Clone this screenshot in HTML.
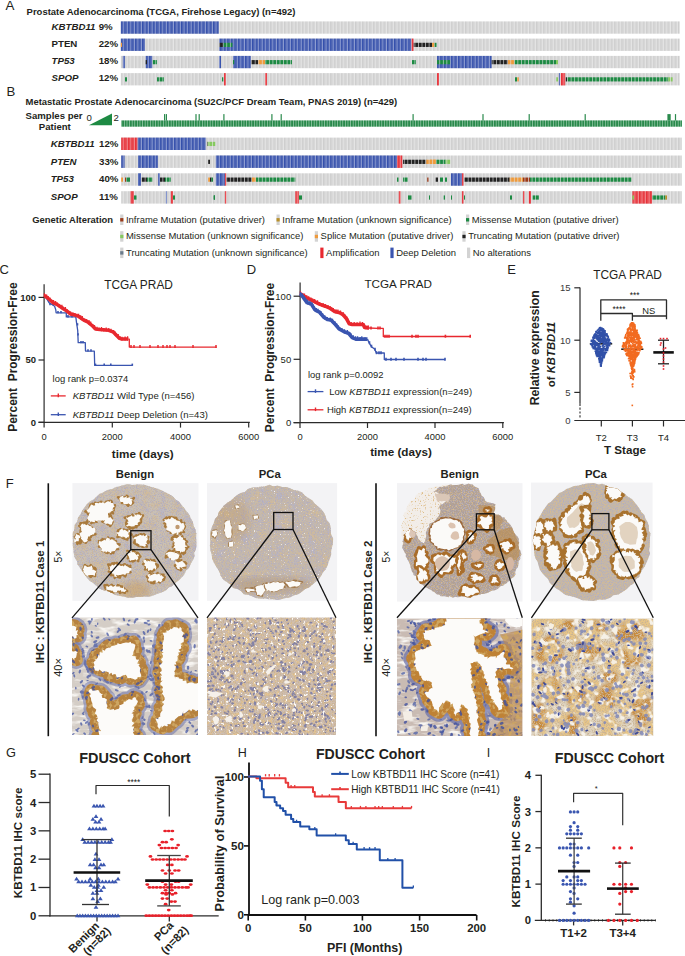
<!DOCTYPE html>
<html><head><meta charset="utf-8"><style>
html,body{margin:0;padding:0;background:#fff;width:685px;height:956px;overflow:hidden}
svg text{font-family:"Liberation Sans", sans-serif}
</style></head><body>
<svg width="685" height="956" viewBox="0 0 685 956" style="display:block" font-family='"Liberation Sans", sans-serif'>
<defs>
<pattern id="gstripe" width="3.55" height="20" patternUnits="userSpaceOnUse"><rect width="3.55" height="20" fill="#cecece"/><rect x="1.1" width="1.6" height="20" fill="#d8d8d8"/><rect x="2.95" width="0.6" height="20" fill="#f0f0f0"/></pattern>
<pattern id="bstripe" width="3.55" height="20" patternUnits="userSpaceOnUse"><rect width="3.55" height="20" fill="#3450ac"/><rect x="1.1" width="1.6" height="20" fill="#5369b6"/><rect x="2.95" width="0.6" height="20" fill="#b8c2e4"/></pattern>
<pattern id="rstripe" width="3.55" height="20" patternUnits="userSpaceOnUse"><rect width="3.55" height="20" fill="#e62e36"/><rect x="1.1" width="1.6" height="20" fill="#ea5056"/><rect x="2.95" width="0.6" height="20" fill="#f6b4b6"/></pattern>
<pattern id="mgreen" width="3.55" height="20" patternUnits="userSpaceOnUse"><rect width="3.55" height="20" fill="#1d8a43"/><rect x="2.95" width="0.6" height="20" fill="#e6e6e6"/></pattern>
<pattern id="mlgreen" width="3.55" height="20" patternUnits="userSpaceOnUse"><rect width="3.55" height="20" fill="#86c95f"/><rect x="2.95" width="0.6" height="20" fill="#e6e6e6"/></pattern>
<pattern id="mblack" width="3.55" height="20" patternUnits="userSpaceOnUse"><rect width="3.55" height="20" fill="#222222"/><rect x="2.95" width="0.6" height="20" fill="#e6e6e6"/></pattern>
<pattern id="morange" width="3.55" height="20" patternUnits="userSpaceOnUse"><rect width="3.55" height="20" fill="#ee9a3c"/><rect x="2.95" width="0.6" height="20" fill="#e6e6e6"/></pattern>
<pattern id="mdred" width="3.55" height="20" patternUnits="userSpaceOnUse"><rect width="3.55" height="20" fill="#9a3a1a"/><rect x="2.95" width="0.6" height="20" fill="#e6e6e6"/></pattern>
<pattern id="molive" width="3.55" height="20" patternUnits="userSpaceOnUse"><rect width="3.55" height="20" fill="#b8902a"/><rect x="2.95" width="0.6" height="20" fill="#e6e6e6"/></pattern>
<pattern id="sstripe" width="2.6" height="20" patternUnits="userSpaceOnUse"><rect width="2.6" height="20" fill="#2a8a4c"/><rect x="1.9" width="0.7" height="20" fill="#9fcfb0"/></pattern>

<filter id="fGrain" x="0" y="0" width="100%" height="100%"><feTurbulence type="fractalNoise" baseFrequency="0.9" numOctaves="2" seed="4"/><feColorMatrix type="matrix" values="0 0 0 0 0.6  0 0 0 0 0.46  0 0 0 0 0.3  4.5 0 0 0 -2.05"/><feComposite in2="SourceGraphic" operator="in"/></filter>
<filter id="fBlue" x="0" y="0" width="100%" height="100%"><feTurbulence type="fractalNoise" baseFrequency="0.85" numOctaves="2" seed="11"/><feColorMatrix type="matrix" values="0 0 0 0 0.42  0 0 0 0 0.4  0 0 0 0 0.56  0 4.5 0 0 -2.1"/><feComposite in2="SourceGraphic" operator="in"/></filter>
<filter id="fWhiteS" x="0" y="0" width="100%" height="100%"><feTurbulence type="fractalNoise" baseFrequency="0.7" numOctaves="2" seed="22"/><feColorMatrix type="matrix" values="0 0 0 0 0.96  0 0 0 0 0.95  0 0 0 0 0.94  0 0 6 0 -4.15"/><feComposite in2="SourceGraphic" operator="in"/></filter>
<filter id="fBrown2" x="0" y="0" width="100%" height="100%"><feTurbulence type="fractalNoise" baseFrequency="0.75" numOctaves="2" seed="5"/><feColorMatrix type="matrix" values="0 0 0 0 0.7  0 0 0 0 0.5  0 0 0 0 0.26  3.5 0 0 0 -1.65"/><feComposite in2="SourceGraphic" operator="in"/></filter>
<filter id="fBrownL" x="0" y="0" width="100%" height="100%"><feTurbulence type="fractalNoise" baseFrequency="0.3" numOctaves="2" seed="8"/><feColorMatrix type="matrix" values="0 0 0 0 0.78  0 0 0 0 0.55  0 0 0 0 0.28  5 0 0 0 -2.45"/><feComposite in2="SourceGraphic" operator="in"/></filter>
<filter id="fWhite" x="0" y="0" width="100%" height="100%"><feTurbulence type="fractalNoise" baseFrequency="0.35" numOctaves="2" seed="21"/><feColorMatrix type="matrix" values="0 0 0 0 0.97  0 0 0 0 0.95  0 0 0 0 0.93  0 0 9 0 -5.6"/><feComposite in2="SourceGraphic" operator="in"/></filter>
<filter id="fStroma" x="0" y="0" width="100%" height="100%"><feTurbulence type="fractalNoise" baseFrequency="0.06 0.2" numOctaves="3" seed="9"/><feColorMatrix type="matrix" values="0 0 0 0 0.93  0 0 0 0 0.91  0 0 0 0 0.88  4 0 0 0 -1.9"/><feComposite in2="SourceGraphic" operator="in"/></filter>
<filter id="fEpi" x="0" y="0" width="100%" height="100%"><feTurbulence type="fractalNoise" baseFrequency="0.25" numOctaves="2" seed="19"/><feColorMatrix type="matrix" values="0 0 0 0 0.62  0 0 0 0 0.38  0 0 0 0 0.12  6 0 0 0 -3.0"/><feComposite in2="SourceGraphic" operator="in"/></filter>
<filter id="fOrange" x="0" y="0" width="100%" height="100%"><feTurbulence type="fractalNoise" baseFrequency="0.07" numOctaves="3" seed="25"/><feColorMatrix type="matrix" values="0 0 0 0 0.8  0 0 0 0 0.56  0 0 0 0 0.24  6 0 0 0 -2.7"/><feComposite in2="SourceGraphic" operator="in"/></filter>
<filter id="fCream" x="0" y="0" width="100%" height="100%"><feTurbulence type="fractalNoise" baseFrequency="0.15" numOctaves="2" seed="29"/><feColorMatrix type="matrix" values="0 0 0 0 0.92  0 0 0 0 0.88  0 0 0 0 0.8  0 0 6 0 -3.2"/><feComposite in2="SourceGraphic" operator="in"/></filter>
<filter id="fFrag" x="0" y="0" width="100%" height="100%"><feTurbulence type="fractalNoise" baseFrequency="0.6" numOctaves="2" seed="41"/><feColorMatrix type="matrix" values="0 0 0 0 0.72  0 0 0 0 0.5  0 0 0 0 0.24  5 0 0 0 -3.0"/><feComposite in2="SourceGraphic" operator="in"/></filter>
<filter id="fGrain2" x="0" y="0" width="100%" height="100%"><feTurbulence type="fractalNoise" baseFrequency="0.9" numOctaves="2" seed="4"/><feColorMatrix type="matrix" values="0 0 0 0 0.6  0 0 0 0 0.47  0 0 0 0 0.33  4.5 0 0 0 -2.2"/><feComposite in2="SourceGraphic" operator="in"/></filter>
<filter id="fPatchB" x="0" y="0" width="100%" height="100%"><feTurbulence type="fractalNoise" baseFrequency="0.1" numOctaves="3" seed="51"/><feColorMatrix type="matrix" values="0 0 0 0 0.64  0 0 0 0 0.5  0 0 0 0 0.32  3.2 0 0 0 -1.55"/><feComposite in2="SourceGraphic" operator="in"/></filter>
<filter id="fPatchU" x="0" y="0" width="100%" height="100%"><feTurbulence type="fractalNoise" baseFrequency="0.12" numOctaves="3" seed="53"/><feColorMatrix type="matrix" values="0 0 0 0 0.46  0 0 0 0 0.45  0 0 0 0 0.58  0 3.0 0 0 -1.6"/><feComposite in2="SourceGraphic" operator="in"/></filter>
<filter id="fBlue2" x="0" y="0" width="100%" height="100%"><feTurbulence type="fractalNoise" baseFrequency="0.85" numOctaves="2" seed="12"/><feColorMatrix type="matrix" values="0 0 0 0 0.45  0 0 0 0 0.42  0 0 0 0 0.52  0 4 0 0 -1.95"/><feComposite in2="SourceGraphic" operator="in"/></filter>
<filter id="fBlueD" x="0" y="0" width="100%" height="100%"><feTurbulence type="fractalNoise" baseFrequency="0.3" numOctaves="2" seed="17"/><feColorMatrix type="matrix" values="0 0 0 0 0.3  0 0 0 0 0.34  0 0 0 0 0.62  0 8 0 0 -4.5"/><feComposite in2="SourceGraphic" operator="in"/></filter>
<filter id="fBlueL" x="0" y="0" width="100%" height="100%"><feTurbulence type="fractalNoise" baseFrequency="0.28" numOctaves="2" seed="13"/><feColorMatrix type="matrix" values="0 0 0 0 0.38  0 0 0 0 0.42  0 0 0 0 0.7  0 8 0 0 -4.4"/><feComposite in2="SourceGraphic" operator="in"/></filter>
<filter id="fBlur1" x="-10%" y="-10%" width="120%" height="120%"><feGaussianBlur stdDeviation="1.6"/></filter>
<filter id="fSoft" x="-2%" y="-2%" width="104%" height="104%"><feGaussianBlur stdDeviation="0.45"/></filter>
<filter id="fBlur"><feGaussianBlur stdDeviation="3"/></filter>
</defs>
<rect width="685" height="956" fill="#ffffff"/>
<text x="5.60" y="10.30" font-size="13.4" font-weight="normal" font-style="normal" text-anchor="start" fill="#231f20" >A</text>
<text x="26.60" y="15.00" font-size="9.47" font-weight="bold" font-style="normal" text-anchor="start" fill="#231f20" >Prostate Adenocarcinoma (TCGA, Firehose Legacy) (n=492)</text>
<text x="51.50" y="29.70" font-size="9.7" font-weight="bold" font-style="italic" text-anchor="start" fill="#231f20" >KBTBD11</text>
<text x="98.70" y="29.70" font-size="9.7" font-weight="bold" font-style="normal" text-anchor="start" fill="#231f20" >9%</text>
<text x="51.50" y="46.90" font-size="9.7" font-weight="bold" font-style="normal" text-anchor="start" fill="#231f20" >PTEN</text>
<text x="98.70" y="46.90" font-size="9.7" font-weight="bold" font-style="normal" text-anchor="start" fill="#231f20" >22%</text>
<text x="51.50" y="64.20" font-size="9.7" font-weight="bold" font-style="italic" text-anchor="start" fill="#231f20" >TP53</text>
<text x="98.70" y="64.20" font-size="9.7" font-weight="bold" font-style="normal" text-anchor="start" fill="#231f20" >18%</text>
<text x="51.50" y="81.40" font-size="9.7" font-weight="bold" font-style="italic" text-anchor="start" fill="#231f20" >SPOP</text>
<text x="98.70" y="81.40" font-size="9.7" font-weight="bold" font-style="normal" text-anchor="start" fill="#231f20" >12%</text>
<rect x="120.80" y="21.40" width="558.90" height="12.30" fill="url(#gstripe)" />
<rect x="120.80" y="21.40" width="98.00" height="12.30" fill="url(#bstripe)" />
<rect x="120.80" y="38.60" width="558.90" height="12.30" fill="url(#gstripe)" />
<rect x="120.80" y="38.60" width="24.20" height="12.30" fill="url(#bstripe)" />
<rect x="120.80" y="42.78" width="1.20" height="4.18" fill="#ee9a3c" />
<rect x="219.00" y="38.60" width="192.50" height="12.30" fill="url(#bstripe)" />
<rect x="219.00" y="42.78" width="4.30" height="4.18" fill="url(#mblack)" />
<rect x="223.30" y="42.78" width="9.10" height="4.18" fill="url(#mgreen)" />
<rect x="411.50" y="38.60" width="2.00" height="12.30" fill="url(#rstripe)" />
<rect x="413.70" y="42.78" width="18.40" height="4.18" fill="url(#mblack)" />
<rect x="432.10" y="42.78" width="2.10" height="4.18" fill="#ee9a3c" />
<rect x="434.70" y="42.78" width="1.80" height="4.18" fill="#1d8a43" />
<rect x="120.80" y="55.90" width="558.90" height="12.30" fill="url(#gstripe)" />
<rect x="122.80" y="55.90" width="2.10" height="12.30" fill="url(#bstripe)" />
<rect x="145.70" y="55.90" width="6.60" height="12.30" fill="url(#bstripe)" />
<rect x="145.70" y="60.08" width="1.30" height="4.18" fill="#222222" />
<rect x="152.70" y="60.08" width="4.30" height="4.18" fill="url(#mgreen)" />
<rect x="219.00" y="55.90" width="2.00" height="12.30" fill="url(#bstripe)" />
<rect x="233.00" y="55.90" width="17.80" height="12.30" fill="url(#bstripe)" />
<rect x="233.00" y="60.08" width="1.20" height="4.18" fill="#1d8a43" />
<rect x="251.00" y="60.08" width="7.00" height="4.18" fill="url(#mblack)" />
<rect x="258.00" y="60.08" width="7.00" height="4.18" fill="url(#morange)" />
<rect x="265.00" y="60.08" width="27.00" height="4.18" fill="url(#mgreen)" />
<rect x="412.00" y="60.08" width="4.00" height="4.18" fill="url(#mgreen)" />
<rect x="437.00" y="55.90" width="54.70" height="12.30" fill="url(#bstripe)" />
<rect x="437.00" y="60.08" width="13.30" height="4.18" fill="url(#mgreen)" />
<rect x="491.70" y="60.08" width="16.10" height="4.18" fill="url(#mblack)" />
<rect x="507.80" y="60.08" width="6.70" height="4.18" fill="url(#morange)" />
<rect x="514.50" y="60.08" width="41.50" height="4.18" fill="url(#mgreen)" />
<rect x="556.00" y="60.08" width="2.00" height="4.18" fill="#86c95f" />
<rect x="120.80" y="73.10" width="558.90" height="12.30" fill="url(#gstripe)" />
<rect x="125.00" y="77.28" width="2.00" height="4.18" fill="#1d8a43" />
<rect x="157.00" y="77.28" width="7.00" height="4.18" fill="url(#mgreen)" />
<rect x="222.00" y="77.28" width="1.30" height="4.18" fill="#1d8a43" />
<rect x="224.00" y="73.10" width="1.80" height="12.30" fill="url(#rstripe)" />
<rect x="265.00" y="73.10" width="2.00" height="12.30" fill="url(#rstripe)" />
<rect x="437.00" y="73.10" width="2.00" height="12.30" fill="url(#rstripe)" />
<rect x="515.00" y="77.28" width="2.00" height="4.18" fill="#1d8a43" />
<rect x="517.30" y="77.28" width="1.50" height="4.18" fill="#ee9a3c" />
<rect x="556.30" y="77.28" width="1.70" height="4.18" fill="#86c95f" />
<rect x="558.90" y="73.10" width="1.00" height="12.30" fill="url(#bstripe)" />
<rect x="560.80" y="73.10" width="4.40" height="12.30" fill="url(#rstripe)" />
<rect x="565.80" y="77.28" width="1.20" height="4.18" fill="#222222" />
<rect x="567.00" y="77.28" width="101.30" height="4.18" fill="url(#mgreen)" />
<rect x="668.30" y="77.28" width="4.30" height="4.18" fill="url(#mlgreen)" />
<text x="6.60" y="95.60" font-size="13.2" font-weight="normal" font-style="normal" text-anchor="start" fill="#231f20" >B</text>
<text x="25.50" y="104.80" font-size="9.47" font-weight="bold" font-style="normal" text-anchor="start" fill="#231f20" >Metastatic Prostate Adenocarcinoma (SU2C/PCF Dream Team, PNAS 2019) (n=429)</text>
<text x="25.50" y="118.70" font-size="9.6" font-weight="bold" font-style="normal" text-anchor="start" fill="#231f20" >Samples per</text>
<text x="38.80" y="129.60" font-size="9.6" font-weight="bold" font-style="normal" text-anchor="start" fill="#231f20" >Patient</text>
<text x="86.50" y="120.80" font-size="9.6" font-weight="normal" font-style="normal" text-anchor="start" fill="#231f20" >0</text>
<polygon points="88.9,125.3 112,125.3 112,113.6" fill="#1d8a43"/>
<text x="113.40" y="120.80" font-size="9.6" font-weight="normal" font-style="normal" text-anchor="start" fill="#231f20" >2</text>
<rect x="121.20" y="120.40" width="560.80" height="6.30" fill="url(#sstripe)" />
<rect x="164.00" y="114.10" width="1.20" height="6.50" fill="#2a8a4c" />
<rect x="165.80" y="114.10" width="1.20" height="6.50" fill="#2a8a4c" />
<rect x="195.40" y="114.10" width="1.20" height="6.50" fill="#2a8a4c" />
<rect x="198.60" y="114.10" width="1.20" height="6.50" fill="#2a8a4c" />
<rect x="223.30" y="114.10" width="1.20" height="6.50" fill="#2a8a4c" />
<rect x="271.30" y="114.10" width="1.20" height="6.50" fill="#2a8a4c" />
<rect x="280.60" y="114.10" width="1.20" height="6.50" fill="#2a8a4c" />
<rect x="412.50" y="114.10" width="1.20" height="6.50" fill="#2a8a4c" />
<rect x="482.40" y="114.10" width="1.20" height="6.50" fill="#2a8a4c" />
<rect x="528.60" y="114.10" width="1.20" height="6.50" fill="#2a8a4c" />
<rect x="584.60" y="114.10" width="1.20" height="6.50" fill="#2a8a4c" />
<rect x="667.40" y="114.10" width="3.30" height="6.50" fill="#2a8a4c" />
<rect x="674.90" y="114.10" width="1.20" height="6.50" fill="#2a8a4c" />
<text x="50.70" y="146.70" font-size="9.7" font-weight="bold" font-style="italic" text-anchor="start" fill="#231f20" >KBTBD11</text>
<text x="99.10" y="146.70" font-size="9.7" font-weight="bold" font-style="normal" text-anchor="start" fill="#231f20" >12%</text>
<text x="50.70" y="164.60" font-size="9.7" font-weight="bold" font-style="italic" text-anchor="start" fill="#231f20" >PTEN</text>
<text x="99.10" y="164.60" font-size="9.7" font-weight="bold" font-style="normal" text-anchor="start" fill="#231f20" >33%</text>
<text x="50.70" y="182.40" font-size="9.7" font-weight="bold" font-style="italic" text-anchor="start" fill="#231f20" >TP53</text>
<text x="99.10" y="182.40" font-size="9.7" font-weight="bold" font-style="normal" text-anchor="start" fill="#231f20" >40%</text>
<text x="50.70" y="200.30" font-size="9.7" font-weight="bold" font-style="italic" text-anchor="start" fill="#231f20" >SPOP</text>
<text x="99.10" y="200.30" font-size="9.7" font-weight="bold" font-style="normal" text-anchor="start" fill="#231f20" >11%</text>
<rect x="121.20" y="137.60" width="560.80" height="12.40" fill="url(#gstripe)" />
<rect x="121.20" y="137.60" width="16.50" height="12.40" fill="url(#rstripe)" />
<rect x="137.70" y="137.60" width="68.30" height="12.40" fill="url(#bstripe)" />
<rect x="207.30" y="141.82" width="0.50" height="4.22" fill="#222222" />
<rect x="207.80" y="141.82" width="7.50" height="4.22" fill="url(#mlgreen)" />
<rect x="121.20" y="155.50" width="560.80" height="12.40" fill="url(#gstripe)" />
<rect x="121.20" y="155.50" width="3.40" height="12.40" fill="url(#bstripe)" />
<rect x="138.00" y="155.50" width="19.90" height="12.40" fill="url(#bstripe)" />
<rect x="208.20" y="159.72" width="1.80" height="4.22" fill="#222222" />
<rect x="215.80" y="155.50" width="181.20" height="12.40" fill="url(#bstripe)" />
<rect x="397.00" y="155.50" width="5.30" height="12.40" fill="url(#rstripe)" />
<rect x="403.00" y="159.72" width="23.30" height="4.22" fill="url(#mblack)" />
<rect x="426.30" y="159.72" width="9.70" height="4.22" fill="url(#morange)" />
<rect x="430.00" y="159.72" width="6.00" height="4.22" fill="url(#morange)" />
<rect x="436.00" y="159.72" width="9.60" height="4.22" fill="url(#mgreen)" />
<rect x="445.60" y="159.72" width="4.70" height="4.22" fill="url(#mlgreen)" />
<rect x="121.20" y="173.30" width="560.80" height="12.40" fill="url(#gstripe)" />
<rect x="121.20" y="177.52" width="1.80" height="4.22" fill="#ee9a3c" />
<rect x="125.00" y="177.52" width="1.00" height="4.22" fill="#9a3a1a" />
<rect x="126.50" y="177.52" width="3.50" height="4.22" fill="#1d8a43" />
<rect x="138.00" y="173.30" width="3.00" height="12.40" fill="url(#bstripe)" />
<rect x="141.50" y="177.52" width="5.50" height="4.22" fill="url(#mblack)" />
<rect x="147.00" y="177.52" width="5.50" height="4.22" fill="url(#mgreen)" />
<rect x="158.00" y="173.30" width="2.00" height="12.40" fill="url(#bstripe)" />
<rect x="160.00" y="177.52" width="5.00" height="4.22" fill="url(#mblack)" />
<rect x="165.00" y="177.52" width="6.00" height="4.22" fill="url(#mgreen)" />
<rect x="208.20" y="177.52" width="1.80" height="4.22" fill="#ee9a3c" />
<rect x="210.00" y="177.52" width="1.50" height="4.22" fill="#222222" />
<rect x="211.50" y="177.52" width="1.50" height="4.22" fill="#1d8a43" />
<rect x="215.80" y="173.30" width="9.10" height="12.40" fill="url(#bstripe)" />
<rect x="224.90" y="173.30" width="1.40" height="12.40" fill="url(#rstripe)" />
<rect x="226.30" y="177.52" width="25.70" height="4.22" fill="url(#mblack)" />
<rect x="252.00" y="177.52" width="4.00" height="4.22" fill="url(#morange)" />
<rect x="256.00" y="177.52" width="39.30" height="4.22" fill="url(#mgreen)" />
<rect x="397.00" y="177.52" width="1.50" height="4.22" fill="#1d8a43" />
<rect x="403.00" y="177.52" width="5.00" height="4.22" fill="url(#mgreen)" />
<rect x="427.20" y="177.52" width="1.30" height="4.22" fill="#9a3a1a" />
<rect x="435.70" y="177.52" width="2.30" height="4.22" fill="#222222" />
<rect x="440.00" y="177.52" width="3.00" height="4.22" fill="#1d8a43" />
<rect x="445.00" y="177.52" width="2.00" height="4.22" fill="#1d8a43" />
<rect x="450.90" y="173.30" width="11.00" height="12.40" fill="url(#bstripe)" />
<rect x="461.90" y="173.30" width="1.60" height="12.40" fill="url(#rstripe)" />
<rect x="464.00" y="177.52" width="45.70" height="4.22" fill="url(#mblack)" />
<rect x="509.70" y="177.52" width="13.30" height="4.22" fill="url(#morange)" />
<rect x="523.00" y="177.52" width="7.00" height="4.22" fill="url(#mdred)" />
<rect x="530.00" y="177.52" width="101.80" height="4.22" fill="url(#mgreen)" />
<rect x="121.20" y="191.20" width="560.80" height="12.40" fill="url(#gstripe)" />
<rect x="130.40" y="191.20" width="3.40" height="12.40" fill="url(#rstripe)" />
<rect x="134.00" y="195.42" width="2.50" height="4.22" fill="#1d8a43" />
<rect x="165.90" y="191.20" width="1.10" height="12.40" fill="url(#bstripe)" />
<rect x="170.80" y="191.20" width="2.20" height="12.40" fill="url(#rstripe)" />
<rect x="173.00" y="195.42" width="2.00" height="4.22" fill="#1d8a43" />
<rect x="213.60" y="195.42" width="1.40" height="4.22" fill="#1d8a43" />
<rect x="213.90" y="195.42" width="1.10" height="4.22" fill="#1d8a43" />
<rect x="224.90" y="191.20" width="1.40" height="12.40" fill="url(#rstripe)" />
<rect x="295.30" y="191.20" width="3.50" height="12.40" fill="url(#rstripe)" />
<rect x="299.00" y="195.42" width="3.00" height="4.22" fill="#1d8a43" />
<rect x="398.80" y="191.20" width="1.90" height="12.40" fill="url(#rstripe)" />
<rect x="408.00" y="195.42" width="3.50" height="4.22" fill="#1d8a43" />
<rect x="429.00" y="195.42" width="1.00" height="4.22" fill="#1d8a43" />
<rect x="443.70" y="195.42" width="1.30" height="4.22" fill="#1d8a43" />
<rect x="451.00" y="195.42" width="1.00" height="4.22" fill="#1d8a43" />
<rect x="461.90" y="191.20" width="1.60" height="12.40" fill="url(#rstripe)" />
<rect x="464.00" y="195.42" width="1.00" height="4.22" fill="#1d8a43" />
<rect x="510.00" y="195.42" width="2.00" height="4.22" fill="#1d8a43" />
<rect x="523.00" y="191.20" width="1.50" height="12.40" fill="url(#rstripe)" />
<rect x="528.70" y="191.20" width="2.30" height="12.40" fill="url(#rstripe)" />
<rect x="532.50" y="195.42" width="6.50" height="4.22" fill="url(#mgreen)" />
<rect x="632.40" y="191.20" width="19.70" height="12.40" fill="url(#rstripe)" />
<rect x="632.40" y="195.42" width="1.60" height="4.22" fill="#86c95f" />
<rect x="652.10" y="195.42" width="13.20" height="4.22" fill="url(#mgreen)" />
<rect x="665.30" y="195.42" width="1.70" height="4.22" fill="#b8902a" />
<text x="32.20" y="222.50" font-size="9.45" font-weight="bold" font-style="normal" text-anchor="start" fill="#231f20" >Genetic Alteration</text>
<rect x="120.20" y="214.50" width="3.20" height="10.50" fill="#d3d3d3" />
<rect x="120.20" y="218.10" width="3.20" height="3.40" fill="#9a3a1a" />
<text x="126.00" y="222.50" font-size="9.45" font-weight="normal" font-style="normal" text-anchor="start" fill="#231f20" >Inframe Mutation (putative driver)</text>
<rect x="276.50" y="214.50" width="3.20" height="10.50" fill="#d3d3d3" />
<rect x="276.50" y="218.10" width="3.20" height="3.40" fill="#b8902a" />
<text x="282.30" y="222.50" font-size="9.45" font-weight="normal" font-style="normal" text-anchor="start" fill="#231f20" >Inframe Mutation (unknown significance)</text>
<rect x="466.00" y="214.50" width="3.20" height="10.50" fill="#d3d3d3" />
<rect x="466.00" y="218.10" width="3.20" height="3.40" fill="#1d8a43" />
<text x="471.80" y="222.50" font-size="9.45" font-weight="normal" font-style="normal" text-anchor="start" fill="#231f20" >Missense Mutation (putative driver)</text>
<rect x="120.20" y="231.20" width="3.20" height="10.50" fill="#d3d3d3" />
<rect x="120.20" y="234.80" width="3.20" height="3.40" fill="#86c95f" />
<text x="126.00" y="239.20" font-size="9.45" font-weight="normal" font-style="normal" text-anchor="start" fill="#231f20" >Missense Mutation (unknown significance)</text>
<rect x="314.80" y="231.20" width="3.20" height="10.50" fill="#d3d3d3" />
<rect x="314.80" y="234.80" width="3.20" height="3.40" fill="#ee9a3c" />
<text x="320.60" y="239.20" font-size="9.45" font-weight="normal" font-style="normal" text-anchor="start" fill="#231f20" >Splice Mutation (putative driver)</text>
<rect x="462.40" y="231.20" width="3.20" height="10.50" fill="#d3d3d3" />
<rect x="462.40" y="234.80" width="3.20" height="3.40" fill="#222222" />
<text x="468.20" y="239.20" font-size="9.45" font-weight="normal" font-style="normal" text-anchor="start" fill="#231f20" >Truncating Mutation (putative driver)</text>
<rect x="120.20" y="247.60" width="3.20" height="10.50" fill="#d3d3d3" />
<rect x="120.20" y="251.20" width="3.20" height="3.40" fill="#6a7a8a" />
<text x="126.00" y="255.60" font-size="9.45" font-weight="normal" font-style="normal" text-anchor="start" fill="#231f20" >Truncating Mutation (unknown significance)</text>
<rect x="320.30" y="247.60" width="3.20" height="10.50" fill="#e8282f" />
<text x="326.10" y="255.60" font-size="9.45" font-weight="normal" font-style="normal" text-anchor="start" fill="#231f20" >Amplification</text>
<rect x="390.40" y="247.60" width="3.20" height="10.50" fill="#3a55b0" />
<text x="396.20" y="255.60" font-size="9.45" font-weight="normal" font-style="normal" text-anchor="start" fill="#231f20" >Deep Deletion</text>
<rect x="467.00" y="247.60" width="3.20" height="10.50" fill="#d3d3d3" />
<text x="472.80" y="255.60" font-size="9.45" font-weight="normal" font-style="normal" text-anchor="start" fill="#231f20" >No alterations</text>
<text x="-0.40" y="274.30" font-size="13" font-weight="normal" font-style="normal" text-anchor="start" fill="#231f20" >C</text>
<line x1="44.10" y1="284.30" x2="44.10" y2="422.90" stroke="#2b2b2b" stroke-width="1.2" />
<line x1="38.50" y1="422.30" x2="249.80" y2="422.30" stroke="#2b2b2b" stroke-width="1.2" />
<line x1="38.50" y1="297.40" x2="44.10" y2="297.40" stroke="#2b2b2b" stroke-width="1.2" />
<text x="36.00" y="300.80" font-size="9.5" font-weight="bold" font-style="normal" text-anchor="end" fill="#231f20" >100</text>
<line x1="38.50" y1="360.00" x2="44.10" y2="360.00" stroke="#2b2b2b" stroke-width="1.2" />
<text x="36.00" y="363.40" font-size="9.5" font-weight="bold" font-style="normal" text-anchor="end" fill="#231f20" >50</text>
<line x1="38.50" y1="422.30" x2="44.10" y2="422.30" stroke="#2b2b2b" stroke-width="1.2" />
<text x="36.00" y="425.70" font-size="9.5" font-weight="bold" font-style="normal" text-anchor="end" fill="#231f20" >0</text>
<line x1="44.10" y1="422.30" x2="44.10" y2="427.60" stroke="#2b2b2b" stroke-width="1.2" />
<text x="44.10" y="439.70" font-size="9.4" font-weight="normal" font-style="normal" text-anchor="middle" fill="#231f20" >0</text>
<line x1="112.30" y1="422.30" x2="112.30" y2="427.60" stroke="#2b2b2b" stroke-width="1.2" />
<text x="112.30" y="439.70" font-size="9.4" font-weight="normal" font-style="normal" text-anchor="middle" fill="#231f20" >2000</text>
<line x1="180.50" y1="422.30" x2="180.50" y2="427.60" stroke="#2b2b2b" stroke-width="1.2" />
<text x="180.50" y="439.70" font-size="9.4" font-weight="normal" font-style="normal" text-anchor="middle" fill="#231f20" >4000</text>
<line x1="248.70" y1="422.30" x2="248.70" y2="427.60" stroke="#2b2b2b" stroke-width="1.2" />
<text x="248.70" y="439.70" font-size="9.4" font-weight="normal" font-style="normal" text-anchor="middle" fill="#231f20" >6000</text>
<text x="142.70" y="457.80" font-size="11.7" font-weight="bold" font-style="normal" text-anchor="middle" fill="#231f20" >time (days)</text>
<text transform="translate(17.40,357.10) rotate(-90)" font-size="11.94" font-weight="bold" text-anchor="middle" fill="#231f20" >Percent&#160;&#160;Progression-Free</text>
<text x="104.20" y="288.70" font-size="11.9" font-weight="normal" font-style="normal" text-anchor="start" fill="#231f20" >TCGA PRAD</text>
<text x="52.60" y="381.90" font-size="9.41" font-weight="normal" font-style="normal" text-anchor="start" fill="#231f20" >log rank p=0.0374</text>
<line x1="50.80" y1="395.90" x2="65.70" y2="395.90" stroke="#e8282f" stroke-width="1.3" />
<line x1="58.30" y1="393.60" x2="58.30" y2="397.20" stroke="#e8282f" stroke-width="1.4" />
<line x1="50.80" y1="414.70" x2="65.70" y2="414.70" stroke="#3a55b0" stroke-width="1.3" />
<line x1="58.30" y1="412.40" x2="58.30" y2="416.00" stroke="#3a55b0" stroke-width="1.4" />
<text x="72.7" y="399.4" font-size="9.54" fill="#231f20"><tspan font-style="italic">KBTBD11</tspan> Wild Type (n=456)</text>
<text x="72.7" y="418.2" font-size="9.54" fill="#231f20"><tspan font-style="italic">KBTBD11</tspan> Deep Deletion (n=43)</text>
<polyline points="44.40,296.00 47.30,299.70 49.00,302.60 52.40,304.80 54.60,306.20 55.80,309.90 56.10,312.80 66.30,312.80 66.30,316.90 75.80,316.90 76.50,322.30 77.70,330.30 78.20,342.70 85.30,342.70 85.50,351.10 94.30,351.10 94.70,365.40 132.30,365.40" fill="none" stroke="#3a55b0" stroke-width="1.3" stroke-linejoin="round" />
<line x1="50.00" y1="303.00" x2="50.00" y2="305.30" stroke="#3a55b0" stroke-width="1.6" />
<line x1="53.00" y1="303.00" x2="53.00" y2="305.30" stroke="#3a55b0" stroke-width="1.6" />
<line x1="58.00" y1="311.00" x2="58.00" y2="313.30" stroke="#3a55b0" stroke-width="1.6" />
<line x1="61.00" y1="311.00" x2="61.00" y2="313.30" stroke="#3a55b0" stroke-width="1.6" />
<line x1="68.00" y1="315.10" x2="68.00" y2="317.40" stroke="#3a55b0" stroke-width="1.6" />
<line x1="72.00" y1="315.10" x2="72.00" y2="317.40" stroke="#3a55b0" stroke-width="1.6" />
<line x1="77.50" y1="323.20" x2="77.50" y2="325.50" stroke="#3a55b0" stroke-width="1.6" />
<line x1="78.00" y1="333.20" x2="78.00" y2="335.50" stroke="#3a55b0" stroke-width="1.6" />
<line x1="81.00" y1="340.90" x2="81.00" y2="343.20" stroke="#3a55b0" stroke-width="1.6" />
<line x1="83.00" y1="340.90" x2="83.00" y2="343.20" stroke="#3a55b0" stroke-width="1.6" />
<line x1="88.00" y1="349.30" x2="88.00" y2="351.60" stroke="#3a55b0" stroke-width="1.6" />
<line x1="91.00" y1="349.30" x2="91.00" y2="351.60" stroke="#3a55b0" stroke-width="1.6" />
<line x1="95.50" y1="363.60" x2="95.50" y2="365.90" stroke="#3a55b0" stroke-width="1.6" />
<line x1="104.20" y1="363.60" x2="104.20" y2="365.90" stroke="#3a55b0" stroke-width="1.6" />
<line x1="110.80" y1="363.60" x2="110.80" y2="365.90" stroke="#3a55b0" stroke-width="1.6" />
<line x1="132.30" y1="363.60" x2="132.30" y2="365.90" stroke="#3a55b0" stroke-width="1.6" />
<polyline points="44.40,295.30 48.80,299.00 53.10,302.60 57.50,304.80 61.90,307.70 66.30,310.60 70.70,314.00 75.00,315.00 78.70,316.50 83.80,320.10 88.20,322.30 92.60,326.00 95.50,328.90 99.90,329.60 108.60,330.30 113.00,331.80 115.90,334.70 119.60,338.40 121.80,339.10 128.30,339.10" fill="none" stroke="#e8282f" stroke-width="3.5" stroke-linejoin="round" />
<path d="M44.4 293.3V296.8M46.6 294.5V298.7M48.2 296.1V300.0M50.0 297.4V301.5M52.1 299.9V303.3M53.5 300.0V304.3M55.6 301.1V305.3M57.1 302.3V306.1M59.4 304.0V307.5M61.9 304.8V309.2M63.3 306.8V310.2M65.4 307.1V311.5M67.2 309.2V312.8M69.0 310.9V314.2M70.6 311.6V315.4M72.9 312.4V316.0M74.9 312.9V316.5M77.1 313.7V317.3M78.6 313.7V318.0M80.7 315.3V319.4M82.3 316.0V320.5M84.7 318.6V322.1M86.7 318.9V323.0M89.0 320.0V324.4M90.7 321.6V325.9M92.7 324.0V327.6M94.5 325.0V329.4M97.0 326.7V330.6M99.5 327.7V331.0M101.5 327.0V331.2M103.8 327.9V331.4M106.2 327.5V331.6M108.8 328.1V331.9M111.0 328.7V332.6M113.5 329.9V333.8M115.1 331.5V335.4M116.3 333.3V336.6M118.2 334.0V338.5M120.2 336.3V340.1M122.0 336.7V340.6M125.1 336.4V340.6M127.6 336.3V340.6" stroke="#e8282f" stroke-width="1.3" fill="none"/>
<polyline points="128.30,339.10 129.30,339.10 129.30,347.10 216.60,347.10" fill="none" stroke="#e8282f" stroke-width="1.3" stroke-linejoin="round" />
<line x1="131.00" y1="345.00" x2="131.00" y2="348.00" stroke="#e8282f" stroke-width="1.5" />
<line x1="134.00" y1="345.00" x2="134.00" y2="348.00" stroke="#e8282f" stroke-width="1.5" />
<line x1="140.00" y1="345.00" x2="140.00" y2="348.00" stroke="#e8282f" stroke-width="1.5" />
<line x1="150.00" y1="345.00" x2="150.00" y2="348.00" stroke="#e8282f" stroke-width="1.5" />
<line x1="158.00" y1="345.00" x2="158.00" y2="348.00" stroke="#e8282f" stroke-width="1.5" />
<line x1="163.00" y1="345.00" x2="163.00" y2="348.00" stroke="#e8282f" stroke-width="1.5" />
<line x1="167.00" y1="345.00" x2="167.00" y2="348.00" stroke="#e8282f" stroke-width="1.5" />
<line x1="170.00" y1="345.00" x2="170.00" y2="348.00" stroke="#e8282f" stroke-width="1.5" />
<line x1="175.00" y1="345.00" x2="175.00" y2="348.00" stroke="#e8282f" stroke-width="1.5" />
<line x1="193.00" y1="345.00" x2="193.00" y2="348.00" stroke="#e8282f" stroke-width="1.5" />
<line x1="216.00" y1="345.00" x2="216.00" y2="348.00" stroke="#e8282f" stroke-width="1.5" />
<text x="246.70" y="274.30" font-size="13" font-weight="normal" font-style="normal" text-anchor="start" fill="#231f20" >D</text>
<line x1="300.10" y1="282.50" x2="300.10" y2="423.00" stroke="#2b2b2b" stroke-width="1.2" />
<line x1="293.60" y1="422.60" x2="503.90" y2="422.60" stroke="#2b2b2b" stroke-width="1.2" />
<line x1="293.60" y1="296.20" x2="300.10" y2="296.20" stroke="#2b2b2b" stroke-width="1.2" />
<text x="291.20" y="299.60" font-size="9.5" font-weight="normal" font-style="normal" text-anchor="end" fill="#231f20" >100</text>
<line x1="293.60" y1="359.30" x2="300.10" y2="359.30" stroke="#2b2b2b" stroke-width="1.2" />
<text x="291.20" y="362.70" font-size="9.5" font-weight="normal" font-style="normal" text-anchor="end" fill="#231f20" >50</text>
<line x1="293.60" y1="422.60" x2="300.10" y2="422.60" stroke="#2b2b2b" stroke-width="1.2" />
<text x="291.20" y="426.00" font-size="9.5" font-weight="normal" font-style="normal" text-anchor="end" fill="#231f20" >0</text>
<line x1="300.00" y1="422.60" x2="300.00" y2="428.00" stroke="#2b2b2b" stroke-width="1.2" />
<text x="300.00" y="439.70" font-size="9.4" font-weight="normal" font-style="normal" text-anchor="middle" fill="#231f20" >0</text>
<line x1="367.50" y1="422.60" x2="367.50" y2="428.00" stroke="#2b2b2b" stroke-width="1.2" />
<text x="367.50" y="439.70" font-size="9.4" font-weight="normal" font-style="normal" text-anchor="middle" fill="#231f20" >2000</text>
<line x1="435.00" y1="422.60" x2="435.00" y2="428.00" stroke="#2b2b2b" stroke-width="1.2" />
<text x="435.00" y="439.70" font-size="9.4" font-weight="normal" font-style="normal" text-anchor="middle" fill="#231f20" >4000</text>
<line x1="502.80" y1="422.60" x2="502.80" y2="428.00" stroke="#2b2b2b" stroke-width="1.2" />
<text x="502.80" y="439.70" font-size="9.4" font-weight="normal" font-style="normal" text-anchor="middle" fill="#231f20" >6000</text>
<text x="401.00" y="456.40" font-size="11.7" font-weight="bold" font-style="normal" text-anchor="middle" fill="#231f20" >time (days)</text>
<text transform="translate(274.20,357.50) rotate(-90)" font-size="11.94" font-weight="bold" text-anchor="middle" fill="#231f20" >Percent&#160;&#160;Progression-Free</text>
<text x="364.40" y="288.30" font-size="11.7" font-weight="normal" font-style="normal" text-anchor="start" fill="#231f20" >TCGA PRAD</text>
<text x="307.90" y="378.00" font-size="9.41" font-weight="normal" font-style="normal" text-anchor="start" fill="#231f20" >log rank p=0.0092</text>
<line x1="307.60" y1="391.60" x2="323.40" y2="391.60" stroke="#3a55b0" stroke-width="1.3" />
<line x1="315.50" y1="389.30" x2="315.50" y2="392.90" stroke="#3a55b0" stroke-width="1.4" />
<line x1="307.60" y1="409.80" x2="323.40" y2="409.80" stroke="#e8282f" stroke-width="1.3" />
<line x1="315.50" y1="407.50" x2="315.50" y2="411.10" stroke="#e8282f" stroke-width="1.4" />
<text x="329.3" y="394.8" font-size="9.48" fill="#231f20">Low <tspan font-style="italic">KBTBD11</tspan> expression(n=249)</text>
<text x="326.9" y="413" font-size="9.48" fill="#231f20">High <tspan font-style="italic">KBTBD11</tspan> expression(n=249)</text>
<polyline points="300.40,293.80 306.20,297.50 313.50,301.10 319.40,304.10 325.20,306.20 330.30,308.40 334.70,311.40 339.80,312.80 343.40,315.00 346.40,318.70 349.30,323.80 352.20,324.50 363.20,324.50 364.60,327.40 369.00,328.00" fill="none" stroke="#e8282f" stroke-width="3.6" stroke-linejoin="round" />
<path d="M300.4 290.9V295.4M303.0 293.6V297.0M304.5 293.6V298.0M306.8 295.2V299.4M308.7 296.2V300.4M311.0 297.4V301.5M312.7 298.4V302.3M314.7 299.1V303.3M317.5 300.2V304.7M319.7 301.9V305.8M321.7 303.1V306.5M323.3 303.2V307.1M325.3 304.0V307.8M328.0 305.0V309.0M330.3 306.3V310.0M331.7 307.2V311.0M333.3 308.0V312.0M336.0 309.2V313.4M337.9 309.4V313.9M340.5 310.6V314.9M343.1 312.1V316.4M344.9 314.7V318.5M346.8 316.4V321.0M347.7 318.3V322.6M349.1 321.0V325.0M351.2 321.9V325.9M354.2 322.1V326.1M357.1 322.3V326.1M360.0 321.6V326.1M362.4 322.0V326.1M364.2 323.8V328.1M365.9 325.5V329.2M368.1 325.2V329.5" stroke="#e8282f" stroke-width="1.3" fill="none"/>
<polyline points="369.00,328.00 377.80,328.40 383.30,328.40 383.30,336.50 470.40,336.50" fill="none" stroke="#e8282f" stroke-width="1.3" stroke-linejoin="round" />
<line x1="371.00" y1="326.40" x2="371.00" y2="329.40" stroke="#e8282f" stroke-width="1.6" />
<line x1="378.00" y1="326.40" x2="378.00" y2="329.40" stroke="#e8282f" stroke-width="1.6" />
<line x1="380.00" y1="326.40" x2="380.00" y2="329.40" stroke="#e8282f" stroke-width="1.6" />
<line x1="385.00" y1="334.70" x2="385.00" y2="337.70" stroke="#e8282f" stroke-width="1.6" />
<line x1="387.00" y1="334.70" x2="387.00" y2="337.70" stroke="#e8282f" stroke-width="1.6" />
<line x1="389.00" y1="334.70" x2="389.00" y2="337.70" stroke="#e8282f" stroke-width="1.6" />
<line x1="412.00" y1="334.70" x2="412.00" y2="337.70" stroke="#e8282f" stroke-width="1.6" />
<line x1="416.00" y1="334.70" x2="416.00" y2="337.70" stroke="#e8282f" stroke-width="1.6" />
<line x1="418.00" y1="334.70" x2="418.00" y2="337.70" stroke="#e8282f" stroke-width="1.6" />
<line x1="445.40" y1="334.70" x2="445.40" y2="337.70" stroke="#e8282f" stroke-width="1.6" />
<line x1="470.20" y1="334.70" x2="470.20" y2="337.70" stroke="#e8282f" stroke-width="1.6" />
<polyline points="300.40,293.80 303.30,297.50 307.00,302.60 311.30,304.10 315.00,309.90 319.40,312.10 323.70,317.20 327.40,319.40 331.00,320.10 335.40,324.50 339.10,328.90 344.20,331.80 348.60,333.30 352.20,337.60 355.90,339.10 367.50,339.10" fill="none" stroke="#3a55b0" stroke-width="3.6" stroke-linejoin="round" />
<path d="M300.4 291.7V295.4M301.9 293.5V297.3M303.5 295.2V299.4M304.5 297.4V300.8M306.2 299.4V303.1M307.7 299.8V304.4M309.9 300.8V305.2M311.8 302.3V306.4M312.8 303.9V308.0M314.4 306.5V310.5M316.4 308.0V312.2M318.0 308.7V313.0M320.0 310.7V314.4M321.1 311.3V315.7M322.6 313.3V317.5M324.8 315.2V319.5M327.4 317.1V321.0M330.2 317.6V321.5M332.5 318.8V323.2M333.8 321.0V324.5M335.2 321.4V325.9M336.7 323.5V327.7M338.1 325.3V329.3M339.7 327.0V330.8M341.9 328.0V332.1M344.5 329.3V333.5M347.4 330.1V334.5M349.8 332.1V336.3M351.0 333.3V337.8M353.3 335.2V339.6M355.6 336.3V340.6M357.6 336.3V340.7M360.1 337.0V340.7M361.8 336.3V340.7M365.0 337.2V340.7" stroke="#3a55b0" stroke-width="1.3" fill="none"/>
<polyline points="367.50,339.10 369.00,342.70 371.20,346.40 374.80,349.30 376.30,353.00 380.70,353.00 384.30,353.00 384.30,359.50 445.10,359.50" fill="none" stroke="#3a55b0" stroke-width="1.3" stroke-linejoin="round" />
<line x1="369.50" y1="341.20" x2="369.50" y2="344.20" stroke="#3a55b0" stroke-width="1.6" />
<line x1="371.50" y1="344.70" x2="371.50" y2="347.70" stroke="#3a55b0" stroke-width="1.6" />
<line x1="375.00" y1="347.70" x2="375.00" y2="350.70" stroke="#3a55b0" stroke-width="1.6" />
<line x1="376.50" y1="351.20" x2="376.50" y2="354.20" stroke="#3a55b0" stroke-width="1.6" />
<line x1="379.00" y1="351.20" x2="379.00" y2="354.20" stroke="#3a55b0" stroke-width="1.6" />
<line x1="381.00" y1="351.20" x2="381.00" y2="354.20" stroke="#3a55b0" stroke-width="1.6" />
<line x1="386.00" y1="357.70" x2="386.00" y2="360.70" stroke="#3a55b0" stroke-width="1.6" />
<line x1="391.00" y1="357.70" x2="391.00" y2="360.70" stroke="#3a55b0" stroke-width="1.6" />
<line x1="396.00" y1="357.70" x2="396.00" y2="360.70" stroke="#3a55b0" stroke-width="1.6" />
<line x1="404.00" y1="357.70" x2="404.00" y2="360.70" stroke="#3a55b0" stroke-width="1.6" />
<line x1="418.00" y1="357.70" x2="418.00" y2="360.70" stroke="#3a55b0" stroke-width="1.6" />
<line x1="423.00" y1="357.70" x2="423.00" y2="360.70" stroke="#3a55b0" stroke-width="1.6" />
<line x1="426.00" y1="357.70" x2="426.00" y2="360.70" stroke="#3a55b0" stroke-width="1.6" />
<line x1="445.00" y1="357.70" x2="445.00" y2="360.70" stroke="#3a55b0" stroke-width="1.6" />
<text x="507.30" y="274.20" font-size="13" font-weight="normal" font-style="normal" text-anchor="start" fill="#231f20" >E</text>
<text x="627.60" y="279.10" font-size="11.9" font-weight="normal" font-style="normal" text-anchor="middle" fill="#231f20" >TCGA PRAD</text>
<line x1="580.00" y1="287.50" x2="580.00" y2="403.80" stroke="#2b2b2b" stroke-width="1.2" />
<line x1="580.00" y1="403.80" x2="580.00" y2="418.50" stroke="#2b2b2b" stroke-width="1.1" stroke-dasharray="2.2,1.6"/>
<line x1="574.30" y1="420.50" x2="685.00" y2="420.50" stroke="#2b2b2b" stroke-width="1.2" />
<line x1="574.30" y1="287.80" x2="580.00" y2="287.80" stroke="#2b2b2b" stroke-width="1.2" />
<text x="570.60" y="291.20" font-size="9.5" font-weight="normal" font-style="normal" text-anchor="end" fill="#3a3a3a" >15</text>
<line x1="574.30" y1="340.20" x2="580.00" y2="340.20" stroke="#2b2b2b" stroke-width="1.2" />
<text x="570.60" y="343.60" font-size="9.5" font-weight="normal" font-style="normal" text-anchor="end" fill="#3a3a3a" >10</text>
<line x1="574.30" y1="392.40" x2="580.00" y2="392.40" stroke="#2b2b2b" stroke-width="1.2" />
<text x="570.60" y="395.80" font-size="9.5" font-weight="normal" font-style="normal" text-anchor="end" fill="#3a3a3a" >5</text>
<text x="570.60" y="423.90" font-size="9.5" font-weight="normal" font-style="normal" text-anchor="end" fill="#3a3a3a" >0</text>
<line x1="601.30" y1="420.50" x2="601.30" y2="426.50" stroke="#2b2b2b" stroke-width="1.2" />
<text x="601.30" y="440.80" font-size="9.5" font-weight="normal" font-style="normal" text-anchor="middle" fill="#231f20" >T2</text>
<line x1="632.40" y1="420.50" x2="632.40" y2="426.50" stroke="#2b2b2b" stroke-width="1.2" />
<text x="632.40" y="440.80" font-size="9.5" font-weight="normal" font-style="normal" text-anchor="middle" fill="#231f20" >T3</text>
<line x1="663.50" y1="420.50" x2="663.50" y2="426.50" stroke="#2b2b2b" stroke-width="1.2" />
<text x="663.50" y="440.80" font-size="9.5" font-weight="normal" font-style="normal" text-anchor="middle" fill="#231f20" >T4</text>
<text x="625.00" y="454.30" font-size="11.6" font-weight="bold" font-style="normal" text-anchor="middle" fill="#231f20" >T Stage</text>
<text transform="translate(539.10,347.80) rotate(-90)" font-size="12.25" font-weight="bold" text-anchor="middle" fill="#231f20" >Relative expression</text>
<text transform="translate(555.1,354.6) rotate(-90)" font-size="11.3" font-weight="bold" text-anchor="middle" fill="#231f20">of <tspan font-style="italic">KBTBD11</tspan></text>
<polyline points="600.80,320.80 600.80,299.90 666.50,299.90 666.50,319.30" fill="none" stroke="#2b2b2b" stroke-width="1.3" stroke-linejoin="round" />
<polyline points="600.80,313.50 632.40,313.50 632.40,320.80" fill="none" stroke="#2b2b2b" stroke-width="1.3" stroke-linejoin="round" />
<polyline points="632.40,316.00 666.50,316.00" fill="none" stroke="#2b2b2b" stroke-width="1.3" stroke-linejoin="round" />
<text x="634.60" y="298.00" font-size="8.4" font-weight="normal" font-style="normal" text-anchor="middle" fill="#111" >***</text>
<text x="618.90" y="311.70" font-size="8.4" font-weight="normal" font-style="normal" text-anchor="middle" fill="#111" >****</text>
<text x="648.80" y="313.50" font-size="9.4" font-weight="normal" font-style="normal" text-anchor="middle" fill="#231f20" >NS</text>
<line x1="589.80" y1="343.80" x2="612.20" y2="343.80" stroke="#222" stroke-width="1.6" />
<line x1="621.20" y1="349.20" x2="643.40" y2="349.20" stroke="#222" stroke-width="1.6" />
<path fill="#3050a8" d="M600.0 356.5h1.6v1.6h-1.6zM605.5 344.2h1.6v1.6h-1.6zM603.0 330.4h1.6v1.6h-1.6zM590.2 343.6h1.6v1.6h-1.6zM594.8 344.1h1.6v1.6h-1.6zM600.2 327.9h1.6v1.6h-1.6zM593.1 335.1h1.6v1.6h-1.6zM599.9 335.3h1.6v1.6h-1.6zM595.7 335.8h1.6v1.6h-1.6zM591.1 344.6h1.6v1.6h-1.6zM605.6 351.7h1.6v1.6h-1.6zM599.4 360.2h1.6v1.6h-1.6zM606.9 338.5h1.6v1.6h-1.6zM596.6 349.7h1.6v1.6h-1.6zM598.1 357.8h1.6v1.6h-1.6zM602.6 348.1h1.6v1.6h-1.6zM600.2 341.3h1.6v1.6h-1.6zM599.3 357.1h1.6v1.6h-1.6zM592.1 345.8h1.6v1.6h-1.6zM595.6 349.8h1.6v1.6h-1.6zM602.4 356.8h1.6v1.6h-1.6zM606.9 335.8h1.6v1.6h-1.6zM596.8 349.2h1.6v1.6h-1.6zM598.8 346.9h1.6v1.6h-1.6zM600.1 348.9h1.6v1.6h-1.6zM597.3 345.6h1.6v1.6h-1.6zM601.7 347.7h1.6v1.6h-1.6zM595.0 344.6h1.6v1.6h-1.6zM604.7 333.6h1.6v1.6h-1.6zM601.7 358.5h1.6v1.6h-1.6zM595.1 353.0h1.6v1.6h-1.6zM602.0 336.4h1.6v1.6h-1.6zM593.4 340.1h1.6v1.6h-1.6zM596.4 347.3h1.6v1.6h-1.6zM598.4 354.5h1.6v1.6h-1.6zM598.0 345.2h1.6v1.6h-1.6zM592.1 343.1h1.6v1.6h-1.6zM604.6 334.9h1.6v1.6h-1.6zM598.7 327.5h1.6v1.6h-1.6zM601.7 354.7h1.6v1.6h-1.6zM597.2 353.1h1.6v1.6h-1.6zM602.4 346.8h1.6v1.6h-1.6zM596.2 342.1h1.6v1.6h-1.6zM597.6 351.3h1.6v1.6h-1.6zM596.6 338.6h1.6v1.6h-1.6zM590.0 342.9h1.6v1.6h-1.6zM601.0 361.0h1.6v1.6h-1.6zM597.5 346.5h1.6v1.6h-1.6zM599.0 334.7h1.6v1.6h-1.6zM602.3 334.3h1.6v1.6h-1.6zM596.9 338.2h1.6v1.6h-1.6zM599.4 327.4h1.6v1.6h-1.6zM603.4 339.9h1.6v1.6h-1.6zM603.6 340.1h1.6v1.6h-1.6zM593.6 335.9h1.6v1.6h-1.6zM601.5 335.0h1.6v1.6h-1.6zM599.3 359.5h1.6v1.6h-1.6zM601.8 338.1h1.6v1.6h-1.6zM595.6 332.0h1.6v1.6h-1.6zM601.9 328.2h1.6v1.6h-1.6zM605.5 340.0h1.6v1.6h-1.6zM594.3 341.4h1.6v1.6h-1.6zM603.2 329.9h1.6v1.6h-1.6zM605.4 344.6h1.6v1.6h-1.6zM600.8 359.0h1.6v1.6h-1.6zM603.4 330.3h1.6v1.6h-1.6zM602.6 328.3h1.6v1.6h-1.6zM593.3 343.1h1.6v1.6h-1.6zM593.8 336.1h1.6v1.6h-1.6zM599.6 338.2h1.6v1.6h-1.6zM595.7 330.6h1.6v1.6h-1.6zM599.1 338.2h1.6v1.6h-1.6zM607.6 338.9h1.6v1.6h-1.6zM601.2 331.0h1.6v1.6h-1.6zM597.7 353.5h1.6v1.6h-1.6zM596.1 347.8h1.6v1.6h-1.6zM604.0 329.9h1.6v1.6h-1.6zM602.7 344.2h1.6v1.6h-1.6zM596.7 338.7h1.6v1.6h-1.6zM600.8 338.5h1.6v1.6h-1.6zM596.5 349.3h1.6v1.6h-1.6zM598.5 327.5h1.6v1.6h-1.6zM593.7 348.2h1.6v1.6h-1.6zM603.4 351.5h1.6v1.6h-1.6zM594.0 345.9h1.6v1.6h-1.6zM592.9 346.3h1.6v1.6h-1.6zM600.3 363.7h1.6v1.6h-1.6zM600.3 339.2h1.6v1.6h-1.6zM600.7 362.6h1.6v1.6h-1.6zM601.9 327.9h1.6v1.6h-1.6zM599.4 353.6h1.6v1.6h-1.6zM602.0 332.9h1.6v1.6h-1.6zM607.5 336.6h1.6v1.6h-1.6zM597.0 344.4h1.6v1.6h-1.6zM602.4 336.8h1.6v1.6h-1.6zM591.1 343.0h1.6v1.6h-1.6zM592.6 340.5h1.6v1.6h-1.6zM598.3 336.8h1.6v1.6h-1.6zM594.4 342.3h1.6v1.6h-1.6zM599.0 346.2h1.6v1.6h-1.6zM599.7 336.0h1.6v1.6h-1.6zM600.9 335.5h1.6v1.6h-1.6zM592.3 337.4h1.6v1.6h-1.6zM602.9 329.5h1.6v1.6h-1.6zM600.6 361.1h1.6v1.6h-1.6zM600.8 359.8h1.6v1.6h-1.6zM602.8 355.4h1.6v1.6h-1.6zM596.5 349.0h1.6v1.6h-1.6zM603.8 335.2h1.6v1.6h-1.6zM600.1 354.7h1.6v1.6h-1.6zM594.3 333.1h1.6v1.6h-1.6zM604.9 351.2h1.6v1.6h-1.6zM600.3 364.1h1.6v1.6h-1.6zM603.9 354.0h1.6v1.6h-1.6zM598.1 358.0h1.6v1.6h-1.6zM607.7 339.4h1.6v1.6h-1.6zM600.1 364.1h1.6v1.6h-1.6zM595.8 342.6h1.6v1.6h-1.6zM592.1 336.4h1.6v1.6h-1.6zM593.5 334.1h1.6v1.6h-1.6zM604.0 351.2h1.6v1.6h-1.6zM600.6 334.8h1.6v1.6h-1.6zM595.8 337.4h1.6v1.6h-1.6zM605.4 348.0h1.6v1.6h-1.6zM591.9 341.6h1.6v1.6h-1.6zM601.3 358.2h1.6v1.6h-1.6zM600.8 332.0h1.6v1.6h-1.6zM597.4 338.8h1.6v1.6h-1.6zM599.1 347.3h1.6v1.6h-1.6zM598.1 344.2h1.6v1.6h-1.6zM597.9 345.9h1.6v1.6h-1.6zM596.8 334.7h1.6v1.6h-1.6zM601.1 359.2h1.6v1.6h-1.6zM600.4 333.3h1.6v1.6h-1.6zM597.8 340.7h1.6v1.6h-1.6zM607.2 343.3h1.6v1.6h-1.6zM605.4 349.5h1.6v1.6h-1.6zM601.8 355.9h1.6v1.6h-1.6zM601.5 351.7h1.6v1.6h-1.6zM602.8 342.6h1.6v1.6h-1.6zM604.1 340.3h1.6v1.6h-1.6zM592.0 345.6h1.6v1.6h-1.6zM598.7 346.6h1.6v1.6h-1.6zM590.5 340.6h1.6v1.6h-1.6zM601.8 353.6h1.6v1.6h-1.6zM596.3 350.3h1.6v1.6h-1.6zM598.8 361.3h1.6v1.6h-1.6zM604.8 341.1h1.6v1.6h-1.6zM602.7 333.3h1.6v1.6h-1.6zM600.6 358.5h1.6v1.6h-1.6zM595.0 335.8h1.6v1.6h-1.6zM608.8 339.6h1.6v1.6h-1.6zM599.2 351.0h1.6v1.6h-1.6zM595.4 334.1h1.6v1.6h-1.6zM600.3 350.3h1.6v1.6h-1.6zM602.4 332.1h1.6v1.6h-1.6zM594.8 340.8h1.6v1.6h-1.6zM598.1 338.6h1.6v1.6h-1.6zM594.6 345.9h1.6v1.6h-1.6zM598.7 361.4h1.6v1.6h-1.6zM592.6 340.1h1.6v1.6h-1.6zM599.1 353.7h1.6v1.6h-1.6zM594.3 346.0h1.6v1.6h-1.6zM599.4 335.7h1.6v1.6h-1.6zM603.0 349.3h1.6v1.6h-1.6zM607.8 339.6h1.6v1.6h-1.6zM600.3 365.5h1.6v1.6h-1.6zM599.6 360.1h1.6v1.6h-1.6zM605.5 342.3h1.6v1.6h-1.6zM600.5 327.3h1.6v1.6h-1.6zM597.6 328.9h1.6v1.6h-1.6zM607.5 344.8h1.6v1.6h-1.6zM601.7 328.1h1.6v1.6h-1.6zM597.9 328.4h1.6v1.6h-1.6zM601.2 330.3h1.6v1.6h-1.6zM609.8 341.9h1.6v1.6h-1.6zM595.0 351.7h1.6v1.6h-1.6zM601.2 340.3h1.6v1.6h-1.6zM597.6 347.1h1.6v1.6h-1.6zM607.8 342.8h1.6v1.6h-1.6zM604.3 343.2h1.6v1.6h-1.6zM603.5 356.0h1.6v1.6h-1.6zM602.0 328.8h1.6v1.6h-1.6zM608.8 345.0h1.6v1.6h-1.6zM598.0 344.0h1.6v1.6h-1.6zM599.0 330.0h1.6v1.6h-1.6zM597.0 355.3h1.6v1.6h-1.6zM599.7 360.1h1.6v1.6h-1.6zM597.3 336.3h1.6v1.6h-1.6zM608.8 339.9h1.6v1.6h-1.6zM602.1 349.5h1.6v1.6h-1.6zM603.6 354.1h1.6v1.6h-1.6zM598.4 359.1h1.6v1.6h-1.6zM591.8 341.1h1.6v1.6h-1.6zM591.1 340.2h1.6v1.6h-1.6zM597.3 338.9h1.6v1.6h-1.6zM600.0 339.4h1.6v1.6h-1.6zM606.6 347.2h1.6v1.6h-1.6zM591.9 339.4h1.6v1.6h-1.6zM600.1 358.0h1.6v1.6h-1.6zM603.3 355.8h1.6v1.6h-1.6zM599.6 351.8h1.6v1.6h-1.6zM602.4 333.2h1.6v1.6h-1.6zM603.1 333.9h1.6v1.6h-1.6zM600.3 328.7h1.6v1.6h-1.6zM596.0 337.1h1.6v1.6h-1.6zM595.1 351.4h1.6v1.6h-1.6zM604.1 351.8h1.6v1.6h-1.6zM601.3 327.6h1.6v1.6h-1.6zM603.4 354.4h1.6v1.6h-1.6zM604.5 353.0h1.6v1.6h-1.6zM604.0 336.7h1.6v1.6h-1.6zM599.9 356.7h1.6v1.6h-1.6zM606.2 342.4h1.6v1.6h-1.6zM604.8 349.5h1.6v1.6h-1.6zM596.3 344.6h1.6v1.6h-1.6zM596.4 353.7h1.6v1.6h-1.6zM604.4 338.5h1.6v1.6h-1.6zM600.4 349.0h1.6v1.6h-1.6zM606.9 347.8h1.6v1.6h-1.6zM596.0 342.6h1.6v1.6h-1.6zM601.6 338.5h1.6v1.6h-1.6zM606.1 333.1h1.6v1.6h-1.6zM599.0 355.4h1.6v1.6h-1.6zM608.3 342.4h1.6v1.6h-1.6zM606.1 341.7h1.6v1.6h-1.6zM599.6 341.2h1.6v1.6h-1.6zM592.6 339.8h1.6v1.6h-1.6zM590.5 340.5h1.6v1.6h-1.6zM604.6 333.4h1.6v1.6h-1.6zM606.7 349.7h1.6v1.6h-1.6zM603.9 336.8h1.6v1.6h-1.6zM602.6 353.7h1.6v1.6h-1.6zM599.8 345.6h1.6v1.6h-1.6zM604.1 330.3h1.6v1.6h-1.6zM596.2 335.6h1.6v1.6h-1.6zM607.1 342.3h1.6v1.6h-1.6zM604.3 330.2h1.6v1.6h-1.6zM597.7 348.1h1.6v1.6h-1.6zM599.2 330.7h1.6v1.6h-1.6zM597.6 352.9h1.6v1.6h-1.6zM605.0 337.6h1.6v1.6h-1.6zM598.9 353.1h1.6v1.6h-1.6zM600.1 352.8h1.6v1.6h-1.6zM600.8 362.0h1.6v1.6h-1.6zM603.9 330.8h1.6v1.6h-1.6zM598.8 334.5h1.6v1.6h-1.6zM606.9 338.0h1.6v1.6h-1.6zM603.9 347.9h1.6v1.6h-1.6zM590.6 339.8h1.6v1.6h-1.6zM599.0 337.1h1.6v1.6h-1.6zM603.1 335.6h1.6v1.6h-1.6zM593.7 342.8h1.6v1.6h-1.6zM606.7 348.6h1.6v1.6h-1.6zM594.5 347.5h1.6v1.6h-1.6zM604.0 342.8h1.6v1.6h-1.6zM597.8 337.1h1.6v1.6h-1.6zM601.9 345.1h1.6v1.6h-1.6zM595.8 353.8h1.6v1.6h-1.6zM602.7 339.4h1.6v1.6h-1.6zM596.9 339.0h1.6v1.6h-1.6zM597.4 331.7h1.6v1.6h-1.6zM601.7 330.1h1.6v1.6h-1.6zM596.1 348.7h1.6v1.6h-1.6zM605.4 334.5h1.6v1.6h-1.6zM590.3 343.2h1.6v1.6h-1.6zM592.5 338.6h1.6v1.6h-1.6zM607.3 335.5h1.6v1.6h-1.6zM600.4 340.0h1.6v1.6h-1.6zM598.6 327.6h1.6v1.6h-1.6zM602.9 336.5h1.6v1.6h-1.6zM601.2 328.3h1.6v1.6h-1.6zM597.8 330.7h1.6v1.6h-1.6zM597.8 328.6h1.6v1.6h-1.6zM602.9 342.3h1.6v1.6h-1.6zM596.4 336.1h1.6v1.6h-1.6zM607.3 346.8h1.6v1.6h-1.6zM602.8 340.4h1.6v1.6h-1.6zM600.3 353.2h1.6v1.6h-1.6zM598.5 348.7h1.6v1.6h-1.6zM600.1 348.1h1.6v1.6h-1.6zM599.2 333.5h1.6v1.6h-1.6zM596.5 348.0h1.6v1.6h-1.6zM598.5 347.4h1.6v1.6h-1.6zM601.5 330.7h1.6v1.6h-1.6zM605.2 347.9h1.6v1.6h-1.6zM600.8 327.9h1.6v1.6h-1.6zM601.6 359.8h1.6v1.6h-1.6zM592.1 341.6h1.6v1.6h-1.6zM602.2 350.1h1.6v1.6h-1.6zM607.9 341.5h1.6v1.6h-1.6zM601.8 344.6h1.6v1.6h-1.6zM598.2 343.2h1.6v1.6h-1.6zM599.6 350.3h1.6v1.6h-1.6zM599.6 326.7h1.6v1.6h-1.6zM598.4 332.1h1.6v1.6h-1.6zM595.9 336.3h1.6v1.6h-1.6zM595.1 348.6h1.6v1.6h-1.6zM597.2 338.9h1.6v1.6h-1.6zM599.6 356.8h1.6v1.6h-1.6zM606.5 341.4h1.6v1.6h-1.6zM602.6 343.9h1.6v1.6h-1.6zM602.8 346.9h1.6v1.6h-1.6zM600.4 361.5h1.6v1.6h-1.6zM603.7 345.7h1.6v1.6h-1.6zM600.4 364.7h1.6v1.6h-1.6zM593.3 341.6h1.6v1.6h-1.6zM598.6 354.6h1.6v1.6h-1.6zM599.8 357.3h1.6v1.6h-1.6zM603.9 345.9h1.6v1.6h-1.6zM600.6 334.3h1.6v1.6h-1.6zM599.5 359.5h1.6v1.6h-1.6zM595.9 330.9h1.6v1.6h-1.6zM602.2 333.8h1.6v1.6h-1.6zM598.0 357.8h1.6v1.6h-1.6zM599.9 363.6h1.6v1.6h-1.6zM604.8 351.4h1.6v1.6h-1.6zM592.4 347.7h1.6v1.6h-1.6zM605.3 340.1h1.6v1.6h-1.6zM600.2 333.5h1.6v1.6h-1.6zM608.7 343.4h1.6v1.6h-1.6zM600.4 353.6h1.6v1.6h-1.6zM593.9 336.4h1.6v1.6h-1.6zM600.7 351.8h1.6v1.6h-1.6zM605.4 351.7h1.6v1.6h-1.6zM607.1 336.0h1.6v1.6h-1.6zM598.5 338.9h1.6v1.6h-1.6zM600.3 354.3h1.6v1.6h-1.6zM598.4 344.2h1.6v1.6h-1.6zM598.6 333.2h1.6v1.6h-1.6zM601.3 340.7h1.6v1.6h-1.6zM598.0 351.0h1.6v1.6h-1.6zM598.3 332.3h1.6v1.6h-1.6zM594.0 337.6h1.6v1.6h-1.6zM596.7 331.8h1.6v1.6h-1.6zM605.2 334.4h1.6v1.6h-1.6zM598.5 349.2h1.6v1.6h-1.6zM594.1 334.3h1.6v1.6h-1.6zM601.5 357.4h1.6v1.6h-1.6zM601.9 341.6h1.6v1.6h-1.6zM595.4 331.7h1.6v1.6h-1.6zM596.6 336.1h1.6v1.6h-1.6zM594.5 340.6h1.6v1.6h-1.6zM600.3 354.4h1.6v1.6h-1.6zM597.0 334.8h1.6v1.6h-1.6zM597.0 350.7h1.6v1.6h-1.6zM608.4 339.0h1.6v1.6h-1.6zM604.2 351.2h1.6v1.6h-1.6zM596.6 351.4h1.6v1.6h-1.6zM606.8 346.5h1.6v1.6h-1.6zM592.4 341.7h1.6v1.6h-1.6zM595.7 354.6h1.6v1.6h-1.6zM602.7 331.4h1.6v1.6h-1.6zM602.3 341.4h1.6v1.6h-1.6zM602.9 337.1h1.6v1.6h-1.6zM598.5 356.7h1.6v1.6h-1.6zM599.5 331.8h1.6v1.6h-1.6zM601.8 328.4h1.6v1.6h-1.6zM600.4 362.1h1.6v1.6h-1.6zM599.7 328.4h1.6v1.6h-1.6zM600.3 334.1h1.6v1.6h-1.6zM605.3 334.4h1.6v1.6h-1.6zM594.0 344.6h1.6v1.6h-1.6zM600.0 337.8h1.6v1.6h-1.6zM606.3 342.2h1.6v1.6h-1.6zM599.4 342.1h1.6v1.6h-1.6zM596.4 343.3h1.6v1.6h-1.6zM604.1 332.5h1.6v1.6h-1.6zM604.9 337.5h1.6v1.6h-1.6zM603.2 357.0h1.6v1.6h-1.6zM595.1 331.1h1.6v1.6h-1.6zM602.8 341.1h1.6v1.6h-1.6zM601.8 349.4h1.6v1.6h-1.6zM591.6 346.2h1.6v1.6h-1.6zM596.5 333.0h1.6v1.6h-1.6zM599.0 361.6h1.6v1.6h-1.6zM606.0 339.1h1.6v1.6h-1.6zM594.5 350.4h1.6v1.6h-1.6zM601.8 348.2h1.6v1.6h-1.6zM603.4 329.6h1.6v1.6h-1.6zM596.4 337.1h1.6v1.6h-1.6zM597.6 355.0h1.6v1.6h-1.6zM604.1 337.5h1.6v1.6h-1.6zM608.5 338.5h1.6v1.6h-1.6zM599.1 358.8h1.6v1.6h-1.6zM598.5 331.9h1.6v1.6h-1.6zM598.6 355.9h1.6v1.6h-1.6zM594.8 334.4h1.6v1.6h-1.6zM596.9 349.6h1.6v1.6h-1.6zM606.4 334.4h1.6v1.6h-1.6zM603.6 354.9h1.6v1.6h-1.6zM600.2 328.0h1.6v1.6h-1.6zM599.9 334.9h1.6v1.6h-1.6zM603.1 341.2h1.6v1.6h-1.6zM602.6 334.3h1.6v1.6h-1.6zM590.5 343.3h1.6v1.6h-1.6zM600.5 327.5h1.6v1.6h-1.6zM596.9 343.6h1.6v1.6h-1.6zM601.6 329.6h1.6v1.6h-1.6zM599.7 348.2h1.6v1.6h-1.6zM603.5 353.2h1.6v1.6h-1.6zM606.3 344.3h1.6v1.6h-1.6zM600.6 353.0h1.6v1.6h-1.6zM601.7 336.8h1.6v1.6h-1.6zM602.3 328.5h1.6v1.6h-1.6zM603.1 335.8h1.6v1.6h-1.6zM599.3 351.1h1.6v1.6h-1.6zM603.2 351.7h1.6v1.6h-1.6zM596.3 355.6h1.6v1.6h-1.6zM605.5 339.9h1.6v1.6h-1.6zM598.6 360.6h1.6v1.6h-1.6zM602.1 351.9h1.6v1.6h-1.6zM602.4 354.0h1.6v1.6h-1.6zM597.7 346.4h1.6v1.6h-1.6zM600.5 338.2h1.6v1.6h-1.6zM592.1 344.7h1.6v1.6h-1.6zM601.6 350.4h1.6v1.6h-1.6zM595.4 336.2h1.6v1.6h-1.6zM603.2 338.7h1.6v1.6h-1.6zM600.2 327.9h1.6v1.6h-1.6zM601.5 339.1h1.6v1.6h-1.6zM596.1 338.1h1.6v1.6h-1.6zM599.0 327.1h1.6v1.6h-1.6zM606.4 345.9h1.6v1.6h-1.6zM591.9 341.2h1.6v1.6h-1.6zM594.0 346.8h1.6v1.6h-1.6zM596.8 329.4h1.6v1.6h-1.6zM600.3 329.3h1.6v1.6h-1.6zM590.6 339.7h1.6v1.6h-1.6zM597.0 334.9h1.6v1.6h-1.6zM596.0 348.2h1.6v1.6h-1.6zM599.3 336.0h1.6v1.6h-1.6zM590.8 339.6h1.6v1.6h-1.6zM603.5 333.9h1.6v1.6h-1.6zM606.0 335.2h1.6v1.6h-1.6zM601.0 360.9h1.6v1.6h-1.6zM597.5 332.6h1.6v1.6h-1.6zM598.9 340.1h1.6v1.6h-1.6zM602.5 331.3h1.6v1.6h-1.6zM598.9 358.4h1.6v1.6h-1.6zM595.9 336.5h1.6v1.6h-1.6zM598.6 328.0h1.6v1.6h-1.6zM607.4 340.3h1.6v1.6h-1.6zM603.9 352.4h1.6v1.6h-1.6zM594.7 341.8h1.6v1.6h-1.6zM603.0 331.1h1.6v1.6h-1.6zM599.7 356.1h1.6v1.6h-1.6zM599.4 340.4h1.6v1.6h-1.6zM598.9 327.4h1.6v1.6h-1.6zM599.6 354.4h1.6v1.6h-1.6zM595.0 351.2h1.6v1.6h-1.6zM601.8 350.6h1.6v1.6h-1.6zM600.9 338.8h1.6v1.6h-1.6zM600.3 329.4h1.6v1.6h-1.6zM606.3 334.2h1.6v1.6h-1.6zM606.0 346.5h1.6v1.6h-1.6zM596.0 352.7h1.6v1.6h-1.6zM599.7 363.7h1.6v1.6h-1.6zM605.0 334.9h1.6v1.6h-1.6zM597.4 339.5h1.6v1.6h-1.6zM596.3 353.9h1.6v1.6h-1.6zM604.3 332.0h1.6v1.6h-1.6zM597.9 332.2h1.6v1.6h-1.6zM605.7 347.8h1.6v1.6h-1.6zM600.2 349.4h1.6v1.6h-1.6zM591.6 340.6h1.6v1.6h-1.6zM594.8 334.7h1.6v1.6h-1.6zM598.0 334.8h1.6v1.6h-1.6zM600.7 328.6h1.6v1.6h-1.6zM601.0 334.4h1.6v1.6h-1.6zM599.8 365.1h1.6v1.6h-1.6zM592.1 345.4h1.6v1.6h-1.6zM592.6 341.0h1.6v1.6h-1.6zM601.8 329.4h1.6v1.6h-1.6zM598.8 349.0h1.6v1.6h-1.6zM601.2 329.5h1.6v1.6h-1.6zM598.8 360.2h1.6v1.6h-1.6zM606.3 339.5h1.6v1.6h-1.6zM599.8 336.5h1.6v1.6h-1.6zM599.2 351.4h1.6v1.6h-1.6z"/>
<path fill="#f26a1f" d="M633.4 324.6h1.6v1.6h-1.6zM633.2 337.6h1.6v1.6h-1.6zM630.5 351.6h1.6v1.6h-1.6zM640.5 342.0h1.6v1.6h-1.6zM622.4 344.6h1.6v1.6h-1.6zM637.8 338.1h1.6v1.6h-1.6zM626.9 348.8h1.6v1.6h-1.6zM630.3 322.9h1.6v1.6h-1.6zM635.2 356.4h1.6v1.6h-1.6zM633.8 362.4h1.6v1.6h-1.6zM631.3 345.5h1.6v1.6h-1.6zM632.8 364.5h1.6v1.6h-1.6zM629.5 359.0h1.6v1.6h-1.6zM626.1 338.4h1.6v1.6h-1.6zM634.3 347.7h1.6v1.6h-1.6zM627.4 352.0h1.6v1.6h-1.6zM633.7 348.1h1.6v1.6h-1.6zM626.3 331.6h1.6v1.6h-1.6zM628.6 355.3h1.6v1.6h-1.6zM631.5 366.8h1.6v1.6h-1.6zM630.7 365.7h1.6v1.6h-1.6zM630.5 358.6h1.6v1.6h-1.6zM626.9 330.6h1.6v1.6h-1.6zM631.7 370.9h1.6v1.6h-1.6zM632.5 322.8h1.6v1.6h-1.6zM633.5 329.8h1.6v1.6h-1.6zM640.3 341.6h1.6v1.6h-1.6zM629.9 329.5h1.6v1.6h-1.6zM626.7 353.4h1.6v1.6h-1.6zM630.6 339.1h1.6v1.6h-1.6zM634.8 346.0h1.6v1.6h-1.6zM630.7 338.0h1.6v1.6h-1.6zM631.7 366.8h1.6v1.6h-1.6zM625.0 341.9h1.6v1.6h-1.6zM625.3 352.9h1.6v1.6h-1.6zM624.6 350.4h1.6v1.6h-1.6zM629.8 323.4h1.6v1.6h-1.6zM637.0 354.4h1.6v1.6h-1.6zM628.2 333.7h1.6v1.6h-1.6zM635.6 352.1h1.6v1.6h-1.6zM630.9 358.2h1.6v1.6h-1.6zM623.4 348.8h1.6v1.6h-1.6zM635.7 342.7h1.6v1.6h-1.6zM627.2 334.1h1.6v1.6h-1.6zM631.8 333.6h1.6v1.6h-1.6zM634.4 345.6h1.6v1.6h-1.6zM633.1 344.0h1.6v1.6h-1.6zM631.6 324.3h1.6v1.6h-1.6zM635.0 331.0h1.6v1.6h-1.6zM638.8 340.6h1.6v1.6h-1.6zM637.6 353.1h1.6v1.6h-1.6zM634.8 340.9h1.6v1.6h-1.6zM634.2 326.9h1.6v1.6h-1.6zM631.0 356.3h1.6v1.6h-1.6zM626.1 342.8h1.6v1.6h-1.6zM628.5 352.0h1.6v1.6h-1.6zM630.2 331.6h1.6v1.6h-1.6zM629.4 345.6h1.6v1.6h-1.6zM627.7 328.0h1.6v1.6h-1.6zM630.7 347.3h1.6v1.6h-1.6zM631.6 362.8h1.6v1.6h-1.6zM637.7 346.3h1.6v1.6h-1.6zM631.3 337.0h1.6v1.6h-1.6zM634.0 335.1h1.6v1.6h-1.6zM631.0 363.8h1.6v1.6h-1.6zM623.7 343.2h1.6v1.6h-1.6zM629.3 355.1h1.6v1.6h-1.6zM633.9 333.6h1.6v1.6h-1.6zM624.0 344.3h1.6v1.6h-1.6zM631.6 360.6h1.6v1.6h-1.6zM634.5 358.5h1.6v1.6h-1.6zM629.6 345.4h1.6v1.6h-1.6zM630.6 351.2h1.6v1.6h-1.6zM631.5 367.1h1.6v1.6h-1.6zM635.7 346.5h1.6v1.6h-1.6zM628.1 346.0h1.6v1.6h-1.6zM630.2 333.3h1.6v1.6h-1.6zM631.1 354.4h1.6v1.6h-1.6zM632.9 361.2h1.6v1.6h-1.6zM635.7 351.9h1.6v1.6h-1.6zM630.9 328.8h1.6v1.6h-1.6zM631.0 334.8h1.6v1.6h-1.6zM631.4 325.5h1.6v1.6h-1.6zM632.6 360.6h1.6v1.6h-1.6zM631.5 338.9h1.6v1.6h-1.6zM632.4 323.1h1.6v1.6h-1.6zM632.4 362.1h1.6v1.6h-1.6zM630.4 328.6h1.6v1.6h-1.6zM621.7 345.6h1.6v1.6h-1.6zM629.4 340.6h1.6v1.6h-1.6zM627.8 344.5h1.6v1.6h-1.6zM631.9 355.1h1.6v1.6h-1.6zM631.9 368.8h1.6v1.6h-1.6zM636.1 337.4h1.6v1.6h-1.6zM635.1 355.4h1.6v1.6h-1.6zM637.9 341.8h1.6v1.6h-1.6zM630.8 337.6h1.6v1.6h-1.6zM637.6 333.7h1.6v1.6h-1.6zM628.3 341.2h1.6v1.6h-1.6zM629.2 325.7h1.6v1.6h-1.6zM639.2 344.5h1.6v1.6h-1.6zM627.2 338.5h1.6v1.6h-1.6zM630.0 331.5h1.6v1.6h-1.6zM626.9 340.0h1.6v1.6h-1.6zM628.6 342.3h1.6v1.6h-1.6zM639.9 347.6h1.6v1.6h-1.6zM634.1 336.7h1.6v1.6h-1.6zM625.8 340.6h1.6v1.6h-1.6zM625.1 346.2h1.6v1.6h-1.6zM631.0 323.1h1.6v1.6h-1.6zM631.7 360.9h1.6v1.6h-1.6zM634.0 341.8h1.6v1.6h-1.6zM635.9 329.5h1.6v1.6h-1.6zM629.2 326.6h1.6v1.6h-1.6zM628.0 334.6h1.6v1.6h-1.6zM627.1 339.3h1.6v1.6h-1.6zM629.9 353.1h1.6v1.6h-1.6zM629.5 361.2h1.6v1.6h-1.6zM631.6 361.8h1.6v1.6h-1.6zM632.3 365.2h1.6v1.6h-1.6zM637.8 353.1h1.6v1.6h-1.6zM633.7 341.9h1.6v1.6h-1.6zM633.1 338.0h1.6v1.6h-1.6zM638.2 352.0h1.6v1.6h-1.6zM632.0 345.1h1.6v1.6h-1.6zM634.0 324.1h1.6v1.6h-1.6zM633.5 325.7h1.6v1.6h-1.6zM631.2 322.2h1.6v1.6h-1.6zM633.4 330.6h1.6v1.6h-1.6zM635.8 355.1h1.6v1.6h-1.6zM632.3 334.1h1.6v1.6h-1.6zM627.2 328.8h1.6v1.6h-1.6zM627.9 328.9h1.6v1.6h-1.6zM629.0 327.7h1.6v1.6h-1.6zM630.8 324.4h1.6v1.6h-1.6zM625.3 347.8h1.6v1.6h-1.6zM630.0 354.0h1.6v1.6h-1.6zM630.4 337.0h1.6v1.6h-1.6zM637.2 342.2h1.6v1.6h-1.6zM628.2 350.7h1.6v1.6h-1.6zM634.1 333.5h1.6v1.6h-1.6zM632.0 355.6h1.6v1.6h-1.6zM632.5 332.1h1.6v1.6h-1.6zM634.1 354.9h1.6v1.6h-1.6zM627.8 357.9h1.6v1.6h-1.6zM629.7 323.7h1.6v1.6h-1.6zM627.9 354.4h1.6v1.6h-1.6zM636.4 336.7h1.6v1.6h-1.6zM634.8 357.8h1.6v1.6h-1.6zM630.2 351.0h1.6v1.6h-1.6zM632.7 358.8h1.6v1.6h-1.6zM632.0 332.7h1.6v1.6h-1.6zM639.2 341.9h1.6v1.6h-1.6zM633.9 332.1h1.6v1.6h-1.6zM631.3 362.2h1.6v1.6h-1.6zM627.4 339.5h1.6v1.6h-1.6zM627.9 331.5h1.6v1.6h-1.6zM627.6 345.9h1.6v1.6h-1.6zM635.5 330.5h1.6v1.6h-1.6zM633.6 333.1h1.6v1.6h-1.6zM636.8 337.6h1.6v1.6h-1.6zM637.2 337.1h1.6v1.6h-1.6zM629.3 331.9h1.6v1.6h-1.6zM629.3 334.9h1.6v1.6h-1.6zM638.0 344.4h1.6v1.6h-1.6zM632.5 328.5h1.6v1.6h-1.6zM633.1 341.0h1.6v1.6h-1.6zM639.5 347.2h1.6v1.6h-1.6zM636.3 329.5h1.6v1.6h-1.6zM631.7 369.4h1.6v1.6h-1.6zM629.3 357.9h1.6v1.6h-1.6zM633.6 332.7h1.6v1.6h-1.6zM630.4 328.8h1.6v1.6h-1.6zM629.4 344.2h1.6v1.6h-1.6zM625.7 346.2h1.6v1.6h-1.6zM635.6 333.2h1.6v1.6h-1.6zM633.5 356.4h1.6v1.6h-1.6zM624.1 342.4h1.6v1.6h-1.6zM636.7 348.0h1.6v1.6h-1.6zM634.8 351.6h1.6v1.6h-1.6zM631.2 333.1h1.6v1.6h-1.6zM629.8 328.4h1.6v1.6h-1.6zM633.9 349.4h1.6v1.6h-1.6zM631.6 370.2h1.6v1.6h-1.6zM627.8 344.2h1.6v1.6h-1.6zM636.0 355.7h1.6v1.6h-1.6zM638.7 340.0h1.6v1.6h-1.6zM635.2 352.9h1.6v1.6h-1.6zM631.3 371.5h1.6v1.6h-1.6zM632.0 364.8h1.6v1.6h-1.6zM631.6 366.1h1.6v1.6h-1.6zM630.5 353.1h1.6v1.6h-1.6zM629.4 362.4h1.6v1.6h-1.6zM632.8 323.8h1.6v1.6h-1.6zM631.6 368.5h1.6v1.6h-1.6zM629.5 325.2h1.6v1.6h-1.6zM634.4 347.5h1.6v1.6h-1.6zM638.7 348.9h1.6v1.6h-1.6zM631.1 328.2h1.6v1.6h-1.6zM630.6 351.2h1.6v1.6h-1.6zM637.3 344.2h1.6v1.6h-1.6zM632.5 355.0h1.6v1.6h-1.6zM627.1 328.3h1.6v1.6h-1.6zM628.7 354.5h1.6v1.6h-1.6zM630.0 344.5h1.6v1.6h-1.6zM635.1 335.6h1.6v1.6h-1.6zM629.1 353.7h1.6v1.6h-1.6zM634.5 349.9h1.6v1.6h-1.6zM629.6 334.4h1.6v1.6h-1.6zM631.8 355.9h1.6v1.6h-1.6zM636.6 345.4h1.6v1.6h-1.6zM639.0 343.3h1.6v1.6h-1.6zM631.6 371.1h1.6v1.6h-1.6zM637.0 353.8h1.6v1.6h-1.6zM633.9 353.4h1.6v1.6h-1.6zM628.9 340.4h1.6v1.6h-1.6zM633.0 329.3h1.6v1.6h-1.6zM640.6 342.7h1.6v1.6h-1.6zM633.2 363.3h1.6v1.6h-1.6zM633.7 351.1h1.6v1.6h-1.6zM630.5 356.2h1.6v1.6h-1.6zM629.7 323.8h1.6v1.6h-1.6zM627.3 352.9h1.6v1.6h-1.6zM630.1 364.6h1.6v1.6h-1.6zM637.1 352.6h1.6v1.6h-1.6zM622.1 344.6h1.6v1.6h-1.6zM630.2 358.5h1.6v1.6h-1.6zM641.0 346.3h1.6v1.6h-1.6zM633.1 351.3h1.6v1.6h-1.6zM635.1 330.2h1.6v1.6h-1.6zM631.0 351.0h1.6v1.6h-1.6zM632.6 336.1h1.6v1.6h-1.6zM634.5 334.2h1.6v1.6h-1.6zM628.1 333.3h1.6v1.6h-1.6zM629.8 348.0h1.6v1.6h-1.6zM625.0 346.1h1.6v1.6h-1.6zM636.6 331.9h1.6v1.6h-1.6zM630.1 362.4h1.6v1.6h-1.6zM628.1 357.9h1.6v1.6h-1.6zM629.9 361.8h1.6v1.6h-1.6zM622.6 342.1h1.6v1.6h-1.6zM631.6 366.9h1.6v1.6h-1.6zM640.8 346.0h1.6v1.6h-1.6zM631.1 371.1h1.6v1.6h-1.6zM637.6 346.6h1.6v1.6h-1.6zM627.8 348.8h1.6v1.6h-1.6zM626.8 332.4h1.6v1.6h-1.6zM627.3 351.9h1.6v1.6h-1.6zM632.8 323.7h1.6v1.6h-1.6zM632.7 329.6h1.6v1.6h-1.6zM630.0 323.2h1.6v1.6h-1.6zM633.7 361.6h1.6v1.6h-1.6zM637.2 353.3h1.6v1.6h-1.6zM631.9 359.4h1.6v1.6h-1.6zM631.9 322.7h1.6v1.6h-1.6zM633.0 360.5h1.6v1.6h-1.6zM622.7 346.5h1.6v1.6h-1.6zM630.9 365.3h1.6v1.6h-1.6zM638.7 349.3h1.6v1.6h-1.6zM627.5 351.1h1.6v1.6h-1.6zM626.3 338.9h1.6v1.6h-1.6zM634.5 344.2h1.6v1.6h-1.6zM632.9 364.6h1.6v1.6h-1.6zM628.2 355.3h1.6v1.6h-1.6zM636.2 341.2h1.6v1.6h-1.6zM632.0 333.2h1.6v1.6h-1.6zM631.9 368.3h1.6v1.6h-1.6zM632.7 358.8h1.6v1.6h-1.6zM632.0 353.7h1.6v1.6h-1.6zM627.3 337.9h1.6v1.6h-1.6zM623.7 345.1h1.6v1.6h-1.6zM630.1 333.7h1.6v1.6h-1.6zM627.8 350.7h1.6v1.6h-1.6zM627.2 350.3h1.6v1.6h-1.6zM627.1 330.5h1.6v1.6h-1.6zM623.9 337.2h1.6v1.6h-1.6zM637.8 343.4h1.6v1.6h-1.6zM635.0 331.5h1.6v1.6h-1.6zM625.3 341.3h1.6v1.6h-1.6zM628.0 335.5h1.6v1.6h-1.6zM635.7 333.7h1.6v1.6h-1.6zM631.2 337.6h1.6v1.6h-1.6zM631.8 363.2h1.6v1.6h-1.6zM628.4 348.8h1.6v1.6h-1.6zM634.3 325.4h1.6v1.6h-1.6zM634.1 347.5h1.6v1.6h-1.6zM634.8 329.8h1.6v1.6h-1.6zM639.0 344.0h1.6v1.6h-1.6zM625.3 347.8h1.6v1.6h-1.6zM633.8 329.0h1.6v1.6h-1.6zM634.2 356.7h1.6v1.6h-1.6zM631.5 351.3h1.6v1.6h-1.6zM628.2 334.8h1.6v1.6h-1.6zM623.2 342.3h1.6v1.6h-1.6zM630.6 362.0h1.6v1.6h-1.6zM628.1 355.0h1.6v1.6h-1.6zM633.9 324.2h1.6v1.6h-1.6zM638.9 344.6h1.6v1.6h-1.6zM631.1 324.1h1.6v1.6h-1.6zM633.9 333.3h1.6v1.6h-1.6zM626.5 337.0h1.6v1.6h-1.6zM633.1 362.4h1.6v1.6h-1.6zM633.0 322.8h1.6v1.6h-1.6zM639.8 346.2h1.6v1.6h-1.6zM626.5 353.3h1.6v1.6h-1.6zM631.9 322.1h1.6v1.6h-1.6zM630.7 367.4h1.6v1.6h-1.6zM632.7 334.8h1.6v1.6h-1.6zM630.6 356.3h1.6v1.6h-1.6zM627.9 349.7h1.6v1.6h-1.6zM627.7 334.0h1.6v1.6h-1.6zM628.3 356.1h1.6v1.6h-1.6zM632.1 368.1h1.6v1.6h-1.6zM628.4 351.7h1.6v1.6h-1.6zM635.0 332.3h1.6v1.6h-1.6zM631.4 334.5h1.6v1.6h-1.6zM629.0 331.3h1.6v1.6h-1.6zM628.4 350.8h1.6v1.6h-1.6zM631.1 337.7h1.6v1.6h-1.6zM630.0 355.6h1.6v1.6h-1.6zM631.9 354.9h1.6v1.6h-1.6zM632.8 355.0h1.6v1.6h-1.6zM632.5 328.5h1.6v1.6h-1.6zM625.3 346.4h1.6v1.6h-1.6zM630.3 341.0h1.6v1.6h-1.6zM629.2 332.0h1.6v1.6h-1.6zM631.2 328.8h1.6v1.6h-1.6zM638.2 338.5h1.6v1.6h-1.6zM630.5 324.0h1.6v1.6h-1.6zM633.5 360.8h1.6v1.6h-1.6zM629.9 323.4h1.6v1.6h-1.6zM633.4 350.7h1.6v1.6h-1.6zM634.2 360.0h1.6v1.6h-1.6zM627.4 348.5h1.6v1.6h-1.6zM632.8 361.3h1.6v1.6h-1.6zM629.9 323.3h1.6v1.6h-1.6zM633.2 345.8h1.6v1.6h-1.6zM629.9 363.8h1.6v1.6h-1.6zM631.9 367.7h1.6v1.6h-1.6zM630.8 366.2h1.6v1.6h-1.6zM638.2 343.5h1.6v1.6h-1.6zM626.6 341.1h1.6v1.6h-1.6zM627.9 346.7h1.6v1.6h-1.6zM634.7 343.8h1.6v1.6h-1.6zM632.1 363.4h1.6v1.6h-1.6zM631.9 366.2h1.6v1.6h-1.6zM624.9 348.9h1.6v1.6h-1.6zM637.3 336.5h1.6v1.6h-1.6zM635.5 330.2h1.6v1.6h-1.6zM632.7 360.4h1.6v1.6h-1.6zM635.7 341.8h1.6v1.6h-1.6zM632.8 356.5h1.6v1.6h-1.6zM633.4 324.8h1.6v1.6h-1.6zM631.5 361.1h1.6v1.6h-1.6zM630.4 339.6h1.6v1.6h-1.6zM625.2 350.1h1.6v1.6h-1.6zM627.1 336.5h1.6v1.6h-1.6zM637.8 335.4h1.6v1.6h-1.6zM631.8 332.8h1.6v1.6h-1.6zM640.3 347.0h1.6v1.6h-1.6zM631.6 323.7h1.6v1.6h-1.6zM634.9 355.2h1.6v1.6h-1.6zM634.1 326.8h1.6v1.6h-1.6zM632.8 330.5h1.6v1.6h-1.6zM627.7 329.2h1.6v1.6h-1.6zM634.8 331.3h1.6v1.6h-1.6zM633.1 353.2h1.6v1.6h-1.6zM625.7 352.4h1.6v1.6h-1.6zM637.8 334.6h1.6v1.6h-1.6zM634.0 357.9h1.6v1.6h-1.6zM627.6 332.6h1.6v1.6h-1.6zM635.5 346.7h1.6v1.6h-1.6zM629.1 352.3h1.6v1.6h-1.6zM627.4 349.0h1.6v1.6h-1.6zM632.4 363.5h1.6v1.6h-1.6zM634.1 356.7h1.6v1.6h-1.6zM637.2 338.7h1.6v1.6h-1.6zM638.6 343.7h1.6v1.6h-1.6zM638.3 336.2h1.6v1.6h-1.6zM626.8 334.8h1.6v1.6h-1.6zM636.4 354.9h1.6v1.6h-1.6zM634.4 339.2h1.6v1.6h-1.6zM631.5 364.1h1.6v1.6h-1.6zM627.7 350.0h1.6v1.6h-1.6zM632.8 350.9h1.6v1.6h-1.6zM629.7 350.3h1.6v1.6h-1.6zM629.6 348.6h1.6v1.6h-1.6zM631.2 325.9h1.6v1.6h-1.6zM632.7 365.2h1.6v1.6h-1.6zM631.5 363.6h1.6v1.6h-1.6zM638.1 349.1h1.6v1.6h-1.6zM636.0 335.2h1.6v1.6h-1.6zM630.2 361.8h1.6v1.6h-1.6zM628.2 335.5h1.6v1.6h-1.6zM631.0 322.1h1.6v1.6h-1.6zM631.2 322.8h1.6v1.6h-1.6zM629.5 327.8h1.6v1.6h-1.6zM630.7 356.4h1.6v1.6h-1.6zM629.2 325.3h1.6v1.6h-1.6zM629.8 349.1h1.6v1.6h-1.6zM635.0 347.4h1.6v1.6h-1.6zM627.1 341.1h1.6v1.6h-1.6zM638.0 337.1h1.6v1.6h-1.6zM626.8 354.4h1.6v1.6h-1.6zM626.9 339.3h1.6v1.6h-1.6zM631.7 325.6h1.6v1.6h-1.6zM637.4 339.1h1.6v1.6h-1.6zM631.3 333.5h1.6v1.6h-1.6zM637.0 346.4h1.6v1.6h-1.6zM629.9 345.2h1.6v1.6h-1.6zM638.0 349.0h1.6v1.6h-1.6zM628.6 352.4h1.6v1.6h-1.6zM632.8 328.5h1.6v1.6h-1.6zM639.6 348.6h1.6v1.6h-1.6zM632.1 351.7h1.6v1.6h-1.6zM632.0 361.7h1.6v1.6h-1.6zM625.0 333.9h1.6v1.6h-1.6zM638.4 349.2h1.6v1.6h-1.6zM625.6 346.7h1.6v1.6h-1.6zM633.2 339.4h1.6v1.6h-1.6zM633.6 338.4h1.6v1.6h-1.6zM631.2 357.0h1.6v1.6h-1.6zM632.7 363.4h1.6v1.6h-1.6zM633.4 330.3h1.6v1.6h-1.6zM623.1 345.1h1.6v1.6h-1.6zM629.3 324.3h1.6v1.6h-1.6zM630.5 357.6h1.6v1.6h-1.6zM637.5 343.4h1.6v1.6h-1.6zM627.3 354.2h1.6v1.6h-1.6zM635.0 350.5h1.6v1.6h-1.6zM629.7 332.8h1.6v1.6h-1.6zM635.3 336.1h1.6v1.6h-1.6zM637.7 347.7h1.6v1.6h-1.6zM636.9 338.6h1.6v1.6h-1.6zM630.6 334.2h1.6v1.6h-1.6zM626.7 328.8h1.6v1.6h-1.6zM640.9 347.5h1.6v1.6h-1.6zM631.1 371.3h1.6v1.6h-1.6zM633.1 349.0h1.6v1.6h-1.6zM631.5 323.6h1.6v1.6h-1.6zM635.9 341.6h1.6v1.6h-1.6zM632.9 326.2h1.6v1.6h-1.6zM633.5 342.0h1.6v1.6h-1.6zM634.9 352.5h1.6v1.6h-1.6zM633.8 358.2h1.6v1.6h-1.6zM639.4 343.4h1.6v1.6h-1.6zM638.5 349.0h1.6v1.6h-1.6zM625.8 332.7h1.6v1.6h-1.6zM637.5 343.3h1.6v1.6h-1.6zM634.5 330.6h1.6v1.6h-1.6zM625.5 337.1h1.6v1.6h-1.6zM626.7 332.5h1.6v1.6h-1.6zM629.4 323.7h1.6v1.6h-1.6zM623.7 349.1h1.6v1.6h-1.6zM631.9 358.5h1.6v1.6h-1.6zM631.8 357.1h1.6v1.6h-1.6zM631.9 342.5h1.6v1.6h-1.6zM631.2 334.0h1.6v1.6h-1.6zM626.3 352.3h1.6v1.6h-1.6zM631.0 341.4h1.6v1.6h-1.6zM637.8 334.2h1.6v1.6h-1.6zM627.7 354.9h1.6v1.6h-1.6zM627.8 346.4h1.6v1.6h-1.6zM627.8 344.2h1.6v1.6h-1.6zM636.7 353.4h1.6v1.6h-1.6zM630.2 364.9h1.6v1.6h-1.6zM622.9 343.5h1.6v1.6h-1.6zM633.6 361.9h1.6v1.6h-1.6zM628.9 340.1h1.6v1.6h-1.6zM629.1 355.4h1.6v1.6h-1.6zM632.1 328.0h1.6v1.6h-1.6zM631.9 372.8h1.6v1.6h-1.6zM624.4 336.5h1.6v1.6h-1.6zM631.4 339.7h1.6v1.6h-1.6zM639.2 345.3h1.6v1.6h-1.6zM627.8 351.8h1.6v1.6h-1.6zM633.9 361.6h1.6v1.6h-1.6zM639.9 345.2h1.6v1.6h-1.6zM631.7 332.4h1.6v1.6h-1.6zM633.8 350.0h1.6v1.6h-1.6zM631.8 340.3h1.6v1.6h-1.6zM630.0 329.2h1.6v1.6h-1.6zM627.5 349.8h1.6v1.6h-1.6zM624.7 335.3h1.6v1.6h-1.6zM638.5 343.1h1.6v1.6h-1.6zM634.3 328.0h1.6v1.6h-1.6zM628.8 334.8h1.6v1.6h-1.6zM635.6 336.2h1.6v1.6h-1.6zM634.8 346.3h1.6v1.6h-1.6zM636.6 335.2h1.6v1.6h-1.6zM629.1 359.9h1.6v1.6h-1.6zM637.7 346.9h1.6v1.6h-1.6zM639.0 349.9h1.6v1.6h-1.6zM634.5 354.6h1.6v1.6h-1.6zM633.0 362.0h1.6v1.6h-1.6zM635.8 329.4h1.6v1.6h-1.6zM624.6 346.6h1.6v1.6h-1.6zM632.0 324.3h1.6v1.6h-1.6zM631.5 348.6h1.6v1.6h-1.6zM628.9 339.5h1.6v1.6h-1.6zM630.2 334.7h1.6v1.6h-1.6zM630.8 353.1h1.6v1.6h-1.6zM632.5 361.3h1.6v1.6h-1.6zM635.9 338.8h1.6v1.6h-1.6zM628.8 336.9h1.6v1.6h-1.6zM632.1 329.6h1.6v1.6h-1.6zM639.3 337.4h1.6v1.6h-1.6zM630.0 347.7h1.6v1.6h-1.6zM626.2 350.0h1.6v1.6h-1.6zM632.4 337.4h1.6v1.6h-1.6zM632.3 345.7h1.6v1.6h-1.6zM636.9 351.6h1.6v1.6h-1.6zM638.3 335.6h1.6v1.6h-1.6zM633.3 349.2h1.6v1.6h-1.6zM631.0 332.3h1.6v1.6h-1.6zM631.0 350.4h1.6v1.6h-1.6zM634.0 355.6h1.6v1.6h-1.6zM633.7 344.7h1.6v1.6h-1.6zM634.3 359.0h1.6v1.6h-1.6zM637.0 351.5h1.6v1.6h-1.6zM632.2 361.3h1.6v1.6h-1.6zM631.8 324.7h1.6v1.6h-1.6zM628.3 359.9h1.6v1.6h-1.6zM630.9 324.0h1.6v1.6h-1.6zM632.5 333.1h1.6v1.6h-1.6zM630.9 354.9h1.6v1.6h-1.6zM636.3 349.5h1.6v1.6h-1.6zM625.6 343.8h1.6v1.6h-1.6zM634.1 349.2h1.6v1.6h-1.6zM634.3 355.6h1.6v1.6h-1.6zM625.3 344.9h1.6v1.6h-1.6zM635.1 353.1h1.6v1.6h-1.6zM631.7 364.0h1.6v1.6h-1.6zM625.4 353.3h1.6v1.6h-1.6zM622.4 346.1h1.6v1.6h-1.6zM633.5 351.8h1.6v1.6h-1.6zM626.4 340.3h1.6v1.6h-1.6zM630.3 336.5h1.6v1.6h-1.6zM631.8 343.1h1.6v1.6h-1.6zM632.0 350.6h1.6v1.6h-1.6zM639.9 340.8h1.6v1.6h-1.6zM629.3 356.5h1.6v1.6h-1.6zM631.3 352.2h1.6v1.6h-1.6zM626.9 337.6h1.6v1.6h-1.6zM635.9 334.8h1.6v1.6h-1.6zM630.8 324.6h1.6v1.6h-1.6zM631.9 365.4h1.6v1.6h-1.6zM638.4 344.6h1.6v1.6h-1.6zM629.0 345.6h1.6v1.6h-1.6zM626.4 355.0h1.6v1.6h-1.6zM629.7 363.7h1.6v1.6h-1.6zM632.8 353.9h1.6v1.6h-1.6zM633.2 326.4h1.6v1.6h-1.6zM632.6 347.9h1.6v1.6h-1.6zM633.0 326.0h1.6v1.6h-1.6zM634.4 333.3h1.6v1.6h-1.6zM625.0 335.9h1.6v1.6h-1.6zM630.9 358.0h1.6v1.6h-1.6zM627.5 342.2h1.6v1.6h-1.6zM637.0 341.8h1.6v1.6h-1.6zM628.3 327.1h1.6v1.6h-1.6zM624.6 346.9h1.6v1.6h-1.6zM637.5 340.5h1.6v1.6h-1.6zM624.3 336.5h1.6v1.6h-1.6zM639.3 346.2h1.6v1.6h-1.6zM630.1 346.5h1.6v1.6h-1.6zM630.3 329.9h1.6v1.6h-1.6zM633.1 364.6h1.6v1.6h-1.6zM635.1 352.3h1.6v1.6h-1.6zM634.9 329.4h1.6v1.6h-1.6zM626.1 349.3h1.6v1.6h-1.6zM631.1 366.1h1.6v1.6h-1.6zM633.9 327.9h1.6v1.6h-1.6zM627.1 334.4h1.6v1.6h-1.6zM625.9 354.5h1.6v1.6h-1.6zM633.3 356.8h1.6v1.6h-1.6zM633.8 346.0h1.6v1.6h-1.6zM629.4 337.9h1.6v1.6h-1.6zM634.5 334.4h1.6v1.6h-1.6zM632.2 346.1h1.6v1.6h-1.6zM635.8 353.3h1.6v1.6h-1.6zM637.1 334.0h1.6v1.6h-1.6zM636.3 349.0h1.6v1.6h-1.6zM632.4 322.4h1.6v1.6h-1.6zM624.6 337.0h1.6v1.6h-1.6zM633.8 336.4h1.6v1.6h-1.6zM635.9 329.6h1.6v1.6h-1.6zM627.8 333.8h1.6v1.6h-1.6zM636.7 337.3h1.6v1.6h-1.6zM632.7 349.4h1.6v1.6h-1.6zM633.5 350.4h1.6v1.6h-1.6zM633.0 340.1h1.6v1.6h-1.6zM633.5 362.9h1.6v1.6h-1.6zM632.6 365.4h1.6v1.6h-1.6zM634.6 354.4h1.6v1.6h-1.6zM627.9 344.8h1.6v1.6h-1.6zM636.2 332.3h1.6v1.6h-1.6zM637.0 348.3h1.6v1.6h-1.6zM636.1 331.1h1.6v1.6h-1.6zM630.4 322.6h1.6v1.6h-1.6z"/>
<path fill="#f26a1f" d="M631.0 368.7h1.6v1.6h-1.6zM630.1 377.1h1.6v1.6h-1.6zM633.7 369.2h1.6v1.6h-1.6zM631.4 374.0h1.6v1.6h-1.6zM631.9 377.9h1.6v1.6h-1.6zM630.0 376.8h1.6v1.6h-1.6zM631.2 372.3h1.6v1.6h-1.6zM630.8 365.4h1.6v1.6h-1.6zM631.5 377.6h1.6v1.6h-1.6zM631.9 372.1h1.6v1.6h-1.6zM632.4 378.6h1.6v1.6h-1.6zM630.5 376.3h1.6v1.6h-1.6zM633.1 369.8h1.6v1.6h-1.6zM631.8 386.0h1.6v1.6h-1.6zM630.5 372.6h1.6v1.6h-1.6zM633.9 370.8h1.6v1.6h-1.6zM632.0 370.3h1.6v1.6h-1.6zM631.4 363.9h1.6v1.6h-1.6zM630.1 377.2h1.6v1.6h-1.6zM632.0 383.2h1.6v1.6h-1.6zM631.5 383.8h1.6v1.6h-1.6zM631.9 375.2h1.6v1.6h-1.6zM633.0 376.1h1.6v1.6h-1.6zM632.4 374.9h1.6v1.6h-1.6zM633.5 368.7h1.6v1.6h-1.6zM629.6 375.2h1.6v1.6h-1.6zM629.3 372.7h1.6v1.6h-1.6zM630.2 377.4h1.6v1.6h-1.6zM632.0 377.6h1.6v1.6h-1.6zM632.7 371.3h1.6v1.6h-1.6z"/>
<rect x="631.5" y="404.6" width="1.6" height="1.6" fill="#f26a1f"/>
<rect x="631.5" y="323.8" width="1.5" height="1.5" fill="#f26a1f"/>
<rect x="631.5" y="326.5" width="1.5" height="1.5" fill="#f26a1f"/>
<line x1="663.50" y1="340.20" x2="663.50" y2="363.80" stroke="#222" stroke-width="1.3" />
<line x1="658.00" y1="340.20" x2="669.00" y2="340.20" stroke="#222" stroke-width="1.3" />
<line x1="658.00" y1="363.80" x2="669.00" y2="363.80" stroke="#222" stroke-width="1.3" />
<line x1="653.30" y1="352.40" x2="673.80" y2="352.40" stroke="#111" stroke-width="2.6" />
<rect x="659.70" y="337.80" width="1.6" height="1.6" fill="#e8202a"/>
<rect x="662.70" y="337.80" width="1.6" height="1.6" fill="#e8202a"/>
<rect x="666.20" y="337.80" width="1.6" height="1.6" fill="#e8202a"/>
<rect x="660.20" y="342.20" width="1.6" height="1.6" fill="#e8202a"/>
<rect x="659.70" y="344.20" width="1.6" height="1.6" fill="#e8202a"/>
<rect x="662.70" y="348.20" width="1.6" height="1.6" fill="#e8202a"/>
<rect x="662.70" y="352.20" width="1.6" height="1.6" fill="#e8202a"/>
<rect x="662.70" y="355.20" width="1.6" height="1.6" fill="#e8202a"/>
<rect x="662.70" y="358.20" width="1.6" height="1.6" fill="#e8202a"/>
<rect x="662.70" y="361.20" width="1.6" height="1.6" fill="#e8202a"/>
<rect x="662.70" y="365.20" width="1.6" height="1.6" fill="#e8202a"/>
<rect x="662.70" y="368.20" width="1.6" height="1.6" fill="#e8202a"/>
<rect x="664.70" y="347.20" width="1.6" height="1.6" fill="#e8202a"/>
<text x="5.80" y="487.80" font-size="13" font-weight="normal" font-style="normal" text-anchor="start" fill="#231f20" >F</text>
<text x="134.90" y="478.10" font-size="11.3" font-weight="bold" font-style="normal" text-anchor="middle" fill="#231f20" >Benign</text>
<text x="269.70" y="478.40" font-size="11.3" font-weight="bold" font-style="normal" text-anchor="middle" fill="#231f20" >PCa</text>
<text x="459.70" y="478.10" font-size="11.3" font-weight="bold" font-style="normal" text-anchor="middle" fill="#231f20" >Benign</text>
<text x="595.90" y="478.40" font-size="11.3" font-weight="bold" font-style="normal" text-anchor="middle" fill="#231f20" >PCa</text>
<line x1="48.30" y1="483.30" x2="48.30" y2="736.20" stroke="#111" stroke-width="1.6" />
<line x1="376.00" y1="483.30" x2="376.00" y2="736.20" stroke="#111" stroke-width="1.6" />
<text transform="translate(44.00,602.00) rotate(-90)" font-size="11.5" font-weight="bold" text-anchor="middle" fill="#231f20" >IHC : KBTBD11 Case 1</text>
<text transform="translate(372.00,602.00) rotate(-90)" font-size="11.5" font-weight="bold" text-anchor="middle" fill="#231f20" >IHC : KBTBD11 Case 2</text>
<text transform="translate(62.20,556.50) rotate(-90)" font-size="10.4" font-weight="normal" text-anchor="middle" fill="#231f20" >5×</text>
<text transform="translate(62.20,667.50) rotate(-90)" font-size="11" font-weight="normal" text-anchor="middle" fill="#231f20" >40×</text>
<text transform="translate(390.00,556.50) rotate(-90)" font-size="10.4" font-weight="normal" text-anchor="middle" fill="#231f20" >5×</text>
<text transform="translate(390.00,667.50) rotate(-90)" font-size="11" font-weight="normal" text-anchor="middle" fill="#231f20" >40×</text>
<g filter="url(#fSoft)">
<clipPath id="c1b5"><polygon points="196.4,541.3 196.5,545.6 195.9,549.5 194.2,552.7 194.4,556.8 193.0,559.9 190.8,563.7 189.0,567.7 186.1,570.6 184.1,574.9 182.1,577.0 179.3,579.9 175.9,582.6 171.8,586.2 168.6,587.6 166.0,590.6 161.3,592.6 157.7,593.8 153.2,595.5 149.7,596.7 145.8,596.6 140.8,596.9 136.2,597.1 132.1,597.8 127.4,597.6 123.6,596.6 120.0,596.0 115.2,594.9 111.7,593.0 108.1,591.3 104.0,590.6 99.3,588.4 96.3,585.8 92.5,582.5 89.7,581.0 86.8,577.8 85.2,574.9 82.0,570.8 80.1,568.0 77.6,564.4 76.9,560.9 74.5,557.3 73.6,552.6 73.6,549.5 72.7,545.5 72.9,540.7 72.7,536.6 72.8,532.6 74.4,529.9 74.7,524.7 77.2,521.7 78.0,517.6 80.2,514.8 82.1,510.8 84.0,508.3 86.6,504.5 90.6,501.1 93.5,499.5 96.7,496.7 99.4,493.9 103.2,492.4 107.2,490.0 112.1,488.9 116.1,487.0 119.6,486.3 123.8,484.9 127.9,484.1 132.2,485.0 137.3,484.5 140.9,484.4 144.6,484.8 149.8,486.5 153.4,487.5 158.0,488.7 161.8,490.4 165.2,492.2 168.7,494.0 172.9,496.6 175.5,499.5 179.1,501.7 181.1,504.6 184.1,507.9 186.8,511.4 189.2,514.8 190.7,518.1 192.8,522.1 193.6,525.9 195.4,529.5 196.3,533.7 196.1,537.1"/></clipPath>
<rect x="72.40" y="483.10" width="126.10" height="117.70" fill="#f3f3f5" />
<polygon points="196.4,541.3 196.5,545.6 195.9,549.5 194.2,552.7 194.4,556.8 193.0,559.9 190.8,563.7 189.0,567.7 186.1,570.6 184.1,574.9 182.1,577.0 179.3,579.9 175.9,582.6 171.8,586.2 168.6,587.6 166.0,590.6 161.3,592.6 157.7,593.8 153.2,595.5 149.7,596.7 145.8,596.6 140.8,596.9 136.2,597.1 132.1,597.8 127.4,597.6 123.6,596.6 120.0,596.0 115.2,594.9 111.7,593.0 108.1,591.3 104.0,590.6 99.3,588.4 96.3,585.8 92.5,582.5 89.7,581.0 86.8,577.8 85.2,574.9 82.0,570.8 80.1,568.0 77.6,564.4 76.9,560.9 74.5,557.3 73.6,552.6 73.6,549.5 72.7,545.5 72.9,540.7 72.7,536.6 72.8,532.6 74.4,529.9 74.7,524.7 77.2,521.7 78.0,517.6 80.2,514.8 82.1,510.8 84.0,508.3 86.6,504.5 90.6,501.1 93.5,499.5 96.7,496.7 99.4,493.9 103.2,492.4 107.2,490.0 112.1,488.9 116.1,487.0 119.6,486.3 123.8,484.9 127.9,484.1 132.2,485.0 137.3,484.5 140.9,484.4 144.6,484.8 149.8,486.5 153.4,487.5 158.0,488.7 161.8,490.4 165.2,492.2 168.7,494.0 172.9,496.6 175.5,499.5 179.1,501.7 181.1,504.6 184.1,507.9 186.8,511.4 189.2,514.8 190.7,518.1 192.8,522.1 193.6,525.9 195.4,529.5 196.3,533.7 196.1,537.1" fill="#c9c0b5" stroke="none" stroke-width="0" stroke-linejoin="round" />
<rect x="72.4" y="483.1" width="126.1" height="117.69999999999993" fill="#000" filter="url(#fPatchB)" clip-path="url(#c1b5)"/>
<rect x="72.4" y="483.1" width="126.1" height="117.69999999999993" fill="#000" filter="url(#fPatchU)" clip-path="url(#c1b5)"/>
<rect x="72.4" y="483.1" width="126.1" height="117.69999999999993" fill="#000" filter="url(#fGrain2)" clip-path="url(#c1b5)"/>
<rect x="72.4" y="483.1" width="126.1" height="117.69999999999993" fill="#000" filter="url(#fBlue2)" clip-path="url(#c1b5)"/>
<g clip-path="url(#c1b5)">
<ellipse cx="136" cy="590" rx="14" ry="9" fill="#c99a55" opacity="0.45" filter="url(#fBlur)"/>
<polygon points="117.9,497.2 121.3,498.0 122.2,496.9 123.6,497.2 122.1,496.8 123.0,498.4 127.4,496.1 126.2,497.5 126.8,495.8 127.7,496.9 130.3,499.5 129.8,499.9 132.1,500.2 134.0,497.9 133.2,498.8 130.6,500.9 133.2,502.6 130.9,504.6 132.5,502.6 129.8,504.2 130.4,502.5 128.1,505.8 127.3,505.0 126.9,503.8 124.1,503.7 124.0,502.4 124.2,502.0 121.8,503.1 122.1,503.1 121.0,499.7 121.3,501.0 120.4,499.5" fill="#a97a3c" stroke="#a97a3c" stroke-width="2.4" stroke-linejoin="round" opacity="1.0"/>
<polygon points="120.5,498.0 119.5,497.3 122.2,496.1 123.7,496.0 122.7,497.2 124.9,497.6 126.3,496.4 126.9,495.8 126.6,498.2 128.3,497.4 130.8,497.1 129.8,498.2 133.0,499.8 132.3,500.3 132.9,501.1 131.6,499.9 132.2,502.8 131.4,504.7 130.1,504.9 129.9,504.4 128.3,503.2 126.8,505.4 127.9,503.8 127.2,504.0 123.7,504.4 123.0,501.9 123.0,501.8 122.9,501.9 120.5,502.0 119.4,499.5 119.8,499.7 118.9,498.5" fill="#fbfaf8"/>
<polygon points="90.6,504.5 93.1,506.8 92.3,505.5 92.5,503.6 93.8,505.0 94.6,505.7 95.1,502.6 96.3,504.3 98.4,502.9 99.3,503.4 100.8,501.7 102.0,501.9 102.0,503.6 105.2,502.9 107.1,501.8 106.2,501.7 107.3,502.5 106.9,501.6 109.8,501.0 108.9,502.2 109.9,501.6 111.0,500.7 111.8,501.9 112.3,505.2 115.0,505.1 114.5,506.5 113.6,508.9 112.7,509.9 113.8,510.2 111.0,509.1 110.8,511.0 113.1,513.3 111.7,510.9 110.2,513.6 109.5,514.0 106.1,512.1 109.1,515.2 110.1,515.2 110.7,515.2 111.6,518.9 110.2,516.8 111.8,519.9 112.0,518.5 112.6,522.1 111.3,523.7 111.3,522.2 110.2,526.1 112.1,523.4 108.2,524.4 110.1,521.7 108.1,524.5 106.5,523.2 106.8,521.7 104.0,522.4 104.2,521.1 102.5,521.7 101.5,519.9 102.7,519.2 98.6,518.9 97.6,519.0 96.8,520.0 96.7,520.8 96.7,521.9 95.8,521.2 94.6,522.2 91.7,522.5 91.3,523.3 92.0,521.0 90.1,521.1 88.7,518.9 86.9,521.7 88.6,519.0 88.7,517.4 89.2,518.8 89.8,516.1 90.9,516.7 87.8,513.8 88.6,512.5 88.6,511.1 88.4,512.9 85.3,511.4 86.6,510.4 88.7,510.7 89.7,507.6 90.0,506.0 90.5,506.1" fill="#a97a3c" stroke="#a97a3c" stroke-width="2.4" stroke-linejoin="round" opacity="1.0"/>
<polygon points="89.9,507.0 91.0,504.4 93.7,505.3 92.5,505.9 95.2,505.3 94.8,502.9 97.7,503.0 98.1,503.4 99.7,502.2 99.4,502.4 102.5,503.1 101.9,501.3 104.6,503.3 103.7,501.5 104.3,503.5 107.1,501.4 108.7,500.9 108.8,502.0 109.5,501.8 110.2,501.3 110.7,500.3 110.9,503.1 112.6,502.9 113.7,503.9 113.7,505.3 114.8,506.5 113.6,507.1 112.3,509.5 114.3,509.6 113.0,510.6 111.7,511.2 110.9,511.5 110.7,512.1 109.0,513.9 109.7,512.3 108.2,513.3 107.9,514.6 109.0,516.2 108.2,515.2 108.7,518.0 110.4,517.1 112.6,519.8 112.7,519.6 114.0,519.6 112.4,522.1 111.9,524.2 110.5,525.0 110.7,525.1 110.8,524.6 109.7,524.6 107.9,523.5 105.4,524.0 105.1,522.8 103.5,523.1 105.1,519.8 103.4,520.9 103.1,520.3 101.0,520.8 100.0,520.4 98.4,520.6 97.4,519.8 98.5,521.8 95.9,520.7 94.7,520.4 95.2,522.3 92.9,522.0 91.6,521.6 90.2,522.1 89.5,520.2 89.9,520.5 88.8,520.9 87.4,518.6 87.0,518.4 87.5,517.2 88.9,515.3 88.5,516.0 89.1,514.1 90.0,512.4 86.8,512.7 88.0,512.5 86.1,509.4 88.4,509.6 87.9,508.9 89.3,508.1 89.6,506.5 90.6,507.6" fill="#fbfaf8"/>
<polygon points="124.6,517.7 125.7,517.9 128.2,516.4 129.2,516.8 128.1,516.5 131.2,516.2 133.1,516.7 132.3,514.6 132.4,516.4 135.5,515.3 135.6,514.6 135.8,514.4 136.5,514.3 139.4,514.7 139.1,512.9 140.4,515.2 142.1,515.7 141.6,515.4 143.0,515.5 140.2,518.1 141.4,518.5 140.9,519.5 141.0,522.2 140.9,522.1 138.9,524.1 138.1,523.8 138.9,524.8 136.4,525.9 136.5,527.4 135.6,526.3 135.8,526.6 132.7,528.5 133.6,526.0 129.5,528.9 131.3,526.5 128.0,527.0 129.4,524.6 126.5,525.6 126.1,523.6 126.3,522.8 127.0,520.3 128.0,519.5 126.4,518.6 126.9,518.4 127.4,517.9" fill="#a97a3c" stroke="#a97a3c" stroke-width="2.4" stroke-linejoin="round" opacity="1.0"/>
<polygon points="126.5,516.3 127.4,518.2 128.6,516.6 127.9,517.4 129.2,516.8 130.1,516.4 131.6,515.3 132.7,516.7 134.6,516.2 134.1,513.9 137.0,515.4 136.0,513.2 136.5,514.2 138.3,514.5 139.2,514.4 140.8,515.6 142.3,514.4 141.8,515.9 140.2,515.6 142.1,516.8 141.0,517.4 139.6,519.2 140.0,521.9 140.5,520.6 137.7,523.1 137.7,524.4 138.4,523.7 137.7,525.0 135.5,525.1 134.6,525.5 134.6,526.2 134.5,526.3 131.8,526.6 130.7,526.4 130.8,526.3 128.8,525.8 127.7,526.4 125.9,525.5 128.4,524.0 127.6,522.8 126.9,522.1 128.6,521.4 127.0,518.7 127.4,518.6 126.4,519.4" fill="#fbfaf8"/>
<polygon points="81.0,525.2 81.1,525.9 80.3,523.3 82.7,523.1 82.9,525.6 85.6,522.6 83.8,522.7 87.5,522.4 86.3,523.3 87.0,525.3 88.2,525.4 91.3,527.0 90.9,527.9 92.4,528.8 92.1,527.8 94.1,530.6 95.1,529.5 93.6,529.9 93.3,533.5 95.6,534.2 94.1,534.5 93.1,534.7 91.5,534.9 90.8,534.2 92.1,534.6 90.7,537.2 87.5,537.3 90.2,540.0 88.1,540.0 88.0,539.1 86.9,541.1 85.7,542.8 84.9,542.2 82.5,540.7 81.4,541.1 83.4,540.4 81.2,540.3 79.7,538.4 80.6,538.4 79.5,536.7 79.0,536.0 79.9,534.1 80.6,535.0 80.7,534.4 80.5,533.1 80.7,530.0 82.5,527.8 81.3,529.8 81.9,528.1 79.2,525.8" fill="#a97a3c" stroke="#a97a3c" stroke-width="2.4" stroke-linejoin="round" opacity="1.0"/>
<polygon points="79.0,525.3 80.2,526.4 81.7,523.9 83.1,523.5 83.0,525.1 84.0,523.5 84.3,523.9 86.8,525.3 87.2,524.2 89.5,526.1 90.6,526.3 90.8,525.8 91.1,525.8 92.3,528.7 92.1,527.9 94.0,527.6 95.6,528.8 95.5,531.1 95.7,530.8 94.8,532.5 93.4,535.1 93.1,534.1 91.9,534.9 90.8,535.0 89.5,536.8 89.5,536.4 88.1,536.5 87.8,538.4 87.1,539.7 88.6,540.6 87.8,540.3 87.2,541.5 84.5,542.6 83.0,541.3 82.5,541.5 82.9,540.6 80.1,539.0 80.9,538.9 81.3,537.0 79.3,536.6 79.5,536.4 79.2,536.0 79.5,533.2 81.8,531.9 81.8,531.6 81.3,530.6 80.7,530.1 81.3,529.5 80.9,526.8 80.4,527.1" fill="#fbfaf8"/>
<polygon points="118.0,532.9 118.2,530.3 117.7,531.8 120.4,529.0 119.1,532.0 119.9,530.9 121.6,530.6 124.5,530.1 123.8,529.4 125.6,530.8 125.9,530.5 127.3,530.1 127.0,531.5 127.7,531.9 130.5,533.8 128.7,533.3 131.4,534.2 131.8,534.7 130.3,534.6 128.6,537.9 127.1,537.8 127.4,539.6 123.7,538.4 122.2,537.6 121.6,536.5 122.4,536.0 119.7,535.4 121.1,536.0 117.4,537.1 119.2,536.1 118.1,534.7 118.2,532.9 118.1,533.2" fill="#a97a3c" stroke="#a97a3c" stroke-width="2.4" stroke-linejoin="round" opacity="1.0"/>
<polygon points="115.7,532.8 116.2,532.2 117.8,532.3 119.0,532.2 119.8,529.7 120.4,529.8 121.1,528.9 122.8,529.2 124.0,530.7 124.1,529.7 125.2,529.9 128.1,532.0 128.9,529.9 130.4,530.5 130.0,531.8 128.4,532.7 128.5,535.1 129.1,534.8 129.1,535.6 128.3,537.7 127.1,537.1 126.8,538.0 125.7,538.5 124.8,536.7 124.2,537.4 122.9,536.3 122.1,537.7 121.1,536.8 117.9,535.8 118.3,535.2 117.8,533.4 116.5,534.7 117.0,532.4" fill="#fbfaf8"/>
<polygon points="77.2,534.0 78.0,536.6 77.3,536.4 78.4,534.6 79.6,537.2 78.7,537.8 79.3,537.0 79.4,538.8 79.4,541.6 80.9,540.2 81.0,542.6 79.8,543.4 77.1,541.3 77.4,544.0 76.1,539.8 76.6,541.1 76.6,540.8 76.7,538.8 74.9,536.9 75.6,536.6" fill="#a97a3c" stroke="#a97a3c" stroke-width="2.4" stroke-linejoin="round" opacity="1.0"/>
<polygon points="76.6,533.4 77.0,533.9 77.0,534.6 79.6,535.5 80.5,537.0 79.7,538.2 78.8,537.7 78.9,539.6 78.7,541.0 78.1,541.2 78.7,541.7 77.0,540.9 75.8,541.7 76.2,541.8 74.3,542.3 74.3,539.0 75.7,539.4 75.9,538.8 74.5,536.9 75.2,536.7" fill="#fbfaf8"/>
<polygon points="100.3,542.7 98.8,542.6 102.8,539.0 103.8,541.4 102.6,541.7 104.4,539.5 106.5,540.0 107.9,538.2 108.0,537.4 108.2,539.0 108.4,538.8 112.1,538.5 111.7,538.3 113.7,538.9 112.7,541.5 114.6,541.2 116.1,541.3 116.1,541.1 115.7,542.3 116.7,543.8 119.7,544.5 116.4,545.6 115.8,548.5 118.2,549.1 117.7,549.1 115.3,549.4 115.4,549.7 113.9,550.8 113.4,553.0 112.4,550.9 111.1,553.6 109.9,551.7 107.3,553.0 108.5,552.5 107.5,552.4 106.8,550.8 105.8,552.4 102.5,549.8 102.5,551.1 103.0,547.8 102.6,548.0 102.4,547.2 98.9,546.6 100.1,546.0 100.2,543.8 99.1,542.6 101.6,543.2 98.9,541.1" fill="#a97a3c" stroke="#a97a3c" stroke-width="2.4" stroke-linejoin="round" opacity="1.0"/>
<polygon points="99.4,540.8 102.0,542.3 100.9,541.8 101.9,541.3 104.9,539.4 103.8,539.8 105.9,540.5 105.6,540.0 107.0,537.5 109.9,538.7 110.1,538.0 109.7,540.6 111.0,539.2 113.3,539.5 114.3,541.9 113.7,539.9 116.5,542.2 116.8,543.5 116.1,542.8 117.0,544.5 118.3,545.2 119.1,546.9 116.8,548.6 116.3,548.3 115.5,549.9 116.0,549.3 115.7,549.9 114.8,551.1 111.5,551.4 111.1,552.9 111.0,553.1 110.2,553.0 109.1,551.8 109.0,552.3 107.7,551.2 105.9,552.7 105.1,551.1 104.1,551.9 102.6,551.4 101.1,550.8 102.0,548.4 102.1,548.6 101.2,548.2 99.2,545.4 99.9,546.6 98.9,544.4 98.7,543.2 98.7,543.2" fill="#fbfaf8"/>
<polygon points="133.4,536.7 137.1,536.8 136.3,535.3 136.0,537.6 139.2,534.7 139.7,536.2 141.8,534.4 140.6,534.2 142.6,537.0 144.2,534.3 143.8,534.1 144.1,535.8 145.0,535.1 145.7,536.6 148.3,536.9 147.7,538.4 146.9,539.0 149.0,541.9 148.3,543.1 147.8,541.9 145.5,543.8 146.4,545.5 146.9,546.6 146.1,546.2 143.9,546.7 142.2,546.7 142.5,545.7 139.5,545.3 139.4,546.1 138.1,544.7 138.2,545.1 138.1,545.4 133.9,542.7 135.7,542.5 135.2,540.5 134.3,541.7 135.2,540.8 136.0,539.9 135.8,538.9" fill="#a97a3c" stroke="#a97a3c" stroke-width="2.4" stroke-linejoin="round" opacity="1.0"/>
<polygon points="134.8,537.2 135.1,536.8 136.8,537.1 136.1,536.8 139.6,535.2 139.5,535.2 139.3,534.6 142.5,535.8 142.3,535.2 144.4,535.1 143.2,534.4 144.4,536.2 146.8,534.7 147.8,538.1 146.1,537.1 147.0,538.3 148.2,538.8 147.4,540.0 147.0,540.5 146.3,541.9 147.1,543.7 145.0,544.8 146.2,545.7 144.7,546.7 141.9,545.7 142.8,545.6 140.8,546.0 139.8,545.2 139.4,547.1 139.4,544.6 137.5,543.4 136.7,542.5 136.7,543.6 135.9,543.2 135.8,540.3 135.6,540.0 136.0,539.3 133.4,538.7 134.4,537.2" fill="#fbfaf8"/>
<polygon points="163.6,519.9 167.5,518.2 166.4,517.4 166.7,517.4 168.3,519.6 169.3,517.0 173.1,519.6 171.2,517.3 175.4,518.0 175.1,519.6 176.1,517.8 177.4,521.0 177.4,519.8 179.3,522.6 181.1,520.2 181.3,522.0 183.0,524.5 182.0,524.9 184.3,522.8 183.4,526.5 183.7,525.4 184.8,526.1 185.0,526.5 184.0,528.9 181.5,530.8 184.0,532.0 180.9,531.4 179.9,532.7 180.8,533.9 178.2,532.1 177.1,535.1 178.3,532.8 177.6,533.8 175.4,534.8 175.6,533.6 172.9,533.1 172.3,532.1 170.6,532.8 172.7,532.2 169.8,529.4 170.8,529.8 167.6,530.5 168.9,527.6 165.6,527.0 168.7,527.0 165.1,526.5 166.2,523.5 164.3,523.4 167.4,522.6 167.3,521.4 164.7,519.4 165.5,518.6" fill="#a97a3c" stroke="#a97a3c" stroke-width="2.4" stroke-linejoin="round" opacity="1.0"/>
<polygon points="164.3,519.1 166.2,519.6 167.0,519.4 169.2,518.0 168.8,518.6 169.3,519.3 170.5,518.8 171.6,517.1 174.6,519.0 174.4,519.4 175.1,518.7 176.2,520.0 176.8,520.6 179.9,521.1 180.1,521.6 179.3,520.9 181.4,523.5 183.3,522.8 184.3,523.7 182.6,523.7 184.2,524.3 184.8,527.1 183.8,528.3 184.2,529.6 182.6,529.6 182.7,531.6 182.6,531.5 180.6,531.5 179.1,532.7 178.7,532.0 178.4,534.6 176.5,535.0 176.8,532.6 174.4,534.1 175.6,532.4 174.9,533.2 172.7,534.4 170.9,532.1 172.3,531.9 170.8,532.0 169.3,531.0 167.4,530.6 166.2,529.4 166.5,527.6 167.8,527.1 167.4,527.1 166.4,525.9 166.3,523.7 166.2,523.3 164.9,522.2 164.3,522.1 164.8,520.6" fill="#fbfaf8"/>
<polygon points="172.4,537.5 174.6,536.1 175.5,539.1 176.9,537.3 178.9,536.9 178.1,538.2 178.9,538.2 182.5,537.5 182.2,536.3 182.0,539.4 185.0,539.3 183.9,540.2 187.2,541.7 186.3,541.1 185.7,541.1 184.5,545.0 186.0,543.9 186.6,547.0 188.4,546.9 187.5,547.3 186.5,549.3 186.0,547.5 184.8,550.4 185.1,552.7 185.0,551.8 183.4,554.1 183.4,552.3 181.1,552.9 180.5,552.8 180.8,551.6 178.8,550.5 178.7,552.1 177.3,549.9 174.9,548.7 174.9,549.8 175.5,549.2 176.2,546.2 172.8,547.0 173.7,546.4 173.7,543.1 175.4,543.9 174.8,542.7 175.2,542.3 171.9,538.3 171.7,539.6" fill="#a97a3c" stroke="#a97a3c" stroke-width="2.4" stroke-linejoin="round" opacity="1.0"/>
<polygon points="172.9,539.0 174.7,537.8 176.7,538.3 176.8,537.7 176.6,538.5 179.8,535.8 181.2,536.6 180.9,537.1 182.7,537.4 183.1,538.6 182.8,539.4 184.3,540.0 185.8,541.7 185.9,542.3 185.1,541.8 185.2,543.9 185.5,545.5 185.9,545.6 187.4,545.9 186.9,546.7 184.7,547.1 185.6,548.7 184.6,551.4 184.7,551.5 182.8,551.8 182.5,552.3 181.6,551.4 180.9,552.2 180.7,553.5 179.8,550.9 177.6,551.1 176.3,550.7 176.0,551.1 175.5,550.7 175.1,547.5 176.3,548.0 173.3,548.1 173.8,546.9 174.9,545.6 174.1,544.8 174.8,541.9 173.7,542.4 173.7,540.7 172.9,541.0 174.1,539.1" fill="#fbfaf8"/>
<polygon points="168.1,552.1 168.7,551.4 168.5,551.4 169.7,550.5 170.2,551.2 169.8,552.9 174.0,550.4 174.0,552.2 174.2,552.9 176.0,552.3 175.9,553.6 179.2,555.6 179.4,554.4 180.8,556.8 180.5,555.0 178.6,556.2 178.5,559.5 178.5,558.7 176.1,558.0 177.3,561.0 176.3,557.5 172.9,558.0 172.4,558.2 171.4,558.6 170.9,558.3 169.5,556.1 170.0,557.0 168.7,556.1 165.7,557.5 166.9,553.4 168.4,555.1" fill="#a97a3c" stroke="#a97a3c" stroke-width="2.4" stroke-linejoin="round" opacity="1.0"/>
<polygon points="166.5,552.8 166.4,553.0 167.9,552.5 168.4,551.9 170.3,551.8 172.6,552.0 173.6,552.7 173.2,552.6 174.3,551.5 175.0,553.8 175.0,553.1 176.3,552.9 178.8,554.4 179.6,554.6 179.0,556.5 178.3,558.5 177.4,558.7 178.1,558.3 177.3,559.4 175.3,559.6 175.3,559.5 173.5,560.4 171.1,560.0 170.9,558.5 171.3,558.3 169.1,558.4 168.5,556.3 168.5,557.1 167.3,555.8 167.9,554.4 165.5,554.8" fill="#fbfaf8"/>
<polygon points="177.0,560.9 178.5,561.8 177.5,562.1 177.6,560.4 179.5,560.4 181.4,560.9 181.4,560.3 181.7,562.7 185.0,562.2 185.5,563.0 186.2,563.5 184.8,565.2 185.3,567.6 181.9,566.2 182.5,567.7 180.7,570.3 182.3,566.7 177.9,568.8 180.3,569.6 178.4,568.9 176.6,567.9 177.9,565.5 177.1,566.7 175.0,565.9 174.9,565.6 176.9,562.8" fill="#a97a3c" stroke="#a97a3c" stroke-width="2.4" stroke-linejoin="round" opacity="1.0"/>
<polygon points="175.1,561.5 177.2,561.4 176.7,561.7 178.0,562.6 179.4,561.9 180.7,561.6 183.1,560.2 182.0,560.6 183.5,562.4 183.9,562.6 185.6,564.7 185.9,566.6 182.9,566.9 182.0,567.1 183.5,570.1 181.0,567.3 179.4,567.5 180.0,568.9 180.1,569.4 176.8,568.4 177.2,568.1 175.8,566.0 176.9,565.4 176.2,564.8 175.9,563.8 175.3,564.2" fill="#fbfaf8"/>
<polygon points="143.7,561.7 145.4,561.7 147.5,561.8 146.0,559.7 148.2,560.2 151.2,561.3 150.5,559.7 150.6,561.2 154.2,560.2 153.4,561.4 155.0,561.7 154.0,563.8 155.9,564.2 157.9,565.0 157.8,566.8 154.5,565.8 156.5,567.7 154.0,570.0 155.3,568.9 153.8,568.2 152.9,568.4 152.4,571.6 149.7,569.4 150.1,571.9 147.5,569.5 148.0,568.0 145.0,569.5 145.9,568.3 145.4,565.5 144.9,566.0 144.8,563.8 143.0,564.1 145.0,563.7 145.6,561.6" fill="#a97a3c" stroke="#a97a3c" stroke-width="2.4" stroke-linejoin="round" opacity="1.0"/>
<polygon points="143.2,560.4 145.6,559.7 147.0,561.5 147.4,561.8 147.4,560.6 150.4,561.6 149.4,559.0 152.2,562.2 151.3,561.1 154.2,561.8 156.0,562.4 154.6,563.7 155.2,563.8 155.1,564.8 156.2,566.2 156.2,567.5 156.5,567.5 156.0,568.6 155.9,570.0 154.7,568.6 153.9,568.3 152.0,570.8 150.7,569.8 150.5,569.9 148.0,571.1 147.8,568.1 146.0,569.3 146.1,568.3 145.9,566.2 144.1,565.7 144.4,565.6 144.7,563.8 145.0,563.2 143.7,562.4" fill="#fbfaf8"/>
<polygon points="146.8,576.6 150.4,573.4 150.8,574.1 153.0,576.3 151.9,575.2 153.7,574.0 154.5,574.3 155.6,576.3 157.6,572.9 157.2,576.2 159.8,574.8 160.4,575.6 159.6,575.1 161.1,574.8 163.6,574.7 162.8,577.7 164.7,577.1 163.8,579.9 160.6,581.0 160.0,580.2 159.0,579.7 160.0,582.5 157.0,580.8 157.7,581.9 154.9,582.3 153.7,583.3 154.7,582.4 154.6,581.0 150.9,582.5 152.3,583.0 150.9,581.2 148.3,581.2 148.2,580.9 148.8,578.4 148.7,576.3 147.6,577.3" fill="#a97a3c" stroke="#a97a3c" stroke-width="2.4" stroke-linejoin="round" opacity="1.0"/>
<polygon points="147.2,574.4 150.5,574.1 149.3,576.3 150.6,575.2 151.4,575.1 154.8,573.6 155.5,575.2 154.5,573.5 157.8,574.7 157.1,575.1 157.8,573.7 160.7,574.4 160.3,576.2 161.5,574.9 163.3,577.3 163.8,576.2 163.9,577.5 161.8,579.4 162.6,580.1 161.7,580.9 161.0,582.3 158.4,581.2 157.9,581.5 158.1,582.3 155.6,583.0 155.8,580.5 154.0,580.6 152.5,581.5 151.0,581.5 151.8,581.1 148.8,581.7 149.7,580.7 147.6,580.6 149.1,577.5 148.6,577.2 148.0,576.5" fill="#fbfaf8"/>
<polygon points="108.2,564.4 110.8,564.7 111.6,564.1 113.9,565.8 112.3,563.3 115.3,566.1 114.4,563.0 117.8,565.6 116.9,562.8 119.1,566.1 118.5,564.0 121.6,565.5 122.9,565.1 121.4,566.4 124.6,566.2 124.0,564.3 127.3,566.9 125.0,564.2 126.1,566.7 127.5,565.3 129.5,568.5 130.3,565.7 130.1,566.8 130.4,567.5 129.2,569.0 129.3,569.6 128.5,571.9 130.6,572.2 127.3,572.8 126.1,572.2 125.8,575.4 124.1,574.4 122.9,574.3 125.4,576.5 122.5,574.5 120.6,575.7 120.2,574.8 117.6,576.8 120.0,577.6 117.1,575.6 114.6,577.9 114.8,574.0 115.7,575.6 113.8,574.7 110.9,575.2 111.8,573.6 112.2,571.3 112.1,571.7 108.7,571.5 111.2,570.3 109.4,568.4 109.8,567.8" fill="#a97a3c" stroke="#a97a3c" stroke-width="2.4" stroke-linejoin="round" opacity="1.0"/>
<polygon points="109.3,565.7 110.7,566.5 111.5,565.6 111.9,564.4 113.8,565.5 115.4,564.2 116.4,563.7 116.3,564.9 118.2,565.2 119.4,565.5 119.1,564.1 120.3,565.8 121.1,566.1 121.5,566.0 122.4,565.4 123.9,566.4 124.9,564.6 126.4,566.3 126.7,566.0 129.0,567.5 129.2,567.8 131.5,568.2 132.0,566.2 131.8,567.2 131.3,569.0 131.3,569.9 129.6,571.3 129.2,573.1 128.0,573.6 127.9,574.8 127.8,573.2 126.0,573.4 125.3,575.0 123.2,574.2 122.9,574.3 120.3,574.9 119.1,575.0 118.0,575.4 118.2,575.5 115.9,574.8 117.1,577.2 113.8,576.2 114.4,576.1 113.9,573.2 113.1,575.0 111.8,572.4 111.8,571.3 111.8,571.2 109.2,570.4 110.1,569.0 109.7,568.1 110.0,568.1" fill="#fbfaf8"/>
<polygon points="129.0,551.4 127.3,551.0 130.7,553.5 132.7,552.8 132.6,552.6 133.2,552.0 133.1,550.0 136.6,553.5 137.8,554.0 137.3,552.6 139.1,554.6 140.0,556.3 140.5,556.4 139.9,556.8 139.0,558.2 138.0,560.9 138.3,561.0 136.1,559.2 135.8,559.9 132.9,561.5 132.1,560.9 129.8,561.1 132.0,559.8 130.9,558.8 129.8,557.5 127.7,558.4 128.7,557.3 127.4,553.8 127.9,553.9" fill="#a97a3c" stroke="#a97a3c" stroke-width="2.4" stroke-linejoin="round" opacity="1.0"/>
<polygon points="126.9,551.2 127.9,552.8 130.4,552.7 130.3,550.8 132.6,552.2 133.4,551.9 134.6,552.7 136.6,551.8 134.9,553.1 136.7,555.2 137.8,554.0 138.3,554.2 139.3,556.5 137.5,555.7 138.4,558.3 137.1,560.0 136.2,561.4 137.0,561.1 135.6,559.2 133.8,560.1 131.0,560.2 130.5,561.0 129.6,560.3 129.7,559.7 128.8,556.3 128.2,556.0 128.0,555.7 128.4,555.2 127.1,554.4" fill="#fbfaf8"/>
<polygon points="84.2,567.2 84.9,564.9 85.8,567.5 86.3,566.4 86.5,566.0 88.8,567.6 89.9,565.9 90.0,566.9 90.9,565.1 92.6,567.5 94.5,567.9 94.8,568.3 95.0,568.0 95.7,569.2 95.2,570.4 95.9,571.9 94.5,573.1 95.0,574.0 95.1,576.1 92.6,575.8 92.6,573.9 90.8,575.0 89.6,575.6 90.8,577.0 87.4,574.6 88.2,575.1 84.8,574.1 84.4,576.0 83.8,573.5 82.2,574.2 83.8,570.1 84.0,572.1 83.4,570.0 84.9,568.5 83.4,569.2" fill="#a97a3c" stroke="#a97a3c" stroke-width="2.4" stroke-linejoin="round" opacity="1.0"/>
<polygon points="83.9,566.7 84.7,565.3 84.2,565.6 85.3,565.5 88.0,567.6 87.2,567.1 90.3,566.4 91.8,565.4 92.4,568.0 93.1,567.5 92.2,569.4 94.0,569.8 95.1,570.8 96.5,571.3 95.5,570.2 96.5,572.2 95.3,572.7 94.8,575.5 93.7,576.6 93.6,575.0 90.8,575.0 91.1,574.6 91.1,574.8 87.9,575.4 88.6,577.2 87.2,575.8 86.0,575.4 84.2,572.9 83.9,573.8 82.8,573.2 84.0,571.6 82.3,571.8 84.1,570.1 82.7,570.2 83.8,567.6" fill="#fbfaf8"/>
<polygon points="104.4,585.3 106.0,585.2 107.1,584.9 108.6,586.5 109.0,587.2 108.9,587.7 111.5,584.7 112.4,585.5 112.0,586.4 115.4,586.2 116.4,587.5 116.9,586.4 119.5,587.8 117.8,585.1 121.5,587.2 119.3,585.8 121.4,586.7 122.2,586.5 124.3,588.9 125.4,590.1 123.4,588.9 127.2,591.1 124.1,590.0 124.9,592.8 123.1,592.1 122.4,592.1 120.3,592.5 119.9,593.0 119.8,590.8 117.3,591.3 114.8,590.8 116.9,591.0 112.8,591.2 113.6,592.5 111.5,591.7 110.2,592.9 109.9,592.2 110.5,591.7 107.9,591.6 107.2,591.5 108.3,589.3 105.5,587.9 105.6,588.8" fill="#a97a3c" stroke="#a97a3c" stroke-width="2.4" stroke-linejoin="round" opacity="1.0"/>
<polygon points="105.2,585.3 105.8,587.0 107.0,586.0 108.7,587.1 109.0,586.4 111.0,585.2 112.4,586.6 113.4,586.8 114.2,586.3 116.1,584.7 115.8,586.3 116.7,586.4 118.5,586.6 120.0,586.1 119.5,587.1 120.3,587.6 123.3,588.3 122.9,585.9 123.7,586.8 124.3,589.5 125.9,589.4 126.4,591.2 125.9,590.8 124.6,592.0 121.9,591.4 121.5,592.5 120.9,590.0 118.5,591.5 119.5,590.4 117.2,590.7 117.0,592.0 115.8,592.5 115.2,592.2 113.9,592.4 111.9,590.1 112.2,591.0 110.0,590.3 109.3,590.2 107.0,589.8 105.6,590.6 107.3,590.8 105.6,588.0 106.8,588.8" fill="#fbfaf8"/>
<circle cx="177.5" cy="527" r="2.2" fill="#c09a70"/>
</g>
</g>
<g filter="url(#fSoft)">
<clipPath id="c1p5"><polygon points="333.0,543.0 332.3,546.1 331.1,550.7 331.1,554.8 329.9,558.6 328.4,562.5 327.6,565.5 325.4,569.6 322.7,572.8 321.3,575.6 318.6,579.4 315.8,581.8 311.6,585.3 309.4,587.3 304.8,589.3 302.1,591.5 298.8,593.9 293.7,595.6 289.9,597.4 286.7,597.8 282.1,599.0 278.1,599.9 272.6,599.2 269.2,599.2 264.9,598.5 261.2,598.7 255.8,598.1 252.0,596.2 248.2,594.8 243.9,594.3 240.9,591.1 237.4,589.0 233.2,588.1 230.4,584.5 226.9,581.9 223.6,579.9 220.9,575.9 219.6,572.5 217.8,568.9 216.0,566.3 213.9,562.6 212.2,558.7 211.7,554.4 210.5,550.8 209.9,545.8 210.3,542.1 210.0,539.0 210.0,533.8 210.6,530.8 212.1,526.4 213.5,523.7 214.8,519.2 217.7,515.9 218.8,512.3 221.6,508.4 224.0,505.6 227.6,502.6 230.4,500.9 234.1,497.4 237.1,495.0 240.4,493.1 244.8,492.0 247.9,488.9 252.2,487.6 255.6,487.6 259.9,486.7 264.6,486.5 269.6,484.8 272.8,486.3 277.8,485.7 282.3,486.9 286.0,487.1 289.5,488.1 293.6,489.9 298.2,490.7 302.1,492.5 304.8,495.5 308.9,498.2 312.4,500.5 314.7,503.4 317.5,506.1 321.5,509.6 323.8,512.2 325.6,516.2 326.6,520.0 329.5,522.9 330.6,526.7 330.8,531.0 331.2,535.0 333.1,538.2"/></clipPath>
<rect x="207.00" y="483.10" width="130.10" height="117.70" fill="#f3f3f5" />
<polygon points="333.0,543.0 332.3,546.1 331.1,550.7 331.1,554.8 329.9,558.6 328.4,562.5 327.6,565.5 325.4,569.6 322.7,572.8 321.3,575.6 318.6,579.4 315.8,581.8 311.6,585.3 309.4,587.3 304.8,589.3 302.1,591.5 298.8,593.9 293.7,595.6 289.9,597.4 286.7,597.8 282.1,599.0 278.1,599.9 272.6,599.2 269.2,599.2 264.9,598.5 261.2,598.7 255.8,598.1 252.0,596.2 248.2,594.8 243.9,594.3 240.9,591.1 237.4,589.0 233.2,588.1 230.4,584.5 226.9,581.9 223.6,579.9 220.9,575.9 219.6,572.5 217.8,568.9 216.0,566.3 213.9,562.6 212.2,558.7 211.7,554.4 210.5,550.8 209.9,545.8 210.3,542.1 210.0,539.0 210.0,533.8 210.6,530.8 212.1,526.4 213.5,523.7 214.8,519.2 217.7,515.9 218.8,512.3 221.6,508.4 224.0,505.6 227.6,502.6 230.4,500.9 234.1,497.4 237.1,495.0 240.4,493.1 244.8,492.0 247.9,488.9 252.2,487.6 255.6,487.6 259.9,486.7 264.6,486.5 269.6,484.8 272.8,486.3 277.8,485.7 282.3,486.9 286.0,487.1 289.5,488.1 293.6,489.9 298.2,490.7 302.1,492.5 304.8,495.5 308.9,498.2 312.4,500.5 314.7,503.4 317.5,506.1 321.5,509.6 323.8,512.2 325.6,516.2 326.6,520.0 329.5,522.9 330.6,526.7 330.8,531.0 331.2,535.0 333.1,538.2" fill="#c4b9ad" stroke="none" stroke-width="0" stroke-linejoin="round" />
<rect x="207" y="483.1" width="130.10000000000002" height="117.69999999999993" fill="#000" filter="url(#fPatchB)" clip-path="url(#c1p5)"/>
<rect x="207" y="483.1" width="130.10000000000002" height="117.69999999999993" fill="#000" filter="url(#fPatchU)" clip-path="url(#c1p5)"/>
<rect x="207" y="483.1" width="130.10000000000002" height="117.69999999999993" fill="#000" filter="url(#fGrain2)" clip-path="url(#c1p5)"/>
<rect x="207" y="483.1" width="130.10000000000002" height="117.69999999999993" fill="#000" filter="url(#fBlue2)" clip-path="url(#c1p5)"/>
<rect x="207" y="483.1" width="130.10000000000002" height="117.69999999999993" fill="#000" filter="url(#fWhiteS)" clip-path="url(#c1p5)"/>
<g clip-path="url(#c1p5)">
<ellipse cx="232" cy="520" rx="18" ry="22" fill="#b98c55" opacity="0.25" filter="url(#fBlur)"/>
<ellipse cx="272" cy="585" rx="40" ry="8" fill="#a88050" opacity="0.3" filter="url(#fBlur)"/>
<polygon points="254.8,586.9 256.3,586.3 259.3,586.5 260.3,586.0 261.9,585.7 263.7,583.8 264.2,586.5 264.7,588.0 265.5,590.0 263.7,591.9 262.6,593.5 262.4,596.1 259.4,595.5 257.9,595.2 256.8,594.5 257.1,593.1 256.6,590.4 255.2,589.2" fill="#a27a4e" stroke="#a27a4e" stroke-width="1.4" stroke-linejoin="round" opacity="1.0"/>
<polygon points="255.2,587.0 257.1,586.0 259.4,585.6 261.0,585.1 262.5,585.3 263.7,584.0 263.8,587.0 264.5,588.7 265.8,590.3 264.2,591.7 262.6,594.2 261.6,595.5 260.1,595.7 259.2,594.7 256.9,595.0 257.1,593.1 255.7,590.8 256.2,589.6" fill="#fbfaf8"/>
<polygon points="265.2,584.1 266.3,582.9 268.6,584.0 270.0,583.5 271.1,582.6 273.2,582.2 275.5,583.0 277.0,583.2 278.3,581.9 280.1,583.1 282.2,582.0 283.0,582.5 285.0,583.8 284.3,584.0 285.0,587.3 284.4,587.5 281.9,588.3 281.5,588.8 278.5,589.6 278.1,590.1 276.9,590.9 274.5,590.6 272.0,591.7 271.5,590.4 268.5,589.9 266.4,590.4 266.4,589.0 265.5,586.6 265.3,585.2" fill="#a27a4e" stroke="#a27a4e" stroke-width="1.4" stroke-linejoin="round" opacity="1.0"/>
<polygon points="264.4,583.8 267.0,584.0 268.9,582.6 269.8,583.5 271.7,582.8 273.3,582.1 275.7,582.4 277.4,582.0 278.3,582.0 279.7,583.0 282.3,582.5 283.6,582.4 285.0,583.6 285.1,584.7 283.8,586.4 283.4,588.7 282.9,588.7 281.0,589.2 279.6,589.6 277.0,590.9 275.7,591.1 273.7,591.8 272.2,591.1 270.1,591.2 268.9,590.2 266.3,591.2 266.6,589.5 265.2,587.4 265.0,585.8" fill="#fbfaf8"/>
<polygon points="284.3,582.8 287.0,581.4 289.2,581.9 291.1,581.6 292.7,581.6 293.8,580.1 296.4,580.4 297.4,582.3 298.6,581.2 300.2,581.4 302.5,581.9 300.1,583.7 299.3,584.2 297.7,586.7 296.6,586.5 295.0,587.2 292.4,587.0 292.0,586.6 289.4,586.9 288.1,586.8 286.8,585.1 285.3,584.0" fill="#a27a4e" stroke="#a27a4e" stroke-width="1.4" stroke-linejoin="round" opacity="1.0"/>
<polygon points="285.5,581.8 286.4,581.6 288.6,582.0 290.8,581.5 292.0,581.1 293.8,580.9 295.5,581.7 297.2,581.4 299.4,582.0 301.0,582.6 302.3,581.9 300.2,583.6 300.3,584.6 298.6,585.9 296.8,586.8 294.7,586.3 293.5,586.5 291.8,586.7 290.0,587.4 288.8,586.5 287.6,584.6 285.5,582.8" fill="#fbfaf8"/>
<polygon points="245.3,588.3 247.3,588.2 248.8,588.4 250.9,587.9 253.1,587.6 252.6,590.1 255.4,591.9 253.4,590.9 250.6,591.4 248.9,591.4 247.3,592.0 246.3,591.2" fill="#a27a4e" stroke="#a27a4e" stroke-width="1.4" stroke-linejoin="round" opacity="1.0"/>
<polygon points="245.3,588.9 246.9,588.5 248.3,588.5 250.2,588.8 252.0,588.9 254.0,589.2 254.9,591.3 252.5,591.1 250.6,591.1 249.2,591.9 247.2,592.2 247.0,591.3" fill="#fbfaf8"/>
<polygon points="225.1,521.2 227.0,520.7 229.7,520.9 230.1,522.4 230.3,523.5 231.3,525.6 231.0,526.5 231.4,528.0 231.9,529.7 231.9,532.4 232.1,534.0 231.4,535.4 231.4,537.2 229.0,537.9 226.8,538.0 226.2,537.3 226.7,535.3 225.9,534.1 224.9,532.6 224.1,530.7 224.5,528.8 224.6,527.2 224.9,525.0 225.5,523.7" fill="#a88458" stroke="#a88458" stroke-width="1.2" stroke-linejoin="round" opacity="1.0"/>
<polygon points="225.5,521.7 227.4,520.5 230.0,520.2 230.1,522.2 230.6,523.6 230.6,524.9 231.9,527.1 231.7,528.5 231.3,530.1 231.3,532.3 231.8,534.2 231.5,535.2 230.9,537.7 229.3,537.7 227.5,538.3 226.5,537.2 225.7,535.7 225.1,533.9 225.1,532.6 223.9,530.5 224.7,528.4 224.8,527.3 225.1,525.7 224.7,523.4" fill="#fbfaf8"/>
<polygon points="239.1,524.7 240.0,524.7 243.0,524.1 244.4,524.3 244.9,526.1 245.9,528.7 244.9,529.6 243.7,529.9 242.5,531.2 240.4,530.0 238.2,530.0 238.9,527.8" fill="#a88458" stroke="#a88458" stroke-width="1.2" stroke-linejoin="round" opacity="1.0"/>
<polygon points="238.3,524.8 240.8,525.2 242.0,524.0 244.6,524.5 245.4,526.3 246.1,527.9 244.8,529.3 243.9,530.5 242.2,531.4 240.5,530.1 238.5,529.8 238.5,527.7" fill="#fbfaf8"/>
<polygon points="212.4,531.3 213.5,530.2 216.6,529.8 216.6,531.8 217.4,533.7 216.9,534.7 215.6,537.0 215.1,538.2 212.8,536.8 211.6,535.5 211.8,532.7" fill="#a88458" stroke="#a88458" stroke-width="1.2" stroke-linejoin="round" opacity="1.0"/>
<polygon points="212.2,531.1 214.4,530.7 216.5,529.9 216.8,532.1 217.2,533.8 217.3,534.8 215.3,536.7 214.6,537.7 213.6,536.1 211.5,535.6 212.5,533.0" fill="#fbfaf8"/>
<polygon points="228.6,542.6 230.4,542.2 232.1,541.0 232.6,543.1 232.9,545.9 231.1,546.8 228.4,546.1 228.7,544.4" fill="#a88458" stroke="#a88458" stroke-width="1.2" stroke-linejoin="round" opacity="1.0"/>
<polygon points="228.8,542.3 230.4,541.9 233.0,541.4 233.1,544.2 233.1,546.4 230.6,546.7 228.9,546.8 229.1,544.0" fill="#fbfaf8"/>
<polygon points="253.0,515.4 255.0,515.7 257.5,514.9 258.2,517.0 258.5,518.4 255.7,518.8 253.4,519.0 253.4,517.2" fill="#a88458" stroke="#a88458" stroke-width="1.2" stroke-linejoin="round" opacity="1.0"/>
<polygon points="253.3,515.8 256.0,515.5 258.2,515.5 257.8,517.4 258.5,518.8 256.3,518.6 253.9,519.6 253.8,518.0" fill="#fbfaf8"/>
<polygon points="235.1,505.6 236.3,505.6 238.1,504.8 238.8,508.2 236.9,507.6 235.2,508.1" fill="#a88458" stroke="#a88458" stroke-width="1.2" stroke-linejoin="round" opacity="1.0"/>
<polygon points="235.1,505.6 237.1,505.3 238.6,505.7 239.5,508.0 237.9,507.8 236.2,508.8" fill="#fbfaf8"/>
</g>
</g>
<g filter="url(#fSoft)">
<rect x="397.00" y="483.10" width="125.50" height="118.50" fill="#f3f3f5" />
<clipPath id="c2b5p"><polygon points="402.2,545.3 402.6,542.3 402.1,541.7 402.6,537.8 401.8,536.7 401.3,535.4 401.2,532.0 402.1,530.3 401.0,527.4 401.8,524.6 402.5,524.1 402.5,522.3 404.2,519.4 404.0,516.2 402.9,516.2 404.5,512.3 407.0,511.6 406.1,508.6 407.4,506.5 407.8,505.1 409.5,502.7 410.8,500.5 412.1,500.7 415.4,498.3 415.5,495.8 417.1,494.6 418.9,493.3 421.3,491.9 424.4,491.3 425.9,489.9 428.1,489.7 429.5,487.5 432.0,487.7 434.7,486.6 436.9,485.8 438.1,486.4 439.6,486.9 442.5,484.9 444.0,485.8 444.9,484.3 448.2,485.6 449.9,484.6 452.0,483.9 452.6,487.7 451.3,487.5 450.8,491.5 450.2,491.9 449.6,495.4 450.3,496.5 448.3,499.6 447.1,501.8 444.0,503.2 443.4,504.7 441.1,505.5 438.7,507.5 440.0,509.6 439.9,510.5 439.1,513.9 438.9,515.2 437.1,519.2 435.1,520.3 435.2,520.6 434.0,522.1 430.0,523.9 429.7,525.7 429.4,525.7 426.3,527.3 427.4,531.7 425.5,532.6 425.2,536.8 425.4,539.3 425.4,541.3 424.4,541.8 420.1,544.5 419.2,543.8 415.7,544.4 413.9,545.4 411.9,545.3 409.0,545.1 407.1,544.6 405.8,544.5 404.7,545.3"/></clipPath>
<polygon points="402.2,545.3 402.6,542.3 402.1,541.7 402.6,537.8 401.8,536.7 401.3,535.4 401.2,532.0 402.1,530.3 401.0,527.4 401.8,524.6 402.5,524.1 402.5,522.3 404.2,519.4 404.0,516.2 402.9,516.2 404.5,512.3 407.0,511.6 406.1,508.6 407.4,506.5 407.8,505.1 409.5,502.7 410.8,500.5 412.1,500.7 415.4,498.3 415.5,495.8 417.1,494.6 418.9,493.3 421.3,491.9 424.4,491.3 425.9,489.9 428.1,489.7 429.5,487.5 432.0,487.7 434.7,486.6 436.9,485.8 438.1,486.4 439.6,486.9 442.5,484.9 444.0,485.8 444.9,484.3 448.2,485.6 449.9,484.6 452.0,483.9 452.6,487.7 451.3,487.5 450.8,491.5 450.2,491.9 449.6,495.4 450.3,496.5 448.3,499.6 447.1,501.8 444.0,503.2 443.4,504.7 441.1,505.5 438.7,507.5 440.0,509.6 439.9,510.5 439.1,513.9 438.9,515.2 437.1,519.2 435.1,520.3 435.2,520.6 434.0,522.1 430.0,523.9 429.7,525.7 429.4,525.7 426.3,527.3 427.4,531.7 425.5,532.6 425.2,536.8 425.4,539.3 425.4,541.3 424.4,541.8 420.1,544.5 419.2,543.8 415.7,544.4 413.9,545.4 411.9,545.3 409.0,545.1 407.1,544.6 405.8,544.5 404.7,545.3" fill="#f2ede8" stroke="none" stroke-width="0" stroke-linejoin="round" />
<rect x="397" y="483.1" width="125.5" height="118.5" fill="#000" filter="url(#fFrag)" clip-path="url(#c2b5p)"/>
<clipPath id="c2b5"><polygon points="423.7,543.2 424.9,541.4 425.6,538.2 426.3,536.0 425.8,532.8 426.8,530.4 427.0,528.7 429.2,527.1 429.2,523.9 430.8,522.9 433.5,522.2 435.3,520.6 436.4,518.9 437.5,517.6 438.8,516.1 439.8,513.5 440.5,511.0 440.2,509.2 439.1,507.3 440.2,504.6 442.1,504.6 444.9,502.3 446.8,500.7 448.8,498.3 450.4,497.9 447.9,496.3 445.3,495.4 443.5,494.8 441.2,494.2 439.3,494.0 437.5,492.5 436.1,491.7 433.1,491.7 435.2,490.8 436.7,489.7 437.5,488.4 439.7,486.7 442.6,487.1 444.0,486.0 446.0,486.7 448.8,485.1 450.8,484.4 452.4,484.9 455.9,485.1 457.2,484.9 458.8,484.7 462.3,483.7 464.4,485.1 465.5,484.7 468.7,483.4 469.9,484.2 472.5,484.6 474.5,486.4 476.6,487.4 478.6,488.2 479.1,489.9 479.8,491.9 481.0,493.8 481.4,495.6 483.8,497.2 484.9,499.8 484.9,500.5 487.7,502.4 488.7,502.5 491.5,503.0 492.3,502.9 495.4,504.2 495.1,505.9 495.2,509.0 494.2,511.4 493.6,513.1 496.0,514.8 498.8,514.7 500.5,515.6 502.7,517.7 504.3,517.2 505.0,518.9 506.7,520.2 507.2,521.8 510.0,524.2 511.3,526.3 512.1,527.6 512.9,529.2 513.4,530.9 514.3,532.9 516.8,535.9 517.4,536.2 518.9,539.1 518.7,540.8 519.2,542.7 518.3,544.9 518.8,546.5 519.1,549.4 520.4,550.5 520.7,552.2 521.5,554.5 520.2,556.8 520.2,558.9 518.4,561.6 518.6,562.6 518.2,565.7 517.7,567.5 516.4,568.5 515.3,571.7 515.1,572.8 515.5,574.3 514.3,576.5 511.5,578.4 511.0,578.5 509.3,581.1 507.4,581.8 507.1,582.9 504.6,584.3 503.1,585.8 500.8,586.0 498.7,588.1 497.6,589.0 494.9,590.2 494.1,590.4 492.5,590.4 490.2,591.6 487.2,593.0 485.2,593.4 483.6,594.1 481.2,594.0 480.9,594.6 478.2,595.0 476.2,595.3 473.6,595.6 472.6,596.2 470.4,597.8 468.8,597.6 466.7,597.3 464.1,596.3 461.2,596.6 460.0,597.0 457.1,597.2 455.7,596.8 453.3,597.5 452.5,597.4 449.3,596.1 448.8,597.2 446.8,596.8 444.5,596.3 440.8,596.3 439.5,594.7 436.9,594.2 434.2,591.9 432.5,591.2 431.3,589.9 428.4,588.8 426.5,587.4 424.4,587.1 423.6,585.6 422.4,584.8 419.8,583.4 418.8,581.3 416.6,579.7 416.1,576.3 413.5,574.9 413.3,572.9 412.0,571.8 411.1,568.6 410.6,567.2 410.3,564.9 409.9,564.6 408.9,561.7 407.1,558.9 407.1,558.5 405.7,556.2 406.0,554.2 404.4,552.0 403.2,549.6 402.2,548.1 402.5,546.1 403.5,542.9 402.6,541.6 403.3,539.4 404.5,536.7 403.4,535.1 405.9,533.3 406.1,531.4 408.7,530.5 409.6,527.7 411.8,529.7 413.6,531.2 416.1,532.2 416.1,534.7 417.5,535.9 418.2,538.8 420.0,540.5 420.9,541.8"/></clipPath>
<polygon points="423.7,543.2 424.9,541.4 425.6,538.2 426.3,536.0 425.8,532.8 426.8,530.4 427.0,528.7 429.2,527.1 429.2,523.9 430.8,522.9 433.5,522.2 435.3,520.6 436.4,518.9 437.5,517.6 438.8,516.1 439.8,513.5 440.5,511.0 440.2,509.2 439.1,507.3 440.2,504.6 442.1,504.6 444.9,502.3 446.8,500.7 448.8,498.3 450.4,497.9 447.9,496.3 445.3,495.4 443.5,494.8 441.2,494.2 439.3,494.0 437.5,492.5 436.1,491.7 433.1,491.7 435.2,490.8 436.7,489.7 437.5,488.4 439.7,486.7 442.6,487.1 444.0,486.0 446.0,486.7 448.8,485.1 450.8,484.4 452.4,484.9 455.9,485.1 457.2,484.9 458.8,484.7 462.3,483.7 464.4,485.1 465.5,484.7 468.7,483.4 469.9,484.2 472.5,484.6 474.5,486.4 476.6,487.4 478.6,488.2 479.1,489.9 479.8,491.9 481.0,493.8 481.4,495.6 483.8,497.2 484.9,499.8 484.9,500.5 487.7,502.4 488.7,502.5 491.5,503.0 492.3,502.9 495.4,504.2 495.1,505.9 495.2,509.0 494.2,511.4 493.6,513.1 496.0,514.8 498.8,514.7 500.5,515.6 502.7,517.7 504.3,517.2 505.0,518.9 506.7,520.2 507.2,521.8 510.0,524.2 511.3,526.3 512.1,527.6 512.9,529.2 513.4,530.9 514.3,532.9 516.8,535.9 517.4,536.2 518.9,539.1 518.7,540.8 519.2,542.7 518.3,544.9 518.8,546.5 519.1,549.4 520.4,550.5 520.7,552.2 521.5,554.5 520.2,556.8 520.2,558.9 518.4,561.6 518.6,562.6 518.2,565.7 517.7,567.5 516.4,568.5 515.3,571.7 515.1,572.8 515.5,574.3 514.3,576.5 511.5,578.4 511.0,578.5 509.3,581.1 507.4,581.8 507.1,582.9 504.6,584.3 503.1,585.8 500.8,586.0 498.7,588.1 497.6,589.0 494.9,590.2 494.1,590.4 492.5,590.4 490.2,591.6 487.2,593.0 485.2,593.4 483.6,594.1 481.2,594.0 480.9,594.6 478.2,595.0 476.2,595.3 473.6,595.6 472.6,596.2 470.4,597.8 468.8,597.6 466.7,597.3 464.1,596.3 461.2,596.6 460.0,597.0 457.1,597.2 455.7,596.8 453.3,597.5 452.5,597.4 449.3,596.1 448.8,597.2 446.8,596.8 444.5,596.3 440.8,596.3 439.5,594.7 436.9,594.2 434.2,591.9 432.5,591.2 431.3,589.9 428.4,588.8 426.5,587.4 424.4,587.1 423.6,585.6 422.4,584.8 419.8,583.4 418.8,581.3 416.6,579.7 416.1,576.3 413.5,574.9 413.3,572.9 412.0,571.8 411.1,568.6 410.6,567.2 410.3,564.9 409.9,564.6 408.9,561.7 407.1,558.9 407.1,558.5 405.7,556.2 406.0,554.2 404.4,552.0 403.2,549.6 402.2,548.1 402.5,546.1 403.5,542.9 402.6,541.6 403.3,539.4 404.5,536.7 403.4,535.1 405.9,533.3 406.1,531.4 408.7,530.5 409.6,527.7 411.8,529.7 413.6,531.2 416.1,532.2 416.1,534.7 417.5,535.9 418.2,538.8 420.0,540.5 420.9,541.8" fill="#b0a096" stroke="none" stroke-width="0" stroke-linejoin="round" />
<rect x="397" y="483.1" width="125.5" height="118.5" fill="#000" filter="url(#fBrown2)" clip-path="url(#c2b5)"/>
<rect x="397" y="483.1" width="125.5" height="118.5" fill="#000" filter="url(#fBlue2)" clip-path="url(#c2b5)"/>
<g clip-path="url(#c2b5)">
<polygon points="487.1,540.5 489.1,539.5 489.8,538.4 492.0,536.7 494.0,535.9 494.7,533.5 497.2,532.7 498.9,531.0 500.9,529.0 502.4,529.4 503.1,529.7 505.1,528.5 507.6,528.0 509.3,527.5 512.7,527.2 512.2,529.0 514.6,531.9 515.3,534.6 515.5,535.3 516.2,537.0 517.5,540.3 518.2,541.7 519.9,543.8 520.3,545.1 518.9,546.9 520.1,549.2 519.5,550.9 519.0,553.0 519.1,556.3 517.3,558.2 517.2,560.9 515.2,559.3 514.5,560.2 510.5,559.9 510.0,559.3 507.7,559.6 504.9,559.8 502.0,559.2 500.8,559.1 498.7,557.6 496.6,557.3 495.1,556.3 492.7,555.7 490.1,555.7 489.5,554.4 489.8,551.0 489.6,550.3 487.7,548.4 488.7,545.7 488.5,543.3 487.3,541.5" fill="#b98a4c" stroke="none" stroke-width="0" stroke-linejoin="round" opacity="0.6"/>
<polygon points="478.7,505.0 482.1,505.1 483.9,505.3 484.4,505.1 487.1,505.6 489.6,505.5 491.9,505.9 494.7,507.0 494.9,508.4 497.3,509.3 497.0,511.2 499.5,513.0 499.6,515.2 501.1,517.3 502.1,518.4 503.8,521.0 502.1,522.5 501.5,523.2 500.0,525.1 500.3,527.9 499.2,528.8 496.6,530.3 496.3,531.6 495.0,530.9 491.5,530.9 489.3,530.4 487.5,530.7 486.9,530.8 484.2,530.2 481.3,530.4 480.5,529.2 480.2,527.4 480.2,525.7 479.1,523.3 480.3,522.1 478.8,520.8 479.1,517.6 478.5,515.6 479.5,514.8 478.9,512.0 478.4,510.4 478.8,507.8 478.6,506.6" fill="#b98a4c" stroke="none" stroke-width="0" stroke-linejoin="round" opacity="0.5"/>
<polygon points="430.6,529.3 431.1,528.4 431.7,527.0 432.2,526.1 433.8,523.8 434.5,523.2 435.6,522.6 437.7,521.7 438.8,521.2 440.9,519.8 441.4,518.6 443.2,518.8 446.1,518.3 447.5,519.1 448.3,519.3 450.1,518.5 452.3,519.3 454.1,519.5 455.3,520.8 457.4,520.3 458.3,520.9 459.2,521.3 461.2,523.4 461.3,525.8 463.0,527.6 462.6,527.7 463.2,529.8 464.4,532.3 463.9,533.9 463.7,534.3 462.5,536.0 462.5,538.6 463.1,540.2 461.9,541.8 461.2,543.2 459.8,544.3 458.1,546.4 457.8,546.4 456.8,546.9 454.2,547.4 452.1,548.3 451.1,548.9 450.0,550.1 447.7,549.4 447.1,549.7 445.3,549.4 443.7,548.2 440.7,549.3 438.8,548.4 437.9,548.5 437.1,547.0 435.9,544.8 434.5,544.2 433.5,542.8 431.7,541.8 431.9,541.1 430.3,539.7 431.5,537.2 430.0,534.9 429.9,534.0 430.0,532.7" fill="#9c6a3c" stroke="#9c6a3c" stroke-width="3.0" stroke-linejoin="round" opacity="1.0"/>
<polygon points="430.2,529.3 430.2,528.4 432.0,527.7 432.1,525.5 433.3,524.6 433.5,522.5 435.2,522.7 437.7,521.3 439.5,520.8 440.3,519.3 441.6,519.2 443.8,518.8 445.8,518.3 446.8,518.6 448.7,518.4 450.5,518.4 451.5,518.9 454.1,520.2 455.0,520.0 457.1,520.3 458.7,522.1 459.3,521.3 460.9,523.9 461.8,525.6 462.4,527.4 463.5,528.3 464.3,529.9 463.7,531.5 464.2,533.2 464.0,534.7 463.0,536.5 462.8,537.8 463.1,539.4 461.4,542.1 461.7,543.1 460.3,544.9 458.4,545.8 458.5,546.9 455.6,547.7 455.3,547.8 452.7,549.0 451.4,549.1 450.0,549.7 448.6,550.5 446.6,549.0 444.8,549.3 443.5,548.9 440.8,548.4 439.5,548.1 437.4,548.7 437.4,546.6 435.2,545.8 434.2,545.2 433.9,543.3 431.6,541.9 430.8,540.5 431.4,539.8 430.5,537.5 430.9,535.6 429.8,533.9 430.3,531.7" fill="#fbfaf8"/>
<polygon points="455.5,526.7 455.2,528.0 453.5,528.2 452.0,528.4 450.3,528.1 449.1,527.0 448.6,525.7 448.2,524.4 449.4,523.6 450.3,522.6 452.0,522.8 453.6,523.3 454.9,524.2 455.5,525.5" fill="#dcc3b0" stroke="none" stroke-width="0" stroke-linejoin="round" />
<polygon points="459.0,535.7 459.3,537.8 457.8,539.2 455.9,539.8 454.1,539.7 452.4,539.0 450.8,537.7 450.6,535.7 451.5,534.0 452.4,532.4 454.0,531.4 456.0,531.3 457.9,532.0 458.8,533.9" fill="#dcc3b0" stroke="none" stroke-width="0" stroke-linejoin="round" />
<polygon points="464.8,557.3 465.2,556.8 465.6,558.9 463.5,558.7 465.0,557.8 464.2,558.7 462.8,561.1 461.5,562.7 461.3,559.9 460.1,560.1 460.2,559.5 459.4,557.7 461.2,558.3 462.3,556.6 461.4,556.4 461.5,555.9 460.7,553.9 460.4,552.3 462.4,552.5 462.3,551.3 463.5,552.5 464.3,552.6 464.6,553.8 464.4,554.6 464.2,553.7 465.4,555.5" fill="#a96d2a" stroke="#a96d2a" stroke-width="4.4" stroke-linejoin="round" opacity="1.0"/>
<polygon points="466.7,556.5 466.2,558.3 466.0,558.6 464.0,558.7 464.7,558.3 463.0,560.0 463.2,561.2 462.2,562.0 462.2,560.8 460.8,560.5 461.0,559.1 460.4,558.3 459.4,558.1 461.2,557.2 460.3,556.4 461.0,554.5 460.5,554.5 460.2,551.5 461.5,551.3 462.6,552.8 463.1,552.7 463.7,552.9 464.3,552.5 464.9,555.4 464.6,554.0 465.0,555.0" fill="#fbfaf8"/>
<polygon points="462.4,568.7 462.8,569.2 462.2,570.1 462.7,570.8 461.9,571.3 460.4,572.1 459.9,572.0 461.1,571.9 460.5,572.2 459.8,571.7 458.8,570.8 460.6,569.6 459.4,570.5 459.4,567.7 459.5,567.5 460.2,566.8 460.0,566.9 460.5,565.5 459.4,564.5 460.0,563.9 460.3,565.3 460.9,565.7 461.9,565.5 461.9,566.1 462.0,566.5 460.8,567.7" fill="#a96d2a" stroke="#a96d2a" stroke-width="4.4" stroke-linejoin="round" opacity="1.0"/>
<polygon points="461.2,567.9 461.6,568.7 462.3,570.1 461.3,571.1 460.8,571.1 460.5,570.4 461.1,571.6 460.8,571.0 461.3,572.6 460.6,571.6 460.1,570.6 459.2,569.8 459.1,568.7 459.1,568.2 460.4,568.0 460.1,568.1 461.0,565.8 460.4,565.6 460.1,565.8 461.6,564.8 460.9,564.9 460.6,564.2 462.0,565.8 462.0,566.6 462.4,566.4 461.4,567.7" fill="#fbfaf8"/>
<polygon points="481.2,564.5 481.7,566.2 481.1,565.9 479.1,567.6 481.2,566.6 479.4,567.5 478.7,567.9 478.1,568.2 475.5,567.5 476.0,566.2 475.2,566.8 476.2,566.0 474.8,565.8 473.3,566.1 473.6,565.3 472.9,564.6 475.6,565.2 476.5,563.9 477.3,565.4 478.3,564.3 479.3,563.9 478.5,564.9 480.1,563.4 480.8,564.3 481.7,565.4 482.0,564.3" fill="#a96d2a" stroke="#a96d2a" stroke-width="4.4" stroke-linejoin="round" opacity="1.0"/>
<polygon points="480.9,565.5 481.1,565.1 480.6,567.2 479.3,566.3 480.1,566.9 479.2,567.4 478.2,568.0 477.9,566.8 475.5,567.4 476.9,566.9 476.5,566.7 475.0,565.8 473.5,565.3 475.1,565.2 473.2,564.6 474.5,564.8 475.5,564.6 477.1,565.5 477.3,564.4 477.9,563.2 478.9,564.4 479.0,564.1 479.1,563.8 482.0,564.2 482.7,565.1 480.2,565.4" fill="#fbfaf8"/>
<polygon points="482.4,578.0 483.5,580.0 482.1,580.9 480.2,580.0 478.0,580.6 478.0,581.0 477.4,580.9 476.3,580.4 474.0,582.0 473.7,580.2 471.7,580.4 473.2,578.3 469.4,578.8 472.7,577.0 472.6,577.6 471.6,575.5 470.8,575.6 472.1,574.0 473.9,575.3 475.2,574.3 477.2,574.8 478.8,575.5 477.8,575.6 480.5,576.8 479.8,575.6 481.3,576.8" fill="#a96d2a" stroke="#a96d2a" stroke-width="4.4" stroke-linejoin="round" opacity="1.0"/>
<polygon points="483.4,577.9 482.9,578.5 481.9,579.8 480.0,581.0 477.9,579.5 478.0,580.3 477.0,580.1 476.3,580.5 474.7,582.4 473.3,580.3 471.5,580.9 472.7,578.9 470.0,578.3 473.2,577.6 472.3,576.5 471.3,576.8 470.6,575.3 473.7,574.5 475.1,574.3 474.6,572.8 476.4,574.8 478.5,575.9 477.0,577.0 480.2,575.9 481.2,576.4 482.8,576.7" fill="#fbfaf8"/>
<polygon points="504.5,566.4 502.5,565.2 502.7,566.8 501.6,567.1 502.2,568.6 501.3,567.9 499.5,569.3 499.6,568.5 499.4,568.9 498.4,568.9 498.2,568.3 496.5,567.3 497.4,566.0 497.0,565.5 496.1,564.9 496.8,565.0 497.2,562.6 498.2,562.6 498.1,561.5 499.8,561.0 500.9,562.3 501.6,564.0 501.5,563.5 502.4,563.2 503.6,564.4 504.0,564.4" fill="#a96d2a" stroke="#a96d2a" stroke-width="4.4" stroke-linejoin="round" opacity="1.0"/>
<polygon points="503.5,565.7 502.4,566.5 502.0,567.8 502.8,567.2 501.4,568.0 500.8,568.6 500.2,569.1 498.9,568.9 498.6,569.2 497.7,569.1 498.1,568.6 496.9,567.2 497.5,566.2 495.9,565.4 494.5,564.8 497.0,564.5 497.0,562.7 497.7,562.9 497.7,563.3 499.8,561.6 500.6,562.9 501.0,563.1 500.8,563.5 502.5,563.1 503.6,563.3 504.4,564.6" fill="#fbfaf8"/>
<polygon points="497.6,579.5 496.1,581.5 498.7,582.4 498.0,583.8 495.5,583.1 495.2,582.7 493.8,582.4 494.3,583.3 492.6,583.7 492.1,581.4 492.5,582.5 491.8,581.7 490.5,580.8 490.9,580.3 492.5,578.9 492.3,579.7 491.4,577.7 493.4,577.8 492.8,576.6 494.9,577.8 494.7,577.1 494.5,578.4 495.8,576.6 497.4,578.7 497.0,580.0 496.5,578.5" fill="#a96d2a" stroke="#a96d2a" stroke-width="4.4" stroke-linejoin="round" opacity="1.0"/>
<polygon points="497.4,580.1 496.6,580.1 499.0,582.4 497.6,582.5 496.6,582.4 496.1,581.8 494.3,583.8 494.3,582.0 493.0,583.0 493.7,581.7 492.9,583.3 490.3,582.3 491.7,581.6 491.6,580.9 492.4,580.0 492.0,579.6 492.4,579.0 492.9,577.7 492.4,576.9 493.8,576.9 495.8,576.9 495.7,576.9 496.3,577.8 496.8,577.9 496.3,579.8 497.7,579.9" fill="#fbfaf8"/>
<polygon points="477.7,592.0 476.7,591.3 476.7,591.9 476.1,593.6 474.8,594.9 473.3,595.4 472.2,596.0 469.5,595.8 467.5,595.9 466.5,596.9 463.9,594.8 464.3,594.3 464.3,593.7 462.1,593.1 459.8,593.8 461.0,591.0 462.3,589.5 462.0,590.7 462.8,587.6 462.5,587.7 465.9,585.5 467.5,586.7 469.1,588.2 470.0,589.3 470.5,586.9 473.7,586.7 473.6,587.4 473.8,589.3 477.2,588.9 477.8,590.9" fill="#a96d2a" stroke="#a96d2a" stroke-width="4.4" stroke-linejoin="round" opacity="1.0"/>
<polygon points="479.4,592.4 477.3,592.8 474.9,592.9 475.8,592.9 473.7,594.2 473.2,595.2 470.9,594.8 469.5,595.9 467.7,596.8 465.1,596.0 465.0,594.3 464.9,593.3 463.4,593.0 461.4,592.8 461.0,592.1 462.6,591.3 461.4,591.1 462.3,590.4 462.2,587.8 463.3,586.1 465.8,586.1 466.3,586.8 467.4,586.4 469.1,588.0 471.5,588.3 473.6,587.1 473.8,586.6 475.6,588.4 475.6,588.5 477.7,589.6" fill="#fbfaf8"/>
<polygon points="490.2,522.6 492.8,521.7 492.8,524.1 492.6,524.0 490.6,525.3 489.5,524.9 489.0,526.4 488.8,528.2 487.0,530.7 484.9,528.9 483.3,528.0 481.2,526.6 481.4,524.5 481.3,523.8 478.3,524.5 478.4,524.8 479.4,521.7 480.9,519.9 479.0,519.9 480.0,516.8 482.7,515.7 484.5,516.8 484.3,517.8 487.1,515.4 487.6,516.2 488.8,515.1 492.0,517.5 493.1,517.7 492.2,520.0" fill="#a96d2a" stroke="#a96d2a" stroke-width="4.4" stroke-linejoin="round" opacity="1.0"/>
<polygon points="491.4,521.4 492.4,522.6 492.7,524.3 492.3,523.3 490.3,524.3 488.7,525.5 489.1,526.0 488.8,528.9 486.5,529.3 485.0,528.8 482.9,528.1 482.0,526.3 481.0,524.6 480.6,524.0 479.7,524.4 477.2,523.8 477.9,522.7 481.2,520.0 480.0,518.1 479.7,517.1 481.8,516.1 484.0,517.3 486.0,517.4 486.7,517.3 489.0,514.3 489.8,516.7 492.0,516.4 491.6,518.3 492.3,520.1" fill="#fbfaf8"/>
<polygon points="473.8,536.0 473.7,539.0 473.3,538.8 471.7,539.2 471.0,540.6 472.0,541.6 470.3,540.2 470.9,539.6 470.1,542.4 470.5,542.3 469.0,542.0 467.6,539.3 469.0,539.9 468.8,538.1 468.3,538.1 469.5,535.2 468.4,535.9 468.2,533.9 468.2,532.4 470.0,531.9 470.2,532.3 471.3,533.5 472.1,533.1 472.1,534.4 472.8,534.9 474.2,535.3 475.0,534.8" fill="#a96d2a" stroke="#a96d2a" stroke-width="4.4" stroke-linejoin="round" opacity="1.0"/>
<polygon points="474.4,537.0 473.2,537.7 474.6,538.5 472.9,539.8 471.9,539.5 472.1,541.3 471.7,540.9 470.4,540.3 469.5,541.8 468.8,542.4 468.5,542.3 468.9,539.5 468.5,539.6 468.2,537.2 468.4,536.1 468.1,536.8 469.7,534.8 468.2,533.8 469.1,532.6 470.1,533.6 470.4,532.3 471.7,531.9 471.9,534.2 471.4,533.4 472.1,534.5 474.7,534.7 473.3,535.1" fill="#fbfaf8"/>
<polygon points="490.0,509.6 488.0,509.7 488.5,510.2 489.2,510.9 489.4,511.6 487.7,512.0 487.2,511.1 487.9,512.5 485.9,511.6 486.2,511.9 485.3,510.6 485.9,511.1 486.2,511.0 487.0,510.4 486.4,510.3 485.7,508.9 484.9,510.4 487.1,509.6 488.0,509.3 486.6,510.1 488.7,508.3 487.5,510.3 487.7,510.3 489.1,510.6 487.6,510.3 490.1,510.2" fill="#a96d2a" stroke="#a96d2a" stroke-width="4.4" stroke-linejoin="round" opacity="1.0"/>
<polygon points="489.1,511.3 488.7,510.1 488.6,510.7 488.6,511.0 488.0,512.2 488.6,511.3 486.8,512.1 487.4,512.3 486.8,511.4 486.5,512.1 486.7,512.1 485.8,511.1 486.9,511.5 486.9,510.8 484.9,510.1 485.8,509.3 486.8,509.2 487.4,509.1 487.0,509.7 486.6,510.4 487.7,509.5 488.8,509.7 488.3,510.2 489.3,509.1 489.3,510.2 489.3,510.9" fill="#fbfaf8"/>
<polygon points="427.4,559.1 427.0,560.6 427.2,563.4 427.0,563.5 425.2,566.4 426.7,566.5 425.4,566.8 423.8,568.8 421.7,569.6 420.4,568.5 420.8,569.9 419.8,567.7 419.3,566.8 416.2,567.5 415.9,564.7 417.4,563.9 416.4,563.2 416.1,561.3 418.1,559.8 417.4,557.2 416.9,556.7 415.9,555.2 417.0,553.0 417.6,551.1 419.1,550.2 418.9,548.2 421.5,549.6 423.0,548.3 423.8,547.5 423.3,548.9 424.0,551.2 424.3,553.1 426.5,552.9 426.1,554.3 425.0,557.6 426.5,556.9 428.0,558.0" fill="#a96d2a" stroke="#a96d2a" stroke-width="4.4" stroke-linejoin="round" opacity="1.0"/>
<polygon points="428.6,560.2 428.4,561.7 427.5,562.9 425.5,564.3 426.2,565.9 425.2,566.3 424.4,567.9 422.7,568.2 422.1,569.7 420.9,569.5 420.3,569.2 419.4,567.9 418.8,566.3 417.5,566.6 415.8,566.0 415.9,563.2 416.3,562.1 417.3,561.9 417.4,560.5 417.1,557.7 416.4,555.9 417.1,555.6 417.5,553.7 417.9,553.1 418.5,550.2 418.8,549.2 421.7,550.4 422.7,548.5 423.8,548.0 425.1,549.2 424.7,550.4 424.9,553.2 426.1,553.0 424.7,555.8 425.7,556.3 426.0,557.1 428.1,559.1" fill="#fbfaf8"/>
<polygon points="428.1,576.0 428.3,577.7 426.5,578.0 427.2,579.4 425.0,579.6 424.2,580.8 422.9,579.7 423.2,580.9 423.7,581.4 420.6,581.8 421.1,580.8 418.1,581.4 418.3,581.3 419.0,578.9 418.3,578.7 418.5,576.5 418.9,575.4 419.4,573.2 418.9,573.4 419.6,571.2 419.6,571.4 418.9,569.6 419.5,568.7 418.5,567.3 420.8,567.5 423.0,569.9 423.5,570.0 422.9,570.8 424.6,570.1 424.8,570.7 427.3,571.5 425.2,573.3" fill="#a96d2a" stroke="#a96d2a" stroke-width="4.4" stroke-linejoin="round" opacity="1.0"/>
<polygon points="427.0,575.1 427.9,577.3 427.8,577.3 427.8,579.5 425.2,579.5 424.0,580.9 423.9,578.3 422.7,581.0 422.5,581.3 420.8,581.6 420.2,581.0 418.0,581.9 418.4,580.9 418.1,578.4 418.0,578.2 417.6,577.1 417.2,575.1 418.3,574.8 419.3,572.4 419.9,572.2 419.5,571.4 418.7,569.2 418.8,569.2 418.9,567.1 421.0,568.4 422.6,569.3 423.2,571.4 423.9,569.7 423.8,570.0 425.3,570.4 427.1,572.8 426.4,574.8" fill="#fbfaf8"/>
<polygon points="456.3,563.6 454.1,564.6 453.8,565.1 452.3,566.0 452.1,566.1 450.5,567.2 450.4,567.1 451.2,569.2 451.7,570.2 451.0,572.1 447.6,572.0 446.5,572.1 444.7,571.7 443.4,573.5 440.7,573.6 441.4,575.9 439.5,574.1 439.3,571.3 437.9,571.0 436.4,572.0 436.5,569.8 436.0,568.8 435.9,565.9 438.0,565.8 435.9,563.0 436.5,561.8 435.3,561.0 433.6,562.0 432.0,560.3 433.7,558.8 433.0,556.4 434.5,556.7 435.3,555.7 435.9,556.5 439.0,554.4 438.3,554.7 441.1,555.0 441.8,555.5 444.9,555.0 444.0,554.0 446.0,553.4 446.1,555.8 448.3,555.1 447.8,558.0 450.8,557.9 451.7,556.7 453.6,556.3 456.1,557.4 457.5,558.6 457.2,559.9 457.9,559.0 456.7,560.6 457.1,562.4" fill="#a96d2a" stroke="#a96d2a" stroke-width="4.4" stroke-linejoin="round" opacity="1.0"/>
<polygon points="456.1,564.1 454.4,563.6 453.4,564.8 452.2,566.0 451.1,565.0 451.3,566.6 450.4,568.1 451.1,569.0 451.7,570.3 450.7,570.4 448.8,572.6 445.1,571.9 442.9,572.0 443.4,572.3 442.3,574.8 440.9,574.5 439.4,573.2 438.8,571.1 437.4,571.3 435.6,571.6 436.6,569.3 435.9,568.3 436.4,567.2 437.9,565.2 437.5,564.1 435.5,562.2 435.1,562.6 433.2,560.4 433.3,560.2 433.4,559.5 433.4,557.7 435.1,556.3 435.8,555.9 435.6,556.6 437.1,554.5 438.7,554.6 440.3,555.6 441.4,554.2 444.1,556.1 445.3,555.0 446.2,554.3 446.2,554.4 447.6,555.6 449.5,557.6 449.9,556.4 451.5,556.4 454.1,557.9 455.3,557.5 456.9,557.5 457.3,559.0 459.5,559.9 457.0,561.0 457.0,561.5" fill="#fbfaf8"/>
<polygon points="459.6,562.5 459.5,564.5 461.6,567.5 460.9,566.3 459.6,568.1 460.7,570.0 458.7,572.1 458.8,573.9 458.7,573.0 459.6,573.5 459.2,569.8 459.1,568.5 458.9,567.2 458.6,566.3 458.7,568.4 457.9,566.4 458.7,566.1 458.1,564.6 458.2,563.2 457.2,560.8 457.4,559.4 458.7,559.8 457.7,558.0 458.5,556.6 458.0,556.1 459.1,554.5 459.0,555.2 460.5,552.4 459.6,553.4 459.2,556.6 459.9,557.2 461.1,559.6 459.7,559.5" fill="#a96d2a" stroke="#a96d2a" stroke-width="4.4" stroke-linejoin="round" opacity="1.0"/>
<polygon points="460.7,563.3 460.3,563.7 460.4,565.6 459.5,567.0 459.5,568.8 461.0,570.7 459.8,570.8 459.8,573.5 460.4,574.6 458.8,571.7 459.7,570.3 458.4,569.3 458.2,567.7 458.3,567.1 458.8,567.2 457.9,567.6 457.2,566.6 457.1,564.5 458.1,563.1 458.1,560.5 458.3,560.0 458.8,559.6 458.9,557.7 458.1,556.9 458.0,556.6 459.7,554.5 460.0,554.9 460.8,552.2 460.7,554.8 459.6,555.4 460.6,558.0 459.8,558.4 460.9,560.0" fill="#fbfaf8"/>
<polygon points="412.6,534.0 412.1,536.4 410.6,536.8 410.4,536.4 409.8,537.6 408.1,536.4 409.5,538.1 409.0,540.7 408.5,541.2 406.2,540.0 405.9,538.1 405.9,537.7 405.2,536.9 406.9,536.9 405.8,534.8 405.0,535.1 406.2,533.5 406.0,531.0 405.3,529.8 406.1,527.6 406.8,528.4 408.6,529.9 409.3,531.5 409.5,529.3 410.2,528.1 410.5,528.8 411.4,530.4 412.2,530.8 412.3,532.5" fill="#a96d2a" stroke="#a96d2a" stroke-width="4.4" stroke-linejoin="round" opacity="1.0"/>
<polygon points="412.0,533.3 412.5,536.0 411.1,537.5 411.0,538.1 408.8,537.8 409.2,538.3 409.4,538.5 408.3,540.8 407.5,540.3 407.5,539.2 406.6,539.3 406.2,538.1 405.6,537.5 406.4,537.2 405.5,535.3 404.9,533.5 405.5,533.4 404.7,530.8 405.6,529.4 405.8,527.3 407.2,528.9 407.7,530.1 407.9,531.0 409.7,528.8 410.4,529.0 411.0,530.2 410.3,530.9 410.7,531.3 412.2,533.4" fill="#fbfaf8"/>
<polygon points="513.3,546.9 510.7,548.0 507.8,547.8 510.4,549.0 508.7,549.9 507.2,552.0 506.2,552.4 505.6,552.0 505.0,551.2 505.5,550.9 504.5,548.8 501.7,550.0 500.9,548.8 501.4,546.7 502.7,546.0 500.1,546.3 499.5,544.3 501.3,543.5 503.2,543.2 503.2,542.8 505.1,542.3 505.2,541.7 505.4,541.0 508.7,541.8 509.6,540.4 510.0,541.9 509.5,543.4 511.5,544.3 512.7,543.7" fill="#a96d2a" stroke="#a96d2a" stroke-width="4.4" stroke-linejoin="round" opacity="1.0"/>
<polygon points="513.1,546.3 509.9,547.4 509.1,547.2 509.5,549.0 508.0,549.1 509.0,552.0 506.2,552.2 506.0,551.6 505.4,550.9 503.9,550.2 503.2,548.0 502.9,548.1 501.8,549.0 501.0,547.8 502.4,546.8 501.8,544.7 499.2,545.3 500.3,543.3 502.1,542.8 503.5,542.0 504.2,541.7 505.8,542.0 507.4,540.9 507.9,541.3 508.6,541.5 510.1,543.5 509.9,544.5 511.3,544.0 511.6,543.9" fill="#fbfaf8"/>
<polygon points="491.7,549.7 491.4,550.3 491.9,550.7 492.2,551.4 492.2,551.5 490.9,550.5 490.4,550.8 490.5,552.5 489.0,551.7 487.5,551.9 489.6,551.1 487.6,549.9 487.8,550.7 484.9,548.5 487.2,549.0 487.2,548.1 488.3,546.4 488.2,546.1 490.2,546.4 490.6,546.0 490.1,546.7 491.5,546.8 492.2,546.8 492.3,546.1 492.9,548.1 492.7,547.4" fill="#a96d2a" stroke="#a96d2a" stroke-width="4.4" stroke-linejoin="round" opacity="1.0"/>
<polygon points="492.5,549.1 492.2,549.3 492.9,550.4 492.6,551.1 492.3,552.1 490.3,551.1 490.7,552.6 489.1,551.2 489.7,551.6 488.2,550.6 489.0,550.7 487.6,550.8 487.5,549.4 485.0,549.2 486.6,547.7 488.8,547.2 488.9,546.7 489.0,546.1 489.2,546.3 489.5,546.2 490.0,546.4 490.7,545.9 490.9,546.3 492.1,546.7 491.5,547.1 491.9,547.8" fill="#fbfaf8"/>
<polygon points="481.1,555.2 480.4,557.4 479.3,559.1 477.7,560.0 476.0,561.0 474.1,560.6 472.6,559.3 471.5,557.4 471.4,555.2 471.4,552.9 472.7,551.2 474.0,549.6 476.0,549.6 477.8,550.1 479.4,551.2 480.6,552.9" fill="#d6b8a4" stroke="none" stroke-width="0" stroke-linejoin="round" />
<polygon points="514.1,563.7 513.6,566.2 512.8,568.2 511.6,569.8 510.2,570.8 508.7,570.1 507.5,568.5 506.6,566.3 506.7,563.7 506.9,561.3 507.5,559.0 508.7,557.4 510.2,556.9 511.7,557.4 512.9,559.0 513.8,561.1" fill="#d6b8a4" stroke="none" stroke-width="0" stroke-linejoin="round" />
<polygon points="449.6,564.9 448.8,567.7 446.9,570.1 443.9,570.7 441.0,571.0 438.1,570.1 436.5,567.5 435.1,564.9 434.9,562.0 436.2,559.3 438.5,557.5 441.1,556.3 444.0,556.3 446.4,557.7 448.9,559.2 450.0,562.0" fill="#d9c0ad" stroke="none" stroke-width="0" stroke-linejoin="round" />
<polygon points="415.5,533.7 415.3,535.8 414.2,537.5 412.5,538.1 410.9,537.3 409.7,535.8 408.9,533.7 409.9,531.7 410.8,529.9 412.5,529.4 414.2,529.8 415.3,531.6" fill="#dcc6b6" stroke="none" stroke-width="0" stroke-linejoin="round" />
</g>
<polygon points="435.2,492.9 436.7,493.9 438.4,493.6 439.7,493.6 441.1,493.4 442.8,494.1 443.8,493.9 445.9,494.1 447.6,494.8 449.0,493.9 449.6,494.2 449.7,496.2 450.1,497.6 449.6,499.1 448.7,500.5 448.7,501.9 446.9,502.1 446.5,501.2 444.6,501.1 442.8,501.1 441.9,501.6 440.5,500.9 438.8,501.4 437.0,501.5 436.7,499.2 436.5,497.9 435.5,496.6 434.9,494.9" fill="#dac7b7" stroke="none" stroke-width="0" stroke-linejoin="round" />
</g>
<g filter="url(#fSoft)">
<clipPath id="c2p5"><polygon points="649.9,542.8 649.6,546.4 649.1,549.7 650.0,553.6 648.4,558.0 646.8,561.9 644.8,566.3 642.8,568.9 640.7,572.5 639.1,577.0 636.5,578.8 633.6,583.4 630.3,585.5 627.7,588.2 624.4,590.7 621.2,592.8 618.3,594.5 613.2,595.3 610.8,597.4 605.6,599.4 602.3,599.8 598.8,599.6 593.8,600.9 589.3,600.7 585.2,600.3 582.2,600.2 578.5,598.6 573.4,596.8 570.2,596.1 565.6,595.1 562.8,592.9 558.8,589.9 555.2,587.7 552.5,585.2 549.8,583.1 548.0,578.9 544.6,575.7 542.8,573.7 539.9,569.8 538.3,564.8 537.6,561.7 535.3,558.0 534.4,554.0 534.1,550.0 533.9,545.7 532.9,541.3 533.0,538.0 533.9,534.4 534.9,530.3 536.7,525.1 536.3,521.4 538.4,518.4 540.9,514.4 543.3,510.2 545.4,507.2 547.9,503.7 550.8,502.0 553.8,498.8 555.5,496.9 559.2,492.9 563.0,491.5 566.4,489.0 569.4,488.1 573.9,485.9 577.8,485.8 582.2,484.5 585.7,483.8 589.5,483.2 593.9,483.0 598.5,484.4 602.3,483.7 605.9,485.3 609.3,487.4 614.3,487.9 618.0,489.1 620.7,491.6 625.1,493.9 627.1,496.3 631.8,499.1 634.8,502.4 636.2,504.2 639.3,508.6 641.3,511.9 644.2,514.7 645.6,519.1 647.4,521.7 648.8,525.4 648.9,530.7 650.5,533.5 649.9,538.1"/></clipPath>
<rect x="531.00" y="482.60" width="121.60" height="118.80" fill="#f3f3f5" />
<polygon points="649.9,542.8 649.6,546.4 649.1,549.7 650.0,553.6 648.4,558.0 646.8,561.9 644.8,566.3 642.8,568.9 640.7,572.5 639.1,577.0 636.5,578.8 633.6,583.4 630.3,585.5 627.7,588.2 624.4,590.7 621.2,592.8 618.3,594.5 613.2,595.3 610.8,597.4 605.6,599.4 602.3,599.8 598.8,599.6 593.8,600.9 589.3,600.7 585.2,600.3 582.2,600.2 578.5,598.6 573.4,596.8 570.2,596.1 565.6,595.1 562.8,592.9 558.8,589.9 555.2,587.7 552.5,585.2 549.8,583.1 548.0,578.9 544.6,575.7 542.8,573.7 539.9,569.8 538.3,564.8 537.6,561.7 535.3,558.0 534.4,554.0 534.1,550.0 533.9,545.7 532.9,541.3 533.0,538.0 533.9,534.4 534.9,530.3 536.7,525.1 536.3,521.4 538.4,518.4 540.9,514.4 543.3,510.2 545.4,507.2 547.9,503.7 550.8,502.0 553.8,498.8 555.5,496.9 559.2,492.9 563.0,491.5 566.4,489.0 569.4,488.1 573.9,485.9 577.8,485.8 582.2,484.5 585.7,483.8 589.5,483.2 593.9,483.0 598.5,484.4 602.3,483.7 605.9,485.3 609.3,487.4 614.3,487.9 618.0,489.1 620.7,491.6 625.1,493.9 627.1,496.3 631.8,499.1 634.8,502.4 636.2,504.2 639.3,508.6 641.3,511.9 644.2,514.7 645.6,519.1 647.4,521.7 648.8,525.4 648.9,530.7 650.5,533.5 649.9,538.1" fill="#c2b7ab" stroke="none" stroke-width="0" stroke-linejoin="round" />
<rect x="531" y="482.6" width="121.60000000000002" height="118.79999999999995" fill="#000" filter="url(#fBrown2)" clip-path="url(#c2p5)"/>
<rect x="531" y="482.6" width="121.60000000000002" height="118.79999999999995" fill="#000" filter="url(#fBlue2)" clip-path="url(#c2p5)"/>
<g clip-path="url(#c2p5)">
<polygon points="562.4,519.7 562.3,516.3 563.8,516.1 564.7,515.3 564.6,516.3 563.2,513.8 565.5,513.0 568.3,511.4 567.2,511.7 566.8,510.3 570.5,510.5 571.4,509.9 569.9,508.4 569.6,506.9 573.1,509.6 574.5,508.2 575.0,507.0 574.2,507.6 575.3,503.8 576.1,505.8 577.6,503.6 578.3,501.9 578.8,502.4 577.2,503.0 581.0,501.6 579.5,500.8 580.6,497.2 583.5,499.0 581.7,497.3 582.2,498.2 583.5,497.3 584.6,495.5 585.0,493.9 585.0,495.1 587.4,495.2 588.6,496.5 588.8,497.6 588.7,498.9 589.6,500.3 587.2,499.8 587.3,502.2 588.6,502.6 588.2,502.9 587.8,505.6 589.5,506.3 588.7,505.7 588.7,508.5 587.5,510.5 587.7,509.8 585.9,513.1 586.7,514.0 585.4,514.2 585.4,514.4 584.9,515.8 583.4,515.2 584.8,517.9 582.5,517.9 584.6,520.0 584.5,521.6 581.4,521.1 583.8,523.8 584.1,522.3 581.4,524.8 580.9,523.7 581.7,527.2 581.5,527.4 581.1,526.6 581.9,530.9 581.8,529.8 579.0,532.0 577.5,529.5 579.2,531.4 576.3,532.0 574.8,534.9 575.4,535.6 574.0,534.8 573.9,533.1 573.3,533.6 572.9,535.4 571.3,536.2 567.9,533.4 568.4,536.2 565.2,535.7 564.9,535.0 565.0,533.1 566.4,533.4 563.3,530.4 564.8,532.7 561.4,528.8 562.9,528.3 562.9,529.4 561.6,525.6 562.2,525.7 561.2,524.4 560.5,522.5 561.3,522.5 563.1,522.2 562.2,522.0 560.6,518.2 560.6,519.5" fill="#a8722e" stroke="#a8722e" stroke-width="4.4" stroke-linejoin="round" opacity="1.0"/>
<polygon points="560.6,518.9 561.5,516.7 563.6,517.9 564.5,516.7 565.1,516.4 564.7,513.4 565.2,512.5 566.6,512.4 567.3,513.7 568.7,510.8 569.8,510.7 570.0,509.8 571.5,508.3 570.9,507.4 571.2,506.7 572.9,507.0 573.0,505.9 574.8,505.2 575.3,503.7 575.0,504.8 577.8,504.2 576.9,502.1 576.8,503.5 578.5,500.0 581.1,501.4 579.0,501.2 581.5,500.3 582.7,499.6 583.4,496.3 583.3,496.0 584.6,496.0 585.3,495.3 586.7,497.1 586.7,496.8 587.1,495.9 588.4,496.6 590.0,499.5 590.3,498.5 589.1,500.1 590.6,500.4 590.0,502.0 588.4,504.3 588.7,504.5 587.6,506.1 588.1,506.6 586.5,507.6 586.5,507.1 587.2,510.5 586.5,510.2 585.2,510.5 586.2,513.7 585.1,511.8 586.1,514.3 583.7,516.4 584.0,517.1 583.8,517.9 584.1,517.4 583.6,517.9 581.9,520.1 582.0,521.5 582.0,521.4 581.7,524.1 583.1,523.9 580.8,524.3 582.3,527.5 581.5,527.7 580.0,527.2 581.8,529.4 580.3,529.9 580.1,529.8 577.5,531.2 577.8,532.0 576.7,532.0 577.0,532.7 574.0,534.3 574.3,535.4 574.2,535.0 573.7,536.0 571.1,533.9 571.1,535.0 568.7,535.2 568.0,535.0 567.6,534.7 565.1,533.8 564.8,532.8 564.8,532.4 562.7,532.1 563.1,531.1 562.4,529.4 561.3,528.8 561.2,528.1 560.3,528.3 559.9,527.2 562.3,524.1 560.9,524.2 559.9,522.7 561.5,522.7 560.7,522.5 562.6,518.7 562.2,517.8" fill="#fbfaf8"/>
<polygon points="567.3,517.1 568.5,516.2 570.8,514.0 572.1,513.0 573.9,511.0 574.8,509.7 576.9,507.7 578.1,505.8 579.6,504.4 581.4,503.3 584.8,504.5 584.5,507.0 583.9,509.3 583.6,511.2 582.4,513.0 581.5,515.2 580.5,517.4 580.0,520.0 580.0,521.7 578.8,524.8 576.8,526.4 574.3,528.0 572.5,527.4 569.5,528.0 568.3,525.9 566.9,522.9 566.7,520.4" fill="#e2d3c0" stroke="none" stroke-width="0" stroke-linejoin="round" />
<polygon points="583.6,509.0 583.3,509.3 584.9,507.3 587.7,506.9 589.0,508.3 587.2,507.5 589.1,509.2 588.4,512.0 588.8,514.0 589.0,512.7 588.2,512.3 588.7,515.4 589.1,516.1 589.1,518.3 588.4,519.2 591.7,521.0 589.7,521.5 588.3,523.1 591.2,523.2 591.0,523.9 590.8,524.0 587.1,524.4 588.9,526.6 585.7,525.8 586.5,524.0 583.8,525.4 584.0,524.1 583.3,523.2 582.2,519.8 583.5,517.5 584.7,519.9 582.9,517.9 582.1,515.3 583.7,515.0 581.5,515.8 584.9,513.2 584.7,511.1 582.8,511.2 581.4,507.8" fill="#a8722e" stroke="#a8722e" stroke-width="4.4" stroke-linejoin="round" opacity="1.0"/>
<polygon points="583.5,508.2 583.0,508.5 586.8,508.6 587.8,507.0 587.8,507.8 586.2,508.6 587.7,509.6 588.7,510.4 590.2,512.2 590.7,514.7 589.6,514.4 589.1,516.2 590.1,515.8 591.0,516.2 589.7,517.1 588.5,519.0 591.1,520.2 590.9,520.1 588.5,523.7 588.9,523.6 589.4,523.4 589.6,524.4 586.3,525.7 585.3,524.6 584.7,525.5 584.9,523.6 584.0,523.1 584.5,521.9 582.9,521.7 583.6,518.4 584.0,516.9 584.4,517.4 584.1,514.8 584.5,515.6 582.3,513.2 582.5,512.4 583.2,512.7 584.0,510.9 584.5,510.5" fill="#fbfaf8"/>
<polygon points="566.0,545.1 566.3,547.1 568.6,544.2 570.3,546.4 568.0,545.1 570.2,542.4 570.9,544.1 571.1,542.4 574.3,541.6 576.1,543.2 576.2,541.4 575.1,543.9 576.6,543.8 580.5,544.3 579.8,542.7 579.7,543.5 583.4,546.4 580.9,544.5 584.5,548.9 583.3,547.1 583.9,550.4 583.3,550.8 584.7,550.8 587.0,549.5 585.0,550.7 585.0,554.6 585.0,555.8 586.3,555.5 586.9,554.5 586.1,555.9 586.5,556.2 587.5,558.1 588.0,560.3 588.7,563.0 586.7,562.7 588.6,562.4 587.9,565.2 589.0,566.3 587.7,566.3 587.3,567.9 589.3,566.5 587.9,570.3 586.5,568.6 585.6,573.1 587.2,573.3 587.6,575.2 583.7,574.5 586.0,576.9 584.8,575.1 584.3,577.7 582.5,575.4 580.5,576.1 580.6,578.9 578.3,577.3 577.5,576.6 576.3,578.5 577.6,580.2 577.1,580.5 574.7,579.1 572.9,577.8 574.3,575.7 571.0,574.8 571.7,575.8 570.2,573.3 569.6,572.3 570.0,574.3 567.1,571.5 570.0,570.0 569.6,571.4 568.9,569.6 567.6,566.9 567.5,565.1 566.1,566.3 566.5,563.7 569.0,564.4 567.1,562.8 565.1,563.3 566.5,559.7 565.5,560.6 566.9,558.7 566.5,559.4 568.5,556.3 564.9,557.4 565.5,555.8 564.5,554.6 566.2,554.0 565.2,551.9 568.1,549.9 564.5,550.9 567.0,546.5 565.4,546.1" fill="#a8722e" stroke="#a8722e" stroke-width="4.4" stroke-linejoin="round" opacity="1.0"/>
<polygon points="565.0,546.7 566.2,545.7 568.9,545.6 569.1,546.3 569.2,545.1 570.6,543.2 571.5,543.6 571.7,542.7 574.9,541.6 574.3,544.3 575.5,542.0 575.6,544.0 577.5,543.5 579.3,543.2 580.5,544.3 581.0,544.0 581.9,544.5 583.2,546.1 583.6,548.6 582.4,549.2 584.5,548.1 583.5,548.7 585.7,550.8 585.9,551.8 586.7,552.4 587.7,553.4 586.6,553.3 585.6,556.4 585.6,557.4 587.5,555.8 588.0,557.0 586.9,558.1 587.2,561.1 586.0,561.5 588.5,562.4 587.6,564.3 589.0,565.5 588.5,565.5 588.8,567.4 588.2,565.9 586.3,568.4 588.5,569.5 587.3,569.3 586.6,570.3 586.0,572.0 585.5,574.6 584.7,574.6 586.4,575.1 584.5,577.1 584.7,575.6 582.3,578.2 582.9,578.5 581.4,578.3 581.0,578.2 577.3,579.0 577.1,579.1 577.4,578.9 576.7,580.1 574.7,577.1 575.0,577.4 571.5,575.4 572.4,574.6 571.1,576.5 570.1,573.5 570.3,572.3 568.8,573.2 570.0,571.7 568.5,571.7 569.6,569.2 569.1,567.8 567.0,568.7 567.0,565.9 566.9,565.6 567.2,565.4 566.9,562.7 566.2,562.0 566.4,561.3 567.6,560.4 565.9,559.5 565.4,557.2 567.3,558.2 567.8,557.1 566.0,556.4 565.4,554.5 565.9,554.0 567.0,551.6 567.2,551.6 566.3,549.8 567.0,548.8 567.0,548.3 567.4,547.5" fill="#fbfaf8"/>
<polygon points="570.0,551.6 572.7,550.6 574.9,549.3 577.4,550.1 580.0,550.5 580.6,552.5 582.1,554.4 582.8,556.1 582.8,558.1 583.1,560.3 583.7,562.3 583.9,564.4 582.9,566.3 582.8,568.2 582.1,570.8 578.5,570.9 576.4,572.0 573.8,570.3 572.3,568.2 571.1,566.2 571.4,563.9 570.2,561.2 570.7,559.1 570.0,556.7 570.2,554.6" fill="#e2d3c0" stroke="none" stroke-width="0" stroke-linejoin="round" />
<polygon points="583.7,538.3 584.7,537.8 588.4,536.3 588.9,538.7 586.9,535.8 589.9,538.8 590.3,537.8 592.6,539.6 592.6,537.9 593.8,539.5 593.4,541.1 593.9,541.1 595.7,542.7 594.2,543.2 597.9,541.0 595.4,543.8 596.5,546.3 595.3,543.9 598.5,547.6 597.3,547.1 597.7,550.5 598.7,549.9 596.6,550.4 598.1,553.0 599.2,554.0 598.3,555.4 597.0,553.7 598.0,555.8 597.3,557.3 595.6,557.8 593.8,559.8 592.9,560.0 592.2,558.1 593.1,561.0 592.2,558.4 589.8,559.6 590.5,559.0 590.4,556.9 590.2,556.5 588.3,554.1 588.1,556.4 586.6,552.3 587.1,554.1 585.8,551.2 584.8,551.4 586.5,549.9 587.3,549.3 587.4,548.8 584.3,548.3 584.0,547.5 585.7,543.6 584.6,543.4 584.9,542.0 583.6,541.1 586.4,540.8 584.4,538.7" fill="#a8722e" stroke="#a8722e" stroke-width="4.4" stroke-linejoin="round" opacity="1.0"/>
<polygon points="584.8,537.7 584.9,537.3 587.5,538.4 588.4,537.0 590.2,536.4 589.5,536.3 591.0,536.2 590.7,536.9 591.4,539.4 593.2,538.7 592.2,538.8 595.5,541.3 594.7,542.6 596.4,541.5 597.5,543.1 595.3,542.7 595.8,544.4 595.5,545.7 597.0,547.2 598.5,548.3 598.4,549.7 598.8,549.6 599.1,551.9 598.5,553.2 597.8,552.2 597.5,553.8 596.6,554.2 596.3,554.5 596.4,557.4 595.9,558.5 594.1,557.5 594.6,559.7 592.3,560.0 593.5,558.5 590.2,558.3 590.3,559.5 589.0,559.0 588.0,559.2 588.2,557.2 587.9,556.2 588.8,556.3 586.2,552.9 587.1,554.0 586.0,552.2 585.5,551.7 586.2,550.2 586.3,549.0 584.8,548.3 586.9,547.5 586.1,547.0 586.7,545.7 586.0,543.9 584.2,542.8 586.3,540.9 585.5,542.0 585.7,539.3" fill="#fbfaf8"/>
<polygon points="587.0,542.5 590.8,541.3 592.7,542.6 594.0,544.4 595.2,547.7 596.0,550.6 594.7,553.4 593.0,555.7 589.7,554.4 589.2,551.4 587.5,549.9 587.4,547.6 587.8,544.6" fill="#e2d3c0" stroke="none" stroke-width="0" stroke-linejoin="round" />
<polygon points="613.3,522.0 615.4,522.1 613.8,519.1 616.7,520.6 617.0,521.1 617.5,517.8 617.5,516.1 620.1,517.0 619.8,515.3 622.2,515.7 619.6,516.3 623.1,513.2 623.6,512.9 622.8,516.0 626.7,512.8 624.4,514.3 625.8,515.8 626.5,514.1 629.8,515.0 630.7,514.5 632.7,516.4 632.0,516.3 633.7,515.8 636.1,517.2 635.8,518.4 635.6,519.4 636.2,518.4 637.9,518.9 637.2,520.0 637.2,520.7 640.9,521.4 640.2,523.7 642.9,522.7 643.2,522.5 641.1,526.5 642.7,525.2 641.0,528.4 642.7,528.7 642.1,529.6 643.4,528.6 644.3,532.1 641.3,530.6 642.2,533.4 642.2,533.0 645.1,534.0 642.0,536.6 644.7,535.8 642.4,537.9 641.4,539.3 644.0,539.2 642.5,540.0 640.4,542.7 641.3,542.1 639.9,545.9 642.7,545.6 641.6,547.2 642.0,547.3 640.8,549.2 640.2,549.9 638.2,548.4 640.1,549.5 639.6,551.1 636.7,550.5 634.2,551.9 634.4,552.9 633.2,550.5 631.4,552.5 630.4,551.8 629.0,553.1 631.2,551.0 629.2,551.3 629.5,552.6 625.2,550.8 625.7,550.3 625.1,548.8 622.7,549.8 623.2,548.8 620.7,548.9 622.0,548.1 619.8,545.9 621.3,545.7 621.2,544.5 617.4,546.1 618.3,545.6 616.6,544.5 618.3,542.4 616.3,540.5 616.2,539.5 617.7,541.2 616.8,538.2 614.9,536.2 615.5,535.4 613.8,537.5 615.3,534.6 612.9,533.9 615.2,531.9 615.6,531.6 614.1,530.8 613.6,529.7 613.8,529.8 614.9,527.6 615.3,528.2 614.4,525.3 613.4,523.4 612.8,522.3 614.3,523.7" fill="#a8722e" stroke="#a8722e" stroke-width="4.4" stroke-linejoin="round" opacity="1.0"/>
<polygon points="614.7,521.5 615.0,520.0 615.4,520.3 616.5,519.3 618.0,519.0 615.9,518.4 619.4,518.9 619.6,517.0 620.2,515.9 619.0,516.2 619.9,516.9 623.6,515.7 623.6,513.5 622.7,514.4 625.5,513.7 624.6,515.5 625.6,513.5 627.4,515.6 628.2,514.4 630.9,516.2 632.5,514.2 633.6,516.4 634.2,517.1 635.4,517.5 635.6,515.5 634.4,518.2 637.1,518.3 638.4,518.4 637.6,518.6 638.6,520.9 638.3,522.2 641.5,521.2 642.0,521.6 643.3,523.2 642.6,526.1 642.8,526.1 643.4,525.4 641.6,528.7 641.6,529.0 641.3,529.8 644.3,530.5 644.3,530.5 641.7,532.8 643.4,534.6 642.4,534.9 644.1,536.6 642.3,538.3 643.7,537.4 644.0,538.3 641.6,538.7 643.4,540.8 643.4,540.8 643.3,542.7 641.5,545.1 641.5,546.5 642.0,547.3 641.5,547.0 639.7,548.4 640.1,548.9 640.7,550.8 637.9,551.8 637.7,551.8 637.8,550.4 636.8,552.2 633.4,551.8 634.1,552.6 632.4,552.7 631.3,552.1 631.7,551.1 628.5,550.6 629.7,551.9 628.9,552.4 625.2,550.0 624.8,551.7 625.4,549.5 623.8,549.9 623.8,548.1 622.4,548.7 619.9,549.1 619.9,546.9 619.4,545.3 618.8,546.0 617.7,546.2 617.2,545.1 618.3,544.5 616.4,541.0 616.8,542.7 615.4,541.3 616.8,539.3 615.0,537.9 614.8,537.3 615.2,535.7 615.4,537.0 614.9,535.6 614.1,534.4 613.9,531.7 615.2,530.9 615.2,529.8 612.9,530.7 613.1,527.9 613.5,526.9 614.6,526.8 614.9,526.8 614.7,525.3 612.8,524.7 615.0,521.9" fill="#fbfaf8"/>
<polygon points="619.0,526.7 621.6,524.5 623.5,523.2 625.5,522.0 627.4,521.9 629.7,521.9 632.2,523.1 633.7,524.1 636.0,526.2 637.0,527.0 637.3,529.2 637.9,531.9 637.9,533.6 637.8,535.2 637.5,538.1 636.7,539.3 636.4,541.6 635.9,544.2 633.1,544.4 629.7,544.8 628.5,544.1 626.5,543.4 624.2,542.7 623.1,540.8 621.6,538.5 620.9,537.3 620.2,534.7 619.6,532.9 620.2,530.9 619.6,528.1" fill="#e2d3c0" stroke="none" stroke-width="0" stroke-linejoin="round" />
<polygon points="612.0,557.3 613.5,556.2 614.5,556.1 616.8,552.8 619.0,555.4 617.8,553.7 620.0,554.0 621.4,554.4 622.7,551.1 620.1,550.8 621.8,552.2 625.0,553.1 626.4,552.4 627.9,552.4 626.6,552.7 629.3,550.9 628.1,550.5 628.5,552.7 633.1,553.0 632.5,553.5 632.9,551.5 632.4,550.8 635.6,552.6 637.4,551.9 637.6,555.9 637.3,556.0 638.0,554.7 637.7,559.0 638.7,556.5 639.1,557.2 640.7,559.1 641.8,562.4 640.0,560.4 639.7,563.9 638.1,562.9 639.1,566.1 638.2,565.1 640.7,566.1 640.2,566.3 639.1,567.6 639.3,568.8 637.5,572.7 639.0,571.7 635.6,572.2 634.5,574.1 635.6,571.9 634.5,575.3 635.6,574.5 633.6,574.6 633.1,575.4 632.9,576.7 629.0,576.4 630.9,575.3 628.8,577.2 626.1,576.1 625.1,574.7 625.2,574.5 623.0,576.3 623.3,575.5 621.4,575.7 622.8,577.9 618.6,576.7 620.7,577.2 619.5,576.0 617.3,573.4 615.8,572.9 618.7,573.9 614.4,570.6 614.1,570.9 613.9,568.8 616.4,568.0 613.3,569.7 614.2,565.8 613.7,567.9 613.5,564.3 613.8,565.6 611.7,561.3 614.4,562.3 613.4,559.7 614.7,560.1 614.3,558.3 612.4,558.7 611.7,558.3" fill="#a8722e" stroke="#a8722e" stroke-width="4.4" stroke-linejoin="round" opacity="1.0"/>
<polygon points="612.3,554.7 614.6,555.4 614.9,555.6 615.2,554.1 618.0,552.6 619.6,553.2 618.6,551.8 619.9,551.5 620.7,553.4 623.0,550.2 621.8,551.5 624.1,550.3 623.5,551.3 626.1,550.6 625.7,552.5 627.9,551.8 628.4,553.1 629.4,550.7 629.8,550.6 631.2,552.5 633.1,550.7 633.9,552.8 636.3,554.4 634.9,552.7 635.3,554.8 637.0,555.9 638.1,555.8 639.1,556.2 637.7,557.9 640.1,557.5 640.2,558.5 640.3,559.5 639.7,562.0 638.4,562.5 640.3,564.8 640.9,563.8 640.4,564.7 638.5,568.4 638.9,567.7 639.1,567.7 639.6,569.7 638.6,572.5 638.4,570.7 637.1,573.2 635.2,573.4 637.0,572.4 634.3,574.5 633.2,573.8 633.8,574.8 632.6,574.9 630.9,575.3 629.4,576.4 629.3,577.2 629.1,576.2 626.7,577.2 625.6,575.7 624.4,576.9 623.0,576.4 622.3,576.6 621.4,575.3 621.5,576.8 621.0,577.1 619.6,576.1 619.2,576.3 617.8,574.2 617.6,572.2 616.8,573.9 615.0,571.3 616.7,571.2 615.8,570.4 615.0,570.2 612.9,569.2 613.8,568.4 614.0,565.4 613.2,564.1 614.8,564.4 612.1,563.7 613.8,562.2 614.4,560.7 614.3,561.5 614.8,560.1 614.7,556.5 612.3,557.4" fill="#fbfaf8"/>
<polygon points="618.1,559.0 620.3,557.9 621.9,556.7 624.4,556.1 626.2,555.7 629.4,555.9 631.3,556.2 633.2,558.9 634.7,560.9 634.7,564.1 634.9,566.1 634.7,568.2 632.2,569.2 630.5,570.3 629.0,572.1 626.9,571.8 624.7,571.9 622.3,570.9 621.1,569.2 619.3,567.7 618.6,565.7 618.9,563.7 618.7,561.3" fill="#e2d3c0" stroke="none" stroke-width="0" stroke-linejoin="round" />
<polygon points="607.8,487.6 607.4,487.0 608.0,486.1 610.1,487.7 612.2,486.4 613.9,485.0 615.1,487.3 615.6,484.5 615.8,486.6 617.6,487.3 615.4,487.2 616.6,489.0 620.3,487.9 621.7,487.1 621.0,487.8 623.0,491.3 623.0,491.4 620.8,490.3 620.8,492.4 622.6,495.2 621.2,494.8 622.4,494.9 621.3,496.1 620.5,498.4 619.8,498.5 619.0,499.6 618.5,498.9 616.5,499.1 616.6,497.1 612.8,496.8 613.8,498.1 610.7,500.5 610.1,499.5 612.3,497.7 610.7,496.1 610.4,497.0 609.2,496.0 607.3,496.7 607.3,494.4 608.5,494.0 606.5,492.8 607.1,489.1 608.5,490.3 607.0,490.4" fill="#a8722e" stroke="#a8722e" stroke-width="4.4" stroke-linejoin="round" opacity="1.0"/>
<polygon points="605.8,487.8 609.1,486.2 610.0,488.0 610.3,486.6 611.1,485.3 613.2,487.2 614.0,485.9 614.8,485.5 613.9,485.8 617.0,485.1 617.4,487.1 618.0,488.6 618.8,487.3 620.7,488.5 622.5,490.6 622.3,489.3 623.2,491.1 623.5,490.2 621.9,491.5 621.0,493.9 620.4,495.5 622.0,496.4 621.1,495.8 621.7,496.6 620.6,497.5 620.4,497.2 619.1,497.1 616.6,498.7 617.1,499.2 614.4,498.5 613.3,499.5 612.4,499.7 611.0,498.6 612.3,497.0 609.9,497.7 609.0,496.5 609.6,496.3 608.9,494.9 607.5,493.1 606.3,494.6 605.9,492.0 607.1,490.5 605.9,489.0 608.1,488.4" fill="#fbfaf8"/>
<polygon points="579.2,579.1 582.1,578.4 580.4,577.6 584.2,578.5 585.1,577.1 585.4,579.0 584.3,578.3 588.4,578.6 586.4,576.1 590.4,577.4 588.8,578.8 590.0,578.2 591.2,578.0 593.8,580.4 592.0,578.9 592.6,580.4 595.0,581.6 593.0,583.2 594.9,582.0 592.5,584.5 593.4,586.2 594.0,586.6 593.8,588.2 590.7,587.1 590.5,588.5 589.2,590.4 588.0,587.3 589.6,588.1 586.3,589.5 585.7,589.9 585.5,589.1 582.2,589.5 583.3,587.6 580.9,587.0 580.1,585.6 580.4,586.9 580.1,584.6 580.6,585.1 581.7,583.3 578.3,583.5 581.0,579.7 578.8,580.8" fill="#a8722e" stroke="#a8722e" stroke-width="4.4" stroke-linejoin="round" opacity="1.0"/>
<polygon points="577.9,578.3 580.5,578.1 582.9,576.8 582.5,579.0 584.4,579.0 584.0,576.3 586.5,575.7 586.7,577.2 587.8,578.3 589.1,576.6 589.7,576.8 590.0,580.1 590.5,578.3 592.3,579.0 592.6,581.1 595.4,579.4 592.9,582.8 592.8,582.9 593.9,583.7 592.5,583.8 594.7,587.2 592.5,587.7 594.1,588.1 593.6,587.0 590.5,587.2 590.4,588.4 588.7,588.4 587.3,589.0 586.9,588.8 584.6,590.8 585.0,589.8 585.2,590.2 584.1,587.2 582.7,587.7 580.9,586.2 581.2,586.7 580.6,584.4 580.0,584.4 579.4,582.5 578.4,581.0 579.1,581.9 578.3,579.9" fill="#fbfaf8"/>
<polygon points="547.1,547.1 548.0,544.7 548.6,544.4 550.7,545.3 552.8,545.8 553.2,544.8 553.6,546.6 553.9,546.4 557.2,544.1 557.3,543.2 558.6,546.5 555.3,547.0 556.5,548.5 558.2,548.5 557.6,548.4 559.4,548.5 558.4,551.2 560.9,550.5 558.3,552.5 561.8,552.5 561.2,556.6 560.2,555.3 561.5,556.9 558.1,559.7 558.3,557.6 558.9,561.0 560.6,560.0 558.4,564.2 558.0,561.5 560.1,564.6 559.2,566.3 555.9,566.0 554.8,567.2 557.3,566.8 554.8,568.1 555.1,568.0 551.6,568.4 552.5,568.0 550.2,568.9 551.7,567.0 548.8,566.8 550.2,563.3 547.6,562.8 546.4,563.1 546.0,564.2 546.7,560.8 546.1,561.0 547.9,558.8 546.9,556.7 546.7,555.9 545.5,557.0 545.6,553.8 548.9,552.9 546.8,551.6 545.4,551.4 548.0,552.9 546.3,549.5 545.8,549.9 546.7,548.3 546.3,548.3" fill="#a8722e" stroke="#a8722e" stroke-width="4.4" stroke-linejoin="round" opacity="1.0"/>
<polygon points="546.4,546.5 547.1,545.8 550.5,545.3 551.5,546.7 549.8,545.7 550.8,544.3 552.9,544.0 554.9,546.1 556.6,545.5 556.9,544.3 558.0,546.9 556.7,547.3 558.5,547.3 557.3,549.5 558.7,550.3 559.7,551.0 559.4,551.9 558.7,553.2 560.3,552.0 559.6,553.7 559.6,553.7 558.7,556.8 560.8,555.7 560.6,557.4 558.2,558.8 559.9,560.5 560.2,560.8 560.3,561.5 560.0,563.8 558.7,563.7 558.5,564.0 557.4,565.9 557.2,565.8 556.5,567.5 556.0,569.1 553.9,568.4 553.5,569.8 553.2,568.7 552.1,566.7 550.2,567.5 551.4,565.8 550.6,563.6 549.5,563.9 549.7,563.4 548.8,562.6 546.0,561.5 545.7,561.2 547.5,559.2 548.3,559.5 548.1,557.2 546.8,556.9 545.6,554.8 546.7,554.8 547.3,553.4 547.7,552.9 548.3,550.5 546.5,551.0 547.8,548.9 546.0,547.9 547.5,547.4" fill="#fbfaf8"/>
<polygon points="534.5,525.3 533.6,522.1 534.4,523.4 537.2,523.6 538.7,521.8 538.4,523.8 540.6,520.2 540.6,520.7 541.6,521.8 540.7,522.3 543.2,524.6 543.6,525.5 544.9,527.5 547.0,526.3 544.9,527.1 542.5,528.1 543.1,531.1 545.1,530.8 543.9,531.7 541.6,532.0 543.7,533.0 541.4,535.9 539.7,535.1 540.4,534.2 537.6,536.1 537.4,534.6 536.8,535.7 536.7,534.2 536.7,531.7 535.0,530.4 534.1,530.4 536.3,530.6 535.3,528.5 536.1,527.9 534.0,525.4 533.9,527.1 533.3,526.3" fill="#a8722e" stroke="#a8722e" stroke-width="4.4" stroke-linejoin="round" opacity="1.0"/>
<polygon points="534.8,524.4 533.7,522.1 536.2,521.7 536.3,523.1 539.1,521.2 537.9,522.5 541.7,521.2 539.9,521.0 542.1,521.4 542.3,523.2 542.9,524.8 545.2,524.8 545.1,525.4 546.4,527.9 545.2,527.4 543.8,529.1 542.5,529.0 542.3,530.9 542.8,532.1 542.3,534.5 542.8,534.0 541.4,533.3 540.4,535.7 540.0,535.1 538.3,535.0 536.1,534.1 535.3,535.6 536.0,535.4 535.8,533.2 534.9,531.2 536.3,530.9 535.5,529.3 535.4,528.1 533.3,527.5 534.1,527.6 535.2,525.0 532.4,524.5" fill="#fbfaf8"/>
<polygon points="543.0,535.2 544.3,534.5 545.5,533.4 546.9,536.2 547.1,534.7 546.3,535.2 550.2,536.1 549.5,533.1 551.4,535.1 550.4,536.3 549.5,538.1 552.8,537.5 552.0,539.5 553.4,541.3 553.2,540.9 552.1,541.7 550.9,543.1 549.5,541.3 548.3,542.8 547.4,543.5 546.5,543.8 548.0,544.6 544.1,543.4 545.1,542.2 545.8,544.3 541.9,540.8 544.3,542.4 541.6,539.9 543.0,537.8 542.7,538.0 542.5,538.6 542.8,537.9" fill="#a8722e" stroke="#a8722e" stroke-width="4.4" stroke-linejoin="round" opacity="1.0"/>
<polygon points="541.9,534.7 543.9,533.8 544.2,536.1 544.3,535.9 546.2,533.7 548.4,534.1 548.5,532.8 548.5,535.2 549.4,535.3 550.9,536.4 551.8,535.6 551.5,536.4 551.5,538.8 552.1,539.6 553.6,541.9 552.5,540.2 549.6,542.4 550.0,542.3 550.8,544.2 549.1,545.5 548.5,546.3 546.6,545.6 547.0,544.5 546.5,542.8 544.8,542.7 543.6,541.9 544.0,541.5 541.7,539.7 541.3,540.2 542.9,538.2 543.7,538.6 543.4,535.2" fill="#fbfaf8"/>
<polygon points="532.2,535.5 533.8,537.9 534.8,536.1 538.5,535.5 538.5,538.1 538.6,535.3 538.0,539.2 539.6,537.5 538.4,541.7 541.5,543.2 541.2,543.5 541.4,543.0 539.7,542.9 538.7,544.3 538.9,544.8 538.6,546.5 538.3,548.9 535.1,547.1 537.0,546.8 533.1,548.5 533.9,544.8 532.2,547.3 534.0,543.2 534.5,543.7 533.9,542.6 531.2,541.3 532.2,541.9 533.0,537.9 535.1,536.3" fill="#a8722e" stroke="#a8722e" stroke-width="4.4" stroke-linejoin="round" opacity="1.0"/>
<polygon points="532.7,536.6 536.2,535.5 534.7,535.5 537.0,536.9 536.9,536.4 539.4,536.2 540.0,537.4 541.2,538.2 539.4,539.3 540.8,539.9 541.1,541.3 540.2,542.4 541.1,545.8 539.7,546.1 539.5,547.2 537.6,547.0 537.7,547.8 536.4,548.9 535.5,547.9 536.0,546.5 535.6,545.8 535.2,544.6 534.6,545.0 532.5,543.5 533.2,542.2 532.0,541.4 532.4,540.3 533.7,538.3 533.3,537.2" fill="#fbfaf8"/>
<polygon points="543.2,521.5 545.5,521.3 548.9,521.1 547.0,520.3 547.5,522.2 550.5,520.7 551.7,521.8 554.2,519.9 554.3,520.3 554.7,523.7 551.8,522.4 552.8,526.1 554.1,526.3 555.0,525.6 554.9,529.4 553.7,528.5 552.7,529.4 550.5,531.8 548.7,529.3 548.8,529.6 546.3,530.0 548.5,530.4 544.7,530.5 546.8,529.8 545.2,526.2 545.7,524.6 546.7,526.0 546.9,525.1 546.5,523.3" fill="#a8722e" stroke="#a8722e" stroke-width="4.4" stroke-linejoin="round" opacity="1.0"/>
<polygon points="545.0,520.7 546.5,520.6 546.8,522.2 548.7,520.2 549.4,521.8 551.9,520.8 550.7,520.5 552.8,522.2 552.7,521.3 553.3,522.9 553.1,523.5 554.3,525.5 555.1,526.7 553.2,526.7 552.7,529.6 552.4,528.6 553.2,529.9 551.8,530.9 550.1,529.6 547.6,532.3 548.1,530.4 546.3,529.9 546.3,528.5 545.5,527.2 544.1,526.7 544.6,525.1 544.6,526.2 544.6,523.1 546.2,522.0" fill="#fbfaf8"/>
</g>
</g>
<g filter="url(#fSoft)">
<clipPath id="c1b40"><rect x="72" y="617.6" width="126" height="117.39999999999998"/></clipPath>
<rect x="72.00" y="617.60" width="126.00" height="117.40" fill="#d4cdc6" />
<g clip-path="url(#c1b40)">
<rect x="72" y="617.6" width="126" height="117.39999999999998" fill="#000" filter="url(#fStroma)" clip-path="url(#c1b40)"/>
<path fill="#4f5fa6" opacity="0.8" d="M130.6 682.9a1.7 0.9 166 1 0 -3.2 0.8a1.7 0.9 166 1 0 3.2 -0.8M134.6 685.6a1.7 0.9 33 1 0 2.9 1.9a1.7 0.9 33 1 0 -2.9 -1.9M149.9 710.3a1.5 0.8 17 1 0 2.9 0.9a1.5 0.8 17 1 0 -2.9 -0.9M84.1 711.6a1.2 0.7 125 1 0 -1.4 2.0a1.2 0.7 125 1 0 1.4 -2.0M196.6 729.3a1.8 1.0 118 1 0 -1.7 3.2a1.8 1.0 118 1 0 1.7 -3.2M92.0 618.1a1.3 0.7 95 1 0 -0.2 2.5a1.3 0.7 95 1 0 0.2 -2.5M94.3 645.8a1.7 0.9 5 1 0 3.3 0.3a1.7 0.9 5 1 0 -3.3 -0.3M127.6 714.7a1.8 1.0 93 1 0 -0.2 3.7a1.8 1.0 93 1 0 0.2 -3.7M134.8 693.9a1.5 0.8 82 1 0 0.4 2.9a1.5 0.8 82 1 0 -0.4 -2.9M199.4 733.6a1.9 1.0 151 1 0 -3.4 1.8a1.9 1.0 151 1 0 3.4 -1.8M110.9 643.6a1.3 0.7 52 1 0 1.6 2.0a1.3 0.7 52 1 0 -1.6 -2.0M170.0 663.9a1.6 0.8 152 1 0 -2.8 1.5a1.6 0.8 152 1 0 2.8 -1.5M191.3 717.1a1.4 0.7 0 1 0 2.8 0.0a1.4 0.7 0 1 0 -2.8 -0.0M188.3 672.7a1.6 0.8 176 1 0 -3.2 0.2a1.6 0.8 176 1 0 3.2 -0.2M82.3 690.6a1.5 0.8 140 1 0 -2.2 1.9a1.5 0.8 140 1 0 2.2 -1.9M84.9 656.4a2.0 1.0 174 1 0 -3.9 0.4a2.0 1.0 174 1 0 3.9 -0.4M85.7 646.1a1.3 0.7 18 1 0 2.4 0.8a1.3 0.7 18 1 0 -2.4 -0.8M172.7 636.8a1.6 0.9 101 1 0 -0.6 3.2a1.6 0.9 101 1 0 0.6 -3.2M94.3 702.8a1.8 1.0 24 1 0 3.4 1.5a1.8 1.0 24 1 0 -3.4 -1.5M85.5 666.1a1.5 0.8 38 1 0 2.3 1.8a1.5 0.8 38 1 0 -2.3 -1.8M193.1 710.2a2.1 1.1 55 1 0 2.4 3.4a2.1 1.1 55 1 0 -2.4 -3.4M100.2 663.1a1.8 1.0 154 1 0 -3.3 1.6a1.8 1.0 154 1 0 3.3 -1.6M83.5 732.8a1.5 0.8 38 1 0 2.3 1.8a1.5 0.8 38 1 0 -2.3 -1.8M168.6 655.2a1.3 0.7 53 1 0 1.5 2.0a1.3 0.7 53 1 0 -1.5 -2.0M82.1 684.8a1.8 1.0 44 1 0 2.6 2.5a1.8 1.0 44 1 0 -2.6 -2.5M120.5 670.6a1.7 0.9 173 1 0 -3.3 0.4a1.7 0.9 173 1 0 3.3 -0.4M143.3 718.6a1.3 0.7 33 1 0 2.3 1.5a1.3 0.7 33 1 0 -2.3 -1.5M185.5 712.6a1.4 0.7 45 1 0 2.0 2.0a1.4 0.7 45 1 0 -2.0 -2.0M163.4 726.8a2.2 1.1 35 1 0 3.5 2.5a2.2 1.1 35 1 0 -3.5 -2.5M182.8 687.2a1.3 0.7 76 1 0 0.6 2.5a1.3 0.7 76 1 0 -0.6 -2.5M75.5 729.3a1.9 1.0 43 1 0 2.8 2.6a1.9 1.0 43 1 0 -2.8 -2.6M104.8 712.9a1.5 0.8 107 1 0 -0.9 2.8a1.5 0.8 107 1 0 0.9 -2.8M92.7 701.9a1.4 0.8 12 1 0 2.8 0.6a1.4 0.8 12 1 0 -2.8 -0.6M143.0 716.3a1.5 0.8 111 1 0 -1.0 2.8a1.5 0.8 111 1 0 1.0 -2.8M186.1 641.5a1.5 0.8 3 1 0 2.9 0.2a1.5 0.8 3 1 0 -2.9 -0.2M126.8 623.9a1.6 0.8 32 1 0 2.7 1.6a1.6 0.8 32 1 0 -2.7 -1.6M143.2 631.1a2.1 1.1 65 1 0 1.8 3.8a2.1 1.1 65 1 0 -1.8 -3.8M196.6 693.3a1.8 0.9 124 1 0 -2.0 2.9a1.8 0.9 124 1 0 2.0 -2.9M87.6 621.6a2.1 1.1 3 1 0 4.2 0.2a2.1 1.1 3 1 0 -4.2 -0.2M158.5 730.5a1.8 1.0 4 1 0 3.7 0.2a1.8 1.0 4 1 0 -3.7 -0.2M131.6 701.5a2.2 1.2 57 1 0 2.4 3.7a2.2 1.2 57 1 0 -2.4 -3.7M82.9 680.2a2.1 1.1 133 1 0 -2.9 3.1a2.1 1.1 133 1 0 2.9 -3.1M166.6 698.9a2.1 1.1 143 1 0 -3.4 2.6a2.1 1.1 143 1 0 3.4 -2.6M118.3 697.4a2.1 1.1 162 1 0 -4.0 1.3a2.1 1.1 162 1 0 4.0 -1.3M126.2 709.7a1.8 0.9 155 1 0 -3.2 1.5a1.8 0.9 155 1 0 3.2 -1.5M151.2 660.7a1.8 1.0 105 1 0 -0.9 3.5a1.8 1.0 105 1 0 0.9 -3.5M84.2 692.6a2.1 1.1 179 1 0 -4.2 0.1a2.1 1.1 179 1 0 4.2 -0.1M165.0 661.9a1.8 0.9 132 1 0 -2.4 2.6a1.8 0.9 132 1 0 2.4 -2.6M125.6 715.5a2.0 1.0 15 1 0 3.8 1.0a2.0 1.0 15 1 0 -3.8 -1.0M75.7 686.8a1.4 0.8 87 1 0 0.2 2.8a1.4 0.8 87 1 0 -0.2 -2.8M160.7 674.0a2.1 1.1 111 1 0 -1.5 4.0a2.1 1.1 111 1 0 1.5 -4.0M103.1 617.4a1.9 1.0 54 1 0 2.2 3.1a1.9 1.0 54 1 0 -2.2 -3.1M99.3 637.0a1.9 1.0 163 1 0 -3.6 1.1a1.9 1.0 163 1 0 3.6 -1.1M126.7 720.7a1.9 1.0 59 1 0 1.9 3.2a1.9 1.0 59 1 0 -1.9 -3.2M98.8 667.0a2.1 1.1 145 1 0 -3.5 2.4a2.1 1.1 145 1 0 3.5 -2.4M183.3 661.3a1.5 0.8 105 1 0 -0.8 2.9a1.5 0.8 105 1 0 0.8 -2.9M91.0 674.9a2.1 1.1 151 1 0 -3.6 2.0a2.1 1.1 151 1 0 3.6 -2.0M160.7 728.1a1.4 0.7 50 1 0 1.8 2.1a1.4 0.7 50 1 0 -1.8 -2.1M127.5 648.9a1.6 0.9 39 1 0 2.5 2.0a1.6 0.9 39 1 0 -2.5 -2.0M149.7 673.9a2.0 1.1 57 1 0 2.2 3.4a2.0 1.1 57 1 0 -2.2 -3.4M194.5 670.4a1.2 0.6 13 1 0 2.4 0.6a1.2 0.6 13 1 0 -2.4 -0.6M183.1 621.1a1.8 0.9 128 1 0 -2.2 2.8a1.8 0.9 128 1 0 2.2 -2.8M109.6 710.4a1.3 0.7 3 1 0 2.7 0.2a1.3 0.7 3 1 0 -2.7 -0.2M130.5 619.8a1.4 0.8 149 1 0 -2.5 1.5a1.4 0.8 149 1 0 2.5 -1.5M90.4 621.6a1.6 0.9 113 1 0 -1.3 3.0a1.6 0.9 113 1 0 1.3 -3.0M153.2 693.3a2.2 1.1 145 1 0 -3.6 2.5a2.2 1.1 145 1 0 3.6 -2.5M158.1 639.6a1.4 0.7 86 1 0 0.2 2.7a1.4 0.7 86 1 0 -0.2 -2.7M74.2 672.0a1.4 0.7 129 1 0 -1.7 2.1a1.4 0.7 129 1 0 1.7 -2.1M107.3 656.8a1.7 0.9 126 1 0 -2.0 2.8a1.7 0.9 126 1 0 2.0 -2.8M148.8 704.5a2.0 1.1 71 1 0 1.3 3.8a2.0 1.1 71 1 0 -1.3 -3.8M188.1 627.4a1.9 1.0 168 1 0 -3.8 0.8a1.9 1.0 168 1 0 3.8 -0.8M89.2 668.9a2.1 1.1 113 1 0 -1.6 3.9a2.1 1.1 113 1 0 1.6 -3.9M121.3 683.6a2.0 1.1 158 1 0 -3.7 1.5a2.0 1.1 158 1 0 3.7 -1.5M191.6 670.8a1.4 0.7 117 1 0 -1.3 2.5a1.4 0.7 117 1 0 1.3 -2.5M163.8 711.9a1.9 1.0 115 1 0 -1.7 3.5a1.9 1.0 115 1 0 1.7 -3.5M101.1 723.1a2.2 1.2 176 1 0 -4.4 0.3a2.2 1.2 176 1 0 4.4 -0.3M138.5 708.6a2.1 1.1 58 1 0 2.3 3.6a2.1 1.1 58 1 0 -2.3 -3.6M178.2 658.1a1.6 0.9 15 1 0 3.2 0.8a1.6 0.9 15 1 0 -3.2 -0.8M141.3 706.6a1.2 0.6 88 1 0 0.1 2.4a1.2 0.6 88 1 0 -0.1 -2.4M175.1 624.3a1.4 0.7 144 1 0 -2.2 1.6a1.4 0.7 144 1 0 2.2 -1.6M113.0 709.5a1.3 0.7 25 1 0 2.4 1.1a1.3 0.7 25 1 0 -2.4 -1.1M138.7 701.6a1.9 1.0 151 1 0 -3.3 1.8a1.9 1.0 151 1 0 3.3 -1.8M192.4 675.2a1.3 0.7 171 1 0 -2.5 0.4a1.3 0.7 171 1 0 2.5 -0.4M98.7 677.9a1.9 1.0 52 1 0 2.4 3.1a1.9 1.0 52 1 0 -2.4 -3.1M154.1 678.1a1.8 0.9 152 1 0 -3.1 1.7a1.8 0.9 152 1 0 3.1 -1.7M113.1 661.4a2.1 1.1 152 1 0 -3.7 2.0a2.1 1.1 152 1 0 3.7 -2.0M100.0 717.3a1.7 0.9 174 1 0 -3.4 0.3a1.7 0.9 174 1 0 3.4 -0.3M144.4 639.5a1.7 0.9 96 1 0 -0.4 3.4a1.7 0.9 96 1 0 0.4 -3.4M150.0 620.7a1.7 0.9 174 1 0 -3.4 0.3a1.7 0.9 174 1 0 3.4 -0.3M122.8 710.0a1.7 0.9 101 1 0 -0.7 3.3a1.7 0.9 101 1 0 0.7 -3.3M159.3 623.7a1.6 0.9 97 1 0 -0.4 3.2a1.6 0.9 97 1 0 0.4 -3.2M191.5 724.8a1.7 0.9 48 1 0 2.2 2.5a1.7 0.9 48 1 0 -2.2 -2.5M89.8 667.4a2.1 1.1 147 1 0 -3.5 2.3a2.1 1.1 147 1 0 3.5 -2.3M130.5 653.8a1.8 1.0 34 1 0 3.0 2.1a1.8 1.0 34 1 0 -3.0 -2.1M189.5 632.0a1.2 0.6 140 1 0 -1.9 1.6a1.2 0.6 140 1 0 1.9 -1.6M97.3 643.0a1.5 0.8 124 1 0 -1.7 2.5a1.5 0.8 124 1 0 1.7 -2.5M114.9 689.7a1.9 1.0 19 1 0 3.7 1.3a1.9 1.0 19 1 0 -3.7 -1.3M86.5 676.5a1.4 0.7 45 1 0 2.0 2.0a1.4 0.7 45 1 0 -2.0 -2.0M138.2 667.4a1.6 0.9 68 1 0 1.2 3.0a1.6 0.9 68 1 0 -1.2 -3.0M137.2 635.3a1.8 1.0 37 1 0 2.9 2.2a1.8 1.0 37 1 0 -2.9 -2.2M154.1 679.0a1.8 1.0 153 1 0 -3.2 1.6a1.8 1.0 153 1 0 3.2 -1.6M181.3 643.4a2.0 1.1 133 1 0 -2.8 2.9a2.0 1.1 133 1 0 2.8 -2.9M184.6 652.9a2.1 1.1 57 1 0 2.3 3.6a2.1 1.1 57 1 0 -2.3 -3.6M100.7 734.3a1.3 0.7 160 1 0 -2.5 0.9a1.3 0.7 160 1 0 2.5 -0.9M101.3 702.0a1.3 0.7 47 1 0 1.8 1.9a1.3 0.7 47 1 0 -1.8 -1.9M177.9 666.3a1.3 0.7 142 1 0 -2.1 1.6a1.3 0.7 142 1 0 2.1 -1.6M121.4 698.0a1.4 0.7 3 1 0 2.8 0.2a1.4 0.7 3 1 0 -2.8 -0.2M159.3 724.5a1.3 0.7 174 1 0 -2.6 0.3a1.3 0.7 174 1 0 2.6 -0.3M135.7 704.7a1.9 1.0 91 1 0 -0.0 3.8a1.9 1.0 91 1 0 0.0 -3.8M94.7 625.5a1.2 0.7 19 1 0 2.3 0.8a1.2 0.7 19 1 0 -2.3 -0.8M141.8 676.7a1.3 0.7 102 1 0 -0.6 2.6a1.3 0.7 102 1 0 0.6 -2.6M97.2 640.5a2.2 1.2 151 1 0 -3.9 2.1a2.2 1.2 151 1 0 3.9 -2.1M186.7 628.4a2.2 1.1 11 1 0 4.2 0.8a2.2 1.1 11 1 0 -4.2 -0.8M129.4 706.0a1.7 0.9 59 1 0 1.7 2.9a1.7 0.9 59 1 0 -1.7 -2.9M137.3 666.9a1.2 0.6 108 1 0 -0.8 2.3a1.2 0.6 108 1 0 0.8 -2.3M158.9 715.8a1.7 0.9 33 1 0 2.8 1.8a1.7 0.9 33 1 0 -2.8 -1.8M164.0 664.4a1.4 0.7 35 1 0 2.2 1.6a1.4 0.7 35 1 0 -2.2 -1.6M138.5 618.7a2.0 1.1 161 1 0 -3.8 1.3a2.0 1.1 161 1 0 3.8 -1.3M161.4 717.2a1.6 0.8 113 1 0 -1.3 2.9a1.6 0.8 113 1 0 1.3 -2.9M149.6 676.7a2.0 1.1 177 1 0 -4.0 0.2a2.0 1.1 177 1 0 4.0 -0.2M105.9 723.2a2.0 1.1 134 1 0 -2.8 2.9a2.0 1.1 134 1 0 2.8 -2.9M176.6 664.6a2.1 1.1 161 1 0 -4.0 1.3a2.1 1.1 161 1 0 4.0 -1.3M160.7 706.6a1.6 0.8 138 1 0 -2.4 2.2a1.6 0.8 138 1 0 2.4 -2.2M162.3 624.4a1.7 0.9 62 1 0 1.6 2.9a1.7 0.9 62 1 0 -1.6 -2.9M74.1 657.7a1.8 1.0 115 1 0 -1.5 3.3a1.8 1.0 115 1 0 1.5 -3.3M102.0 727.2a1.5 0.8 120 1 0 -1.5 2.7a1.5 0.8 120 1 0 1.5 -2.7M155.3 682.9a1.6 0.8 96 1 0 -0.3 3.2a1.6 0.8 96 1 0 0.3 -3.2M199.1 691.4a2.0 1.0 126 1 0 -2.3 3.2a2.0 1.0 126 1 0 2.3 -3.2M196.2 618.5a1.9 1.0 111 1 0 -1.4 3.6a1.9 1.0 111 1 0 1.4 -3.6M103.0 664.5a1.4 0.7 9 1 0 2.7 0.4a1.4 0.7 9 1 0 -2.7 -0.4M117.8 627.7a2.1 1.1 45 1 0 3.0 3.0a2.1 1.1 45 1 0 -3.0 -3.0M143.1 677.0a1.8 0.9 174 1 0 -3.5 0.4a1.8 0.9 174 1 0 3.5 -0.4M198.4 691.8a1.3 0.7 146 1 0 -2.1 1.4a1.3 0.7 146 1 0 2.1 -1.4M145.2 706.4a2.1 1.1 8 1 0 4.2 0.6a2.1 1.1 8 1 0 -4.2 -0.6M90.7 672.1a1.7 0.9 30 1 0 2.9 1.7a1.7 0.9 30 1 0 -2.9 -1.7M150.6 624.2a1.6 0.9 170 1 0 -3.2 0.6a1.6 0.9 170 1 0 3.2 -0.6M137.8 686.4a1.5 0.8 66 1 0 1.2 2.7a1.5 0.8 66 1 0 -1.2 -2.7M153.3 681.9a1.9 1.0 51 1 0 2.4 3.0a1.9 1.0 51 1 0 -2.4 -3.0M108.4 618.4a1.2 0.7 44 1 0 1.8 1.7a1.2 0.7 44 1 0 -1.8 -1.7M91.0 704.2a2.1 1.1 70 1 0 1.4 4.0a2.1 1.1 70 1 0 -1.4 -4.0M168.4 623.4a2.2 1.1 178 1 0 -4.3 0.2a2.2 1.1 178 1 0 4.3 -0.2M80.9 722.3a1.7 0.9 77 1 0 0.7 3.3a1.7 0.9 77 1 0 -0.7 -3.3M194.8 644.1a2.1 1.1 94 1 0 -0.3 4.3a2.1 1.1 94 1 0 0.3 -4.3M165.1 672.4a2.0 1.1 176 1 0 -4.0 0.3a2.0 1.1 176 1 0 4.0 -0.3M148.7 629.6a1.7 0.9 112 1 0 -1.3 3.1a1.7 0.9 112 1 0 1.3 -3.1M97.8 622.4a1.3 0.7 95 1 0 -0.2 2.6a1.3 0.7 95 1 0 0.2 -2.6M127.6 694.6a1.5 0.8 82 1 0 0.4 2.9a1.5 0.8 82 1 0 -0.4 -2.9M146.7 665.7a1.7 0.9 140 1 0 -2.7 2.2a1.7 0.9 140 1 0 2.7 -2.2M198.7 728.4a1.4 0.8 132 1 0 -1.9 2.1a1.4 0.8 132 1 0 1.9 -2.1M87.8 721.3a1.8 1.0 141 1 0 -2.8 2.3a1.8 1.0 141 1 0 2.8 -2.3M118.2 648.0a1.8 0.9 123 1 0 -1.9 3.0a1.8 0.9 123 1 0 1.9 -3.0M147.5 691.0a1.4 0.7 136 1 0 -2.0 1.9a1.4 0.7 136 1 0 2.0 -1.9M105.4 732.1a2.1 1.1 165 1 0 -4.0 1.1a2.1 1.1 165 1 0 4.0 -1.1M75.9 623.5a1.6 0.9 49 1 0 2.1 2.4a1.6 0.9 49 1 0 -2.1 -2.4M150.7 628.4a1.3 0.7 97 1 0 -0.3 2.5a1.3 0.7 97 1 0 0.3 -2.5M83.2 695.2a1.8 1.0 99 1 0 -0.6 3.6a1.8 1.0 99 1 0 0.6 -3.6M117.8 672.8a1.5 0.8 38 1 0 2.4 1.9a1.5 0.8 38 1 0 -2.4 -1.9M164.6 715.7a1.3 0.7 13 1 0 2.6 0.6a1.3 0.7 13 1 0 -2.6 -0.6M175.0 689.9a1.4 0.7 138 1 0 -2.1 1.9a1.4 0.7 138 1 0 2.1 -1.9M126.8 647.0a1.6 0.8 146 1 0 -2.6 1.8a1.6 0.8 146 1 0 2.6 -1.8M153.4 732.2a1.7 0.9 59 1 0 1.8 3.0a1.7 0.9 59 1 0 -1.8 -3.0M165.7 724.2a1.6 0.8 77 1 0 0.7 3.1a1.6 0.8 77 1 0 -0.7 -3.1M83.0 720.0a1.3 0.7 14 1 0 2.5 0.6a1.3 0.7 14 1 0 -2.5 -0.6M143.9 673.3a1.5 0.8 123 1 0 -1.6 2.5a1.5 0.8 123 1 0 1.6 -2.5M168.3 625.4a1.9 1.0 38 1 0 2.9 2.3a1.9 1.0 38 1 0 -2.9 -2.3M83.5 651.8a1.9 1.0 130 1 0 -2.5 2.9a1.9 1.0 130 1 0 2.5 -2.9M106.8 632.6a1.9 1.0 64 1 0 1.7 3.5a1.9 1.0 64 1 0 -1.7 -3.5M119.2 630.0a1.8 0.9 128 1 0 -2.2 2.8a1.8 0.9 128 1 0 2.2 -2.8M189.3 727.5a1.6 0.9 164 1 0 -3.2 0.9a1.6 0.9 164 1 0 3.2 -0.9M172.3 652.0a1.6 0.8 57 1 0 1.7 2.7a1.6 0.8 57 1 0 -1.7 -2.7M188.7 721.5a1.6 0.8 45 1 0 2.2 2.2a1.6 0.8 45 1 0 -2.2 -2.2M117.6 658.8a1.6 0.8 71 1 0 1.0 3.0a1.6 0.8 71 1 0 -1.0 -3.0M98.0 682.8a1.7 0.9 143 1 0 -2.8 2.1a1.7 0.9 143 1 0 2.8 -2.1M175.7 682.6a2.0 1.0 32 1 0 3.3 2.1a2.0 1.0 32 1 0 -3.3 -2.1M181.3 650.5a1.7 0.9 4 1 0 3.4 0.2a1.7 0.9 4 1 0 -3.4 -0.2M142.4 684.0a1.9 1.0 174 1 0 -3.7 0.4a1.9 1.0 174 1 0 3.7 -0.4M173.6 623.1a2.0 1.1 98 1 0 -0.6 3.9a2.0 1.1 98 1 0 0.6 -3.9M84.0 625.6a2.1 1.1 133 1 0 -2.9 3.1a2.1 1.1 133 1 0 2.9 -3.1M80.9 691.2a2.0 1.0 26 1 0 3.5 1.7a2.0 1.0 26 1 0 -3.5 -1.7M152.3 645.2a2.0 1.0 40 1 0 3.0 2.5a2.0 1.0 40 1 0 -3.0 -2.5M137.2 705.9a1.5 0.8 71 1 0 1.0 2.9a1.5 0.8 71 1 0 -1.0 -2.9M194.0 694.8a1.7 0.9 89 1 0 0.1 3.5a1.7 0.9 89 1 0 -0.1 -3.5M164.4 700.3a1.6 0.9 165 1 0 -3.1 0.8a1.6 0.9 165 1 0 3.1 -0.8M177.9 695.0a2.0 1.1 154 1 0 -3.6 1.8a2.0 1.1 154 1 0 3.6 -1.8M178.9 721.7a1.8 1.0 172 1 0 -3.7 0.5a1.8 1.0 172 1 0 3.7 -0.5M139.3 700.0a1.6 0.9 144 1 0 -2.6 1.9a1.6 0.9 144 1 0 2.6 -1.9M126.5 633.2a2.2 1.2 133 1 0 -3.0 3.2a2.2 1.2 133 1 0 3.0 -3.2M118.0 636.3a1.6 0.9 37 1 0 2.6 1.9a1.6 0.9 37 1 0 -2.6 -1.9M107.3 731.2a1.5 0.8 11 1 0 3.0 0.6a1.5 0.8 11 1 0 -3.0 -0.6M87.5 692.8a1.4 0.7 140 1 0 -2.1 1.8a1.4 0.7 140 1 0 2.1 -1.8M80.4 669.4a2.1 1.1 105 1 0 -1.1 4.1a2.1 1.1 105 1 0 1.1 -4.1M75.4 629.6a1.4 0.7 33 1 0 2.4 1.5a1.4 0.7 33 1 0 -2.4 -1.5M102.1 700.4a1.4 0.8 107 1 0 -0.8 2.7a1.4 0.8 107 1 0 0.8 -2.7M93.6 649.6a2.0 1.0 31 1 0 3.4 2.0a2.0 1.0 31 1 0 -3.4 -2.0M112.7 681.1a1.7 0.9 147 1 0 -2.8 1.8a1.7 0.9 147 1 0 2.8 -1.8M106.3 721.4a1.5 0.8 165 1 0 -3.0 0.8a1.5 0.8 165 1 0 3.0 -0.8M140.9 728.5a1.4 0.7 87 1 0 0.2 2.8a1.4 0.7 87 1 0 -0.2 -2.8M79.5 727.9a1.6 0.8 144 1 0 -2.6 1.8a1.6 0.8 144 1 0 2.6 -1.8M137.0 676.5a2.2 1.2 49 1 0 2.9 3.3a2.2 1.2 49 1 0 -2.9 -3.3M153.2 645.4a1.7 0.9 2 1 0 3.3 0.1a1.7 0.9 2 1 0 -3.3 -0.1M119.9 709.7a1.8 1.0 128 1 0 -2.2 2.8a1.8 1.0 128 1 0 2.2 -2.8M91.0 634.8a1.5 0.8 58 1 0 1.5 2.5a1.5 0.8 58 1 0 -1.5 -2.5M182.4 676.2a2.2 1.2 115 1 0 -1.8 4.0a2.2 1.2 115 1 0 1.8 -4.0M103.8 679.5a2.0 1.0 27 1 0 3.5 1.8a2.0 1.0 27 1 0 -3.5 -1.8M74.0 713.1a2.0 1.1 152 1 0 -3.6 1.9a2.0 1.1 152 1 0 3.6 -1.9M83.2 648.3a1.3 0.7 129 1 0 -1.6 2.0a1.3 0.7 129 1 0 1.6 -2.0M134.3 672.4a1.8 0.9 172 1 0 -3.5 0.5a1.8 0.9 172 1 0 3.5 -0.5M181.3 652.2a1.6 0.9 142 1 0 -2.5 2.0a1.6 0.9 142 1 0 2.5 -2.0M188.7 627.5a1.4 0.7 149 1 0 -2.4 1.5a1.4 0.7 149 1 0 2.4 -1.5M138.7 678.3a2.0 1.1 28 1 0 3.6 1.9a2.0 1.1 28 1 0 -3.6 -1.9M109.8 653.7a1.5 0.8 14 1 0 2.9 0.7a1.5 0.8 14 1 0 -2.9 -0.7M130.1 699.8a1.9 1.0 65 1 0 1.6 3.4a1.9 1.0 65 1 0 -1.6 -3.4M85.1 661.7a2.2 1.2 83 1 0 0.5 4.3a2.2 1.2 83 1 0 -0.5 -4.3M175.0 694.3a1.6 0.8 2 1 0 3.1 0.1a1.6 0.8 2 1 0 -3.1 -0.1M161.8 643.9a1.7 0.9 102 1 0 -0.7 3.2a1.7 0.9 102 1 0 0.7 -3.2M74.5 733.2a1.4 0.7 144 1 0 -2.3 1.7a1.4 0.7 144 1 0 2.3 -1.7M149.0 650.1a1.7 0.9 68 1 0 1.3 3.2a1.7 0.9 68 1 0 -1.3 -3.2M109.0 655.4a1.9 1.0 71 1 0 1.2 3.5a1.9 1.0 71 1 0 -1.2 -3.5M105.3 639.9a1.5 0.8 132 1 0 -2.0 2.3a1.5 0.8 132 1 0 2.0 -2.3M192.1 682.5a1.5 0.8 130 1 0 -2.0 2.3a1.5 0.8 130 1 0 2.0 -2.3M175.0 627.9a1.3 0.7 25 1 0 2.3 1.1a1.3 0.7 25 1 0 -2.3 -1.1M156.0 699.9a1.6 0.8 32 1 0 2.7 1.7a1.6 0.8 32 1 0 -2.7 -1.7M176.1 686.8a1.4 0.8 16 1 0 2.7 0.8a1.4 0.8 16 1 0 -2.7 -0.8M91.4 631.0a1.3 0.7 73 1 0 0.7 2.4a1.3 0.7 73 1 0 -0.7 -2.4M188.1 665.9a1.9 1.0 92 1 0 -0.1 3.7a1.9 1.0 92 1 0 0.1 -3.7M168.1 712.6a1.5 0.8 69 1 0 1.1 2.9a1.5 0.8 69 1 0 -1.1 -2.9M123.3 617.6a1.9 1.0 72 1 0 1.2 3.6a1.9 1.0 72 1 0 -1.2 -3.6M196.6 708.7a1.8 1.0 119 1 0 -1.7 3.2a1.8 1.0 119 1 0 1.7 -3.2M73.5 654.8a1.9 1.0 62 1 0 1.8 3.3a1.9 1.0 62 1 0 -1.8 -3.3M85.4 659.9a2.0 1.1 92 1 0 -0.1 4.0a2.0 1.1 92 1 0 0.1 -4.0M174.2 688.4a2.0 1.0 29 1 0 3.5 1.9a2.0 1.0 29 1 0 -3.5 -1.9M185.0 680.4a1.7 0.9 63 1 0 1.5 3.0a1.7 0.9 63 1 0 -1.5 -3.0M91.6 701.3a1.7 0.9 178 1 0 -3.4 0.1a1.7 0.9 178 1 0 3.4 -0.1M160.4 714.4a2.2 1.1 35 1 0 3.5 2.5a2.2 1.1 35 1 0 -3.5 -2.5M149.6 640.5a1.4 0.8 15 1 0 2.8 0.7a1.4 0.8 15 1 0 -2.8 -0.7M143.5 697.6a2.1 1.1 59 1 0 2.2 3.7a2.1 1.1 59 1 0 -2.2 -3.7M115.5 671.1a2.2 1.2 22 1 0 4.0 1.7a2.2 1.2 22 1 0 -4.0 -1.7M89.3 722.0a1.8 0.9 98 1 0 -0.5 3.5a1.8 0.9 98 1 0 0.5 -3.5M144.7 648.0a2.2 1.2 164 1 0 -4.2 1.2a2.2 1.2 164 1 0 4.2 -1.2M173.1 687.5a2.0 1.1 22 1 0 3.8 1.5a2.0 1.1 22 1 0 -3.8 -1.5M107.1 721.7a1.8 0.9 43 1 0 2.6 2.4a1.8 0.9 43 1 0 -2.6 -2.4M176.9 638.1a1.3 0.7 99 1 0 -0.4 2.5a1.3 0.7 99 1 0 0.4 -2.5M78.2 638.7a2.1 1.1 178 1 0 -4.3 0.2a2.1 1.1 178 1 0 4.3 -0.2M156.0 652.0a1.9 1.0 121 1 0 -2.0 3.3a1.9 1.0 121 1 0 2.0 -3.3M121.1 686.4a1.2 0.6 145 1 0 -2.0 1.4a1.2 0.6 145 1 0 2.0 -1.4M95.7 671.9a1.6 0.8 26 1 0 2.9 1.4a1.6 0.8 26 1 0 -2.9 -1.4M143.8 636.5a1.5 0.8 94 1 0 -0.2 2.9a1.5 0.8 94 1 0 0.2 -2.9M144.1 655.5a1.2 0.7 116 1 0 -1.1 2.2a1.2 0.7 116 1 0 1.1 -2.2M158.3 634.4a1.8 1.0 173 1 0 -3.6 0.5a1.8 1.0 173 1 0 3.6 -0.5M131.9 664.1a1.9 1.0 112 1 0 -1.4 3.5a1.9 1.0 112 1 0 1.4 -3.5M167.4 703.6a2.2 1.2 87 1 0 0.2 4.4a2.2 1.2 87 1 0 -0.2 -4.4M177.2 716.4a1.6 0.9 74 1 0 0.9 3.1a1.6 0.9 74 1 0 -0.9 -3.1M143.5 722.2a1.7 0.9 95 1 0 -0.3 3.4a1.7 0.9 95 1 0 0.3 -3.4M125.8 722.7a1.2 0.7 58 1 0 1.3 2.1a1.2 0.7 58 1 0 -1.3 -2.1M164.6 721.9a1.8 1.0 132 1 0 -2.4 2.7a1.8 1.0 132 1 0 2.4 -2.7M167.1 652.2a1.3 0.7 107 1 0 -0.7 2.4a1.3 0.7 107 1 0 0.7 -2.4M87.7 668.5a1.6 0.8 90 1 0 -0.0 3.2a1.6 0.8 90 1 0 0.0 -3.2M78.7 697.8a1.4 0.8 95 1 0 -0.2 2.9a1.4 0.8 95 1 0 0.2 -2.9M109.7 663.2a1.3 0.7 42 1 0 1.9 1.7a1.3 0.7 42 1 0 -1.9 -1.7M187.9 729.3a2.1 1.1 120 1 0 -2.1 3.6a2.1 1.1 120 1 0 2.1 -3.6M123.6 710.9a2.0 1.0 40 1 0 3.0 2.5a2.0 1.0 40 1 0 -3.0 -2.5M141.5 723.1a2.0 1.1 18 1 0 3.8 1.2a2.0 1.1 18 1 0 -3.8 -1.2M88.8 680.5a1.2 0.6 171 1 0 -2.4 0.4a1.2 0.6 171 1 0 2.4 -0.4M102.1 651.7a1.3 0.7 58 1 0 1.3 2.1a1.3 0.7 58 1 0 -1.3 -2.1M184.3 711.9a1.6 0.8 72 1 0 1.0 2.9a1.6 0.8 72 1 0 -1.0 -2.9M143.7 622.8a2.1 1.1 6 1 0 4.2 0.4a2.1 1.1 6 1 0 -4.2 -0.4M112.9 675.7a2.2 1.2 168 1 0 -4.3 0.9a2.2 1.2 168 1 0 4.3 -0.9M130.3 640.1a2.1 1.1 53 1 0 2.6 3.4a2.1 1.1 53 1 0 -2.6 -3.4M186.4 639.8a1.6 0.8 151 1 0 -2.7 1.5a1.6 0.8 151 1 0 2.7 -1.5M133.6 637.0a2.2 1.2 158 1 0 -4.1 1.6a2.2 1.2 158 1 0 4.1 -1.6M95.7 690.7a2.1 1.1 34 1 0 3.4 2.4a2.1 1.1 34 1 0 -3.4 -2.4M79.3 628.9a1.5 0.8 131 1 0 -2.0 2.3a1.5 0.8 131 1 0 2.0 -2.3M186.3 718.6a1.3 0.7 128 1 0 -1.6 2.1a1.3 0.7 128 1 0 1.6 -2.1M159.5 726.4a1.3 0.7 80 1 0 0.4 2.5a1.3 0.7 80 1 0 -0.4 -2.5M101.0 652.6a1.4 0.7 128 1 0 -1.7 2.2a1.4 0.7 128 1 0 1.7 -2.2M95.8 643.5a2.0 1.1 120 1 0 -2.0 3.5a2.0 1.1 120 1 0 2.0 -3.5M120.6 694.7a1.8 0.9 159 1 0 -3.3 1.3a1.8 0.9 159 1 0 3.3 -1.3M102.7 652.5a1.9 1.0 167 1 0 -3.6 0.9a1.9 1.0 167 1 0 3.6 -0.9M104.8 692.1a2.2 1.2 16 1 0 4.2 1.2a2.2 1.2 16 1 0 -4.2 -1.2M127.6 678.4a1.2 0.7 96 1 0 -0.2 2.5a1.2 0.7 96 1 0 0.2 -2.5M146.1 649.6a2.0 1.1 45 1 0 2.8 2.8a2.0 1.1 45 1 0 -2.8 -2.8M84.0 650.1a1.4 0.8 136 1 0 -2.1 2.0a1.4 0.8 136 1 0 2.1 -2.0M105.4 680.8a2.1 1.1 34 1 0 3.5 2.3a2.1 1.1 34 1 0 -3.5 -2.3M196.2 619.6a2.0 1.0 83 1 0 0.5 3.9a2.0 1.0 83 1 0 -0.5 -3.9M120.5 725.3a1.4 0.7 90 1 0 0.0 2.7a1.4 0.7 90 1 0 -0.0 -2.7M141.3 691.6a1.9 1.0 65 1 0 1.6 3.4a1.9 1.0 65 1 0 -1.6 -3.4M170.7 676.2a2.1 1.1 91 1 0 -0.1 4.1a2.1 1.1 91 1 0 0.1 -4.1M159.6 678.5a1.4 0.7 171 1 0 -2.7 0.4a1.4 0.7 171 1 0 2.7 -0.4M170.7 635.6a1.4 0.8 109 1 0 -1.0 2.7a1.4 0.8 109 1 0 1.0 -2.7M129.1 707.1a2.0 1.1 142 1 0 -3.1 2.5a2.0 1.1 142 1 0 3.1 -2.5M100.4 673.9a1.8 0.9 40 1 0 2.7 2.3a1.8 0.9 40 1 0 -2.7 -2.3M135.4 619.9a1.9 1.0 107 1 0 -1.1 3.7a1.9 1.0 107 1 0 1.1 -3.7M143.0 719.4a1.3 0.7 32 1 0 2.3 1.4a1.3 0.7 32 1 0 -2.3 -1.4M73.9 674.2a1.6 0.9 78 1 0 0.7 3.2a1.6 0.9 78 1 0 -0.7 -3.2M103.1 710.9a2.1 1.1 13 1 0 4.1 1.0a2.1 1.1 13 1 0 -4.1 -1.0M144.8 680.5a1.4 0.8 142 1 0 -2.3 1.7a1.4 0.8 142 1 0 2.3 -1.7M88.9 653.9a1.5 0.8 8 1 0 3.0 0.4a1.5 0.8 8 1 0 -3.0 -0.4M149.1 678.0a1.8 0.9 48 1 0 2.4 2.6a1.8 0.9 48 1 0 -2.4 -2.6M81.9 713.2a1.4 0.8 31 1 0 2.5 1.5a1.4 0.8 31 1 0 -2.5 -1.5M93.9 697.7a2.0 1.1 150 1 0 -3.4 2.0a2.0 1.1 150 1 0 3.4 -2.0"/>
<polygon points="92.6,662.5 95.9,663.5 96.4,659.4 94.7,659.9 95.9,655.0 98.1,654.3 102.3,652.5 102.9,652.4 103.7,649.7 106.2,647.1 108.9,645.4 111.5,647.9 115.4,645.8 115.8,644.5 118.6,645.6 118.8,645.3 124.0,642.7 125.2,642.4 127.4,644.0 127.7,641.6 130.9,642.6 133.4,641.8 132.0,644.4 134.8,644.7 133.4,650.3 136.0,650.1 132.1,650.5 135.3,656.2 132.6,657.4 135.4,658.2 138.5,660.3 138.5,662.2 139.7,662.4 138.8,664.7 142.0,669.7 140.8,668.8 141.6,672.7 140.9,676.1 138.5,679.7 137.3,676.5 134.7,677.9 131.3,676.5 130.4,678.6 130.7,674.9 128.7,675.5 125.5,674.6 121.3,675.8 120.8,678.0 116.8,677.3 115.1,675.5 112.4,675.9 112.2,672.6 108.7,674.8 106.7,671.5 102.5,670.6 98.3,668.9 97.3,667.5 94.8,667.0 94.0,664.5" fill="#6a72aa" stroke="#6a72aa" stroke-width="18" stroke-linejoin="round" opacity="0.55"/>
<polygon points="92.6,662.5 95.9,663.5 96.4,659.4 94.7,659.9 95.9,655.0 98.1,654.3 102.3,652.5 102.9,652.4 103.7,649.7 106.2,647.1 108.9,645.4 111.5,647.9 115.4,645.8 115.8,644.5 118.6,645.6 118.8,645.3 124.0,642.7 125.2,642.4 127.4,644.0 127.7,641.6 130.9,642.6 133.4,641.8 132.0,644.4 134.8,644.7 133.4,650.3 136.0,650.1 132.1,650.5 135.3,656.2 132.6,657.4 135.4,658.2 138.5,660.3 138.5,662.2 139.7,662.4 138.8,664.7 142.0,669.7 140.8,668.8 141.6,672.7 140.9,676.1 138.5,679.7 137.3,676.5 134.7,677.9 131.3,676.5 130.4,678.6 130.7,674.9 128.7,675.5 125.5,674.6 121.3,675.8 120.8,678.0 116.8,677.3 115.1,675.5 112.4,675.9 112.2,672.6 108.7,674.8 106.7,671.5 102.5,670.6 98.3,668.9 97.3,667.5 94.8,667.0 94.0,664.5" fill="#b98035" stroke="#b98035" stroke-width="12.5" stroke-linejoin="round" opacity="0.92"/>
<polygon points="165.0,633.6 164.1,632.4 166.5,630.9 171.7,629.6 169.3,626.6 175.4,626.3 175.4,625.6 177.4,626.7 182.6,629.0 180.2,630.6 182.2,631.9 183.1,634.3 183.1,636.0 182.4,638.1 181.0,639.5 179.6,644.1 183.0,647.9 181.5,649.1 180.8,651.8 177.9,652.7 178.0,653.1 179.4,657.9 177.9,659.9 174.5,663.7 173.6,665.8 173.7,666.2 175.9,667.8 176.0,673.0 173.6,675.3 176.8,677.5 174.9,677.2 178.5,676.6 178.8,678.2 184.4,678.7 183.2,681.3 186.1,683.4 191.4,681.3 192.1,684.2 192.0,682.8 194.5,684.1 200.4,682.2 198.8,683.2 202.4,683.3 201.2,688.4 199.0,691.0 202.9,689.8 200.0,696.0 200.5,697.0 202.1,697.9 199.1,699.3 202.6,704.2 202.2,703.4 199.8,707.8 202.6,710.2 200.6,708.9 197.4,708.8 192.1,711.8 190.1,709.4 191.3,712.1 188.8,712.3 183.7,712.4 181.4,714.4 180.3,713.4 179.4,716.0 176.3,718.8 178.4,717.0 175.9,720.4 171.3,720.9 173.2,722.2 170.9,724.2 168.8,726.4 163.7,725.7 162.1,728.1 161.5,725.2 160.5,727.2 155.8,724.7 157.0,722.8 156.8,720.2 158.7,720.0 160.0,716.1 159.5,713.3 162.3,714.8 162.5,709.5 160.6,709.3 160.0,707.6 162.9,706.0 162.4,701.8 163.7,700.7 165.6,699.6 163.7,697.3 161.1,692.7 162.7,689.0 160.3,690.6 162.4,688.4 162.1,683.6 161.1,682.4 163.1,679.8 161.1,678.6 160.5,676.4 158.7,672.4 159.0,671.0 160.9,671.1 159.6,667.6 160.1,665.4 160.8,662.3 162.7,663.6 159.7,661.2 160.2,658.5 160.8,657.2 160.6,652.3 161.6,652.5 162.2,649.8 160.7,648.4 161.7,647.4 162.9,641.2 162.5,640.5 165.4,636.8 162.8,635.2" fill="#6a72aa" stroke="#6a72aa" stroke-width="18" stroke-linejoin="round" opacity="0.55"/>
<polygon points="165.0,633.6 164.1,632.4 166.5,630.9 171.7,629.6 169.3,626.6 175.4,626.3 175.4,625.6 177.4,626.7 182.6,629.0 180.2,630.6 182.2,631.9 183.1,634.3 183.1,636.0 182.4,638.1 181.0,639.5 179.6,644.1 183.0,647.9 181.5,649.1 180.8,651.8 177.9,652.7 178.0,653.1 179.4,657.9 177.9,659.9 174.5,663.7 173.6,665.8 173.7,666.2 175.9,667.8 176.0,673.0 173.6,675.3 176.8,677.5 174.9,677.2 178.5,676.6 178.8,678.2 184.4,678.7 183.2,681.3 186.1,683.4 191.4,681.3 192.1,684.2 192.0,682.8 194.5,684.1 200.4,682.2 198.8,683.2 202.4,683.3 201.2,688.4 199.0,691.0 202.9,689.8 200.0,696.0 200.5,697.0 202.1,697.9 199.1,699.3 202.6,704.2 202.2,703.4 199.8,707.8 202.6,710.2 200.6,708.9 197.4,708.8 192.1,711.8 190.1,709.4 191.3,712.1 188.8,712.3 183.7,712.4 181.4,714.4 180.3,713.4 179.4,716.0 176.3,718.8 178.4,717.0 175.9,720.4 171.3,720.9 173.2,722.2 170.9,724.2 168.8,726.4 163.7,725.7 162.1,728.1 161.5,725.2 160.5,727.2 155.8,724.7 157.0,722.8 156.8,720.2 158.7,720.0 160.0,716.1 159.5,713.3 162.3,714.8 162.5,709.5 160.6,709.3 160.0,707.6 162.9,706.0 162.4,701.8 163.7,700.7 165.6,699.6 163.7,697.3 161.1,692.7 162.7,689.0 160.3,690.6 162.4,688.4 162.1,683.6 161.1,682.4 163.1,679.8 161.1,678.6 160.5,676.4 158.7,672.4 159.0,671.0 160.9,671.1 159.6,667.6 160.1,665.4 160.8,662.3 162.7,663.6 159.7,661.2 160.2,658.5 160.8,657.2 160.6,652.3 161.6,652.5 162.2,649.8 160.7,648.4 161.7,647.4 162.9,641.2 162.5,640.5 165.4,636.8 162.8,635.2" fill="#b98035" stroke="#b98035" stroke-width="12.5" stroke-linejoin="round" opacity="0.92"/>
<polygon points="91.6,690.0 91.2,691.1 96.8,691.4 98.7,692.6 100.6,693.8 100.3,691.7 104.3,696.0 105.7,697.9 107.2,699.0 104.0,701.2 106.2,703.8 105.5,704.9 106.9,704.9 109.3,710.6 109.9,709.7 114.5,711.3 118.0,707.2 117.8,705.5 121.0,706.3 122.3,702.4 123.3,702.8 124.6,700.8 125.8,700.4 129.8,700.6 131.8,699.2 133.9,697.1 137.7,698.7 137.7,702.1 138.8,704.6 137.1,707.1 134.3,705.9 133.8,709.7 135.3,713.4 132.6,715.4 133.5,717.4 133.8,717.2 130.6,720.6 133.7,723.2 134.7,724.0 131.5,728.0 132.2,730.7 133.7,732.0 135.8,734.4 134.3,734.1 137.4,736.5 132.6,736.5 134.2,737.2 131.4,736.7 130.2,737.2 124.4,738.2 122.4,738.2 123.0,736.5 119.2,737.2 116.5,737.4 117.6,740.2 112.4,738.4 111.5,738.0 107.7,739.9 106.8,737.2 107.4,737.7 102.9,739.2 100.9,739.8 97.4,736.2 100.9,737.5 101.5,733.5 100.4,733.5 100.0,729.7 97.6,727.2 101.2,724.2 99.4,724.3 96.1,722.2 96.6,720.8 98.3,718.7 97.8,716.5 94.0,713.2 95.1,708.9 92.4,708.8 93.7,703.8 92.7,704.6 92.4,700.2 92.0,700.9 92.0,698.3 89.9,694.3 90.7,692.3" fill="#6a72aa" stroke="#6a72aa" stroke-width="18" stroke-linejoin="round" opacity="0.55"/>
<polygon points="91.6,690.0 91.2,691.1 96.8,691.4 98.7,692.6 100.6,693.8 100.3,691.7 104.3,696.0 105.7,697.9 107.2,699.0 104.0,701.2 106.2,703.8 105.5,704.9 106.9,704.9 109.3,710.6 109.9,709.7 114.5,711.3 118.0,707.2 117.8,705.5 121.0,706.3 122.3,702.4 123.3,702.8 124.6,700.8 125.8,700.4 129.8,700.6 131.8,699.2 133.9,697.1 137.7,698.7 137.7,702.1 138.8,704.6 137.1,707.1 134.3,705.9 133.8,709.7 135.3,713.4 132.6,715.4 133.5,717.4 133.8,717.2 130.6,720.6 133.7,723.2 134.7,724.0 131.5,728.0 132.2,730.7 133.7,732.0 135.8,734.4 134.3,734.1 137.4,736.5 132.6,736.5 134.2,737.2 131.4,736.7 130.2,737.2 124.4,738.2 122.4,738.2 123.0,736.5 119.2,737.2 116.5,737.4 117.6,740.2 112.4,738.4 111.5,738.0 107.7,739.9 106.8,737.2 107.4,737.7 102.9,739.2 100.9,739.8 97.4,736.2 100.9,737.5 101.5,733.5 100.4,733.5 100.0,729.7 97.6,727.2 101.2,724.2 99.4,724.3 96.1,722.2 96.6,720.8 98.3,718.7 97.8,716.5 94.0,713.2 95.1,708.9 92.4,708.8 93.7,703.8 92.7,704.6 92.4,700.2 92.0,700.9 92.0,698.3 89.9,694.3 90.7,692.3" fill="#b98035" stroke="#b98035" stroke-width="12.5" stroke-linejoin="round" opacity="0.92"/>
<polygon points="68.2,624.7 74.7,625.7 73.2,625.7 77.6,627.6 78.3,629.6 75.6,633.8 75.3,635.2 77.8,636.1 73.1,636.9 70.6,638.0 70.5,639.1 68.2,635.5 68.5,635.0 70.6,630.2 70.9,628.5" fill="#6a72aa" stroke="#6a72aa" stroke-width="18" stroke-linejoin="round" opacity="0.55"/>
<polygon points="68.2,624.7 74.7,625.7 73.2,625.7 77.6,627.6 78.3,629.6 75.6,633.8 75.3,635.2 77.8,636.1 73.1,636.9 70.6,638.0 70.5,639.1 68.2,635.5 68.5,635.0 70.6,630.2 70.9,628.5" fill="#b98035" stroke="#b98035" stroke-width="12.5" stroke-linejoin="round" opacity="0.92"/>
<polygon points="71.7,649.5 73.4,649.9 73.9,653.0 75.8,653.7 74.9,653.8 74.2,655.5 76.4,659.9 72.3,658.2 72.2,659.0 70.6,659.1 72.3,654.9 70.5,651.9" fill="#6a72aa" stroke="#6a72aa" stroke-width="18" stroke-linejoin="round" opacity="0.55"/>
<polygon points="71.7,649.5 73.4,649.9 73.9,653.0 75.8,653.7 74.9,653.8 74.2,655.5 76.4,659.9 72.3,658.2 72.2,659.0 70.6,659.1 72.3,654.9 70.5,651.9" fill="#b98035" stroke="#b98035" stroke-width="12.5" stroke-linejoin="round" opacity="0.92"/>
<mask id="m1b40" maskUnits="userSpaceOnUse" x="60" y="600" width="150" height="150"><polygon points="92.6,662.5 95.9,663.5 96.4,659.4 94.7,659.9 95.9,655.0 98.1,654.3 102.3,652.5 102.9,652.4 103.7,649.7 106.2,647.1 108.9,645.4 111.5,647.9 115.4,645.8 115.8,644.5 118.6,645.6 118.8,645.3 124.0,642.7 125.2,642.4 127.4,644.0 127.7,641.6 130.9,642.6 133.4,641.8 132.0,644.4 134.8,644.7 133.4,650.3 136.0,650.1 132.1,650.5 135.3,656.2 132.6,657.4 135.4,658.2 138.5,660.3 138.5,662.2 139.7,662.4 138.8,664.7 142.0,669.7 140.8,668.8 141.6,672.7 140.9,676.1 138.5,679.7 137.3,676.5 134.7,677.9 131.3,676.5 130.4,678.6 130.7,674.9 128.7,675.5 125.5,674.6 121.3,675.8 120.8,678.0 116.8,677.3 115.1,675.5 112.4,675.9 112.2,672.6 108.7,674.8 106.7,671.5 102.5,670.6 98.3,668.9 97.3,667.5 94.8,667.0 94.0,664.5" fill="#fff" stroke="#fff" stroke-width="12.5" stroke-linejoin="round"/><polygon points="165.0,633.6 164.1,632.4 166.5,630.9 171.7,629.6 169.3,626.6 175.4,626.3 175.4,625.6 177.4,626.7 182.6,629.0 180.2,630.6 182.2,631.9 183.1,634.3 183.1,636.0 182.4,638.1 181.0,639.5 179.6,644.1 183.0,647.9 181.5,649.1 180.8,651.8 177.9,652.7 178.0,653.1 179.4,657.9 177.9,659.9 174.5,663.7 173.6,665.8 173.7,666.2 175.9,667.8 176.0,673.0 173.6,675.3 176.8,677.5 174.9,677.2 178.5,676.6 178.8,678.2 184.4,678.7 183.2,681.3 186.1,683.4 191.4,681.3 192.1,684.2 192.0,682.8 194.5,684.1 200.4,682.2 198.8,683.2 202.4,683.3 201.2,688.4 199.0,691.0 202.9,689.8 200.0,696.0 200.5,697.0 202.1,697.9 199.1,699.3 202.6,704.2 202.2,703.4 199.8,707.8 202.6,710.2 200.6,708.9 197.4,708.8 192.1,711.8 190.1,709.4 191.3,712.1 188.8,712.3 183.7,712.4 181.4,714.4 180.3,713.4 179.4,716.0 176.3,718.8 178.4,717.0 175.9,720.4 171.3,720.9 173.2,722.2 170.9,724.2 168.8,726.4 163.7,725.7 162.1,728.1 161.5,725.2 160.5,727.2 155.8,724.7 157.0,722.8 156.8,720.2 158.7,720.0 160.0,716.1 159.5,713.3 162.3,714.8 162.5,709.5 160.6,709.3 160.0,707.6 162.9,706.0 162.4,701.8 163.7,700.7 165.6,699.6 163.7,697.3 161.1,692.7 162.7,689.0 160.3,690.6 162.4,688.4 162.1,683.6 161.1,682.4 163.1,679.8 161.1,678.6 160.5,676.4 158.7,672.4 159.0,671.0 160.9,671.1 159.6,667.6 160.1,665.4 160.8,662.3 162.7,663.6 159.7,661.2 160.2,658.5 160.8,657.2 160.6,652.3 161.6,652.5 162.2,649.8 160.7,648.4 161.7,647.4 162.9,641.2 162.5,640.5 165.4,636.8 162.8,635.2" fill="#fff" stroke="#fff" stroke-width="12.5" stroke-linejoin="round"/><polygon points="91.6,690.0 91.2,691.1 96.8,691.4 98.7,692.6 100.6,693.8 100.3,691.7 104.3,696.0 105.7,697.9 107.2,699.0 104.0,701.2 106.2,703.8 105.5,704.9 106.9,704.9 109.3,710.6 109.9,709.7 114.5,711.3 118.0,707.2 117.8,705.5 121.0,706.3 122.3,702.4 123.3,702.8 124.6,700.8 125.8,700.4 129.8,700.6 131.8,699.2 133.9,697.1 137.7,698.7 137.7,702.1 138.8,704.6 137.1,707.1 134.3,705.9 133.8,709.7 135.3,713.4 132.6,715.4 133.5,717.4 133.8,717.2 130.6,720.6 133.7,723.2 134.7,724.0 131.5,728.0 132.2,730.7 133.7,732.0 135.8,734.4 134.3,734.1 137.4,736.5 132.6,736.5 134.2,737.2 131.4,736.7 130.2,737.2 124.4,738.2 122.4,738.2 123.0,736.5 119.2,737.2 116.5,737.4 117.6,740.2 112.4,738.4 111.5,738.0 107.7,739.9 106.8,737.2 107.4,737.7 102.9,739.2 100.9,739.8 97.4,736.2 100.9,737.5 101.5,733.5 100.4,733.5 100.0,729.7 97.6,727.2 101.2,724.2 99.4,724.3 96.1,722.2 96.6,720.8 98.3,718.7 97.8,716.5 94.0,713.2 95.1,708.9 92.4,708.8 93.7,703.8 92.7,704.6 92.4,700.2 92.0,700.9 92.0,698.3 89.9,694.3 90.7,692.3" fill="#fff" stroke="#fff" stroke-width="12.5" stroke-linejoin="round"/><polygon points="68.2,624.7 74.7,625.7 73.2,625.7 77.6,627.6 78.3,629.6 75.6,633.8 75.3,635.2 77.8,636.1 73.1,636.9 70.6,638.0 70.5,639.1 68.2,635.5 68.5,635.0 70.6,630.2 70.9,628.5" fill="#fff" stroke="#fff" stroke-width="12.5" stroke-linejoin="round"/><polygon points="71.7,649.5 73.4,649.9 73.9,653.0 75.8,653.7 74.9,653.8 74.2,655.5 76.4,659.9 72.3,658.2 72.2,659.0 70.6,659.1 72.3,654.9 70.5,651.9" fill="#fff" stroke="#fff" stroke-width="12.5" stroke-linejoin="round"/></mask>
<g mask="url(#m1b40)">
<rect x="72" y="617.6" width="126" height="117.39999999999998" fill="#000" filter="url(#fEpi)"/>
<path fill="#44529e" opacity="0.8" d="M132.5 693.6a1.3 0.8 120 1 0 -1.3 2.3a1.3 0.8 120 1 0 1.3 -2.3M72.1 660.1a2.0 1.2 49 1 0 2.6 3.1a2.0 1.2 49 1 0 -2.6 -3.1M159.4 686.4a1.9 1.1 100 1 0 -0.7 3.7a1.9 1.1 100 1 0 0.7 -3.7M88.5 668.2a2.1 1.2 29 1 0 3.7 2.1a2.1 1.2 29 1 0 -3.7 -2.1M77.6 713.3a1.9 1.1 13 1 0 3.7 0.9a1.9 1.1 13 1 0 -3.7 -0.9M115.5 664.5a1.2 0.7 152 1 0 -2.1 1.1a1.2 0.7 152 1 0 2.1 -1.1M79.7 723.7a1.3 0.8 92 1 0 -0.1 2.6a1.3 0.8 92 1 0 0.1 -2.6M194.9 728.2a1.6 1.0 20 1 0 3.0 1.1a1.6 1.0 20 1 0 -3.0 -1.1M89.5 653.0a1.4 0.8 112 1 0 -1.0 2.5a1.4 0.8 112 1 0 1.0 -2.5M158.1 622.6a2.0 1.2 31 1 0 3.5 2.1a2.0 1.2 31 1 0 -3.5 -2.1M123.0 665.2a1.7 1.0 107 1 0 -1.0 3.2a1.7 1.0 107 1 0 1.0 -3.2M121.9 619.5a2.2 1.3 131 1 0 -2.8 3.3a2.2 1.3 131 1 0 2.8 -3.3M194.3 694.1a1.6 0.9 64 1 0 1.4 2.8a1.6 0.9 64 1 0 -1.4 -2.8M157.6 696.2a1.4 0.8 20 1 0 2.7 1.0a1.4 0.8 20 1 0 -2.7 -1.0M119.2 676.7a1.7 1.0 146 1 0 -2.8 1.9a1.7 1.0 146 1 0 2.8 -1.9M75.2 712.5a1.7 1.0 77 1 0 0.7 3.4a1.7 1.0 77 1 0 -0.7 -3.4M99.3 665.9a2.0 1.2 70 1 0 1.4 3.7a2.0 1.2 70 1 0 -1.4 -3.7M83.3 681.2a1.9 1.1 32 1 0 3.2 2.0a1.9 1.1 32 1 0 -3.2 -2.0M75.8 648.4a1.8 1.1 62 1 0 1.7 3.2a1.8 1.1 62 1 0 -1.7 -3.2M77.4 670.6a1.5 0.9 38 1 0 2.3 1.8a1.5 0.9 38 1 0 -2.3 -1.8M131.9 728.0a2.2 1.3 87 1 0 0.3 4.3a2.2 1.3 87 1 0 -0.3 -4.3M92.5 724.8a1.4 0.8 66 1 0 1.1 2.5a1.4 0.8 66 1 0 -1.1 -2.5M164.9 724.6a1.5 0.9 1 1 0 2.9 0.1a1.5 0.9 1 1 0 -2.9 -0.1M168.2 656.9a1.2 0.7 43 1 0 1.7 1.6a1.2 0.7 43 1 0 -1.7 -1.6M79.2 690.2a2.2 1.3 177 1 0 -4.4 0.2a2.2 1.3 177 1 0 4.4 -0.2M134.4 618.7a2.0 1.2 58 1 0 2.1 3.4a2.0 1.2 58 1 0 -2.1 -3.4M175.5 691.5a1.7 1.0 41 1 0 2.6 2.3a1.7 1.0 41 1 0 -2.6 -2.3M130.7 689.6a2.2 1.3 47 1 0 2.9 3.2a2.2 1.3 47 1 0 -2.9 -3.2M183.4 635.0a2.1 1.2 52 1 0 2.5 3.3a2.1 1.2 52 1 0 -2.5 -3.3M107.2 726.5a1.9 1.1 93 1 0 -0.2 3.8a1.9 1.1 93 1 0 0.2 -3.8M159.9 641.6a1.5 0.9 51 1 0 1.8 2.3a1.5 0.9 51 1 0 -1.8 -2.3M156.2 698.2a2.1 1.2 24 1 0 3.8 1.7a2.1 1.2 24 1 0 -3.8 -1.7M124.5 643.8a2.2 1.3 78 1 0 0.9 4.3a2.2 1.3 78 1 0 -0.9 -4.3M144.7 690.4a2.2 1.3 166 1 0 -4.2 1.1a2.2 1.3 166 1 0 4.2 -1.1M168.4 664.6a2.1 1.2 106 1 0 -1.2 4.1a2.1 1.2 106 1 0 1.2 -4.1M170.7 684.3a1.6 0.9 63 1 0 1.4 2.8a1.6 0.9 63 1 0 -1.4 -2.8M162.8 683.6a1.9 1.1 3 1 0 3.8 0.2a1.9 1.1 3 1 0 -3.8 -0.2M187.9 710.6a2.1 1.2 162 1 0 -4.0 1.3a2.1 1.2 162 1 0 4.0 -1.3M138.9 709.0a1.3 0.8 68 1 0 1.0 2.4a1.3 0.8 68 1 0 -1.0 -2.4M118.4 653.9a1.9 1.1 168 1 0 -3.7 0.8a1.9 1.1 168 1 0 3.7 -0.8M138.6 690.0a1.7 1.0 22 1 0 3.2 1.3a1.7 1.0 22 1 0 -3.2 -1.3M159.1 662.8a1.6 0.9 44 1 0 2.3 2.2a1.6 0.9 44 1 0 -2.3 -2.2M111.6 697.5a1.3 0.8 26 1 0 2.3 1.1a1.3 0.8 26 1 0 -2.3 -1.1M112.7 698.0a1.9 1.1 137 1 0 -2.7 2.6a1.9 1.1 137 1 0 2.7 -2.6M188.1 660.4a1.7 1.0 5 1 0 3.4 0.3a1.7 1.0 5 1 0 -3.4 -0.3M128.7 637.3a1.5 0.9 120 1 0 -1.5 2.7a1.5 0.9 120 1 0 1.5 -2.7M103.2 655.8a1.2 0.7 170 1 0 -2.4 0.4a1.2 0.7 170 1 0 2.4 -0.4M116.1 649.5a1.6 1.0 36 1 0 2.6 1.9a1.6 1.0 36 1 0 -2.6 -1.9M99.8 723.6a1.9 1.1 90 1 0 -0.0 3.8a1.9 1.1 90 1 0 0.0 -3.8M93.1 670.2a2.0 1.2 109 1 0 -1.3 3.9a2.0 1.2 109 1 0 1.3 -3.9M105.3 670.7a2.0 1.2 154 1 0 -3.7 1.8a2.0 1.2 154 1 0 3.7 -1.8M101.8 679.7a1.6 0.9 137 1 0 -2.3 2.2a1.6 0.9 137 1 0 2.3 -2.2M158.6 695.3a1.8 1.0 175 1 0 -3.5 0.3a1.8 1.0 175 1 0 3.5 -0.3M158.8 657.6a1.5 0.9 132 1 0 -2.0 2.3a1.5 0.9 132 1 0 2.0 -2.3M134.2 658.9a1.3 0.8 55 1 0 1.5 2.2a1.3 0.8 55 1 0 -1.5 -2.2M99.6 680.6a1.2 0.7 45 1 0 1.7 1.8a1.2 0.7 45 1 0 -1.7 -1.8M175.0 650.8a1.8 1.1 169 1 0 -3.5 0.7a1.8 1.1 169 1 0 3.5 -0.7M122.5 719.6a1.5 0.9 162 1 0 -2.9 1.0a1.5 0.9 162 1 0 2.9 -1.0M89.4 692.0a1.8 1.1 152 1 0 -3.2 1.7a1.8 1.1 152 1 0 3.2 -1.7M171.4 664.7a1.5 0.9 111 1 0 -1.1 2.7a1.5 0.9 111 1 0 1.1 -2.7M122.7 660.7a1.6 0.9 69 1 0 1.1 3.0a1.6 0.9 69 1 0 -1.1 -3.0M172.5 636.7a1.4 0.9 37 1 0 2.3 1.7a1.4 0.9 37 1 0 -2.3 -1.7M192.3 678.6a2.0 1.2 10 1 0 4.0 0.7a2.0 1.2 10 1 0 -4.0 -0.7M181.2 712.3a1.9 1.1 65 1 0 1.7 3.5a1.9 1.1 65 1 0 -1.7 -3.5M112.4 632.9a2.0 1.2 156 1 0 -3.7 1.7a2.0 1.2 156 1 0 3.7 -1.7M97.1 720.8a1.5 0.9 4 1 0 3.0 0.2a1.5 0.9 4 1 0 -3.0 -0.2M72.0 636.7a1.9 1.1 29 1 0 3.3 1.9a1.9 1.1 29 1 0 -3.3 -1.9M108.1 639.1a1.5 0.9 33 1 0 2.5 1.6a1.5 0.9 33 1 0 -2.5 -1.6M178.8 688.2a1.9 1.1 18 1 0 3.6 1.2a1.9 1.1 18 1 0 -3.6 -1.2M139.7 668.4a1.9 1.1 95 1 0 -0.3 3.7a1.9 1.1 95 1 0 0.3 -3.7M173.6 675.4a1.7 1.0 114 1 0 -1.4 3.0a1.7 1.0 114 1 0 1.4 -3.0M151.4 661.6a1.7 1.0 75 1 0 0.9 3.3a1.7 1.0 75 1 0 -0.9 -3.3M163.7 649.9a1.7 1.0 166 1 0 -3.3 0.8a1.7 1.0 166 1 0 3.3 -0.8M181.7 698.4a1.9 1.1 172 1 0 -3.7 0.5a1.9 1.1 172 1 0 3.7 -0.5M126.4 663.4a2.0 1.2 109 1 0 -1.3 3.7a2.0 1.2 109 1 0 1.3 -3.7M176.4 632.5a1.3 0.8 11 1 0 2.6 0.5a1.3 0.8 11 1 0 -2.6 -0.5M81.2 624.2a1.4 0.8 2 1 0 2.9 0.1a1.4 0.8 2 1 0 -2.9 -0.1M87.0 696.0a2.2 1.3 111 1 0 -1.5 4.1a2.2 1.3 111 1 0 1.5 -4.1M194.2 705.1a1.2 0.7 171 1 0 -2.4 0.4a1.2 0.7 171 1 0 2.4 -0.4M100.6 724.9a1.4 0.8 86 1 0 0.2 2.8a1.4 0.8 86 1 0 -0.2 -2.8M167.6 665.8a1.5 0.9 98 1 0 -0.4 3.0a1.5 0.9 98 1 0 0.4 -3.0M103.2 625.8a2.2 1.3 109 1 0 -1.4 4.1a2.2 1.3 109 1 0 1.4 -4.1M197.9 707.1a1.6 0.9 168 1 0 -3.1 0.6a1.6 0.9 168 1 0 3.1 -0.6M110.1 724.2a1.9 1.1 108 1 0 -1.2 3.6a1.9 1.1 108 1 0 1.2 -3.6M73.5 642.5a1.9 1.1 87 1 0 0.2 3.9a1.9 1.1 87 1 0 -0.2 -3.9M175.3 705.1a1.6 0.9 61 1 0 1.5 2.8a1.6 0.9 61 1 0 -1.5 -2.8M180.6 732.4a1.4 0.8 87 1 0 0.1 2.8a1.4 0.8 87 1 0 -0.1 -2.8M150.1 679.2a1.4 0.8 65 1 0 1.2 2.6a1.4 0.8 65 1 0 -1.2 -2.6M118.9 688.8a1.7 1.0 23 1 0 3.2 1.4a1.7 1.0 23 1 0 -3.2 -1.4M190.9 703.9a1.6 1.0 45 1 0 2.3 2.3a1.6 1.0 45 1 0 -2.3 -2.3M85.4 702.9a1.4 0.8 114 1 0 -1.1 2.5a1.4 0.8 114 1 0 1.1 -2.5M141.4 686.0a1.6 0.9 104 1 0 -0.8 3.1a1.6 0.9 104 1 0 0.8 -3.1M112.6 659.2a1.5 0.9 180 1 0 -3.1 0.0a1.5 0.9 180 1 0 3.1 -0.0M133.9 670.8a1.6 0.9 31 1 0 2.7 1.7a1.6 0.9 31 1 0 -2.7 -1.7M97.2 654.0a1.5 0.9 66 1 0 1.3 2.8a1.5 0.9 66 1 0 -1.3 -2.8M189.2 650.8a1.9 1.1 60 1 0 1.9 3.2a1.9 1.1 60 1 0 -1.9 -3.2M122.6 677.0a1.3 0.7 117 1 0 -1.1 2.3a1.3 0.7 117 1 0 1.1 -2.3M155.2 628.1a2.0 1.2 45 1 0 2.8 2.9a2.0 1.2 45 1 0 -2.8 -2.9M195.3 695.9a1.6 1.0 31 1 0 2.8 1.7a1.6 1.0 31 1 0 -2.8 -1.7M106.6 715.4a1.4 0.8 42 1 0 2.1 1.9a1.4 0.8 42 1 0 -2.1 -1.9M152.9 690.8a1.7 1.0 106 1 0 -0.9 3.2a1.7 1.0 106 1 0 0.9 -3.2M194.4 671.1a1.6 0.9 169 1 0 -3.1 0.6a1.6 0.9 169 1 0 3.1 -0.6M131.9 658.3a2.0 1.2 129 1 0 -2.4 3.1a2.0 1.2 129 1 0 2.4 -3.1M103.2 678.1a1.7 1.0 131 1 0 -2.2 2.6a1.7 1.0 131 1 0 2.2 -2.6M156.4 688.7a1.6 0.9 129 1 0 -1.9 2.4a1.6 0.9 129 1 0 1.9 -2.4M112.5 619.8a2.0 1.2 160 1 0 -3.8 1.3a2.0 1.2 160 1 0 3.8 -1.3M122.5 730.7a1.3 0.8 162 1 0 -2.6 0.8a1.3 0.8 162 1 0 2.6 -0.8M176.6 665.8a1.5 0.9 57 1 0 1.6 2.4a1.5 0.9 57 1 0 -1.6 -2.4M122.8 623.5a1.3 0.8 9 1 0 2.6 0.4a1.3 0.8 9 1 0 -2.6 -0.4M108.8 635.4a2.0 1.2 22 1 0 3.8 1.5a2.0 1.2 22 1 0 -3.8 -1.5M120.5 673.1a2.1 1.3 108 1 0 -1.3 4.1a2.1 1.3 108 1 0 1.3 -4.1M92.3 643.5a2.1 1.2 155 1 0 -3.8 1.8a2.1 1.2 155 1 0 3.8 -1.8M188.8 678.4a1.4 0.8 66 1 0 1.1 2.5a1.4 0.8 66 1 0 -1.1 -2.5M187.1 705.5a2.0 1.2 99 1 0 -0.6 3.9a2.0 1.2 99 1 0 0.6 -3.9M106.1 679.9a1.3 0.8 163 1 0 -2.5 0.8a1.3 0.8 163 1 0 2.5 -0.8M151.6 638.4a2.0 1.2 151 1 0 -3.6 2.0a2.0 1.2 151 1 0 3.6 -2.0M151.5 668.7a1.7 1.0 4 1 0 3.4 0.2a1.7 1.0 4 1 0 -3.4 -0.2M115.2 664.1a2.1 1.3 14 1 0 4.1 1.0a2.1 1.3 14 1 0 -4.1 -1.0M139.6 682.5a2.1 1.2 152 1 0 -3.7 2.0a2.1 1.2 152 1 0 3.7 -2.0M142.7 680.7a1.6 0.9 152 1 0 -2.8 1.5a1.6 0.9 152 1 0 2.8 -1.5M186.8 619.4a1.7 1.0 143 1 0 -2.8 2.1a1.7 1.0 143 1 0 2.8 -2.1M149.2 732.9a1.6 0.9 40 1 0 2.5 2.0a1.6 0.9 40 1 0 -2.5 -2.0M172.9 703.3a2.0 1.2 94 1 0 -0.3 4.0a2.0 1.2 94 1 0 0.3 -4.0M158.0 718.3a1.6 0.9 117 1 0 -1.4 2.8a1.6 0.9 117 1 0 1.4 -2.8M107.0 626.8a1.2 0.7 22 1 0 2.3 0.9a1.2 0.7 22 1 0 -2.3 -0.9M195.4 632.9a1.3 0.8 109 1 0 -0.8 2.5a1.3 0.8 109 1 0 0.8 -2.5M192.0 679.1a2.0 1.2 32 1 0 3.5 2.1a2.0 1.2 32 1 0 -3.5 -2.1M179.2 731.4a1.6 0.9 40 1 0 2.4 2.1a1.6 0.9 40 1 0 -2.4 -2.1M155.7 648.9a1.9 1.1 102 1 0 -0.8 3.7a1.9 1.1 102 1 0 0.8 -3.7M167.7 713.3a1.5 0.9 135 1 0 -2.1 2.1a1.5 0.9 135 1 0 2.1 -2.1M166.2 667.9a1.2 0.7 30 1 0 2.1 1.2a1.2 0.7 30 1 0 -2.1 -1.2M148.8 659.1a1.7 1.0 17 1 0 3.2 1.0a1.7 1.0 17 1 0 -3.2 -1.0M124.6 654.1a1.7 1.0 102 1 0 -0.7 3.4a1.7 1.0 102 1 0 0.7 -3.4M140.2 733.1a1.5 0.9 163 1 0 -2.9 0.9a1.5 0.9 163 1 0 2.9 -0.9M183.1 654.4a1.2 0.7 169 1 0 -2.4 0.5a1.2 0.7 169 1 0 2.4 -0.5M113.0 725.3a1.9 1.1 119 1 0 -1.9 3.3a1.9 1.1 119 1 0 1.9 -3.3M99.0 631.7a1.3 0.7 173 1 0 -2.5 0.3a1.3 0.7 173 1 0 2.5 -0.3M95.7 667.2a1.9 1.1 147 1 0 -3.2 2.0a1.9 1.1 147 1 0 3.2 -2.0M197.4 707.0a2.1 1.2 79 1 0 0.8 4.2a2.1 1.2 79 1 0 -0.8 -4.2M114.0 623.4a2.1 1.2 173 1 0 -4.1 0.5a2.1 1.2 173 1 0 4.1 -0.5M154.1 673.1a1.4 0.8 37 1 0 2.3 1.7a1.4 0.8 37 1 0 -2.3 -1.7M80.4 626.5a2.1 1.2 86 1 0 0.3 4.2a2.1 1.2 86 1 0 -0.3 -4.2M190.3 676.6a1.7 1.0 121 1 0 -1.7 2.9a1.7 1.0 121 1 0 1.7 -2.9M171.8 700.4a2.1 1.2 177 1 0 -4.1 0.2a2.1 1.2 177 1 0 4.1 -0.2M156.0 686.1a1.7 1.0 30 1 0 2.9 1.7a1.7 1.0 30 1 0 -2.9 -1.7M127.1 634.8a1.6 0.9 36 1 0 2.6 1.9a1.6 0.9 36 1 0 -2.6 -1.9M93.0 689.0a2.2 1.3 59 1 0 2.3 3.8a2.2 1.3 59 1 0 -2.3 -3.8M157.9 676.7a1.6 0.9 78 1 0 0.7 3.1a1.6 0.9 78 1 0 -0.7 -3.1M99.0 730.1a1.9 1.1 164 1 0 -3.6 1.0a1.9 1.1 164 1 0 3.6 -1.0M154.1 633.2a1.4 0.8 97 1 0 -0.4 2.7a1.4 0.8 97 1 0 0.4 -2.7M111.6 685.8a1.4 0.8 31 1 0 2.5 1.5a1.4 0.8 31 1 0 -2.5 -1.5M165.3 674.1a1.4 0.8 160 1 0 -2.5 0.9a1.4 0.8 160 1 0 2.5 -0.9M83.8 726.0a1.9 1.1 110 1 0 -1.3 3.6a1.9 1.1 110 1 0 1.3 -3.6M143.8 634.9a1.7 1.0 176 1 0 -3.4 0.2a1.7 1.0 176 1 0 3.4 -0.2M185.4 633.4a1.8 1.0 50 1 0 2.3 2.7a1.8 1.0 50 1 0 -2.3 -2.7M102.3 717.6a1.3 0.7 47 1 0 1.7 1.9a1.3 0.7 47 1 0 -1.7 -1.9M94.6 649.2a2.1 1.2 171 1 0 -4.1 0.7a2.1 1.2 171 1 0 4.1 -0.7M154.4 667.4a2.0 1.2 7 1 0 4.0 0.5a2.0 1.2 7 1 0 -4.0 -0.5M87.5 639.1a2.1 1.2 78 1 0 0.8 4.1a2.1 1.2 78 1 0 -0.8 -4.1M96.2 624.6a1.2 0.7 163 1 0 -2.3 0.7a1.2 0.7 163 1 0 2.3 -0.7M163.7 633.0a1.4 0.8 54 1 0 1.7 2.3a1.4 0.8 54 1 0 -1.7 -2.3M128.8 724.9a1.7 1.0 151 1 0 -3.0 1.7a1.7 1.0 151 1 0 3.0 -1.7M81.9 636.6a2.0 1.2 53 1 0 2.4 3.2a2.0 1.2 53 1 0 -2.4 -3.2M186.3 618.7a2.2 1.3 60 1 0 2.2 3.8a2.2 1.3 60 1 0 -2.2 -3.8M89.6 625.4a2.1 1.2 48 1 0 2.8 3.1a2.1 1.2 48 1 0 -2.8 -3.1M103.4 701.6a1.9 1.1 21 1 0 3.5 1.4a1.9 1.1 21 1 0 -3.5 -1.4M94.7 685.9a2.1 1.2 134 1 0 -2.9 3.0a2.1 1.2 134 1 0 2.9 -3.0M126.3 731.2a2.2 1.3 73 1 0 1.3 4.1a2.2 1.3 73 1 0 -1.3 -4.1M185.8 734.4a1.5 0.9 19 1 0 2.8 1.0a1.5 0.9 19 1 0 -2.8 -1.0M158.3 720.1a2.0 1.2 46 1 0 2.7 2.8a2.0 1.2 46 1 0 -2.7 -2.8"/>
</g>
<polygon points="94.6,665.3 93.4,662.3 95.6,660.4 94.8,658.6 96.1,659.4 97.9,657.6 98.4,654.4 99.4,655.8 99.7,652.0 102.6,652.7 102.3,649.4 105.0,650.8 105.3,649.5 106.1,648.4 108.9,647.6 110.0,647.7 112.2,645.5 111.6,645.9 114.6,645.5 117.3,644.4 117.5,643.1 119.5,643.9 120.8,644.0 122.6,643.3 125.9,642.4 126.1,642.5 128.5,642.8 130.7,641.8 131.1,643.2 131.2,643.3 133.1,643.6 135.3,644.7 135.3,645.6 134.9,647.6 134.6,649.1 133.2,652.5 133.4,652.8 133.0,654.6 132.1,655.9 135.5,656.3 135.8,658.3 136.7,659.7 139.3,659.6 137.1,663.6 140.1,664.0 138.5,665.2 140.7,668.5 140.2,668.7 139.9,670.7 140.0,672.4 140.0,672.2 141.3,675.3 140.1,677.5 141.4,676.7 137.4,676.9 137.6,677.6 137.3,678.5 135.3,679.8 131.6,678.3 130.8,678.6 131.3,677.9 127.1,678.1 127.4,677.2 125.8,674.7 123.8,675.3 122.3,675.7 120.3,677.0 116.9,677.4 115.5,674.2 116.0,674.1 113.8,674.3 112.2,675.1 111.6,672.7 108.9,674.3 108.8,672.4 106.4,671.5 103.7,671.3 103.1,672.8 102.5,672.0 99.3,669.6 98.5,670.9 95.0,670.5 94.5,668.8 93.5,666.5" fill="#fcfbf9" stroke="none" stroke-width="0" stroke-linejoin="round" />
<polygon points="162.7,633.1 166.2,632.6 166.4,632.7 166.5,630.3 167.9,631.0 170.0,629.4 170.7,628.3 171.6,629.3 173.9,627.0 177.4,627.6 177.8,628.1 179.0,628.8 179.9,626.8 181.6,628.2 181.6,630.8 184.2,633.3 184.2,633.3 183.6,633.5 181.9,637.1 183.8,637.3 183.8,640.9 183.6,642.3 182.0,642.8 180.4,643.9 182.0,645.2 180.9,646.1 181.4,648.2 178.6,649.8 180.9,652.1 178.1,652.4 179.0,654.5 176.3,657.4 177.5,656.3 177.8,658.0 177.4,660.7 175.5,662.0 176.5,664.6 173.8,664.7 175.9,666.6 175.4,669.8 175.6,669.2 173.9,672.1 174.8,671.7 174.8,675.2 174.2,675.2 175.4,678.7 175.1,676.7 179.0,677.5 178.8,678.4 180.9,678.7 183.2,679.5 182.6,680.9 186.2,680.4 186.3,680.9 186.8,683.4 190.3,682.5 191.6,682.4 191.7,682.3 194.5,683.6 196.7,683.6 197.5,682.9 197.8,683.1 200.8,683.7 201.4,685.0 202.2,687.1 199.6,686.7 201.8,688.6 199.2,690.0 200.1,692.7 200.5,692.4 201.7,696.7 202.1,696.0 200.9,699.0 201.2,699.5 201.1,700.1 199.6,703.5 199.4,705.8 200.4,704.4 199.2,707.5 200.2,708.3 198.4,709.9 198.9,709.5 195.7,711.3 195.0,710.1 192.1,709.3 191.5,711.3 189.1,709.4 186.7,711.9 187.4,711.2 184.7,713.2 182.9,713.5 183.4,711.1 181.7,715.4 180.6,715.6 180.1,716.1 178.6,716.2 174.9,719.5 174.3,721.4 175.0,721.0 171.5,720.5 171.5,721.8 170.4,724.3 167.0,724.1 168.1,724.9 167.1,726.5 164.2,725.5 161.5,727.8 161.5,725.5 160.0,728.2 159.1,728.7 157.4,726.3 157.8,724.3 157.0,722.1 156.3,720.7 155.3,718.4 158.3,719.3 158.6,717.2 160.4,716.6 160.1,715.4 160.3,713.3 162.0,710.8 162.4,710.9 162.0,706.6 161.9,707.1 164.0,703.9 161.6,701.7 162.8,701.6 163.8,700.7 164.7,699.6 164.5,697.6 162.8,694.3 161.6,694.2 163.1,691.8 161.7,688.8 161.8,689.8 163.0,687.0 160.4,684.4 160.4,682.7 162.8,680.5 160.8,681.0 161.3,677.1 159.8,675.7 162.2,675.4 159.7,672.5 161.7,671.1 161.6,670.3 161.4,668.5 161.4,668.4 159.3,665.7 160.6,664.2 161.1,664.3 162.8,661.8 160.3,658.4 161.0,659.2 162.9,657.3 162.9,655.5 161.6,653.6 163.6,652.5 161.6,651.4 163.1,649.8 162.6,647.9 163.1,645.2 162.2,644.2 162.6,643.2 163.4,641.3 163.9,639.2 163.8,636.9 164.1,636.8" fill="#fcfbf9" stroke="none" stroke-width="0" stroke-linejoin="round" />
<polygon points="90.5,688.9 91.3,688.5 92.3,690.7 95.3,690.4 97.7,690.1 99.0,690.8 99.7,692.6 101.6,693.9 103.0,694.4 101.6,695.5 102.4,698.1 104.5,698.0 106.9,699.4 107.0,699.7 106.4,701.3 106.4,703.6 107.5,706.0 106.7,708.0 107.4,708.7 110.2,709.7 113.8,709.1 115.1,711.6 114.2,710.5 116.0,709.6 118.9,708.8 119.6,707.1 119.2,705.2 120.6,705.1 123.5,703.7 123.3,703.8 124.2,701.4 125.0,701.9 126.2,700.9 128.9,699.1 131.7,699.8 132.5,699.8 132.6,697.9 135.2,697.1 136.4,699.6 136.4,700.1 137.5,700.5 137.9,701.7 136.4,704.8 134.2,706.9 133.7,705.7 134.5,709.3 132.5,711.4 134.8,711.1 131.5,713.2 133.9,714.1 133.1,714.6 133.6,716.6 131.4,720.6 132.6,719.6 131.9,721.2 134.2,723.1 131.6,726.5 134.3,726.6 133.0,729.9 134.6,731.8 132.8,731.7 133.4,733.3 135.2,736.2 135.8,736.5 137.3,738.1 134.1,739.6 133.2,737.7 133.1,737.6 129.9,736.9 128.4,736.9 126.3,739.0 124.9,737.6 124.7,739.8 122.6,739.7 122.5,737.8 119.9,737.6 119.2,736.8 116.1,737.2 115.6,739.7 114.2,737.0 113.1,737.6 110.8,736.8 110.0,737.9 107.5,739.0 104.3,739.8 105.5,739.0 102.2,737.3 99.6,737.5 99.3,738.0 98.5,736.9 100.8,735.5 99.3,734.9 98.3,730.5 101.2,731.2 99.0,728.1 98.8,726.6 98.6,726.1 98.2,722.8 98.9,723.0 96.6,720.3 98.1,717.8 95.4,717.4 97.4,716.8 96.4,714.6 94.9,713.6 96.3,709.8 95.3,708.8 92.9,706.9 92.6,705.9 92.6,706.0 92.3,702.6 92.2,703.0 91.3,700.7 91.1,700.3 91.0,698.0 89.4,695.8 90.9,693.9 88.5,691.7 89.0,690.1" fill="#fcfbf9" stroke="none" stroke-width="0" stroke-linejoin="round" />
<polygon points="68.9,626.2 71.3,625.8 74.6,626.1 74.9,626.2 74.5,626.3 76.4,626.9 75.8,630.7 78.0,630.1 77.0,633.3 78.1,635.0 76.6,634.9 76.5,638.1 74.4,638.8 72.9,636.0 70.5,637.3 69.9,636.9 70.9,634.7 69.8,634.9 71.3,632.1 68.9,630.3 70.3,630.9 69.0,628.5" fill="#fcfbf9" stroke="none" stroke-width="0" stroke-linejoin="round" />
<polygon points="70.1,650.0 73.2,651.6 72.0,652.1 75.9,651.1 77.7,652.8 76.7,653.3 76.7,654.6 76.0,657.7 74.5,657.9 74.3,660.6 72.7,658.1 71.3,658.2 69.7,657.7 71.2,656.9 68.6,655.6 70.7,654.0 69.6,652.3" fill="#fcfbf9" stroke="none" stroke-width="0" stroke-linejoin="round" />
</g>
</g>
<g filter="url(#fSoft)">
<clipPath id="c1p40"><rect x="207" y="617.6" width="129" height="117.39999999999998"/></clipPath>
<rect x="207.00" y="617.60" width="129.00" height="117.40" fill="#cdbdb2" />
<g clip-path="url(#c1p40)">
<rect x="207" y="617.6" width="129" height="117.39999999999998" fill="#000" filter="url(#fBrownL)" clip-path="url(#c1p40)"/>
<rect x="207" y="617.6" width="129" height="117.39999999999998" fill="#000" filter="url(#fGrain)" clip-path="url(#c1p40)"/>
<path fill="#555fa4" opacity="0.62" d="M228.8 697.4a1.3 0.8 114 1 0 -1.1 2.3a1.3 0.8 114 1 0 1.1 -2.3M235.9 709.9a1.3 0.8 145 1 0 -2.2 1.5a1.3 0.8 145 1 0 2.2 -1.5M271.0 645.3a1.2 0.7 1 1 0 2.4 0.0a1.2 0.7 1 1 0 -2.4 -0.0M283.4 625.1a1.1 0.7 143 1 0 -1.7 1.3a1.1 0.7 143 1 0 1.7 -1.3M238.5 622.6a1.5 0.9 180 1 0 -3.0 0.0a1.5 0.9 180 1 0 3.0 -0.0M318.7 689.8a1.2 0.7 6 1 0 2.3 0.2a1.2 0.7 6 1 0 -2.3 -0.2M272.4 631.0a1.2 0.7 171 1 0 -2.4 0.4a1.2 0.7 171 1 0 2.4 -0.4M225.5 713.0a1.6 1.0 22 1 0 3.0 1.2a1.6 1.0 22 1 0 -3.0 -1.2M264.8 681.3a1.3 0.8 62 1 0 1.2 2.3a1.3 0.8 62 1 0 -1.2 -2.3M232.1 621.5a1.1 0.7 156 1 0 -2.0 0.9a1.1 0.7 156 1 0 2.0 -0.9M309.3 641.9a1.6 1.0 174 1 0 -3.2 0.3a1.6 1.0 174 1 0 3.2 -0.3M304.7 705.7a1.5 0.9 105 1 0 -0.7 2.9a1.5 0.9 105 1 0 0.7 -2.9M223.7 673.0a1.1 0.7 149 1 0 -1.8 1.1a1.1 0.7 149 1 0 1.8 -1.1M325.8 720.7a1.2 0.7 74 1 0 0.7 2.3a1.2 0.7 74 1 0 -0.7 -2.3M266.4 662.9a1.2 0.7 179 1 0 -2.4 0.0a1.2 0.7 179 1 0 2.4 -0.0M211.5 627.2a1.7 1.0 129 1 0 -2.1 2.6a1.7 1.0 129 1 0 2.1 -2.6M271.2 673.8a1.5 0.9 99 1 0 -0.5 2.9a1.5 0.9 99 1 0 0.5 -2.9M235.9 687.7a1.4 0.9 100 1 0 -0.5 2.7a1.4 0.9 100 1 0 0.5 -2.7M229.6 636.1a1.6 1.0 63 1 0 1.5 2.9a1.6 1.0 63 1 0 -1.5 -2.9M251.1 686.9a1.0 0.6 55 1 0 1.1 1.6a1.0 0.6 55 1 0 -1.1 -1.6M216.4 712.4a1.2 0.7 140 1 0 -1.8 1.6a1.2 0.7 140 1 0 1.8 -1.6M296.7 696.4a1.7 1.0 162 1 0 -3.1 1.0a1.7 1.0 162 1 0 3.1 -1.0M260.9 733.6a1.4 0.8 173 1 0 -2.7 0.3a1.4 0.8 173 1 0 2.7 -0.3M320.5 674.2a1.1 0.7 68 1 0 0.8 2.0a1.1 0.7 68 1 0 -0.8 -2.0M318.5 636.3a1.5 0.9 12 1 0 3.0 0.7a1.5 0.9 12 1 0 -3.0 -0.7M307.7 673.9a1.0 0.6 151 1 0 -1.7 0.9a1.0 0.6 151 1 0 1.7 -0.9M240.0 650.6a1.0 0.6 76 1 0 0.5 2.0a1.0 0.6 76 1 0 -0.5 -2.0M217.6 656.8a1.7 1.0 162 1 0 -3.2 1.0a1.7 1.0 162 1 0 3.2 -1.0M302.1 672.7a1.7 1.0 45 1 0 2.3 2.4a1.7 1.0 45 1 0 -2.3 -2.4M273.7 703.0a1.1 0.7 5 1 0 2.1 0.2a1.1 0.7 5 1 0 -2.1 -0.2M316.4 710.5a1.4 0.8 159 1 0 -2.6 1.0a1.4 0.8 159 1 0 2.6 -1.0M263.0 685.3a1.2 0.7 153 1 0 -2.0 1.0a1.2 0.7 153 1 0 2.0 -1.0M276.6 649.4a0.9 0.6 138 1 0 -1.4 1.2a0.9 0.6 138 1 0 1.4 -1.2M294.0 729.5a1.4 0.8 4 1 0 2.7 0.2a1.4 0.8 4 1 0 -2.7 -0.2M290.3 716.5a1.1 0.7 105 1 0 -0.6 2.1a1.1 0.7 105 1 0 0.6 -2.1M260.3 729.9a1.0 0.6 163 1 0 -1.9 0.6a1.0 0.6 163 1 0 1.9 -0.6M218.0 628.5a1.3 0.8 5 1 0 2.5 0.2a1.3 0.8 5 1 0 -2.5 -0.2M225.6 718.5a1.0 0.6 118 1 0 -0.9 1.8a1.0 0.6 118 1 0 0.9 -1.8M276.5 654.6a1.1 0.7 89 1 0 0.0 2.2a1.1 0.7 89 1 0 -0.0 -2.2M227.9 637.8a1.5 0.9 68 1 0 1.1 2.7a1.5 0.9 68 1 0 -1.1 -2.7M278.9 621.8a1.6 1.0 128 1 0 -2.0 2.5a1.6 1.0 128 1 0 2.0 -2.5M305.6 710.4a1.3 0.8 1 1 0 2.5 0.1a1.3 0.8 1 1 0 -2.5 -0.1M213.9 706.5a1.5 0.9 32 1 0 2.5 1.5a1.5 0.9 32 1 0 -2.5 -1.5M239.1 698.6a0.9 0.6 56 1 0 1.0 1.6a0.9 0.6 56 1 0 -1.0 -1.6M258.2 653.6a1.1 0.7 162 1 0 -2.2 0.7a1.1 0.7 162 1 0 2.2 -0.7M272.9 681.9a1.0 0.6 171 1 0 -1.9 0.3a1.0 0.6 171 1 0 1.9 -0.3M285.7 676.0a1.7 1.0 132 1 0 -2.2 2.5a1.7 1.0 132 1 0 2.2 -2.5M247.1 698.4a1.3 0.8 95 1 0 -0.2 2.7a1.3 0.8 95 1 0 0.2 -2.7M216.4 713.2a1.2 0.7 176 1 0 -2.4 0.2a1.2 0.7 176 1 0 2.4 -0.2M247.1 733.9a1.0 0.6 19 1 0 1.8 0.6a1.0 0.6 19 1 0 -1.8 -0.6M217.4 712.3a1.3 0.8 137 1 0 -1.8 1.7a1.3 0.8 137 1 0 1.8 -1.7M287.7 618.8a1.3 0.8 116 1 0 -1.1 2.3a1.3 0.8 116 1 0 1.1 -2.3M273.4 662.3a1.1 0.7 72 1 0 0.7 2.1a1.1 0.7 72 1 0 -0.7 -2.1M212.3 667.5a1.5 0.9 44 1 0 2.1 2.0a1.5 0.9 44 1 0 -2.1 -2.0M312.3 701.5a1.1 0.7 82 1 0 0.3 2.2a1.1 0.7 82 1 0 -0.3 -2.2M257.4 673.2a1.7 1.0 114 1 0 -1.3 3.0a1.7 1.0 114 1 0 1.3 -3.0M218.0 672.4a1.5 0.9 89 1 0 0.1 2.9a1.5 0.9 89 1 0 -0.1 -2.9M322.5 707.7a1.5 0.9 113 1 0 -1.2 2.8a1.5 0.9 113 1 0 1.2 -2.8M294.0 717.3a1.4 0.9 126 1 0 -1.7 2.3a1.4 0.9 126 1 0 1.7 -2.3M238.2 723.9a1.4 0.9 69 1 0 1.0 2.6a1.4 0.9 69 1 0 -1.0 -2.6M314.3 730.7a0.9 0.6 178 1 0 -1.8 0.1a0.9 0.6 178 1 0 1.8 -0.1M247.0 653.2a1.0 0.6 70 1 0 0.7 1.9a1.0 0.6 70 1 0 -0.7 -1.9M277.4 625.6a1.6 1.0 54 1 0 1.9 2.7a1.6 1.0 54 1 0 -1.9 -2.7M301.2 671.3a1.7 1.0 19 1 0 3.1 1.1a1.7 1.0 19 1 0 -3.1 -1.1M297.1 640.5a1.4 0.9 60 1 0 1.4 2.5a1.4 0.9 60 1 0 -1.4 -2.5M296.1 648.0a1.2 0.7 171 1 0 -2.3 0.4a1.2 0.7 171 1 0 2.3 -0.4M238.5 716.2a1.4 0.9 28 1 0 2.6 1.3a1.4 0.9 28 1 0 -2.6 -1.3M232.0 686.9a1.2 0.7 50 1 0 1.6 1.8a1.2 0.7 50 1 0 -1.6 -1.8M328.1 671.1a1.4 0.9 79 1 0 0.5 2.7a1.4 0.9 79 1 0 -0.5 -2.7M242.8 637.0a1.1 0.7 69 1 0 0.8 2.1a1.1 0.7 69 1 0 -0.8 -2.1M229.8 730.2a1.5 0.9 6 1 0 3.1 0.3a1.5 0.9 6 1 0 -3.1 -0.3M326.3 700.2a1.3 0.8 3 1 0 2.6 0.2a1.3 0.8 3 1 0 -2.6 -0.2M212.7 688.1a1.1 0.7 126 1 0 -1.3 1.8a1.1 0.7 126 1 0 1.3 -1.8M206.9 681.2a1.2 0.7 17 1 0 2.2 0.7a1.2 0.7 17 1 0 -2.2 -0.7M265.2 721.7a1.0 0.6 67 1 0 0.8 1.9a1.0 0.6 67 1 0 -0.8 -1.9M309.2 713.2a0.9 0.6 95 1 0 -0.2 1.9a0.9 0.6 95 1 0 0.2 -1.9M231.4 663.8a1.1 0.7 99 1 0 -0.4 2.1a1.1 0.7 99 1 0 0.4 -2.1M312.1 716.3a1.6 1.0 167 1 0 -3.1 0.7a1.6 1.0 167 1 0 3.1 -0.7M207.7 685.5a1.6 1.0 14 1 0 3.1 0.8a1.6 1.0 14 1 0 -3.1 -0.8M302.6 706.2a1.0 0.6 34 1 0 1.6 1.1a1.0 0.6 34 1 0 -1.6 -1.1M312.6 687.6a1.3 0.8 112 1 0 -0.9 2.4a1.3 0.8 112 1 0 0.9 -2.4M309.4 656.4a1.2 0.7 49 1 0 1.6 1.8a1.2 0.7 49 1 0 -1.6 -1.8M246.3 690.9a1.0 0.6 160 1 0 -1.8 0.7a1.0 0.6 160 1 0 1.8 -0.7M216.3 676.8a1.1 0.7 122 1 0 -1.1 1.8a1.1 0.7 122 1 0 1.1 -1.8M240.5 624.3a1.3 0.8 7 1 0 2.6 0.3a1.3 0.8 7 1 0 -2.6 -0.3M293.9 693.8a1.0 0.6 28 1 0 1.7 0.9a1.0 0.6 28 1 0 -1.7 -0.9M326.7 679.4a1.4 0.9 74 1 0 0.8 2.8a1.4 0.9 74 1 0 -0.8 -2.8M299.4 678.8a1.6 1.0 14 1 0 3.0 0.8a1.6 1.0 14 1 0 -3.0 -0.8M234.0 621.2a1.3 0.8 63 1 0 1.2 2.4a1.3 0.8 63 1 0 -1.2 -2.4M288.8 637.0a1.3 0.8 128 1 0 -1.6 2.0a1.3 0.8 128 1 0 1.6 -2.0M229.2 716.6a1.6 1.0 145 1 0 -2.7 1.8a1.6 1.0 145 1 0 2.7 -1.8M295.9 642.1a1.6 1.0 140 1 0 -2.5 2.1a1.6 1.0 140 1 0 2.5 -2.1M277.0 724.1a1.2 0.7 175 1 0 -2.4 0.2a1.2 0.7 175 1 0 2.4 -0.2M329.2 727.0a0.9 0.6 143 1 0 -1.5 1.1a0.9 0.6 143 1 0 1.5 -1.1M252.9 688.2a1.5 0.9 109 1 0 -1.0 2.8a1.5 0.9 109 1 0 1.0 -2.8M291.7 636.3a1.3 0.8 168 1 0 -2.6 0.6a1.3 0.8 168 1 0 2.6 -0.6M322.1 641.9a1.3 0.8 180 1 0 -2.7 0.0a1.3 0.8 180 1 0 2.7 -0.0M308.2 704.0a1.2 0.7 159 1 0 -2.2 0.9a1.2 0.7 159 1 0 2.2 -0.9M216.6 664.5a1.3 0.8 32 1 0 2.3 1.4a1.3 0.8 32 1 0 -2.3 -1.4M311.3 659.8a0.9 0.6 24 1 0 1.7 0.7a0.9 0.6 24 1 0 -1.7 -0.7M260.1 685.6a1.4 0.9 5 1 0 2.8 0.2a1.4 0.9 5 1 0 -2.8 -0.2M235.5 629.9a1.3 0.8 167 1 0 -2.6 0.6a1.3 0.8 167 1 0 2.6 -0.6M321.4 677.5a1.1 0.7 22 1 0 2.0 0.8a1.1 0.7 22 1 0 -2.0 -0.8M262.9 691.9a1.5 0.9 139 1 0 -2.2 2.0a1.5 0.9 139 1 0 2.2 -2.0M290.7 646.1a1.2 0.7 77 1 0 0.5 2.4a1.2 0.7 77 1 0 -0.5 -2.4M270.3 647.5a1.3 0.8 97 1 0 -0.3 2.5a1.3 0.8 97 1 0 0.3 -2.5M212.0 712.7a1.5 0.9 106 1 0 -0.8 3.0a1.5 0.9 106 1 0 0.8 -3.0M303.2 703.4a1.2 0.7 179 1 0 -2.4 0.0a1.2 0.7 179 1 0 2.4 -0.0M258.4 616.9a1.4 0.8 120 1 0 -1.3 2.4a1.4 0.8 120 1 0 1.3 -2.4M280.5 734.1a1.1 0.7 35 1 0 1.8 1.3a1.1 0.7 35 1 0 -1.8 -1.3M301.7 712.0a1.0 0.6 87 1 0 0.1 1.9a1.0 0.6 87 1 0 -0.1 -1.9M254.8 713.3a1.3 0.8 90 1 0 0.0 2.5a1.3 0.8 90 1 0 -0.0 -2.5M257.7 690.0a1.5 0.9 108 1 0 -0.9 2.8a1.5 0.9 108 1 0 0.9 -2.8M318.2 704.8a1.1 0.7 67 1 0 0.8 2.0a1.1 0.7 67 1 0 -0.8 -2.0M308.9 710.5a1.1 0.7 167 1 0 -2.1 0.5a1.1 0.7 167 1 0 2.1 -0.5M315.2 721.9a1.2 0.7 14 1 0 2.2 0.6a1.2 0.7 14 1 0 -2.2 -0.6M289.7 634.2a1.1 0.7 150 1 0 -1.9 1.1a1.1 0.7 150 1 0 1.9 -1.1M294.2 651.6a1.1 0.7 39 1 0 1.7 1.4a1.1 0.7 39 1 0 -1.7 -1.4M270.1 700.4a1.4 0.9 39 1 0 2.2 1.8a1.4 0.9 39 1 0 -2.2 -1.8M249.8 692.9a1.1 0.7 66 1 0 0.9 1.9a1.1 0.7 66 1 0 -0.9 -1.9M225.9 623.4a1.2 0.8 125 1 0 -1.4 2.0a1.2 0.8 125 1 0 1.4 -2.0M223.3 720.2a0.9 0.6 118 1 0 -0.9 1.6a0.9 0.6 118 1 0 0.9 -1.6M300.3 686.1a1.3 0.8 80 1 0 0.5 2.6a1.3 0.8 80 1 0 -0.5 -2.6M331.7 660.2a1.4 0.9 115 1 0 -1.2 2.6a1.4 0.9 115 1 0 1.2 -2.6M255.2 657.3a1.4 0.9 136 1 0 -2.0 2.0a1.4 0.9 136 1 0 2.0 -2.0M264.8 676.9a1.5 0.9 40 1 0 2.3 2.0a1.5 0.9 40 1 0 -2.3 -2.0M209.4 692.0a1.1 0.7 82 1 0 0.3 2.1a1.1 0.7 82 1 0 -0.3 -2.1M281.5 685.7a1.3 0.8 16 1 0 2.5 0.7a1.3 0.8 16 1 0 -2.5 -0.7M227.7 710.4a1.2 0.7 59 1 0 1.2 2.0a1.2 0.7 59 1 0 -1.2 -2.0M233.9 622.7a1.0 0.6 34 1 0 1.7 1.1a1.0 0.6 34 1 0 -1.7 -1.1M286.8 716.4a1.0 0.6 40 1 0 1.5 1.3a1.0 0.6 40 1 0 -1.5 -1.3M275.5 629.7a1.5 0.9 73 1 0 0.9 2.9a1.5 0.9 73 1 0 -0.9 -2.9M233.3 698.8a1.0 0.6 97 1 0 -0.2 1.9a1.0 0.6 97 1 0 0.2 -1.9M237.3 687.7a1.1 0.7 17 1 0 2.0 0.6a1.1 0.7 17 1 0 -2.0 -0.6M281.5 712.2a1.4 0.9 94 1 0 -0.2 2.8a1.4 0.9 94 1 0 0.2 -2.8M207.3 651.8a1.6 1.0 57 1 0 1.8 2.7a1.6 1.0 57 1 0 -1.8 -2.7M251.8 709.6a1.3 0.8 6 1 0 2.6 0.3a1.3 0.8 6 1 0 -2.6 -0.3M322.3 707.1a1.1 0.6 104 1 0 -0.5 2.0a1.1 0.6 104 1 0 0.5 -2.0M328.0 626.8a1.5 0.9 174 1 0 -3.0 0.3a1.5 0.9 174 1 0 3.0 -0.3M298.8 679.3a1.2 0.7 30 1 0 2.0 1.2a1.2 0.7 30 1 0 -2.0 -1.2M292.1 693.2a1.5 0.9 70 1 0 1.0 2.9a1.5 0.9 70 1 0 -1.0 -2.9M212.8 651.0a1.2 0.7 16 1 0 2.2 0.7a1.2 0.7 16 1 0 -2.2 -0.7M308.3 705.5a1.2 0.7 27 1 0 2.1 1.0a1.2 0.7 27 1 0 -2.1 -1.0M221.3 694.2a1.1 0.7 80 1 0 0.4 2.1a1.1 0.7 80 1 0 -0.4 -2.1M254.9 717.8a1.4 0.9 77 1 0 0.7 2.8a1.4 0.9 77 1 0 -0.7 -2.8M288.2 672.0a1.2 0.7 100 1 0 -0.4 2.4a1.2 0.7 100 1 0 0.4 -2.4M231.9 674.7a1.2 0.7 55 1 0 1.3 1.9a1.2 0.7 55 1 0 -1.3 -1.9M230.8 723.8a1.1 0.7 77 1 0 0.5 2.1a1.1 0.7 77 1 0 -0.5 -2.1M212.2 642.3a1.2 0.7 156 1 0 -2.1 0.9a1.2 0.7 156 1 0 2.1 -0.9M293.6 643.5a1.3 0.8 117 1 0 -1.1 2.2a1.3 0.8 117 1 0 1.1 -2.2M301.6 678.6a1.1 0.7 68 1 0 0.9 2.1a1.1 0.7 68 1 0 -0.9 -2.1M284.4 714.2a1.3 0.8 124 1 0 -1.5 2.1a1.3 0.8 124 1 0 1.5 -2.1M250.3 721.8a1.0 0.6 152 1 0 -1.8 1.0a1.0 0.6 152 1 0 1.8 -1.0M295.5 706.8a1.7 1.0 122 1 0 -1.7 2.8a1.7 1.0 122 1 0 1.7 -2.8M321.6 646.5a1.2 0.7 179 1 0 -2.3 0.0a1.2 0.7 179 1 0 2.3 -0.0M254.9 731.6a1.2 0.7 30 1 0 2.1 1.2a1.2 0.7 30 1 0 -2.1 -1.2M286.7 648.5a1.5 0.9 48 1 0 2.0 2.3a1.5 0.9 48 1 0 -2.0 -2.3M287.3 704.0a1.6 1.0 142 1 0 -2.5 2.0a1.6 1.0 142 1 0 2.5 -2.0M323.6 714.2a1.3 0.8 176 1 0 -2.6 0.2a1.3 0.8 176 1 0 2.6 -0.2M298.9 677.8a1.4 0.9 174 1 0 -2.8 0.3a1.4 0.9 174 1 0 2.8 -0.3M261.9 694.7a1.0 0.6 53 1 0 1.2 1.6a1.0 0.6 53 1 0 -1.2 -1.6M255.9 633.7a1.0 0.6 1 1 0 2.0 0.0a1.0 0.6 1 1 0 -2.0 -0.0M264.2 707.0a1.4 0.9 9 1 0 2.8 0.4a1.4 0.9 9 1 0 -2.8 -0.4M220.6 676.5a1.3 0.8 53 1 0 1.5 2.0a1.3 0.8 53 1 0 -1.5 -2.0M298.3 664.7a1.5 0.9 71 1 0 1.0 2.8a1.5 0.9 71 1 0 -1.0 -2.8M222.9 657.3a1.6 1.0 126 1 0 -1.8 2.5a1.6 1.0 126 1 0 1.8 -2.5M333.8 646.7a1.2 0.7 113 1 0 -0.9 2.1a1.2 0.7 113 1 0 0.9 -2.1M296.5 716.5a1.2 0.7 24 1 0 2.1 1.0a1.2 0.7 24 1 0 -2.1 -1.0M328.4 657.6a1.5 1.0 114 1 0 -1.2 2.8a1.5 1.0 114 1 0 1.2 -2.8M241.8 709.6a1.2 0.7 1 1 0 2.4 0.0a1.2 0.7 1 1 0 -2.4 -0.0M227.8 657.6a0.9 0.6 38 1 0 1.5 1.2a0.9 0.6 38 1 0 -1.5 -1.2M310.9 636.7a1.3 0.8 103 1 0 -0.6 2.6a1.3 0.8 103 1 0 0.6 -2.6M317.0 716.1a1.0 0.6 112 1 0 -0.8 1.9a1.0 0.6 112 1 0 0.8 -1.9M306.3 628.8a1.2 0.7 167 1 0 -2.2 0.5a1.2 0.7 167 1 0 2.2 -0.5M239.1 641.6a1.5 0.9 71 1 0 1.0 2.9a1.5 0.9 71 1 0 -1.0 -2.9M318.0 704.4a1.1 0.7 131 1 0 -1.5 1.7a1.1 0.7 131 1 0 1.5 -1.7M248.1 651.8a1.6 1.0 78 1 0 0.7 3.1a1.6 1.0 78 1 0 -0.7 -3.1M337.1 627.3a1.6 1.0 174 1 0 -3.2 0.4a1.6 1.0 174 1 0 3.2 -0.4M267.3 698.3a1.1 0.6 141 1 0 -1.6 1.3a1.1 0.6 141 1 0 1.6 -1.3M288.0 732.3a1.6 1.0 158 1 0 -3.0 1.2a1.6 1.0 158 1 0 3.0 -1.2M217.9 699.9a1.6 1.0 88 1 0 0.1 3.2a1.6 1.0 88 1 0 -0.1 -3.2M227.1 681.5a1.5 0.9 22 1 0 2.9 1.1a1.5 0.9 22 1 0 -2.9 -1.1M299.6 620.4a1.0 0.6 56 1 0 1.1 1.7a1.0 0.6 56 1 0 -1.1 -1.7M287.4 691.2a1.7 1.0 11 1 0 3.2 0.6a1.7 1.0 11 1 0 -3.2 -0.6M331.8 668.2a1.2 0.7 103 1 0 -0.6 2.3a1.2 0.7 103 1 0 0.6 -2.3M284.9 662.9a1.5 0.9 79 1 0 0.6 2.9a1.5 0.9 79 1 0 -0.6 -2.9M231.9 651.9a1.1 0.7 137 1 0 -1.6 1.5a1.1 0.7 137 1 0 1.6 -1.5M214.8 724.0a1.2 0.8 29 1 0 2.2 1.2a1.2 0.8 29 1 0 -2.2 -1.2M246.8 647.1a1.3 0.8 63 1 0 1.2 2.4a1.3 0.8 63 1 0 -1.2 -2.4M221.0 680.0a1.0 0.6 9 1 0 1.9 0.3a1.0 0.6 9 1 0 -1.9 -0.3M232.5 644.8a1.1 0.7 61 1 0 1.1 2.0a1.1 0.7 61 1 0 -1.1 -2.0M314.8 693.3a1.5 0.9 85 1 0 0.3 3.0a1.5 0.9 85 1 0 -0.3 -3.0M296.0 653.2a1.5 0.9 111 1 0 -1.1 2.8a1.5 0.9 111 1 0 1.1 -2.8M276.6 704.5a1.6 1.0 114 1 0 -1.3 3.0a1.6 1.0 114 1 0 1.3 -3.0M242.4 696.3a1.3 0.8 176 1 0 -2.6 0.2a1.3 0.8 176 1 0 2.6 -0.2M324.5 627.9a1.1 0.7 130 1 0 -1.4 1.7a1.1 0.7 130 1 0 1.4 -1.7M303.9 666.2a1.1 0.7 96 1 0 -0.2 2.2a1.1 0.7 96 1 0 0.2 -2.2M240.8 717.9a1.4 0.9 116 1 0 -1.2 2.5a1.4 0.9 116 1 0 1.2 -2.5M223.0 651.9a1.1 0.7 174 1 0 -2.1 0.2a1.1 0.7 174 1 0 2.1 -0.2M276.4 698.0a1.3 0.8 92 1 0 -0.1 2.7a1.3 0.8 92 1 0 0.1 -2.7M331.2 708.5a1.2 0.8 43 1 0 1.8 1.7a1.2 0.8 43 1 0 -1.8 -1.7M261.7 696.9a1.1 0.7 121 1 0 -1.2 1.9a1.1 0.7 121 1 0 1.2 -1.9M295.2 668.2a1.1 0.7 3 1 0 2.3 0.1a1.1 0.7 3 1 0 -2.3 -0.1M256.5 639.3a1.7 1.0 121 1 0 -1.7 2.9a1.7 1.0 121 1 0 1.7 -2.9M328.3 691.0a1.3 0.8 154 1 0 -2.3 1.1a1.3 0.8 154 1 0 2.3 -1.1M281.5 722.3a1.2 0.7 11 1 0 2.3 0.4a1.2 0.7 11 1 0 -2.3 -0.4M255.0 656.7a1.0 0.6 77 1 0 0.4 1.9a1.0 0.6 77 1 0 -0.4 -1.9M293.8 729.2a1.1 0.6 42 1 0 1.6 1.4a1.1 0.6 42 1 0 -1.6 -1.4M249.0 710.1a1.5 0.9 41 1 0 2.3 2.0a1.5 0.9 41 1 0 -2.3 -2.0M230.2 686.4a1.4 0.9 130 1 0 -1.8 2.2a1.4 0.9 130 1 0 1.8 -2.2M219.0 729.3a1.3 0.8 153 1 0 -2.3 1.2a1.3 0.8 153 1 0 2.3 -1.2M316.8 687.5a1.2 0.8 30 1 0 2.1 1.2a1.2 0.8 30 1 0 -2.1 -1.2M311.8 671.9a1.0 0.6 8 1 0 2.1 0.3a1.0 0.6 8 1 0 -2.1 -0.3M231.6 685.3a1.3 0.8 116 1 0 -1.1 2.3a1.3 0.8 116 1 0 1.1 -2.3M258.4 729.4a1.4 0.9 62 1 0 1.4 2.5a1.4 0.9 62 1 0 -1.4 -2.5M232.5 677.4a1.0 0.6 32 1 0 1.7 1.1a1.0 0.6 32 1 0 -1.7 -1.1M249.9 629.8a1.4 0.9 69 1 0 1.0 2.6a1.4 0.9 69 1 0 -1.0 -2.6M277.8 710.0a1.0 0.6 86 1 0 0.1 1.9a1.0 0.6 86 1 0 -0.1 -1.9M302.0 663.6a1.7 1.0 135 1 0 -2.4 2.4a1.7 1.0 135 1 0 2.4 -2.4M274.1 645.8a1.3 0.8 64 1 0 1.1 2.3a1.3 0.8 64 1 0 -1.1 -2.3M247.7 628.2a1.4 0.9 72 1 0 0.9 2.7a1.4 0.9 72 1 0 -0.9 -2.7M313.7 706.5a1.5 0.9 159 1 0 -2.9 1.1a1.5 0.9 159 1 0 2.9 -1.1M258.6 693.0a1.5 0.9 10 1 0 3.0 0.5a1.5 0.9 10 1 0 -3.0 -0.5M298.2 647.6a1.1 0.7 85 1 0 0.2 2.2a1.1 0.7 85 1 0 -0.2 -2.2M310.8 666.7a1.6 1.0 141 1 0 -2.5 2.1a1.6 1.0 141 1 0 2.5 -2.1M306.5 660.8a1.6 1.0 62 1 0 1.6 2.9a1.6 1.0 62 1 0 -1.6 -2.9M323.0 638.5a1.5 0.9 65 1 0 1.3 2.8a1.5 0.9 65 1 0 -1.3 -2.8M304.3 649.2a1.7 1.0 80 1 0 0.6 3.3a1.7 1.0 80 1 0 -0.6 -3.3M219.4 648.4a1.6 1.0 120 1 0 -1.6 2.8a1.6 1.0 120 1 0 1.6 -2.8M330.5 671.7a1.7 1.0 142 1 0 -2.6 2.0a1.7 1.0 142 1 0 2.6 -2.0M248.5 643.2a1.5 0.9 47 1 0 2.1 2.2a1.5 0.9 47 1 0 -2.1 -2.2M226.0 681.5a1.1 0.7 167 1 0 -2.1 0.5a1.1 0.7 167 1 0 2.1 -0.5M289.4 679.7a1.3 0.8 174 1 0 -2.6 0.3a1.3 0.8 174 1 0 2.6 -0.3M271.1 723.0a1.0 0.6 135 1 0 -1.5 1.4a1.0 0.6 135 1 0 1.5 -1.4M312.3 664.3a1.7 1.0 174 1 0 -3.3 0.3a1.7 1.0 174 1 0 3.3 -0.3M269.8 665.7a1.1 0.7 41 1 0 1.7 1.5a1.1 0.7 41 1 0 -1.7 -1.5M234.2 636.6a1.0 0.6 131 1 0 -1.3 1.4a1.0 0.6 131 1 0 1.3 -1.4M285.2 686.8a1.4 0.8 132 1 0 -1.8 2.0a1.4 0.8 132 1 0 1.8 -2.0M325.3 650.2a1.4 0.8 17 1 0 2.6 0.8a1.4 0.8 17 1 0 -2.6 -0.8M243.1 733.3a1.4 0.9 166 1 0 -2.8 0.7a1.4 0.9 166 1 0 2.8 -0.7M314.5 645.1a1.2 0.7 87 1 0 0.1 2.4a1.2 0.7 87 1 0 -0.1 -2.4M251.4 660.1a1.4 0.9 86 1 0 0.2 2.8a1.4 0.9 86 1 0 -0.2 -2.8M208.7 680.3a1.7 1.0 23 1 0 3.1 1.3a1.7 1.0 23 1 0 -3.1 -1.3M277.4 685.5a1.5 0.9 57 1 0 1.6 2.4a1.5 0.9 57 1 0 -1.6 -2.4M298.9 723.4a1.1 0.7 105 1 0 -0.6 2.2a1.1 0.7 105 1 0 0.6 -2.2M288.9 622.7a1.1 0.7 134 1 0 -1.6 1.7a1.1 0.7 134 1 0 1.6 -1.7M300.1 632.1a1.0 0.6 108 1 0 -0.6 2.0a1.0 0.6 108 1 0 0.6 -2.0M212.8 648.0a1.2 0.7 153 1 0 -2.2 1.1a1.2 0.7 153 1 0 2.2 -1.1M275.6 710.3a1.1 0.7 176 1 0 -2.2 0.2a1.1 0.7 176 1 0 2.2 -0.2M297.5 708.7a1.2 0.7 143 1 0 -1.9 1.4a1.2 0.7 143 1 0 1.9 -1.4M267.3 708.7a1.3 0.8 45 1 0 1.8 1.8a1.3 0.8 45 1 0 -1.8 -1.8M287.7 716.5a1.4 0.9 44 1 0 2.1 2.0a1.4 0.9 44 1 0 -2.1 -2.0M234.9 634.6a1.4 0.9 86 1 0 0.2 2.8a1.4 0.9 86 1 0 -0.2 -2.8M288.4 728.3a1.3 0.8 30 1 0 2.3 1.3a1.3 0.8 30 1 0 -2.3 -1.3M269.9 647.7a1.0 0.6 165 1 0 -2.0 0.5a1.0 0.6 165 1 0 2.0 -0.5M241.2 621.1a1.4 0.9 116 1 0 -1.2 2.6a1.4 0.9 116 1 0 1.2 -2.6M236.3 724.8a1.1 0.7 114 1 0 -0.9 1.9a1.1 0.7 114 1 0 0.9 -1.9M327.6 716.5a1.6 1.0 56 1 0 1.7 2.6a1.6 1.0 56 1 0 -1.7 -2.6M223.4 656.8a1.7 1.0 75 1 0 0.8 3.2a1.7 1.0 75 1 0 -0.8 -3.2M244.3 662.0a1.5 1.0 37 1 0 2.5 1.9a1.5 1.0 37 1 0 -2.5 -1.9M230.0 715.9a1.3 0.8 61 1 0 1.3 2.4a1.3 0.8 61 1 0 -1.3 -2.4M320.2 647.5a1.4 0.9 95 1 0 -0.3 2.8a1.4 0.9 95 1 0 0.3 -2.8M282.0 664.4a1.2 0.7 116 1 0 -1.0 2.1a1.2 0.7 116 1 0 1.0 -2.1M227.4 617.4a1.4 0.8 109 1 0 -0.9 2.6a1.4 0.8 109 1 0 0.9 -2.6M310.8 634.9a1.3 0.8 121 1 0 -1.3 2.2a1.3 0.8 121 1 0 1.3 -2.2M274.8 714.0a1.2 0.8 93 1 0 -0.1 2.5a1.2 0.8 93 1 0 0.1 -2.5M291.5 634.4a1.3 0.8 157 1 0 -2.4 1.0a1.3 0.8 157 1 0 2.4 -1.0M214.1 673.8a1.7 1.0 170 1 0 -3.3 0.6a1.7 1.0 170 1 0 3.3 -0.6M263.1 648.5a1.1 0.7 169 1 0 -2.2 0.4a1.1 0.7 169 1 0 2.2 -0.4M209.2 645.2a1.4 0.9 85 1 0 0.3 2.9a1.4 0.9 85 1 0 -0.3 -2.9M216.4 656.0a1.2 0.7 131 1 0 -1.5 1.8a1.2 0.7 131 1 0 1.5 -1.8M229.4 699.7a1.5 0.9 79 1 0 0.6 2.8a1.5 0.9 79 1 0 -0.6 -2.8M269.5 711.3a1.7 1.0 92 1 0 -0.1 3.3a1.7 1.0 92 1 0 0.1 -3.3M311.8 700.9a1.4 0.9 88 1 0 0.1 2.8a1.4 0.9 88 1 0 -0.1 -2.8M257.0 626.0a1.5 0.9 159 1 0 -2.9 1.1a1.5 0.9 159 1 0 2.9 -1.1M306.2 716.8a1.7 1.0 99 1 0 -0.5 3.3a1.7 1.0 99 1 0 0.5 -3.3M266.9 732.4a1.2 0.7 15 1 0 2.3 0.6a1.2 0.7 15 1 0 -2.3 -0.6M280.8 712.2a1.5 0.9 94 1 0 -0.2 3.0a1.5 0.9 94 1 0 0.2 -3.0M256.3 696.3a1.4 0.8 143 1 0 -2.2 1.6a1.4 0.8 143 1 0 2.2 -1.6M208.5 694.7a1.1 0.7 0 1 0 2.3 0.0a1.1 0.7 0 1 0 -2.3 -0.0M220.5 706.5a1.5 0.9 30 1 0 2.5 1.5a1.5 0.9 30 1 0 -2.5 -1.5M217.3 640.6a1.6 1.0 125 1 0 -1.9 2.7a1.6 1.0 125 1 0 1.9 -2.7M215.8 688.4a1.4 0.9 72 1 0 0.9 2.6a1.4 0.9 72 1 0 -0.9 -2.6M215.4 619.2a1.6 1.0 14 1 0 3.1 0.8a1.6 1.0 14 1 0 -3.1 -0.8M269.0 688.9a1.4 0.9 24 1 0 2.6 1.2a1.4 0.9 24 1 0 -2.6 -1.2M324.5 639.8a1.6 1.0 141 1 0 -2.4 2.0a1.6 1.0 141 1 0 2.4 -2.0M335.5 683.0a1.2 0.7 116 1 0 -1.0 2.1a1.2 0.7 116 1 0 1.0 -2.1M308.3 652.8a1.4 0.9 112 1 0 -1.1 2.6a1.4 0.9 112 1 0 1.1 -2.6M333.6 709.7a1.0 0.6 17 1 0 2.0 0.6a1.0 0.6 17 1 0 -2.0 -0.6M253.8 663.3a1.1 0.7 129 1 0 -1.4 1.7a1.1 0.7 129 1 0 1.4 -1.7M278.3 669.5a1.4 0.9 55 1 0 1.6 2.3a1.4 0.9 55 1 0 -1.6 -2.3M261.5 732.0a1.6 1.0 23 1 0 3.0 1.3a1.6 1.0 23 1 0 -3.0 -1.3M287.8 671.1a1.4 0.9 14 1 0 2.7 0.7a1.4 0.9 14 1 0 -2.7 -0.7M311.4 657.6a1.3 0.8 128 1 0 -1.6 2.1a1.3 0.8 128 1 0 1.6 -2.1M217.9 717.4a1.3 0.8 56 1 0 1.4 2.1a1.3 0.8 56 1 0 -1.4 -2.1M306.3 719.9a1.2 0.7 154 1 0 -2.1 1.1a1.2 0.7 154 1 0 2.1 -1.1M316.5 634.3a1.2 0.8 99 1 0 -0.4 2.5a1.2 0.8 99 1 0 0.4 -2.5M319.5 701.0a1.5 0.9 119 1 0 -1.5 2.7a1.5 0.9 119 1 0 1.5 -2.7M250.7 669.4a1.2 0.7 19 1 0 2.2 0.8a1.2 0.7 19 1 0 -2.2 -0.8M231.2 702.8a1.6 1.0 23 1 0 3.0 1.3a1.6 1.0 23 1 0 -3.0 -1.3M283.3 669.5a1.3 0.8 21 1 0 2.3 0.9a1.3 0.8 21 1 0 -2.3 -0.9M280.9 634.4a1.2 0.7 176 1 0 -2.4 0.2a1.2 0.7 176 1 0 2.4 -0.2M262.6 650.0a1.1 0.7 67 1 0 0.9 2.1a1.1 0.7 67 1 0 -0.9 -2.1M316.6 624.8a1.4 0.8 66 1 0 1.1 2.5a1.4 0.8 66 1 0 -1.1 -2.5M268.8 654.7a1.0 0.6 87 1 0 0.1 1.9a1.0 0.6 87 1 0 -0.1 -1.9M247.6 667.9a1.2 0.8 138 1 0 -1.9 1.7a1.2 0.8 138 1 0 1.9 -1.7M259.7 693.4a1.3 0.8 50 1 0 1.7 2.0a1.3 0.8 50 1 0 -1.7 -2.0M232.3 688.6a1.4 0.9 97 1 0 -0.3 2.8a1.4 0.9 97 1 0 0.3 -2.8M320.9 710.9a1.1 0.7 178 1 0 -2.2 0.1a1.1 0.7 178 1 0 2.2 -0.1M329.5 668.7a1.3 0.8 66 1 0 1.0 2.3a1.3 0.8 66 1 0 -1.0 -2.3M326.8 729.0a1.1 0.7 145 1 0 -1.9 1.3a1.1 0.7 145 1 0 1.9 -1.3M223.1 640.3a1.5 0.9 121 1 0 -1.5 2.5a1.5 0.9 121 1 0 1.5 -2.5M216.6 618.0a1.2 0.7 179 1 0 -2.3 0.0a1.2 0.7 179 1 0 2.3 -0.0M210.9 671.8a1.5 1.0 18 1 0 2.9 0.9a1.5 1.0 18 1 0 -2.9 -0.9M276.3 689.2a1.0 0.6 167 1 0 -2.0 0.5a1.0 0.6 167 1 0 2.0 -0.5M235.2 708.8a1.3 0.8 109 1 0 -0.8 2.4a1.3 0.8 109 1 0 0.8 -2.4M254.6 690.0a1.6 1.0 170 1 0 -3.3 0.6a1.6 1.0 170 1 0 3.3 -0.6M324.5 732.1a0.9 0.6 24 1 0 1.7 0.7a0.9 0.6 24 1 0 -1.7 -0.7M314.1 645.3a1.3 0.8 94 1 0 -0.2 2.5a1.3 0.8 94 1 0 0.2 -2.5M331.6 669.1a1.1 0.7 24 1 0 1.9 0.9a1.1 0.7 24 1 0 -1.9 -0.9M322.1 712.7a1.7 1.0 25 1 0 3.0 1.4a1.7 1.0 25 1 0 -3.0 -1.4M255.3 701.4a1.6 1.0 102 1 0 -0.6 3.1a1.6 1.0 102 1 0 0.6 -3.1M270.4 619.5a1.6 1.0 100 1 0 -0.6 3.1a1.6 1.0 100 1 0 0.6 -3.1M259.8 713.4a1.2 0.7 80 1 0 0.4 2.3a1.2 0.7 80 1 0 -0.4 -2.3M253.3 642.8a1.7 1.0 90 1 0 -0.0 3.3a1.7 1.0 90 1 0 0.0 -3.3M282.2 707.1a1.2 0.7 32 1 0 2.0 1.3a1.2 0.7 32 1 0 -2.0 -1.3M280.3 662.6a1.6 1.0 2 1 0 3.2 0.1a1.6 1.0 2 1 0 -3.2 -0.1M224.8 694.9a1.1 0.7 177 1 0 -2.3 0.1a1.1 0.7 177 1 0 2.3 -0.1M242.0 654.8a1.7 1.0 98 1 0 -0.4 3.3a1.7 1.0 98 1 0 0.4 -3.3M226.7 646.0a1.1 0.7 161 1 0 -2.1 0.7a1.1 0.7 161 1 0 2.1 -0.7M292.1 702.3a0.9 0.6 0 1 0 1.9 0.0a0.9 0.6 0 1 0 -1.9 -0.0M305.6 724.4a1.3 0.8 125 1 0 -1.5 2.1a1.3 0.8 125 1 0 1.5 -2.1M218.9 679.1a1.2 0.7 20 1 0 2.2 0.8a1.2 0.7 20 1 0 -2.2 -0.8M211.4 676.9a1.1 0.7 84 1 0 0.2 2.3a1.1 0.7 84 1 0 -0.2 -2.3M234.5 625.3a1.0 0.6 5 1 0 2.0 0.2a1.0 0.6 5 1 0 -2.0 -0.2M334.5 620.5a1.3 0.8 129 1 0 -1.6 2.0a1.3 0.8 129 1 0 1.6 -2.0M284.3 653.3a1.5 0.9 177 1 0 -3.1 0.2a1.5 0.9 177 1 0 3.1 -0.2M260.2 668.0a1.0 0.6 165 1 0 -2.0 0.5a1.0 0.6 165 1 0 2.0 -0.5M320.0 689.0a1.3 0.8 102 1 0 -0.6 2.6a1.3 0.8 102 1 0 0.6 -2.6M282.4 627.4a1.2 0.7 45 1 0 1.7 1.7a1.2 0.7 45 1 0 -1.7 -1.7M236.3 626.7a1.2 0.8 128 1 0 -1.5 1.9a1.2 0.8 128 1 0 1.5 -1.9M303.7 663.4a1.1 0.7 169 1 0 -2.2 0.4a1.1 0.7 169 1 0 2.2 -0.4M273.9 666.6a1.0 0.6 142 1 0 -1.6 1.2a1.0 0.6 142 1 0 1.6 -1.2M277.8 669.9a1.1 0.7 112 1 0 -0.8 2.0a1.1 0.7 112 1 0 0.8 -2.0M275.4 732.7a1.7 1.0 19 1 0 3.2 1.1a1.7 1.0 19 1 0 -3.2 -1.1M330.5 669.9a1.3 0.8 15 1 0 2.5 0.7a1.3 0.8 15 1 0 -2.5 -0.7M332.3 616.7a1.5 0.9 136 1 0 -2.2 2.1a1.5 0.9 136 1 0 2.2 -2.1M221.0 687.9a1.0 0.6 27 1 0 1.8 0.9a1.0 0.6 27 1 0 -1.8 -0.9M274.9 651.4a1.3 0.8 119 1 0 -1.3 2.3a1.3 0.8 119 1 0 1.3 -2.3M235.1 725.6a1.5 0.9 1 1 0 3.1 0.1a1.5 0.9 1 1 0 -3.1 -0.1M243.8 722.0a1.3 0.8 109 1 0 -0.8 2.4a1.3 0.8 109 1 0 0.8 -2.4M236.4 717.4a1.7 1.0 154 1 0 -3.0 1.4a1.7 1.0 154 1 0 3.0 -1.4M284.4 725.7a1.4 0.9 161 1 0 -2.7 0.9a1.4 0.9 161 1 0 2.7 -0.9M250.0 687.1a1.5 1.0 62 1 0 1.5 2.7a1.5 1.0 62 1 0 -1.5 -2.7M279.7 718.9a1.5 0.9 161 1 0 -2.8 1.0a1.5 0.9 161 1 0 2.8 -1.0M232.1 656.6a1.2 0.7 15 1 0 2.3 0.6a1.2 0.7 15 1 0 -2.3 -0.6M228.1 652.2a1.0 0.6 143 1 0 -1.6 1.2a1.0 0.6 143 1 0 1.6 -1.2M326.2 725.1a1.1 0.7 139 1 0 -1.6 1.4a1.1 0.7 139 1 0 1.6 -1.4M245.1 669.8a1.6 1.0 111 1 0 -1.2 3.0a1.6 1.0 111 1 0 1.2 -3.0M210.4 627.2a0.9 0.6 148 1 0 -1.6 1.0a0.9 0.6 148 1 0 1.6 -1.0M323.6 639.4a1.3 0.8 176 1 0 -2.5 0.2a1.3 0.8 176 1 0 2.5 -0.2M286.2 713.8a1.2 0.8 148 1 0 -2.1 1.3a1.2 0.8 148 1 0 2.1 -1.3M265.6 709.4a1.1 0.7 46 1 0 1.6 1.7a1.1 0.7 46 1 0 -1.6 -1.7M320.4 720.5a1.2 0.7 149 1 0 -2.0 1.2a1.2 0.7 149 1 0 2.0 -1.2M252.0 629.4a0.9 0.6 150 1 0 -1.6 1.0a0.9 0.6 150 1 0 1.6 -1.0M230.4 618.8a1.7 1.0 82 1 0 0.5 3.3a1.7 1.0 82 1 0 -0.5 -3.3M215.1 646.1a1.5 0.9 48 1 0 1.9 2.2a1.5 0.9 48 1 0 -1.9 -2.2M253.9 636.7a1.6 1.0 125 1 0 -1.8 2.7a1.6 1.0 125 1 0 1.8 -2.7M227.8 623.4a1.6 1.0 73 1 0 0.9 3.1a1.6 1.0 73 1 0 -0.9 -3.1M215.3 632.5a1.5 0.9 116 1 0 -1.3 2.7a1.5 0.9 116 1 0 1.3 -2.7M265.5 621.9a1.0 0.6 99 1 0 -0.3 2.0a1.0 0.6 99 1 0 0.3 -2.0M217.5 624.1a1.0 0.6 169 1 0 -1.9 0.4a1.0 0.6 169 1 0 1.9 -0.4M267.3 713.3a1.2 0.7 36 1 0 2.0 1.4a1.2 0.7 36 1 0 -2.0 -1.4M308.3 683.1a1.3 0.8 35 1 0 2.2 1.5a1.3 0.8 35 1 0 -2.2 -1.5M336.2 713.6a0.9 0.6 173 1 0 -1.8 0.2a0.9 0.6 173 1 0 1.8 -0.2M212.9 676.6a1.7 1.0 2 1 0 3.3 0.1a1.7 1.0 2 1 0 -3.3 -0.1M245.8 681.7a1.2 0.8 158 1 0 -2.3 0.9a1.2 0.8 158 1 0 2.3 -0.9M305.5 634.3a1.5 0.9 80 1 0 0.5 2.9a1.5 0.9 80 1 0 -0.5 -2.9M268.5 638.8a1.2 0.7 155 1 0 -2.1 1.0a1.2 0.7 155 1 0 2.1 -1.0M325.6 654.0a1.0 0.6 149 1 0 -1.7 1.0a1.0 0.6 149 1 0 1.7 -1.0M294.5 728.2a1.2 0.8 113 1 0 -1.0 2.3a1.2 0.8 113 1 0 1.0 -2.3M334.4 730.5a1.1 0.7 148 1 0 -1.8 1.1a1.1 0.7 148 1 0 1.8 -1.1M217.6 689.2a1.0 0.6 24 1 0 1.7 0.8a1.0 0.6 24 1 0 -1.7 -0.8M277.6 727.3a1.6 1.0 49 1 0 2.0 2.3a1.6 1.0 49 1 0 -2.0 -2.3M330.0 727.9a1.0 0.6 15 1 0 2.0 0.5a1.0 0.6 15 1 0 -2.0 -0.5M329.3 730.4a1.1 0.6 31 1 0 1.8 1.1a1.1 0.6 31 1 0 -1.8 -1.1M297.9 628.6a1.0 0.6 19 1 0 2.0 0.7a1.0 0.6 19 1 0 -2.0 -0.7M282.5 660.7a1.0 0.6 152 1 0 -1.8 1.0a1.0 0.6 152 1 0 1.8 -1.0M322.2 708.8a1.4 0.9 67 1 0 1.1 2.6a1.4 0.9 67 1 0 -1.1 -2.6M295.5 631.7a1.3 0.8 168 1 0 -2.5 0.5a1.3 0.8 168 1 0 2.5 -0.5M272.3 717.6a1.1 0.7 4 1 0 2.2 0.1a1.1 0.7 4 1 0 -2.2 -0.1M209.8 703.1a1.5 0.9 39 1 0 2.3 1.9a1.5 0.9 39 1 0 -2.3 -1.9M298.5 733.8a1.2 0.8 32 1 0 2.1 1.3a1.2 0.8 32 1 0 -2.1 -1.3M307.5 669.0a1.4 0.9 32 1 0 2.4 1.5a1.4 0.9 32 1 0 -2.4 -1.5M309.1 669.2a1.0 0.6 69 1 0 0.7 1.9a1.0 0.6 69 1 0 -0.7 -1.9M258.6 714.8a1.7 1.0 64 1 0 1.5 3.0a1.7 1.0 64 1 0 -1.5 -3.0M254.4 672.5a1.6 1.0 140 1 0 -2.5 2.1a1.6 1.0 140 1 0 2.5 -2.1M315.8 666.2a1.0 0.6 81 1 0 0.3 2.0a1.0 0.6 81 1 0 -0.3 -2.0M275.5 713.1a1.2 0.7 34 1 0 1.9 1.3a1.2 0.7 34 1 0 -1.9 -1.3M215.4 669.2a1.7 1.0 87 1 0 0.2 3.4a1.7 1.0 87 1 0 -0.2 -3.4M292.4 724.6a1.3 0.8 36 1 0 2.0 1.5a1.3 0.8 36 1 0 -2.0 -1.5M297.9 624.9a1.4 0.9 103 1 0 -0.6 2.7a1.4 0.9 103 1 0 0.6 -2.7M211.3 640.8a1.0 0.6 141 1 0 -1.6 1.3a1.0 0.6 141 1 0 1.6 -1.3M288.7 665.6a1.6 1.0 70 1 0 1.1 3.0a1.6 1.0 70 1 0 -1.1 -3.0M259.3 720.1a1.3 0.8 148 1 0 -2.3 1.4a1.3 0.8 148 1 0 2.3 -1.4M221.2 656.6a1.1 0.7 172 1 0 -2.2 0.3a1.1 0.7 172 1 0 2.2 -0.3M284.1 640.1a1.4 0.9 132 1 0 -1.9 2.2a1.4 0.9 132 1 0 1.9 -2.2M320.4 686.8a1.5 0.9 20 1 0 2.9 1.0a1.5 0.9 20 1 0 -2.9 -1.0M281.4 727.2a1.2 0.7 94 1 0 -0.1 2.3a1.2 0.7 94 1 0 0.1 -2.3M265.0 682.4a1.4 0.9 126 1 0 -1.6 2.3a1.4 0.9 126 1 0 1.6 -2.3M316.9 679.6a1.6 1.0 37 1 0 2.5 1.9a1.6 1.0 37 1 0 -2.5 -1.9M298.6 634.6a1.6 1.0 83 1 0 0.4 3.1a1.6 1.0 83 1 0 -0.4 -3.1M282.8 631.3a1.5 0.9 156 1 0 -2.7 1.2a1.5 0.9 156 1 0 2.7 -1.2M233.7 698.5a1.4 0.8 155 1 0 -2.5 1.1a1.4 0.8 155 1 0 2.5 -1.1M327.9 680.7a1.4 0.9 2 1 0 2.8 0.1a1.4 0.9 2 1 0 -2.8 -0.1M315.3 724.0a1.6 1.0 136 1 0 -2.4 2.3a1.6 1.0 136 1 0 2.4 -2.3M309.6 673.0a1.0 0.6 11 1 0 2.0 0.4a1.0 0.6 11 1 0 -2.0 -0.4M214.7 725.3a1.6 1.0 145 1 0 -2.7 1.8a1.6 1.0 145 1 0 2.7 -1.8M307.4 669.9a0.9 0.6 101 1 0 -0.4 1.8a0.9 0.6 101 1 0 0.4 -1.8M226.5 664.4a1.2 0.7 10 1 0 2.3 0.4a1.2 0.7 10 1 0 -2.3 -0.4M273.1 636.0a1.0 0.6 32 1 0 1.7 1.0a1.0 0.6 32 1 0 -1.7 -1.0M265.7 714.4a1.5 0.9 81 1 0 0.5 2.9a1.5 0.9 81 1 0 -0.5 -2.9M300.4 711.2a1.3 0.8 143 1 0 -2.1 1.6a1.3 0.8 143 1 0 2.1 -1.6M212.2 636.5a1.2 0.7 50 1 0 1.5 1.8a1.2 0.7 50 1 0 -1.5 -1.8M283.6 675.2a1.0 0.6 52 1 0 1.3 1.6a1.0 0.6 52 1 0 -1.3 -1.6M302.9 733.6a1.0 0.6 126 1 0 -1.2 1.6a1.0 0.6 126 1 0 1.2 -1.6M296.8 710.1a1.4 0.9 97 1 0 -0.3 2.8a1.4 0.9 97 1 0 0.3 -2.8M318.8 673.0a1.0 0.6 127 1 0 -1.3 1.7a1.0 0.6 127 1 0 1.3 -1.7M313.7 683.8a1.4 0.9 34 1 0 2.3 1.6a1.4 0.9 34 1 0 -2.3 -1.6M312.6 668.7a1.5 0.9 56 1 0 1.6 2.4a1.5 0.9 56 1 0 -1.6 -2.4M334.6 729.4a1.3 0.8 56 1 0 1.5 2.1a1.3 0.8 56 1 0 -1.5 -2.1M255.8 633.2a1.1 0.7 98 1 0 -0.3 2.2a1.1 0.7 98 1 0 0.3 -2.2M269.0 713.3a1.7 1.0 100 1 0 -0.6 3.3a1.7 1.0 100 1 0 0.6 -3.3M231.7 639.0a1.5 0.9 12 1 0 2.9 0.6a1.5 0.9 12 1 0 -2.9 -0.6M244.6 641.8a1.7 1.0 115 1 0 -1.4 3.1a1.7 1.0 115 1 0 1.4 -3.1M305.5 729.7a1.3 0.8 168 1 0 -2.6 0.6a1.3 0.8 168 1 0 2.6 -0.6M234.6 706.8a1.0 0.6 39 1 0 1.5 1.2a1.0 0.6 39 1 0 -1.5 -1.2M255.7 703.2a1.2 0.8 114 1 0 -1.0 2.2a1.2 0.8 114 1 0 1.0 -2.2M223.6 636.6a1.3 0.8 108 1 0 -0.8 2.5a1.3 0.8 108 1 0 0.8 -2.5M277.3 703.2a1.6 1.0 103 1 0 -0.7 3.1a1.6 1.0 103 1 0 0.7 -3.1M325.1 677.4a1.3 0.8 65 1 0 1.1 2.4a1.3 0.8 65 1 0 -1.1 -2.4M240.0 637.2a1.3 0.8 130 1 0 -1.6 1.9a1.3 0.8 130 1 0 1.6 -1.9M209.4 662.9a1.0 0.6 58 1 0 1.0 1.6a1.0 0.6 58 1 0 -1.0 -1.6M211.2 688.8a1.6 1.0 145 1 0 -2.6 1.8a1.6 1.0 145 1 0 2.6 -1.8M284.5 643.1a1.1 0.7 115 1 0 -0.9 2.0a1.1 0.7 115 1 0 0.9 -2.0M235.8 655.8a1.0 0.6 24 1 0 1.8 0.8a1.0 0.6 24 1 0 -1.8 -0.8M335.6 627.4a1.4 0.9 175 1 0 -2.9 0.3a1.4 0.9 175 1 0 2.9 -0.3M303.3 629.8a1.1 0.7 122 1 0 -1.1 1.8a1.1 0.7 122 1 0 1.1 -1.8M273.5 670.5a1.0 0.6 162 1 0 -1.9 0.6a1.0 0.6 162 1 0 1.9 -0.6M208.1 684.8a1.4 0.9 95 1 0 -0.2 2.8a1.4 0.9 95 1 0 0.2 -2.8M219.0 660.0a1.4 0.8 128 1 0 -1.7 2.2a1.4 0.8 128 1 0 1.7 -2.2M246.2 618.3a1.6 1.0 8 1 0 3.2 0.4a1.6 1.0 8 1 0 -3.2 -0.4M241.7 625.1a1.1 0.7 53 1 0 1.3 1.7a1.1 0.7 53 1 0 -1.3 -1.7M277.3 622.0a1.4 0.9 97 1 0 -0.4 2.8a1.4 0.9 97 1 0 0.4 -2.8M275.3 686.8a1.2 0.7 43 1 0 1.8 1.7a1.2 0.7 43 1 0 -1.8 -1.7M304.4 650.5a1.1 0.7 149 1 0 -1.8 1.1a1.1 0.7 149 1 0 1.8 -1.1M269.2 721.9a1.1 0.7 119 1 0 -1.1 2.0a1.1 0.7 119 1 0 1.1 -2.0M255.0 649.9a1.2 0.7 135 1 0 -1.7 1.7a1.2 0.7 135 1 0 1.7 -1.7M316.2 698.6a1.3 0.8 150 1 0 -2.3 1.3a1.3 0.8 150 1 0 2.3 -1.3M243.2 697.4a0.9 0.6 78 1 0 0.4 1.9a0.9 0.6 78 1 0 -0.4 -1.9M264.0 639.2a1.1 0.7 13 1 0 2.2 0.5a1.1 0.7 13 1 0 -2.2 -0.5M329.9 694.8a1.4 0.8 78 1 0 0.6 2.7a1.4 0.8 78 1 0 -0.6 -2.7M255.9 682.6a1.6 1.0 47 1 0 2.2 2.3a1.6 1.0 47 1 0 -2.2 -2.3M309.6 668.6a1.2 0.7 100 1 0 -0.4 2.4a1.2 0.7 100 1 0 0.4 -2.4M307.4 715.4a1.0 0.6 167 1 0 -1.9 0.5a1.0 0.6 167 1 0 1.9 -0.5M322.9 642.8a1.2 0.8 20 1 0 2.3 0.8a1.2 0.8 20 1 0 -2.3 -0.8M291.2 629.6a1.7 1.0 116 1 0 -1.5 3.0a1.7 1.0 116 1 0 1.5 -3.0M306.5 714.2a1.2 0.7 29 1 0 2.1 1.1a1.2 0.7 29 1 0 -2.1 -1.1M240.4 660.4a1.7 1.0 159 1 0 -3.2 1.2a1.7 1.0 159 1 0 3.2 -1.2M241.7 682.0a1.7 1.0 109 1 0 -1.1 3.1a1.7 1.0 109 1 0 1.1 -3.1M264.0 631.1a1.0 0.6 18 1 0 1.9 0.6a1.0 0.6 18 1 0 -1.9 -0.6M269.0 627.5a1.1 0.7 125 1 0 -1.2 1.7a1.1 0.7 125 1 0 1.2 -1.7M212.3 700.7a1.5 0.9 83 1 0 0.3 3.0a1.5 0.9 83 1 0 -0.3 -3.0M279.9 662.1a1.6 1.0 13 1 0 3.1 0.7a1.6 1.0 13 1 0 -3.1 -0.7M293.3 647.9a1.4 0.9 15 1 0 2.7 0.7a1.4 0.9 15 1 0 -2.7 -0.7M328.6 704.4a1.7 1.0 166 1 0 -3.3 0.8a1.7 1.0 166 1 0 3.3 -0.8M223.2 638.2a1.0 0.6 84 1 0 0.2 2.0a1.0 0.6 84 1 0 -0.2 -2.0M268.4 712.3a1.5 1.0 47 1 0 2.1 2.3a1.5 1.0 47 1 0 -2.1 -2.3M238.9 713.2a1.0 0.6 14 1 0 1.9 0.5a1.0 0.6 14 1 0 -1.9 -0.5M211.5 685.6a1.5 0.9 4 1 0 2.9 0.2a1.5 0.9 4 1 0 -2.9 -0.2M260.3 722.4a1.6 1.0 69 1 0 1.1 2.9a1.6 1.0 69 1 0 -1.1 -2.9M305.1 660.7a1.4 0.8 140 1 0 -2.1 1.8a1.4 0.8 140 1 0 2.1 -1.8M282.3 667.1a1.3 0.8 28 1 0 2.3 1.2a1.3 0.8 28 1 0 -2.3 -1.2M275.0 668.3a1.0 0.6 177 1 0 -2.1 0.1a1.0 0.6 177 1 0 2.1 -0.1M323.2 682.8a1.3 0.8 18 1 0 2.6 0.8a1.3 0.8 18 1 0 -2.6 -0.8M231.1 674.3a1.5 0.9 86 1 0 0.2 3.0a1.5 0.9 86 1 0 -0.2 -3.0M325.9 625.4a1.6 1.0 158 1 0 -3.0 1.2a1.6 1.0 158 1 0 3.0 -1.2M226.4 626.2a0.9 0.6 84 1 0 0.2 1.9a0.9 0.6 84 1 0 -0.2 -1.9M222.0 676.7a1.4 0.8 38 1 0 2.2 1.7a1.4 0.8 38 1 0 -2.2 -1.7M234.2 694.9a1.0 0.6 112 1 0 -0.7 1.8a1.0 0.6 112 1 0 0.7 -1.8M296.3 725.9a0.9 0.6 179 1 0 -1.9 0.0a0.9 0.6 179 1 0 1.9 -0.0M295.4 653.8a1.3 0.8 75 1 0 0.7 2.5a1.3 0.8 75 1 0 -0.7 -2.5M211.9 690.9a1.6 1.0 23 1 0 2.9 1.3a1.6 1.0 23 1 0 -2.9 -1.3M220.3 689.8a0.9 0.6 100 1 0 -0.3 1.8a0.9 0.6 100 1 0 0.3 -1.8M221.4 674.9a1.0 0.6 70 1 0 0.7 1.9a1.0 0.6 70 1 0 -0.7 -1.9M220.9 644.2a1.0 0.6 146 1 0 -1.7 1.1a1.0 0.6 146 1 0 1.7 -1.1M305.9 630.2a1.5 0.9 147 1 0 -2.5 1.6a1.5 0.9 147 1 0 2.5 -1.6M322.0 663.3a1.2 0.8 175 1 0 -2.5 0.2a1.2 0.8 175 1 0 2.5 -0.2M287.5 714.4a0.9 0.6 27 1 0 1.7 0.9a0.9 0.6 27 1 0 -1.7 -0.9M295.6 643.4a1.3 0.8 39 1 0 2.0 1.6a1.3 0.8 39 1 0 -2.0 -1.6M228.4 648.8a1.0 0.6 36 1 0 1.6 1.2a1.0 0.6 36 1 0 -1.6 -1.2M313.0 715.7a1.3 0.8 132 1 0 -1.7 1.9a1.3 0.8 132 1 0 1.7 -1.9M326.1 680.4a0.9 0.6 100 1 0 -0.3 1.8a0.9 0.6 100 1 0 0.3 -1.8M253.6 641.6a1.7 1.0 118 1 0 -1.6 2.9a1.7 1.0 118 1 0 1.6 -2.9M288.8 654.6a1.0 0.6 150 1 0 -1.7 1.0a1.0 0.6 150 1 0 1.7 -1.0M312.4 622.5a1.5 0.9 174 1 0 -3.0 0.3a1.5 0.9 174 1 0 3.0 -0.3M334.7 673.1a1.2 0.8 118 1 0 -1.2 2.1a1.2 0.8 118 1 0 1.2 -2.1M303.6 679.2a1.5 0.9 82 1 0 0.4 3.0a1.5 0.9 82 1 0 -0.4 -3.0M327.1 649.1a1.7 1.0 46 1 0 2.3 2.4a1.7 1.0 46 1 0 -2.3 -2.4M250.7 659.7a1.1 0.7 98 1 0 -0.3 2.2a1.1 0.7 98 1 0 0.3 -2.2M265.5 648.4a1.5 0.9 80 1 0 0.6 3.0a1.5 0.9 80 1 0 -0.6 -3.0M306.6 726.5a1.1 0.7 168 1 0 -2.2 0.5a1.1 0.7 168 1 0 2.2 -0.5M307.9 697.7a1.3 0.8 113 1 0 -1.0 2.4a1.3 0.8 113 1 0 1.0 -2.4M326.7 683.6a1.0 0.6 169 1 0 -1.9 0.4a1.0 0.6 169 1 0 1.9 -0.4M254.0 632.3a1.3 0.8 130 1 0 -1.6 2.0a1.3 0.8 130 1 0 1.6 -2.0M248.3 656.0a1.1 0.7 87 1 0 0.1 2.3a1.1 0.7 87 1 0 -0.1 -2.3M269.6 690.6a1.1 0.7 4 1 0 2.2 0.1a1.1 0.7 4 1 0 -2.2 -0.1M275.1 694.0a1.5 0.9 107 1 0 -0.8 2.8a1.5 0.9 107 1 0 0.8 -2.8M263.9 723.8a1.3 0.8 138 1 0 -1.9 1.7a1.3 0.8 138 1 0 1.9 -1.7M279.9 711.2a1.1 0.7 51 1 0 1.4 1.7a1.1 0.7 51 1 0 -1.4 -1.7M270.1 676.8a1.3 0.8 9 1 0 2.6 0.4a1.3 0.8 9 1 0 -2.6 -0.4M325.7 717.7a1.5 0.9 97 1 0 -0.4 2.9a1.5 0.9 97 1 0 0.4 -2.9M256.1 625.3a1.3 0.8 148 1 0 -2.3 1.4a1.3 0.8 148 1 0 2.3 -1.4M286.9 689.5a1.1 0.7 175 1 0 -2.3 0.2a1.1 0.7 175 1 0 2.3 -0.2M281.5 702.5a1.6 1.0 124 1 0 -1.8 2.7a1.6 1.0 124 1 0 1.8 -2.7M211.1 711.0a1.2 0.7 7 1 0 2.3 0.3a1.2 0.7 7 1 0 -2.3 -0.3M253.7 711.2a1.3 0.8 160 1 0 -2.5 0.9a1.3 0.8 160 1 0 2.5 -0.9M277.5 695.6a1.2 0.7 5 1 0 2.4 0.2a1.2 0.7 5 1 0 -2.4 -0.2M264.7 622.4a1.1 0.7 56 1 0 1.3 1.9a1.1 0.7 56 1 0 -1.3 -1.9M223.0 638.5a1.4 0.9 67 1 0 1.1 2.6a1.4 0.9 67 1 0 -1.1 -2.6M318.0 654.1a1.5 0.9 142 1 0 -2.3 1.8a1.5 0.9 142 1 0 2.3 -1.8M221.2 640.7a1.0 0.6 158 1 0 -1.9 0.8a1.0 0.6 158 1 0 1.9 -0.8M289.1 685.3a1.5 0.9 145 1 0 -2.5 1.7a1.5 0.9 145 1 0 2.5 -1.7M313.4 632.4a1.6 1.0 130 1 0 -2.1 2.5a1.6 1.0 130 1 0 2.1 -2.5M291.6 729.8a1.3 0.8 15 1 0 2.5 0.7a1.3 0.8 15 1 0 -2.5 -0.7M331.3 652.1a1.1 0.7 62 1 0 1.1 2.0a1.1 0.7 62 1 0 -1.1 -2.0M255.3 667.1a1.1 0.7 91 1 0 -0.0 2.2a1.1 0.7 91 1 0 0.0 -2.2M271.0 725.8a1.1 0.7 63 1 0 1.0 2.0a1.1 0.7 63 1 0 -1.0 -2.0M326.6 699.9a1.6 1.0 143 1 0 -2.6 2.0a1.6 1.0 143 1 0 2.6 -2.0M332.4 653.3a1.5 0.9 0 1 0 3.0 0.0a1.5 0.9 0 1 0 -3.0 -0.0M293.7 662.7a1.5 0.9 163 1 0 -2.9 0.9a1.5 0.9 163 1 0 2.9 -0.9M280.3 688.5a1.1 0.6 75 1 0 0.5 2.0a1.1 0.6 75 1 0 -0.5 -2.0M244.9 701.7a1.3 0.8 89 1 0 0.0 2.6a1.3 0.8 89 1 0 -0.0 -2.6M290.5 727.2a1.0 0.6 21 1 0 1.8 0.7a1.0 0.6 21 1 0 -1.8 -0.7M306.5 641.8a1.3 0.8 102 1 0 -0.6 2.6a1.3 0.8 102 1 0 0.6 -2.6M293.0 691.3a1.4 0.9 72 1 0 0.9 2.6a1.4 0.9 72 1 0 -0.9 -2.6M327.4 714.8a1.5 0.9 82 1 0 0.4 2.9a1.5 0.9 82 1 0 -0.4 -2.9M243.1 726.1a1.4 0.8 1 1 0 2.7 0.0a1.4 0.8 1 1 0 -2.7 -0.0M306.0 723.4a1.3 0.8 97 1 0 -0.3 2.6a1.3 0.8 97 1 0 0.3 -2.6M284.8 705.2a1.4 0.9 67 1 0 1.1 2.6a1.4 0.9 67 1 0 -1.1 -2.6M238.8 626.6a1.0 0.6 14 1 0 2.0 0.5a1.0 0.6 14 1 0 -2.0 -0.5M260.5 632.2a1.4 0.9 141 1 0 -2.2 1.8a1.4 0.9 141 1 0 2.2 -1.8M256.1 637.1a1.6 1.0 75 1 0 0.8 3.1a1.6 1.0 75 1 0 -0.8 -3.1M314.3 697.2a1.6 1.0 69 1 0 1.1 2.9a1.6 1.0 69 1 0 -1.1 -2.9M273.9 657.1a1.4 0.9 162 1 0 -2.7 0.9a1.4 0.9 162 1 0 2.7 -0.9M214.2 624.2a1.5 0.9 85 1 0 0.2 3.0a1.5 0.9 85 1 0 -0.2 -3.0M262.2 679.3a1.4 0.9 25 1 0 2.5 1.1a1.4 0.9 25 1 0 -2.5 -1.1M258.7 659.2a1.4 0.8 38 1 0 2.2 1.7a1.4 0.8 38 1 0 -2.2 -1.7M314.4 678.9a1.3 0.8 109 1 0 -0.9 2.5a1.3 0.8 109 1 0 0.9 -2.5M296.9 699.4a1.7 1.0 2 1 0 3.3 0.1a1.7 1.0 2 1 0 -3.3 -0.1M271.4 622.3a1.5 0.9 130 1 0 -1.9 2.3a1.5 0.9 130 1 0 1.9 -2.3M252.8 687.9a1.5 0.9 7 1 0 2.9 0.4a1.5 0.9 7 1 0 -2.9 -0.4M293.8 710.7a1.6 1.0 85 1 0 0.3 3.2a1.6 1.0 85 1 0 -0.3 -3.2M259.3 617.9a1.2 0.7 16 1 0 2.2 0.6a1.2 0.7 16 1 0 -2.2 -0.6M234.6 644.3a1.4 0.9 16 1 0 2.7 0.8a1.4 0.9 16 1 0 -2.7 -0.8M321.0 725.5a1.3 0.8 64 1 0 1.2 2.3a1.3 0.8 64 1 0 -1.2 -2.3M275.6 687.3a1.2 0.8 131 1 0 -1.6 1.9a1.2 0.8 131 1 0 1.6 -1.9M208.1 654.7a1.4 0.9 2 1 0 2.9 0.1a1.4 0.9 2 1 0 -2.9 -0.1M332.7 683.7a1.4 0.8 124 1 0 -1.5 2.2a1.4 0.8 124 1 0 1.5 -2.2M332.7 636.1a1.2 0.7 103 1 0 -0.5 2.3a1.2 0.7 103 1 0 0.5 -2.3M267.0 642.4a1.2 0.7 141 1 0 -1.8 1.5a1.2 0.7 141 1 0 1.8 -1.5M240.5 718.0a1.1 0.6 3 1 0 2.1 0.1a1.1 0.6 3 1 0 -2.1 -0.1M325.9 695.2a1.0 0.6 36 1 0 1.6 1.2a1.0 0.6 36 1 0 -1.6 -1.2M295.4 715.3a1.6 1.0 180 1 0 -3.3 0.0a1.6 1.0 180 1 0 3.3 -0.0M304.9 626.7a1.3 0.8 142 1 0 -2.0 1.5a1.3 0.8 142 1 0 2.0 -1.5M274.3 620.3a1.3 0.8 2 1 0 2.6 0.1a1.3 0.8 2 1 0 -2.6 -0.1M291.2 649.3a1.0 0.6 174 1 0 -1.9 0.2a1.0 0.6 174 1 0 1.9 -0.2M318.4 726.6a1.6 1.0 16 1 0 3.0 0.9a1.6 1.0 16 1 0 -3.0 -0.9M286.0 667.3a1.3 0.8 79 1 0 0.5 2.6a1.3 0.8 79 1 0 -0.5 -2.6M326.4 705.3a1.3 0.8 85 1 0 0.2 2.5a1.3 0.8 85 1 0 -0.2 -2.5M230.9 681.2a1.4 0.9 155 1 0 -2.5 1.2a1.4 0.9 155 1 0 2.5 -1.2M285.8 670.6a1.6 1.0 177 1 0 -3.1 0.2a1.6 1.0 177 1 0 3.1 -0.2M274.7 694.7a1.1 0.7 145 1 0 -1.8 1.3a1.1 0.7 145 1 0 1.8 -1.3M289.0 650.3a1.1 0.7 138 1 0 -1.7 1.5a1.1 0.7 138 1 0 1.7 -1.5M331.3 697.5a1.4 0.8 95 1 0 -0.2 2.7a1.4 0.8 95 1 0 0.2 -2.7M281.0 648.9a1.3 0.8 4 1 0 2.5 0.2a1.3 0.8 4 1 0 -2.5 -0.2M244.1 672.2a1.1 0.7 38 1 0 1.7 1.3a1.1 0.7 38 1 0 -1.7 -1.3M334.0 661.3a1.0 0.6 135 1 0 -1.4 1.4a1.0 0.6 135 1 0 1.4 -1.4M218.0 697.2a1.5 0.9 79 1 0 0.6 3.0a1.5 0.9 79 1 0 -0.6 -3.0M210.1 674.8a1.1 0.7 108 1 0 -0.7 2.1a1.1 0.7 108 1 0 0.7 -2.1M298.3 640.3a1.0 0.6 20 1 0 1.9 0.7a1.0 0.6 20 1 0 -1.9 -0.7M213.8 664.4a1.0 0.6 141 1 0 -1.6 1.3a1.0 0.6 141 1 0 1.6 -1.3M242.4 655.9a1.6 1.0 40 1 0 2.4 2.0a1.6 1.0 40 1 0 -2.4 -2.0M315.4 630.2a1.6 1.0 119 1 0 -1.6 2.8a1.6 1.0 119 1 0 1.6 -2.8M207.4 664.7a1.2 0.7 5 1 0 2.3 0.2a1.2 0.7 5 1 0 -2.3 -0.2M221.7 670.5a1.5 0.9 37 1 0 2.4 1.8a1.5 0.9 37 1 0 -2.4 -1.8M256.4 626.1a1.3 0.8 100 1 0 -0.4 2.5a1.3 0.8 100 1 0 0.4 -2.5M301.6 704.2a1.2 0.7 45 1 0 1.7 1.7a1.2 0.7 45 1 0 -1.7 -1.7M300.2 729.9a1.4 0.9 99 1 0 -0.5 2.7a1.4 0.9 99 1 0 0.5 -2.7M249.4 667.6a1.3 0.8 57 1 0 1.4 2.2a1.3 0.8 57 1 0 -1.4 -2.2M242.9 655.3a1.0 0.6 5 1 0 1.9 0.2a1.0 0.6 5 1 0 -1.9 -0.2M319.9 658.2a1.1 0.7 173 1 0 -2.2 0.3a1.1 0.7 173 1 0 2.2 -0.3M253.7 721.1a1.4 0.9 80 1 0 0.5 2.8a1.4 0.9 80 1 0 -0.5 -2.8M306.3 662.5a0.9 0.6 36 1 0 1.5 1.1a0.9 0.6 36 1 0 -1.5 -1.1M319.6 683.9a1.7 1.0 141 1 0 -2.6 2.1a1.7 1.0 141 1 0 2.6 -2.1M318.2 686.6a1.4 0.8 20 1 0 2.6 0.9a1.4 0.8 20 1 0 -2.6 -0.9M268.3 629.4a1.2 0.7 3 1 0 2.4 0.1a1.2 0.7 3 1 0 -2.4 -0.1M256.6 720.4a1.6 1.0 179 1 0 -3.3 0.1a1.6 1.0 179 1 0 3.3 -0.1M248.1 716.6a1.2 0.7 69 1 0 0.9 2.2a1.2 0.7 69 1 0 -0.9 -2.2M282.0 621.7a1.0 0.6 121 1 0 -1.0 1.6a1.0 0.6 121 1 0 1.0 -1.6M281.5 705.0a1.4 0.9 11 1 0 2.8 0.5a1.4 0.9 11 1 0 -2.8 -0.5M273.5 657.8a1.2 0.7 141 1 0 -1.8 1.5a1.2 0.7 141 1 0 1.8 -1.5M231.1 664.6a1.5 1.0 66 1 0 1.3 2.8a1.5 1.0 66 1 0 -1.3 -2.8M234.6 663.4a1.3 0.8 140 1 0 -2.0 1.6a1.3 0.8 140 1 0 2.0 -1.6M250.0 633.7a1.3 0.8 63 1 0 1.2 2.4a1.3 0.8 63 1 0 -1.2 -2.4M307.7 733.5a1.3 0.8 96 1 0 -0.3 2.6a1.3 0.8 96 1 0 0.3 -2.6M303.9 671.2a1.5 0.9 46 1 0 2.0 2.1a1.5 0.9 46 1 0 -2.0 -2.1M315.2 643.2a1.0 0.6 155 1 0 -1.7 0.8a1.0 0.6 155 1 0 1.7 -0.8M232.8 661.5a1.3 0.8 163 1 0 -2.5 0.8a1.3 0.8 163 1 0 2.5 -0.8M251.4 644.8a1.3 0.8 84 1 0 0.3 2.7a1.3 0.8 84 1 0 -0.3 -2.7M282.8 721.9a1.5 0.9 22 1 0 2.7 1.1a1.5 0.9 22 1 0 -2.7 -1.1M332.1 687.7a1.5 0.9 128 1 0 -1.9 2.4a1.5 0.9 128 1 0 1.9 -2.4M321.1 653.5a1.6 1.0 82 1 0 0.5 3.1a1.6 1.0 82 1 0 -0.5 -3.1M228.8 670.1a1.2 0.8 174 1 0 -2.4 0.3a1.2 0.8 174 1 0 2.4 -0.3M262.8 665.9a1.5 0.9 86 1 0 0.2 3.0a1.5 0.9 86 1 0 -0.2 -3.0M220.7 670.0a1.7 1.0 77 1 0 0.8 3.2a1.7 1.0 77 1 0 -0.8 -3.2M316.3 650.7a1.7 1.0 57 1 0 1.8 2.8a1.7 1.0 57 1 0 -1.8 -2.8M207.5 699.5a1.1 0.7 3 1 0 2.3 0.1a1.1 0.7 3 1 0 -2.3 -0.1M290.8 696.0a1.1 0.7 115 1 0 -0.9 2.0a1.1 0.7 115 1 0 0.9 -2.0M258.0 716.9a1.3 0.8 50 1 0 1.7 2.0a1.3 0.8 50 1 0 -1.7 -2.0M280.3 717.4a1.5 0.9 145 1 0 -2.5 1.8a1.5 0.9 145 1 0 2.5 -1.8M251.4 703.7a1.0 0.6 161 1 0 -1.8 0.6a1.0 0.6 161 1 0 1.8 -0.6M300.1 670.6a1.4 0.9 69 1 0 1.0 2.6a1.4 0.9 69 1 0 -1.0 -2.6M312.6 722.8a1.6 1.0 143 1 0 -2.6 1.9a1.6 1.0 143 1 0 2.6 -1.9M319.2 676.2a1.6 1.0 125 1 0 -1.8 2.7a1.6 1.0 125 1 0 1.8 -2.7M282.6 624.5a1.4 0.9 72 1 0 0.9 2.7a1.4 0.9 72 1 0 -0.9 -2.7M211.0 630.0a1.4 0.9 152 1 0 -2.5 1.4a1.4 0.9 152 1 0 2.5 -1.4M209.7 708.1a1.2 0.7 110 1 0 -0.8 2.3a1.2 0.7 110 1 0 0.8 -2.3M289.0 628.0a1.4 0.9 25 1 0 2.6 1.2a1.4 0.9 25 1 0 -2.6 -1.2M294.8 689.1a1.1 0.7 79 1 0 0.4 2.1a1.1 0.7 79 1 0 -0.4 -2.1M222.9 726.4a1.2 0.8 52 1 0 1.5 2.0a1.2 0.8 52 1 0 -1.5 -2.0M272.3 617.1a1.1 0.7 58 1 0 1.1 1.8a1.1 0.7 58 1 0 -1.1 -1.8M219.5 726.1a1.1 0.7 31 1 0 1.9 1.2a1.1 0.7 31 1 0 -1.9 -1.2M243.1 709.3a1.4 0.9 156 1 0 -2.6 1.1a1.4 0.9 156 1 0 2.6 -1.1M287.1 687.9a1.4 0.9 5 1 0 2.8 0.3a1.4 0.9 5 1 0 -2.8 -0.3M331.0 720.8a1.0 0.6 164 1 0 -1.9 0.5a1.0 0.6 164 1 0 1.9 -0.5M298.2 733.3a1.1 0.7 44 1 0 1.6 1.6a1.1 0.7 44 1 0 -1.6 -1.6M331.9 645.4a1.4 0.9 28 1 0 2.6 1.3a1.4 0.9 28 1 0 -2.6 -1.3M247.9 689.8a1.1 0.7 46 1 0 1.5 1.6a1.1 0.7 46 1 0 -1.5 -1.6M283.6 667.5a1.3 0.8 120 1 0 -1.4 2.3a1.3 0.8 120 1 0 1.4 -2.3M237.3 641.5a1.0 0.6 14 1 0 1.9 0.5a1.0 0.6 14 1 0 -1.9 -0.5M297.8 656.4a0.9 0.6 1 1 0 1.9 0.0a0.9 0.6 1 1 0 -1.9 -0.0M316.2 690.2a1.5 0.9 38 1 0 2.4 1.9a1.5 0.9 38 1 0 -2.4 -1.9M321.0 623.2a1.4 0.9 33 1 0 2.4 1.6a1.4 0.9 33 1 0 -2.4 -1.6M306.9 647.6a1.2 0.7 87 1 0 0.1 2.3a1.2 0.7 87 1 0 -0.1 -2.3M256.7 714.4a1.4 0.9 104 1 0 -0.7 2.7a1.4 0.9 104 1 0 0.7 -2.7M324.5 724.3a0.9 0.6 121 1 0 -1.0 1.6a0.9 0.6 121 1 0 1.0 -1.6M254.6 730.6a0.9 0.6 86 1 0 0.1 1.9a0.9 0.6 86 1 0 -0.1 -1.9M294.4 681.7a1.3 0.8 131 1 0 -1.8 2.0a1.3 0.8 131 1 0 1.8 -2.0M242.3 661.2a1.2 0.8 24 1 0 2.3 1.0a1.2 0.8 24 1 0 -2.3 -1.0M271.2 632.9a1.4 0.9 9 1 0 2.8 0.4a1.4 0.9 9 1 0 -2.8 -0.4M289.2 707.4a1.0 0.6 84 1 0 0.2 1.9a1.0 0.6 84 1 0 -0.2 -1.9M275.2 652.0a1.1 0.7 163 1 0 -2.1 0.6a1.1 0.7 163 1 0 2.1 -0.6M310.6 692.1a1.4 0.8 53 1 0 1.6 2.2a1.4 0.8 53 1 0 -1.6 -2.2M216.2 648.8a0.9 0.6 127 1 0 -1.1 1.5a0.9 0.6 127 1 0 1.1 -1.5M280.5 723.6a1.5 0.9 173 1 0 -3.0 0.3a1.5 0.9 173 1 0 3.0 -0.3M313.2 653.7a1.1 0.7 65 1 0 1.0 2.0a1.1 0.7 65 1 0 -1.0 -2.0M214.2 627.3a1.1 0.7 10 1 0 2.1 0.4a1.1 0.7 10 1 0 -2.1 -0.4M249.7 660.4a1.6 1.0 87 1 0 0.2 3.1a1.6 1.0 87 1 0 -0.2 -3.1M255.2 671.9a1.3 0.8 145 1 0 -2.1 1.5a1.3 0.8 145 1 0 2.1 -1.5M301.4 731.0a1.1 0.7 161 1 0 -2.1 0.7a1.1 0.7 161 1 0 2.1 -0.7M314.7 725.6a1.0 0.6 42 1 0 1.5 1.4a1.0 0.6 42 1 0 -1.5 -1.4M299.7 694.5a1.7 1.0 37 1 0 2.7 2.0a1.7 1.0 37 1 0 -2.7 -2.0M267.0 731.2a1.5 0.9 90 1 0 -0.0 2.9a1.5 0.9 90 1 0 0.0 -2.9M224.5 711.6a1.1 0.7 80 1 0 0.4 2.1a1.1 0.7 80 1 0 -0.4 -2.1M263.4 694.5a1.5 0.9 160 1 0 -2.8 1.0a1.5 0.9 160 1 0 2.8 -1.0M324.9 706.0a1.0 0.6 67 1 0 0.8 1.9a1.0 0.6 67 1 0 -0.8 -1.9M325.5 668.5a1.4 0.9 172 1 0 -2.8 0.4a1.4 0.9 172 1 0 2.8 -0.4M307.9 685.6a1.3 0.8 36 1 0 2.1 1.5a1.3 0.8 36 1 0 -2.1 -1.5M292.1 629.1a1.5 0.9 67 1 0 1.2 2.8a1.5 0.9 67 1 0 -1.2 -2.8M233.9 618.3a1.2 0.8 40 1 0 1.9 1.6a1.2 0.8 40 1 0 -1.9 -1.6M242.5 678.1a1.2 0.8 49 1 0 1.7 1.9a1.2 0.8 49 1 0 -1.7 -1.9M326.3 714.3a1.3 0.8 137 1 0 -1.8 1.7a1.3 0.8 137 1 0 1.8 -1.7M277.5 710.9a1.2 0.7 37 1 0 1.9 1.4a1.2 0.7 37 1 0 -1.9 -1.4M223.9 669.9a1.4 0.9 56 1 0 1.6 2.4a1.4 0.9 56 1 0 -1.6 -2.4M254.2 692.8a1.4 0.8 104 1 0 -0.6 2.7a1.4 0.8 104 1 0 0.6 -2.7M261.1 666.2a1.4 0.9 23 1 0 2.6 1.1a1.4 0.9 23 1 0 -2.6 -1.1M249.7 650.6a1.2 0.8 162 1 0 -2.3 0.8a1.2 0.8 162 1 0 2.3 -0.8M220.5 689.5a1.2 0.7 72 1 0 0.7 2.3a1.2 0.7 72 1 0 -0.7 -2.3M286.1 676.3a1.1 0.7 161 1 0 -2.2 0.7a1.1 0.7 161 1 0 2.2 -0.7M311.3 716.1a0.9 0.6 46 1 0 1.3 1.3a0.9 0.6 46 1 0 -1.3 -1.3M228.2 679.5a1.3 0.8 156 1 0 -2.3 1.0a1.3 0.8 156 1 0 2.3 -1.0M239.1 685.7a1.6 1.0 142 1 0 -2.6 2.0a1.6 1.0 142 1 0 2.6 -2.0M278.9 638.9a1.3 0.8 100 1 0 -0.4 2.6a1.3 0.8 100 1 0 0.4 -2.6M235.2 628.9a1.1 0.7 157 1 0 -2.1 0.9a1.1 0.7 157 1 0 2.1 -0.9M317.8 684.1a1.6 1.0 0 1 0 3.2 0.0a1.6 1.0 0 1 0 -3.2 -0.0M334.1 638.2a0.9 0.6 125 1 0 -1.1 1.5a0.9 0.6 125 1 0 1.1 -1.5M322.9 632.7a1.5 0.9 111 1 0 -1.1 2.8a1.5 0.9 111 1 0 1.1 -2.8M281.5 720.4a1.7 1.0 32 1 0 2.8 1.8a1.7 1.0 32 1 0 -2.8 -1.8M289.9 630.5a1.1 0.7 7 1 0 2.1 0.3a1.1 0.7 7 1 0 -2.1 -0.3"/>
<rect x="207" y="617.6" width="129" height="117.39999999999998" fill="#000" filter="url(#fWhite)" clip-path="url(#c1p40)"/>
<polygon points="220.7,694.7 219.6,695.6 218.0,696.2 216.5,697.2 213.6,697.6 210.9,696.6 208.0,695.9 209.6,694.3 207.4,693.3 206.7,691.9 209.7,691.6 212.2,691.7 214.3,691.4 216.7,691.7 219.2,692.4 223.3,693.3" fill="#f6f1ea" stroke="none" stroke-width="0" stroke-linejoin="round" />
<polygon points="275.4,664.4 275.0,666.1 274.7,667.6 272.6,669.7 271.1,671.1 269.7,673.5 267.6,675.0 266.8,674.3 266.9,673.2 266.0,673.1 265.9,672.1 267.0,670.4 268.6,668.6 270.2,667.4 271.3,667.2 273.5,665.2" fill="#f6f1ea" stroke="none" stroke-width="0" stroke-linejoin="round" />
<polygon points="229.8,674.0 229.1,674.9 229.0,676.0 228.0,676.5 227.0,677.3 225.5,677.5 225.8,675.2 224.8,674.9 224.1,674.0 223.7,672.6 224.7,671.7 225.8,671.1 227.0,671.0 227.8,672.0 229.6,671.4 229.6,672.9" fill="#f6f1ea" stroke="none" stroke-width="0" stroke-linejoin="round" />
<polygon points="267.9,689.0 269.3,690.4 268.1,691.1 267.2,691.8 266.0,692.1 264.9,691.7 264.2,690.8 262.8,690.3 262.4,689.0 263.0,687.8 264.1,687.1 265.0,686.6 266.0,685.7 267.3,685.8 268.7,686.3 268.0,688.2" fill="#f6f1ea" stroke="none" stroke-width="0" stroke-linejoin="round" />
<polygon points="290.8,682.0 289.6,682.5 289.1,683.1 288.1,683.3 287.0,683.5 285.5,683.8 284.6,683.2 284.3,682.6 284.0,682.0 284.6,681.5 284.8,680.9 285.6,680.4 287.0,680.3 287.8,681.0 288.6,681.2 290.0,681.4" fill="#f6f1ea" stroke="none" stroke-width="0" stroke-linejoin="round" />
<polygon points="232.0,719.0 232.5,720.1 231.4,720.8 230.8,722.2 229.0,722.2 227.6,721.6 226.2,721.1 225.3,720.1 223.8,719.0 226.3,718.1 225.8,716.6 227.7,716.7 229.0,716.0 231.0,715.4 231.8,716.9 231.6,718.2" fill="#f6f1ea" stroke="none" stroke-width="0" stroke-linejoin="round" />
<polygon points="243.3,715.0 243.0,716.3 242.1,716.7 241.8,717.7 241.0,717.5 240.2,718.0 239.5,717.3 239.1,716.2 239.5,715.0 239.3,714.0 239.2,712.3 240.2,712.1 241.0,711.3 241.7,712.6 242.2,713.2 242.6,714.0" fill="#f6f1ea" stroke="none" stroke-width="0" stroke-linejoin="round" />
<polygon points="263.0,707.0 262.3,707.8 261.4,708.1 261.2,709.2 260.0,709.3 259.1,708.7 257.9,708.7 258.2,707.6 258.2,707.0 257.9,706.3 257.8,705.2 259.1,705.2 260.0,705.5 260.8,705.5 261.7,705.6 262.8,706.1" fill="#f6f1ea" stroke="none" stroke-width="0" stroke-linejoin="round" />
<polygon points="295.8,710.0 296.3,711.0 295.4,711.4 294.7,711.6 294.0,711.8 293.2,712.0 292.3,711.7 292.4,710.7 291.8,710.0 292.4,709.3 293.0,709.0 293.3,708.2 294.0,707.5 294.7,708.2 295.3,708.7 296.1,709.1" fill="#f6f1ea" stroke="none" stroke-width="0" stroke-linejoin="round" />
<polygon points="292.3,654.0 292.3,654.7 291.1,654.8 290.6,655.2 290.0,655.8 289.2,655.5 288.5,655.2 288.3,654.5 288.6,654.0 288.3,653.5 288.6,652.9 289.1,652.3 290.0,652.4 290.9,652.4 291.1,653.2 292.0,653.4" fill="#f6f1ea" stroke="none" stroke-width="0" stroke-linejoin="round" />
<polygon points="255.0,651.0 255.5,651.8 254.5,652.1 253.8,652.4 253.0,652.4 252.2,652.4 251.4,652.2 250.9,651.7 251.3,651.0 251.5,650.5 251.3,649.7 252.3,649.7 253.0,649.3 253.9,649.3 253.9,650.3 255.0,650.4" fill="#f6f1ea" stroke="none" stroke-width="0" stroke-linejoin="round" />
<polygon points="219.1,720.0 218.6,721.5 218.4,723.2 217.1,723.7 216.0,724.9 214.7,724.2 213.8,722.9 213.7,721.3 212.5,720.0 212.7,718.2 213.7,716.9 215.0,716.7 216.0,715.9 217.1,716.6 218.1,717.2 219.2,718.2" fill="#f6f1ea" stroke="none" stroke-width="0" stroke-linejoin="round" />
</g>
</g>
<g filter="url(#fSoft)">
<clipPath id="c2b40"><rect x="397" y="618.6" width="125.29999999999995" height="117.39999999999998"/></clipPath>
<rect x="397.00" y="618.60" width="125.30" height="117.40" fill="#c9bbb3" />
<g clip-path="url(#c2b40)">
<rect x="397" y="618.6" width="125.29999999999995" height="117.39999999999998" fill="#000" filter="url(#fStroma)" clip-path="url(#c2b40)"/>
<path fill="#5565a8" opacity="0.8" d="M397.9 630.0a1.9 1.0 71 1 0 1.2 3.6a1.9 1.0 71 1 0 -1.2 -3.6M412.9 630.5a2.0 1.0 42 1 0 2.9 2.6a2.0 1.0 42 1 0 -2.9 -2.6M416.1 704.4a1.3 0.7 119 1 0 -1.3 2.3a1.3 0.7 119 1 0 1.3 -2.3M463.5 669.0a2.2 1.2 74 1 0 1.2 4.2a2.2 1.2 74 1 0 -1.2 -4.2M410.2 620.7a1.6 0.8 169 1 0 -3.1 0.6a1.6 0.8 169 1 0 3.1 -0.6M421.0 655.4a2.2 1.1 66 1 0 1.8 3.9a2.2 1.1 66 1 0 -1.8 -3.9M423.8 642.4a1.7 0.9 105 1 0 -0.9 3.4a1.7 0.9 105 1 0 0.9 -3.4M515.9 715.8a1.4 0.7 64 1 0 1.2 2.5a1.4 0.7 64 1 0 -1.2 -2.5M499.9 734.5a1.9 1.0 5 1 0 3.9 0.4a1.9 1.0 5 1 0 -3.9 -0.4M504.3 693.8a2.0 1.1 39 1 0 3.1 2.5a2.0 1.1 39 1 0 -3.1 -2.5M489.1 640.1a1.4 0.7 115 1 0 -1.2 2.6a1.4 0.7 115 1 0 1.2 -2.6M401.4 656.7a1.6 0.8 60 1 0 1.6 2.8a1.6 0.8 60 1 0 -1.6 -2.8M480.2 716.5a2.2 1.2 173 1 0 -4.3 0.5a2.2 1.2 173 1 0 4.3 -0.5M520.7 710.2a1.4 0.7 55 1 0 1.6 2.2a1.4 0.7 55 1 0 -1.6 -2.2M475.8 681.6a1.3 0.7 121 1 0 -1.3 2.2a1.3 0.7 121 1 0 1.3 -2.2M421.8 724.9a1.9 1.0 108 1 0 -1.2 3.6a1.9 1.0 108 1 0 1.2 -3.6M410.8 664.9a1.9 1.0 164 1 0 -3.6 1.0a1.9 1.0 164 1 0 3.6 -1.0M521.0 639.7a2.0 1.1 82 1 0 0.6 4.0a2.0 1.1 82 1 0 -0.6 -4.0M453.0 709.9a1.3 0.7 101 1 0 -0.5 2.6a1.3 0.7 101 1 0 0.5 -2.6M408.1 733.5a1.4 0.7 21 1 0 2.6 1.0a1.4 0.7 21 1 0 -2.6 -1.0M440.5 701.6a1.7 0.9 154 1 0 -3.0 1.5a1.7 0.9 154 1 0 3.0 -1.5M458.4 710.0a1.6 0.8 50 1 0 2.0 2.4a1.6 0.8 50 1 0 -2.0 -2.4M472.5 693.1a1.3 0.7 7 1 0 2.6 0.3a1.3 0.7 7 1 0 -2.6 -0.3M415.5 701.9a2.2 1.2 125 1 0 -2.5 3.6a2.2 1.2 125 1 0 2.5 -3.6M494.8 647.0a2.2 1.2 138 1 0 -3.3 2.9a2.2 1.2 138 1 0 3.3 -2.9M440.1 618.5a1.5 0.8 68 1 0 1.1 2.7a1.5 0.8 68 1 0 -1.1 -2.7M417.2 623.1a2.1 1.1 22 1 0 3.8 1.6a2.1 1.1 22 1 0 -3.8 -1.6M402.2 689.8a1.4 0.7 37 1 0 2.2 1.7a1.4 0.7 37 1 0 -2.2 -1.7M498.5 652.8a1.7 0.9 33 1 0 2.8 1.8a1.7 0.9 33 1 0 -2.8 -1.8M485.5 679.5a1.6 0.8 155 1 0 -2.9 1.4a1.6 0.8 155 1 0 2.9 -1.4M462.4 700.9a1.9 1.0 83 1 0 0.5 3.8a1.9 1.0 83 1 0 -0.5 -3.8M453.7 633.5a2.0 1.1 22 1 0 3.7 1.5a2.0 1.1 22 1 0 -3.7 -1.5M491.3 727.8a1.8 0.9 124 1 0 -2.0 2.9a1.8 0.9 124 1 0 2.0 -2.9M416.3 718.2a1.6 0.9 21 1 0 3.0 1.2a1.6 0.9 21 1 0 -3.0 -1.2M413.7 662.0a1.6 0.9 55 1 0 1.8 2.7a1.6 0.9 55 1 0 -1.8 -2.7M484.7 680.8a2.0 1.1 44 1 0 2.9 2.7a2.0 1.1 44 1 0 -2.9 -2.7M487.3 715.5a1.8 1.0 6 1 0 3.6 0.4a1.8 1.0 6 1 0 -3.6 -0.4M507.6 647.8a2.0 1.1 36 1 0 3.3 2.4a2.0 1.1 36 1 0 -3.3 -2.4M443.9 664.9a1.6 0.8 147 1 0 -2.7 1.7a1.6 0.8 147 1 0 2.7 -1.7M421.0 642.1a1.9 1.0 62 1 0 1.8 3.4a1.9 1.0 62 1 0 -1.8 -3.4M441.7 708.8a1.4 0.8 12 1 0 2.8 0.6a1.4 0.8 12 1 0 -2.8 -0.6M475.3 672.8a2.1 1.1 90 1 0 0.0 4.3a2.1 1.1 90 1 0 -0.0 -4.3M430.1 639.7a1.7 0.9 6 1 0 3.3 0.4a1.7 0.9 6 1 0 -3.3 -0.4M433.0 674.2a1.2 0.6 1 1 0 2.4 0.0a1.2 0.6 1 1 0 -2.4 -0.0M443.3 705.8a2.1 1.1 54 1 0 2.5 3.4a2.1 1.1 54 1 0 -2.5 -3.4M470.7 665.0a1.4 0.8 140 1 0 -2.2 1.8a1.4 0.8 140 1 0 2.2 -1.8M473.0 716.5a1.5 0.8 97 1 0 -0.4 3.0a1.5 0.8 97 1 0 0.4 -3.0M407.7 685.1a1.6 0.8 34 1 0 2.6 1.7a1.6 0.8 34 1 0 -2.6 -1.7M465.9 727.6a1.7 0.9 121 1 0 -1.8 2.9a1.7 0.9 121 1 0 1.8 -2.9M503.9 653.1a1.9 1.0 70 1 0 1.3 3.5a1.9 1.0 70 1 0 -1.3 -3.5M465.9 642.7a2.0 1.1 74 1 0 1.1 3.9a2.0 1.1 74 1 0 -1.1 -3.9M425.2 701.1a2.2 1.1 9 1 0 4.3 0.7a2.2 1.1 9 1 0 -4.3 -0.7M484.7 656.5a2.0 1.1 177 1 0 -4.0 0.2a2.0 1.1 177 1 0 4.0 -0.2M404.7 645.5a2.2 1.2 89 1 0 0.1 4.4a2.2 1.2 89 1 0 -0.1 -4.4M413.9 623.2a1.2 0.7 56 1 0 1.4 2.1a1.2 0.7 56 1 0 -1.4 -2.1M448.0 680.5a1.3 0.7 79 1 0 0.5 2.6a1.3 0.7 79 1 0 -0.5 -2.6M399.6 711.2a1.7 0.9 79 1 0 0.6 3.3a1.7 0.9 79 1 0 -0.6 -3.3M458.8 698.5a2.0 1.1 162 1 0 -3.9 1.2a2.0 1.1 162 1 0 3.9 -1.2M487.0 657.7a1.3 0.7 30 1 0 2.2 1.3a1.3 0.7 30 1 0 -2.2 -1.3M505.1 623.2a2.1 1.1 102 1 0 -0.9 4.1a2.1 1.1 102 1 0 0.9 -4.1M436.8 662.2a2.2 1.1 75 1 0 1.1 4.2a2.2 1.1 75 1 0 -1.1 -4.2M480.8 716.8a1.9 1.0 7 1 0 3.8 0.5a1.9 1.0 7 1 0 -3.8 -0.5M455.1 664.7a1.9 1.0 147 1 0 -3.3 2.1a1.9 1.0 147 1 0 3.3 -2.1M512.6 704.8a1.6 0.9 164 1 0 -3.1 0.9a1.6 0.9 164 1 0 3.1 -0.9M466.5 709.4a1.3 0.7 82 1 0 0.4 2.6a1.3 0.7 82 1 0 -0.4 -2.6M471.6 720.4a1.3 0.7 157 1 0 -2.4 1.0a1.3 0.7 157 1 0 2.4 -1.0M443.7 643.5a2.2 1.1 61 1 0 2.1 3.8a2.2 1.1 61 1 0 -2.1 -3.8M448.7 654.1a1.6 0.9 49 1 0 2.1 2.5a1.6 0.9 49 1 0 -2.1 -2.5M479.7 658.0a1.4 0.8 34 1 0 2.4 1.6a1.4 0.8 34 1 0 -2.4 -1.6M427.9 724.0a2.0 1.0 30 1 0 3.4 2.0a2.0 1.0 30 1 0 -3.4 -2.0M409.2 709.4a2.0 1.1 48 1 0 2.7 2.9a2.0 1.1 48 1 0 -2.7 -2.9M449.2 627.2a2.0 1.1 17 1 0 3.8 1.2a2.0 1.1 17 1 0 -3.8 -1.2M464.1 674.0a1.9 1.0 63 1 0 1.7 3.4a1.9 1.0 63 1 0 -1.7 -3.4M457.9 624.4a1.5 0.8 108 1 0 -0.9 2.9a1.5 0.8 108 1 0 0.9 -2.9M504.1 682.2a1.3 0.7 139 1 0 -2.0 1.7a1.3 0.7 139 1 0 2.0 -1.7M487.5 689.3a2.1 1.1 153 1 0 -3.7 1.9a2.1 1.1 153 1 0 3.7 -1.9M467.2 687.1a1.5 0.8 138 1 0 -2.2 1.9a1.5 0.8 138 1 0 2.2 -1.9M465.8 709.3a1.7 0.9 107 1 0 -1.0 3.3a1.7 0.9 107 1 0 1.0 -3.3M503.4 732.2a1.3 0.7 47 1 0 1.7 1.8a1.3 0.7 47 1 0 -1.7 -1.8M475.5 635.9a1.7 0.9 175 1 0 -3.3 0.3a1.7 0.9 175 1 0 3.3 -0.3M465.2 714.0a1.3 0.7 157 1 0 -2.5 1.1a1.3 0.7 157 1 0 2.5 -1.1M453.6 638.5a1.3 0.7 83 1 0 0.3 2.6a1.3 0.7 83 1 0 -0.3 -2.6M506.2 658.4a2.1 1.1 70 1 0 1.4 4.0a2.1 1.1 70 1 0 -1.4 -4.0M500.2 656.2a1.9 1.0 90 1 0 0.0 3.7a1.9 1.0 90 1 0 -0.0 -3.7M421.8 634.0a1.4 0.7 154 1 0 -2.4 1.2a1.4 0.7 154 1 0 2.4 -1.2M486.1 703.8a1.5 0.8 106 1 0 -0.9 3.0a1.5 0.8 106 1 0 0.9 -3.0M502.4 710.5a2.1 1.1 13 1 0 4.1 0.9a2.1 1.1 13 1 0 -4.1 -0.9M475.7 651.9a1.3 0.7 30 1 0 2.2 1.3a1.3 0.7 30 1 0 -2.2 -1.3M498.0 716.9a1.4 0.7 63 1 0 1.3 2.4a1.4 0.7 63 1 0 -1.3 -2.4M405.4 666.2a1.2 0.7 54 1 0 1.5 2.0a1.2 0.7 54 1 0 -1.5 -2.0M432.7 714.7a1.6 0.8 12 1 0 3.1 0.7a1.6 0.8 12 1 0 -3.1 -0.7M460.2 637.5a1.3 0.7 7 1 0 2.5 0.3a1.3 0.7 7 1 0 -2.5 -0.3M416.8 732.2a1.9 1.0 155 1 0 -3.5 1.6a1.9 1.0 155 1 0 3.5 -1.6M508.2 655.3a2.1 1.1 45 1 0 2.9 2.9a2.1 1.1 45 1 0 -2.9 -2.9M472.3 725.5a1.6 0.9 65 1 0 1.4 2.9a1.6 0.9 65 1 0 -1.4 -2.9M485.7 721.5a1.5 0.8 30 1 0 2.5 1.5a1.5 0.8 30 1 0 -2.5 -1.5M400.4 683.9a1.8 0.9 166 1 0 -3.4 0.8a1.8 0.9 166 1 0 3.4 -0.8M416.2 698.6a1.3 0.7 117 1 0 -1.2 2.3a1.3 0.7 117 1 0 1.2 -2.3M511.5 694.5a1.5 0.8 88 1 0 0.1 3.1a1.5 0.8 88 1 0 -0.1 -3.1M416.5 672.2a1.4 0.8 66 1 0 1.2 2.6a1.4 0.8 66 1 0 -1.2 -2.6M480.1 696.0a2.2 1.2 172 1 0 -4.3 0.6a2.2 1.2 172 1 0 4.3 -0.6M454.8 701.2a1.6 0.9 68 1 0 1.2 3.0a1.6 0.9 68 1 0 -1.2 -3.0M466.4 733.6a1.7 0.9 8 1 0 3.3 0.4a1.7 0.9 8 1 0 -3.3 -0.4M440.8 712.8a1.7 0.9 171 1 0 -3.3 0.5a1.7 0.9 171 1 0 3.3 -0.5M407.5 686.6a1.9 1.0 106 1 0 -1.0 3.6a1.9 1.0 106 1 0 1.0 -3.6M494.6 671.0a2.0 1.0 99 1 0 -0.6 3.9a2.0 1.0 99 1 0 0.6 -3.9M401.6 645.0a2.2 1.2 124 1 0 -2.4 3.6a2.2 1.2 124 1 0 2.4 -3.6M516.7 651.6a1.5 0.8 175 1 0 -2.9 0.3a1.5 0.8 175 1 0 2.9 -0.3M454.2 635.7a1.6 0.8 108 1 0 -1.0 3.0a1.6 0.8 108 1 0 1.0 -3.0M481.1 730.2a1.9 1.0 23 1 0 3.4 1.5a1.9 1.0 23 1 0 -3.4 -1.5M470.2 650.6a2.1 1.1 6 1 0 4.3 0.5a2.1 1.1 6 1 0 -4.3 -0.5M482.1 691.3a2.1 1.1 18 1 0 4.0 1.3a2.1 1.1 18 1 0 -4.0 -1.3M447.3 671.6a1.6 0.9 100 1 0 -0.6 3.2a1.6 0.9 100 1 0 0.6 -3.2M517.5 671.8a2.0 1.0 122 1 0 -2.1 3.4a2.0 1.0 122 1 0 2.1 -3.4M512.8 636.7a2.2 1.1 61 1 0 2.1 3.8a2.2 1.1 61 1 0 -2.1 -3.8M474.2 661.9a1.3 0.7 159 1 0 -2.4 1.0a1.3 0.7 159 1 0 2.4 -1.0M429.6 625.3a1.7 0.9 121 1 0 -1.7 2.9a1.7 0.9 121 1 0 1.7 -2.9M433.8 668.8a1.9 1.0 46 1 0 2.7 2.7a1.9 1.0 46 1 0 -2.7 -2.7M493.3 662.9a1.2 0.7 156 1 0 -2.3 1.0a1.2 0.7 156 1 0 2.3 -1.0M466.2 636.0a1.8 0.9 21 1 0 3.3 1.3a1.8 0.9 21 1 0 -3.3 -1.3M406.5 626.7a1.6 0.8 24 1 0 2.9 1.3a1.6 0.8 24 1 0 -2.9 -1.3M499.2 651.8a2.0 1.0 22 1 0 3.7 1.5a2.0 1.0 22 1 0 -3.7 -1.5M498.0 735.3a1.4 0.7 9 1 0 2.7 0.4a1.4 0.7 9 1 0 -2.7 -0.4M451.6 732.9a2.1 1.1 97 1 0 -0.5 4.1a2.1 1.1 97 1 0 0.5 -4.1M425.9 672.7a1.4 0.8 124 1 0 -1.6 2.4a1.4 0.8 124 1 0 1.6 -2.4M464.0 714.4a1.9 1.0 147 1 0 -3.2 2.1a1.9 1.0 147 1 0 3.2 -2.1M501.3 734.2a1.4 0.8 109 1 0 -0.9 2.7a1.4 0.8 109 1 0 0.9 -2.7M426.5 624.8a1.8 0.9 165 1 0 -3.4 0.9a1.8 0.9 165 1 0 3.4 -0.9M473.4 719.7a1.6 0.8 124 1 0 -1.8 2.6a1.6 0.8 124 1 0 1.8 -2.6M469.3 627.1a1.5 0.8 46 1 0 2.2 2.2a1.5 0.8 46 1 0 -2.2 -2.2M497.1 694.7a1.6 0.8 109 1 0 -1.0 3.0a1.6 0.8 109 1 0 1.0 -3.0M439.5 663.5a1.6 0.8 9 1 0 3.1 0.5a1.6 0.8 9 1 0 -3.1 -0.5M509.7 713.1a1.7 0.9 45 1 0 2.4 2.4a1.7 0.9 45 1 0 -2.4 -2.4M489.5 640.5a1.8 0.9 64 1 0 1.6 3.2a1.8 0.9 64 1 0 -1.6 -3.2M418.4 725.2a2.1 1.1 3 1 0 4.2 0.2a2.1 1.1 3 1 0 -4.2 -0.2M479.6 663.6a2.1 1.1 52 1 0 2.6 3.3a2.1 1.1 52 1 0 -2.6 -3.3M485.5 642.2a1.3 0.7 57 1 0 1.4 2.2a1.3 0.7 57 1 0 -1.4 -2.2M474.7 666.7a1.9 1.0 57 1 0 2.1 3.2a1.9 1.0 57 1 0 -2.1 -3.2M430.5 634.0a2.1 1.1 143 1 0 -3.4 2.5a2.1 1.1 143 1 0 3.4 -2.5M499.5 682.6a2.1 1.1 129 1 0 -2.6 3.2a2.1 1.1 129 1 0 2.6 -3.2M401.0 652.0a1.9 1.0 64 1 0 1.7 3.5a1.9 1.0 64 1 0 -1.7 -3.5M437.6 706.7a2.2 1.1 46 1 0 3.0 3.1a2.2 1.1 46 1 0 -3.0 -3.1M452.3 686.1a2.0 1.1 113 1 0 -1.6 3.7a2.0 1.1 113 1 0 1.6 -3.7M467.3 641.7a1.8 0.9 79 1 0 0.7 3.5a1.8 0.9 79 1 0 -0.7 -3.5M404.9 714.2a2.1 1.1 55 1 0 2.4 3.5a2.1 1.1 55 1 0 -2.4 -3.5M444.6 729.0a1.6 0.8 130 1 0 -2.0 2.4a1.6 0.8 130 1 0 2.0 -2.4M483.2 618.2a1.8 0.9 15 1 0 3.4 0.9a1.8 0.9 15 1 0 -3.4 -0.9M436.5 665.0a1.7 0.9 127 1 0 -2.0 2.7a1.7 0.9 127 1 0 2.0 -2.7M474.8 705.1a1.3 0.7 150 1 0 -2.3 1.3a1.3 0.7 150 1 0 2.3 -1.3M499.9 705.0a1.3 0.7 41 1 0 1.9 1.7a1.3 0.7 41 1 0 -1.9 -1.7M421.7 626.9a2.2 1.2 103 1 0 -1.0 4.3a2.2 1.2 103 1 0 1.0 -4.3M456.0 649.9a2.2 1.2 31 1 0 3.8 2.2a2.2 1.2 31 1 0 -3.8 -2.2M467.0 646.1a1.6 0.9 164 1 0 -3.1 0.9a1.6 0.9 164 1 0 3.1 -0.9M519.4 677.6a1.4 0.7 46 1 0 1.9 2.0a1.4 0.7 46 1 0 -1.9 -2.0M398.1 712.5a1.9 1.0 59 1 0 2.0 3.3a1.9 1.0 59 1 0 -2.0 -3.3M502.5 663.9a1.9 1.0 92 1 0 -0.1 3.8a1.9 1.0 92 1 0 0.1 -3.8M476.3 660.3a1.5 0.8 36 1 0 2.4 1.7a1.5 0.8 36 1 0 -2.4 -1.7M400.5 691.4a2.0 1.0 115 1 0 -1.7 3.6a2.0 1.0 115 1 0 1.7 -3.6M452.5 702.5a2.1 1.1 101 1 0 -0.8 4.0a2.1 1.1 101 1 0 0.8 -4.0M466.4 696.3a1.4 0.7 108 1 0 -0.9 2.7a1.4 0.7 108 1 0 0.9 -2.7M407.6 713.4a1.7 0.9 125 1 0 -1.9 2.8a1.7 0.9 125 1 0 1.9 -2.8M512.6 638.7a1.7 0.9 132 1 0 -2.3 2.5a1.7 0.9 132 1 0 2.3 -2.5M408.8 633.6a1.4 0.7 5 1 0 2.8 0.2a1.4 0.7 5 1 0 -2.8 -0.2M492.7 674.5a1.7 0.9 9 1 0 3.4 0.5a1.7 0.9 9 1 0 -3.4 -0.5M517.9 709.6a1.7 0.9 54 1 0 2.0 2.7a1.7 0.9 54 1 0 -2.0 -2.7M443.6 644.7a1.2 0.6 118 1 0 -1.2 2.1a1.2 0.6 118 1 0 1.2 -2.1M457.6 726.2a1.9 1.0 136 1 0 -2.7 2.6a1.9 1.0 136 1 0 2.7 -2.6M499.8 728.7a2.2 1.1 49 1 0 2.8 3.2a2.2 1.1 49 1 0 -2.8 -3.2M507.4 675.9a1.7 0.9 24 1 0 3.2 1.4a1.7 0.9 24 1 0 -3.2 -1.4M457.9 734.2a1.9 1.0 44 1 0 2.8 2.7a1.9 1.0 44 1 0 -2.8 -2.7M490.8 687.5a2.1 1.1 51 1 0 2.7 3.3a2.1 1.1 51 1 0 -2.7 -3.3M430.6 718.7a1.7 0.9 160 1 0 -3.3 1.2a1.7 0.9 160 1 0 3.3 -1.2M402.2 650.3a1.4 0.7 12 1 0 2.7 0.6a1.4 0.7 12 1 0 -2.7 -0.6M442.6 685.3a1.2 0.7 145 1 0 -2.0 1.4a1.2 0.7 145 1 0 2.0 -1.4M491.0 630.6a1.2 0.6 128 1 0 -1.5 1.9a1.2 0.6 128 1 0 1.5 -1.9M442.8 727.0a1.2 0.7 157 1 0 -2.3 1.0a1.2 0.7 157 1 0 2.3 -1.0M444.2 725.0a1.7 0.9 32 1 0 2.8 1.7a1.7 0.9 32 1 0 -2.8 -1.7M429.7 652.0a1.3 0.7 88 1 0 0.1 2.7a1.3 0.7 88 1 0 -0.1 -2.7M417.6 731.9a1.8 1.0 137 1 0 -2.6 2.4a1.8 1.0 137 1 0 2.6 -2.4M414.7 632.5a1.8 1.0 112 1 0 -1.4 3.4a1.8 1.0 112 1 0 1.4 -3.4M397.7 730.4a1.5 0.8 68 1 0 1.1 2.7a1.5 0.8 68 1 0 -1.1 -2.7M475.8 724.4a1.7 0.9 63 1 0 1.6 3.0a1.7 0.9 63 1 0 -1.6 -3.0M405.2 672.7a2.1 1.1 162 1 0 -4.1 1.4a2.1 1.1 162 1 0 4.1 -1.4M442.3 719.6a1.5 0.8 179 1 0 -3.0 0.0a1.5 0.8 179 1 0 3.0 -0.0M506.3 651.3a2.1 1.1 174 1 0 -4.2 0.5a2.1 1.1 174 1 0 4.2 -0.5M519.7 664.9a1.9 1.0 123 1 0 -2.1 3.2a1.9 1.0 123 1 0 2.1 -3.2M471.0 622.9a2.0 1.1 120 1 0 -2.0 3.5a2.0 1.1 120 1 0 2.0 -3.5M479.3 724.4a1.8 1.0 173 1 0 -3.7 0.4a1.8 1.0 173 1 0 3.7 -0.4M440.5 677.4a1.4 0.8 33 1 0 2.4 1.5a1.4 0.8 33 1 0 -2.4 -1.5M519.4 668.4a2.1 1.1 84 1 0 0.4 4.2a2.1 1.1 84 1 0 -0.4 -4.2M496.4 622.2a1.7 0.9 74 1 0 0.9 3.3a1.7 0.9 74 1 0 -0.9 -3.3M427.5 706.5a2.1 1.1 112 1 0 -1.5 3.8a2.1 1.1 112 1 0 1.5 -3.8M412.9 639.2a1.7 0.9 55 1 0 2.0 2.8a1.7 0.9 55 1 0 -2.0 -2.8M428.3 677.8a1.3 0.7 62 1 0 1.2 2.2a1.3 0.7 62 1 0 -1.2 -2.2M502.2 681.7a1.7 0.9 162 1 0 -3.3 1.1a1.7 0.9 162 1 0 3.3 -1.1M504.7 688.0a2.1 1.1 89 1 0 0.1 4.3a2.1 1.1 89 1 0 -0.1 -4.3M442.8 731.3a2.2 1.1 106 1 0 -1.2 4.2a2.2 1.1 106 1 0 1.2 -4.2M407.6 680.2a2.0 1.1 57 1 0 2.2 3.4a2.0 1.1 57 1 0 -2.2 -3.4M510.7 718.3a1.3 0.7 70 1 0 0.9 2.4a1.3 0.7 70 1 0 -0.9 -2.4M520.6 641.9a1.8 0.9 149 1 0 -3.1 1.9a1.8 0.9 149 1 0 3.1 -1.9M487.5 700.5a1.6 0.8 43 1 0 2.3 2.1a1.6 0.8 43 1 0 -2.3 -2.1M446.3 699.3a2.2 1.2 122 1 0 -2.4 3.7a2.2 1.2 122 1 0 2.4 -3.7M462.8 659.1a1.6 0.9 22 1 0 3.1 1.2a1.6 0.9 22 1 0 -3.1 -1.2M470.2 699.3a1.4 0.7 5 1 0 2.8 0.2a1.4 0.7 5 1 0 -2.8 -0.2M478.0 710.6a1.3 0.7 170 1 0 -2.6 0.5a1.3 0.7 170 1 0 2.6 -0.5M488.8 669.5a1.9 1.0 106 1 0 -1.1 3.6a1.9 1.0 106 1 0 1.1 -3.6M449.2 689.7a1.2 0.6 174 1 0 -2.4 0.3a1.2 0.6 174 1 0 2.4 -0.3M467.4 735.4a1.4 0.8 158 1 0 -2.7 1.1a1.4 0.8 158 1 0 2.7 -1.1M494.6 724.2a1.8 0.9 74 1 0 1.0 3.4a1.8 0.9 74 1 0 -1.0 -3.4M432.4 734.6a1.9 1.0 33 1 0 3.2 2.1a1.9 1.0 33 1 0 -3.2 -2.1M522.5 732.3a1.6 0.9 153 1 0 -2.9 1.5a1.6 0.9 153 1 0 2.9 -1.5M514.2 717.8a1.6 0.8 76 1 0 0.8 3.0a1.6 0.8 76 1 0 -0.8 -3.0M438.5 655.1a1.6 0.9 103 1 0 -0.7 3.1a1.6 0.9 103 1 0 0.7 -3.1M517.6 617.2a1.6 0.9 109 1 0 -1.0 3.1a1.6 0.9 109 1 0 1.0 -3.1M523.2 734.0a1.9 1.0 128 1 0 -2.4 3.0a1.9 1.0 128 1 0 2.4 -3.0M443.1 699.2a2.0 1.1 44 1 0 2.9 2.8a2.0 1.1 44 1 0 -2.9 -2.8M467.8 644.8a1.6 0.8 38 1 0 2.5 2.0a1.6 0.8 38 1 0 -2.5 -2.0M440.2 695.4a1.2 0.6 84 1 0 0.3 2.4a1.2 0.6 84 1 0 -0.3 -2.4M439.9 671.7a2.1 1.1 178 1 0 -4.3 0.1a2.1 1.1 178 1 0 4.3 -0.1M472.9 731.2a1.4 0.7 27 1 0 2.5 1.3a1.4 0.7 27 1 0 -2.5 -1.3M414.8 647.3a1.7 0.9 50 1 0 2.2 2.7a1.7 0.9 50 1 0 -2.2 -2.7M507.3 658.6a1.7 0.9 58 1 0 1.8 2.8a1.7 0.9 58 1 0 -1.8 -2.8M517.4 678.0a1.5 0.8 177 1 0 -3.0 0.2a1.5 0.8 177 1 0 3.0 -0.2M467.5 690.9a2.0 1.1 130 1 0 -2.6 3.2a2.0 1.1 130 1 0 2.6 -3.2M410.1 642.1a2.0 1.0 19 1 0 3.7 1.3a2.0 1.0 19 1 0 -3.7 -1.3M456.9 676.3a2.0 1.1 6 1 0 4.0 0.5a2.0 1.1 6 1 0 -4.0 -0.5M520.3 620.2a1.7 0.9 178 1 0 -3.4 0.1a1.7 0.9 178 1 0 3.4 -0.1M412.9 620.4a2.0 1.1 126 1 0 -2.4 3.2a2.0 1.1 126 1 0 2.4 -3.2M446.3 720.6a2.1 1.1 1 1 0 4.2 0.0a2.1 1.1 1 1 0 -4.2 -0.0M416.1 639.1a1.5 0.8 60 1 0 1.5 2.7a1.5 0.8 60 1 0 -1.5 -2.7"/>
<polygon points="422.5,634.7 424.0,632.7 425.6,629.9 427.7,632.3 428.5,630.5 431.0,629.1 434.4,629.3 436.8,628.3 436.7,627.1 438.8,626.2 441.0,624.2 446.2,625.5 445.6,622.2 447.1,620.5 448.6,618.0 449.0,614.2 450.1,616.7 452.3,614.6 454.7,618.1 456.8,616.2 457.3,617.0 459.7,618.0 461.3,616.2 465.1,618.0 466.2,616.8 469.3,617.5 471.2,616.9 470.7,615.0 474.0,614.2 476.6,614.7 478.8,617.2 481.9,615.1 478.6,620.5 479.1,621.6 477.9,625.2 480.5,626.3 482.6,628.3 485.4,629.4 485.6,630.3 486.6,632.4 489.3,631.6 486.4,634.2 486.0,633.7 483.5,634.2 479.6,632.7 475.4,635.9 474.0,635.0 472.2,638.0 473.4,640.2 475.5,642.5 475.1,646.7 474.5,647.9 475.4,649.0 477.1,652.1 479.3,651.7 478.9,653.5 483.1,653.4 485.4,658.2 486.7,658.5 488.9,658.2 487.9,657.6 493.5,656.3 494.7,657.2 495.7,656.1 496.9,654.0 499.0,653.4 503.2,650.3 504.2,656.0 504.5,658.2 506.4,656.6 504.1,661.6 506.3,662.8 507.1,662.3 508.8,666.5 512.2,666.1 512.6,665.8 511.1,668.3 508.2,667.9 505.6,666.9 503.3,669.2 498.1,668.2 497.2,668.3 496.7,669.0 497.2,672.8 496.8,672.5 497.8,677.8 495.0,680.7 497.0,679.0 496.3,681.9 496.2,683.8 499.9,688.8 500.1,689.6 498.6,691.6 497.8,693.3 500.8,697.0 502.3,698.3 503.0,700.4 501.9,702.0 501.6,703.4 503.0,705.4 503.7,711.4 498.5,711.2 496.4,709.0 496.6,704.4 496.7,705.8 494.7,702.7 493.3,699.1 491.9,698.1 490.7,698.6 489.9,693.4 491.2,694.4 490.5,692.2 488.5,690.5 488.9,686.1 487.6,685.9 484.6,681.7 484.3,681.9 484.1,678.1 484.2,677.0 483.1,672.9 484.6,673.9 482.2,671.2 484.1,669.0 481.2,667.3 480.4,663.6 479.9,663.8 476.9,662.0 474.7,659.9 472.8,661.5 470.2,666.7 470.2,667.6 469.0,670.8 471.7,669.6 469.5,673.3 472.4,674.7 470.9,676.7 469.7,679.1 471.8,680.5 473.8,685.6 471.5,687.7 471.8,688.8 473.0,690.1 475.3,691.9 472.3,695.1 476.5,698.1 473.5,697.5 477.3,701.1 475.3,701.6 475.5,705.1 474.7,705.3 478.6,710.2 477.7,711.0 476.8,715.0 478.3,714.8 478.2,716.1 480.0,721.5 478.9,720.0 478.7,724.1 477.6,725.2 477.4,730.0 478.3,728.6 477.3,733.1 477.9,735.6 479.3,736.7 478.9,737.8 474.5,739.0 474.4,739.5 471.7,738.7 472.4,737.4 470.9,736.2 470.5,733.3 472.0,730.0 469.3,729.9 471.3,725.8 471.2,724.9 469.5,721.6 469.5,720.6 469.8,717.8 467.7,718.5 467.3,714.5 466.5,712.8 465.7,711.5 465.6,707.0 464.8,706.2 462.1,704.2 462.9,704.5 460.5,707.8 459.7,711.1 459.6,712.3 456.3,713.4 456.9,714.6 455.3,713.6 456.1,712.9 453.1,709.6 452.1,706.8 452.6,702.9 451.4,705.0 449.4,700.9 445.7,700.3 443.0,700.8 443.2,702.1 440.0,705.4 441.6,708.5 438.2,708.0 438.7,712.3 434.2,709.6 434.3,708.3 432.7,705.3 432.0,704.4 429.9,701.4 428.3,700.2 428.2,696.4 427.1,696.3 425.5,691.4 428.3,692.1 428.4,691.0 431.1,689.9 431.9,688.3 432.0,684.7 430.0,682.1 428.0,680.1 426.7,680.9 425.5,679.8 423.3,678.7 419.7,676.8 417.5,675.3 418.3,670.9 419.2,672.0 417.7,670.0 415.1,665.2 415.0,663.6 414.9,662.5 413.0,658.5 412.7,658.4 414.9,655.2 417.3,652.8 416.7,651.2 420.2,651.4 420.6,649.5 422.2,648.7 424.3,646.3 427.9,647.0 427.1,647.9 430.7,644.3 431.5,642.4 428.6,641.5 427.6,639.7 426.2,636.6" fill="#6a70a8" stroke="#6a70a8" stroke-width="19" stroke-linejoin="round" opacity="0.7"/>
<polygon points="422.5,634.7 424.0,632.7 425.6,629.9 427.7,632.3 428.5,630.5 431.0,629.1 434.4,629.3 436.8,628.3 436.7,627.1 438.8,626.2 441.0,624.2 446.2,625.5 445.6,622.2 447.1,620.5 448.6,618.0 449.0,614.2 450.1,616.7 452.3,614.6 454.7,618.1 456.8,616.2 457.3,617.0 459.7,618.0 461.3,616.2 465.1,618.0 466.2,616.8 469.3,617.5 471.2,616.9 470.7,615.0 474.0,614.2 476.6,614.7 478.8,617.2 481.9,615.1 478.6,620.5 479.1,621.6 477.9,625.2 480.5,626.3 482.6,628.3 485.4,629.4 485.6,630.3 486.6,632.4 489.3,631.6 486.4,634.2 486.0,633.7 483.5,634.2 479.6,632.7 475.4,635.9 474.0,635.0 472.2,638.0 473.4,640.2 475.5,642.5 475.1,646.7 474.5,647.9 475.4,649.0 477.1,652.1 479.3,651.7 478.9,653.5 483.1,653.4 485.4,658.2 486.7,658.5 488.9,658.2 487.9,657.6 493.5,656.3 494.7,657.2 495.7,656.1 496.9,654.0 499.0,653.4 503.2,650.3 504.2,656.0 504.5,658.2 506.4,656.6 504.1,661.6 506.3,662.8 507.1,662.3 508.8,666.5 512.2,666.1 512.6,665.8 511.1,668.3 508.2,667.9 505.6,666.9 503.3,669.2 498.1,668.2 497.2,668.3 496.7,669.0 497.2,672.8 496.8,672.5 497.8,677.8 495.0,680.7 497.0,679.0 496.3,681.9 496.2,683.8 499.9,688.8 500.1,689.6 498.6,691.6 497.8,693.3 500.8,697.0 502.3,698.3 503.0,700.4 501.9,702.0 501.6,703.4 503.0,705.4 503.7,711.4 498.5,711.2 496.4,709.0 496.6,704.4 496.7,705.8 494.7,702.7 493.3,699.1 491.9,698.1 490.7,698.6 489.9,693.4 491.2,694.4 490.5,692.2 488.5,690.5 488.9,686.1 487.6,685.9 484.6,681.7 484.3,681.9 484.1,678.1 484.2,677.0 483.1,672.9 484.6,673.9 482.2,671.2 484.1,669.0 481.2,667.3 480.4,663.6 479.9,663.8 476.9,662.0 474.7,659.9 472.8,661.5 470.2,666.7 470.2,667.6 469.0,670.8 471.7,669.6 469.5,673.3 472.4,674.7 470.9,676.7 469.7,679.1 471.8,680.5 473.8,685.6 471.5,687.7 471.8,688.8 473.0,690.1 475.3,691.9 472.3,695.1 476.5,698.1 473.5,697.5 477.3,701.1 475.3,701.6 475.5,705.1 474.7,705.3 478.6,710.2 477.7,711.0 476.8,715.0 478.3,714.8 478.2,716.1 480.0,721.5 478.9,720.0 478.7,724.1 477.6,725.2 477.4,730.0 478.3,728.6 477.3,733.1 477.9,735.6 479.3,736.7 478.9,737.8 474.5,739.0 474.4,739.5 471.7,738.7 472.4,737.4 470.9,736.2 470.5,733.3 472.0,730.0 469.3,729.9 471.3,725.8 471.2,724.9 469.5,721.6 469.5,720.6 469.8,717.8 467.7,718.5 467.3,714.5 466.5,712.8 465.7,711.5 465.6,707.0 464.8,706.2 462.1,704.2 462.9,704.5 460.5,707.8 459.7,711.1 459.6,712.3 456.3,713.4 456.9,714.6 455.3,713.6 456.1,712.9 453.1,709.6 452.1,706.8 452.6,702.9 451.4,705.0 449.4,700.9 445.7,700.3 443.0,700.8 443.2,702.1 440.0,705.4 441.6,708.5 438.2,708.0 438.7,712.3 434.2,709.6 434.3,708.3 432.7,705.3 432.0,704.4 429.9,701.4 428.3,700.2 428.2,696.4 427.1,696.3 425.5,691.4 428.3,692.1 428.4,691.0 431.1,689.9 431.9,688.3 432.0,684.7 430.0,682.1 428.0,680.1 426.7,680.9 425.5,679.8 423.3,678.7 419.7,676.8 417.5,675.3 418.3,670.9 419.2,672.0 417.7,670.0 415.1,665.2 415.0,663.6 414.9,662.5 413.0,658.5 412.7,658.4 414.9,655.2 417.3,652.8 416.7,651.2 420.2,651.4 420.6,649.5 422.2,648.7 424.3,646.3 427.9,647.0 427.1,647.9 430.7,644.3 431.5,642.4 428.6,641.5 427.6,639.7 426.2,636.6" fill="#bf8236" stroke="#bf8236" stroke-width="13" stroke-linejoin="round"/>
<mask id="m2b40" maskUnits="userSpaceOnUse" x="385" y="600" width="150" height="150"><polygon points="422.5,634.7 424.0,632.7 425.6,629.9 427.7,632.3 428.5,630.5 431.0,629.1 434.4,629.3 436.8,628.3 436.7,627.1 438.8,626.2 441.0,624.2 446.2,625.5 445.6,622.2 447.1,620.5 448.6,618.0 449.0,614.2 450.1,616.7 452.3,614.6 454.7,618.1 456.8,616.2 457.3,617.0 459.7,618.0 461.3,616.2 465.1,618.0 466.2,616.8 469.3,617.5 471.2,616.9 470.7,615.0 474.0,614.2 476.6,614.7 478.8,617.2 481.9,615.1 478.6,620.5 479.1,621.6 477.9,625.2 480.5,626.3 482.6,628.3 485.4,629.4 485.6,630.3 486.6,632.4 489.3,631.6 486.4,634.2 486.0,633.7 483.5,634.2 479.6,632.7 475.4,635.9 474.0,635.0 472.2,638.0 473.4,640.2 475.5,642.5 475.1,646.7 474.5,647.9 475.4,649.0 477.1,652.1 479.3,651.7 478.9,653.5 483.1,653.4 485.4,658.2 486.7,658.5 488.9,658.2 487.9,657.6 493.5,656.3 494.7,657.2 495.7,656.1 496.9,654.0 499.0,653.4 503.2,650.3 504.2,656.0 504.5,658.2 506.4,656.6 504.1,661.6 506.3,662.8 507.1,662.3 508.8,666.5 512.2,666.1 512.6,665.8 511.1,668.3 508.2,667.9 505.6,666.9 503.3,669.2 498.1,668.2 497.2,668.3 496.7,669.0 497.2,672.8 496.8,672.5 497.8,677.8 495.0,680.7 497.0,679.0 496.3,681.9 496.2,683.8 499.9,688.8 500.1,689.6 498.6,691.6 497.8,693.3 500.8,697.0 502.3,698.3 503.0,700.4 501.9,702.0 501.6,703.4 503.0,705.4 503.7,711.4 498.5,711.2 496.4,709.0 496.6,704.4 496.7,705.8 494.7,702.7 493.3,699.1 491.9,698.1 490.7,698.6 489.9,693.4 491.2,694.4 490.5,692.2 488.5,690.5 488.9,686.1 487.6,685.9 484.6,681.7 484.3,681.9 484.1,678.1 484.2,677.0 483.1,672.9 484.6,673.9 482.2,671.2 484.1,669.0 481.2,667.3 480.4,663.6 479.9,663.8 476.9,662.0 474.7,659.9 472.8,661.5 470.2,666.7 470.2,667.6 469.0,670.8 471.7,669.6 469.5,673.3 472.4,674.7 470.9,676.7 469.7,679.1 471.8,680.5 473.8,685.6 471.5,687.7 471.8,688.8 473.0,690.1 475.3,691.9 472.3,695.1 476.5,698.1 473.5,697.5 477.3,701.1 475.3,701.6 475.5,705.1 474.7,705.3 478.6,710.2 477.7,711.0 476.8,715.0 478.3,714.8 478.2,716.1 480.0,721.5 478.9,720.0 478.7,724.1 477.6,725.2 477.4,730.0 478.3,728.6 477.3,733.1 477.9,735.6 479.3,736.7 478.9,737.8 474.5,739.0 474.4,739.5 471.7,738.7 472.4,737.4 470.9,736.2 470.5,733.3 472.0,730.0 469.3,729.9 471.3,725.8 471.2,724.9 469.5,721.6 469.5,720.6 469.8,717.8 467.7,718.5 467.3,714.5 466.5,712.8 465.7,711.5 465.6,707.0 464.8,706.2 462.1,704.2 462.9,704.5 460.5,707.8 459.7,711.1 459.6,712.3 456.3,713.4 456.9,714.6 455.3,713.6 456.1,712.9 453.1,709.6 452.1,706.8 452.6,702.9 451.4,705.0 449.4,700.9 445.7,700.3 443.0,700.8 443.2,702.1 440.0,705.4 441.6,708.5 438.2,708.0 438.7,712.3 434.2,709.6 434.3,708.3 432.7,705.3 432.0,704.4 429.9,701.4 428.3,700.2 428.2,696.4 427.1,696.3 425.5,691.4 428.3,692.1 428.4,691.0 431.1,689.9 431.9,688.3 432.0,684.7 430.0,682.1 428.0,680.1 426.7,680.9 425.5,679.8 423.3,678.7 419.7,676.8 417.5,675.3 418.3,670.9 419.2,672.0 417.7,670.0 415.1,665.2 415.0,663.6 414.9,662.5 413.0,658.5 412.7,658.4 414.9,655.2 417.3,652.8 416.7,651.2 420.2,651.4 420.6,649.5 422.2,648.7 424.3,646.3 427.9,647.0 427.1,647.9 430.7,644.3 431.5,642.4 428.6,641.5 427.6,639.7 426.2,636.6" fill="#fff" stroke="#fff" stroke-width="13" stroke-linejoin="round"/><polygon points="500.0,634.6 525.7,629.0 525.7,739.4 483.4,739.4 507.4,713.6 511.0,673.2 514.7,664.0" fill="#fff"/></mask>
<polygon points="500.0,634.6 525.7,629.0 525.7,739.4 483.4,739.4 507.4,713.6 511.0,673.2 514.7,664.0" fill="#b98a55" stroke="none" stroke-width="0" stroke-linejoin="round" opacity="0.7"/>
<g mask="url(#m2b40)">
<rect x="397" y="618.6" width="125.29999999999995" height="117.39999999999998" fill="#000" filter="url(#fEpi)"/>
</g>
<path fill="#3f4f9e" opacity="0.8" d="M412.9 642.1a2.0 1.2 55 1 0 2.3 3.2a2.0 1.2 55 1 0 -2.3 -3.2M461.7 702.7a1.6 1.0 18 1 0 3.1 1.0a1.6 1.0 18 1 0 -3.1 -1.0M505.8 679.6a2.0 1.2 170 1 0 -3.9 0.7a2.0 1.2 170 1 0 3.9 -0.7M449.4 617.8a1.2 0.8 136 1 0 -1.8 1.7a1.2 0.8 136 1 0 1.8 -1.7M407.8 703.5a1.9 1.2 152 1 0 -3.4 1.8a1.9 1.2 152 1 0 3.4 -1.8M515.6 642.0a1.2 0.8 15 1 0 2.4 0.6a1.2 0.8 15 1 0 -2.4 -0.6M518.7 631.2a1.1 0.7 29 1 0 2.0 1.1a1.1 0.7 29 1 0 -2.0 -1.1M410.2 621.9a1.3 0.8 64 1 0 1.1 2.3a1.3 0.8 64 1 0 -1.1 -2.3M439.7 726.7a1.9 1.2 30 1 0 3.3 1.9a1.9 1.2 30 1 0 -3.3 -1.9M492.0 683.5a1.9 1.2 104 1 0 -0.9 3.6a1.9 1.2 104 1 0 0.9 -3.6M473.2 644.4a1.4 0.8 59 1 0 1.4 2.3a1.4 0.8 59 1 0 -1.4 -2.3M451.7 733.3a1.2 0.7 77 1 0 0.5 2.3a1.2 0.7 77 1 0 -0.5 -2.3M460.6 712.2a1.8 1.1 80 1 0 0.6 3.5a1.8 1.1 80 1 0 -0.6 -3.5M416.2 624.9a1.2 0.7 119 1 0 -1.1 2.0a1.2 0.7 119 1 0 1.1 -2.0M439.5 663.1a1.2 0.7 35 1 0 1.9 1.3a1.2 0.7 35 1 0 -1.9 -1.3M406.9 728.6a2.0 1.3 124 1 0 -2.3 3.4a2.0 1.3 124 1 0 2.3 -3.4M464.2 729.9a1.7 1.1 155 1 0 -3.1 1.4a1.7 1.1 155 1 0 3.1 -1.4M465.5 677.4a1.5 0.9 41 1 0 2.2 1.9a1.5 0.9 41 1 0 -2.2 -1.9M491.2 640.8a1.6 1.0 153 1 0 -2.9 1.5a1.6 1.0 153 1 0 2.9 -1.5M476.4 714.0a1.3 0.8 116 1 0 -1.1 2.2a1.3 0.8 116 1 0 1.1 -2.2M432.0 618.5a2.0 1.3 5 1 0 4.1 0.3a2.0 1.3 5 1 0 -4.1 -0.3M475.7 731.4a1.4 0.9 141 1 0 -2.2 1.8a1.4 0.9 141 1 0 2.2 -1.8M518.3 725.7a1.2 0.7 82 1 0 0.3 2.4a1.2 0.7 82 1 0 -0.3 -2.4M441.9 637.0a1.2 0.7 66 1 0 1.0 2.2a1.2 0.7 66 1 0 -1.0 -2.2M487.2 732.5a1.9 1.2 38 1 0 2.9 2.3a1.9 1.2 38 1 0 -2.9 -2.3M475.0 674.8a1.5 0.9 163 1 0 -2.8 0.9a1.5 0.9 163 1 0 2.8 -0.9M502.6 622.5a1.3 0.8 174 1 0 -2.6 0.3a1.3 0.8 174 1 0 2.6 -0.3M406.6 720.7a1.8 1.1 130 1 0 -2.3 2.7a1.8 1.1 130 1 0 2.3 -2.7M493.5 662.4a1.4 0.9 21 1 0 2.7 1.0a1.4 0.9 21 1 0 -2.7 -1.0M515.7 732.8a1.5 1.0 41 1 0 2.3 2.0a1.5 1.0 41 1 0 -2.3 -2.0M455.9 724.7a1.9 1.2 1 1 0 3.8 0.1a1.9 1.2 1 1 0 -3.8 -0.1M433.6 682.6a1.2 0.8 23 1 0 2.2 0.9a1.2 0.8 23 1 0 -2.2 -0.9M510.5 677.5a2.0 1.2 175 1 0 -3.9 0.3a2.0 1.2 175 1 0 3.9 -0.3M493.8 625.4a2.1 1.3 106 1 0 -1.1 4.0a2.1 1.3 106 1 0 1.1 -4.0M462.3 625.2a2.1 1.3 33 1 0 3.5 2.3a2.1 1.3 33 1 0 -3.5 -2.3M518.6 646.1a1.8 1.1 57 1 0 2.0 3.0a1.8 1.1 57 1 0 -2.0 -3.0M466.3 640.3a1.7 1.1 177 1 0 -3.4 0.2a1.7 1.1 177 1 0 3.4 -0.2M447.9 619.3a1.8 1.2 92 1 0 -0.1 3.7a1.8 1.2 92 1 0 0.1 -3.7M427.2 627.3a2.0 1.3 130 1 0 -2.6 3.1a2.0 1.3 130 1 0 2.6 -3.1M449.9 672.7a1.6 1.0 115 1 0 -1.3 2.9a1.6 1.0 115 1 0 1.3 -2.9M419.0 650.1a1.3 0.8 37 1 0 2.1 1.6a1.3 0.8 37 1 0 -2.1 -1.6M413.9 663.3a1.9 1.2 39 1 0 3.0 2.5a1.9 1.2 39 1 0 -3.0 -2.5M443.9 730.9a1.4 0.9 146 1 0 -2.3 1.5a1.4 0.9 146 1 0 2.3 -1.5M422.9 684.1a1.6 1.0 85 1 0 0.3 3.3a1.6 1.0 85 1 0 -0.3 -3.3M420.6 679.9a1.5 1.0 137 1 0 -2.3 2.1a1.5 1.0 137 1 0 2.3 -2.1M433.7 725.2a2.1 1.3 53 1 0 2.5 3.3a2.1 1.3 53 1 0 -2.5 -3.3M485.6 617.6a1.3 0.8 81 1 0 0.4 2.5a1.3 0.8 81 1 0 -0.4 -2.5M495.3 667.5a2.0 1.3 15 1 0 3.9 1.1a2.0 1.3 15 1 0 -3.9 -1.1M499.0 688.8a1.2 0.7 102 1 0 -0.5 2.3a1.2 0.7 102 1 0 0.5 -2.3M520.4 652.4a1.6 1.0 94 1 0 -0.2 3.2a1.6 1.0 94 1 0 0.2 -3.2M461.9 620.2a1.6 1.0 161 1 0 -3.0 1.0a1.6 1.0 161 1 0 3.0 -1.0M452.8 718.9a1.8 1.1 155 1 0 -3.3 1.5a1.8 1.1 155 1 0 3.3 -1.5M510.1 659.2a1.5 0.9 19 1 0 2.8 0.9a1.5 0.9 19 1 0 -2.8 -0.9M476.7 709.7a1.7 1.1 132 1 0 -2.3 2.6a1.7 1.1 132 1 0 2.3 -2.6M475.7 695.7a1.1 0.7 103 1 0 -0.5 2.2a1.1 0.7 103 1 0 0.5 -2.2M467.5 650.6a1.7 1.1 13 1 0 3.3 0.8a1.7 1.1 13 1 0 -3.3 -0.8M504.5 650.3a1.7 1.1 121 1 0 -1.8 3.0a1.7 1.1 121 1 0 1.8 -3.0M485.6 720.0a1.2 0.7 125 1 0 -1.4 2.0a1.2 0.7 125 1 0 1.4 -2.0M476.9 657.8a1.8 1.1 75 1 0 0.9 3.4a1.8 1.1 75 1 0 -0.9 -3.4M426.5 692.0a1.2 0.7 169 1 0 -2.3 0.5a1.2 0.7 169 1 0 2.3 -0.5M504.3 699.9a1.9 1.2 73 1 0 1.1 3.5a1.9 1.2 73 1 0 -1.1 -3.5M416.0 637.5a1.7 1.1 180 1 0 -3.4 0.0a1.7 1.1 180 1 0 3.4 -0.0M424.4 632.2a1.6 1.0 80 1 0 0.5 3.2a1.6 1.0 80 1 0 -0.5 -3.2M521.7 639.0a1.5 1.0 114 1 0 -1.3 2.8a1.5 1.0 114 1 0 1.3 -2.8M468.6 728.5a1.9 1.2 21 1 0 3.6 1.4a1.9 1.2 21 1 0 -3.6 -1.4M489.1 649.3a1.8 1.1 22 1 0 3.4 1.4a1.8 1.1 22 1 0 -3.4 -1.4M503.6 658.5a1.7 1.0 25 1 0 3.0 1.4a1.7 1.0 25 1 0 -3.0 -1.4M483.3 659.5a1.2 0.8 74 1 0 0.7 2.3a1.2 0.8 74 1 0 -0.7 -2.3M422.5 643.9a1.2 0.8 136 1 0 -1.8 1.7a1.2 0.8 136 1 0 1.8 -1.7M427.2 672.3a1.4 0.8 38 1 0 2.1 1.7a1.4 0.8 38 1 0 -2.1 -1.7M491.7 644.9a1.2 0.8 101 1 0 -0.5 2.4a1.2 0.8 101 1 0 0.5 -2.4M465.5 699.3a1.3 0.8 81 1 0 0.4 2.6a1.3 0.8 81 1 0 -0.4 -2.6M408.2 649.7a1.2 0.8 74 1 0 0.7 2.3a1.2 0.8 74 1 0 -0.7 -2.3M453.3 677.9a1.8 1.1 12 1 0 3.4 0.7a1.8 1.1 12 1 0 -3.4 -0.7M516.8 699.2a1.9 1.2 81 1 0 0.6 3.8a1.9 1.2 81 1 0 -0.6 -3.8M517.7 729.8a1.9 1.2 171 1 0 -3.7 0.6a1.9 1.2 171 1 0 3.7 -0.6M515.0 707.0a1.2 0.8 58 1 0 1.3 2.1a1.2 0.8 58 1 0 -1.3 -2.1M461.2 700.0a1.5 0.9 48 1 0 1.9 2.2a1.5 0.9 48 1 0 -1.9 -2.2M413.3 622.0a1.9 1.2 47 1 0 2.7 2.8a1.9 1.2 47 1 0 -2.7 -2.8M411.4 634.2a2.0 1.3 72 1 0 1.3 3.9a2.0 1.3 72 1 0 -1.3 -3.9M429.1 623.5a1.5 0.9 9 1 0 2.9 0.4a1.5 0.9 9 1 0 -2.9 -0.4M404.4 697.1a1.3 0.8 11 1 0 2.6 0.5a1.3 0.8 11 1 0 -2.6 -0.5M412.8 650.0a1.3 0.8 16 1 0 2.5 0.7a1.3 0.8 16 1 0 -2.5 -0.7M428.3 644.6a1.5 0.9 114 1 0 -1.2 2.7a1.5 0.9 114 1 0 1.2 -2.7M431.1 619.2a1.9 1.2 156 1 0 -3.5 1.6a1.9 1.2 156 1 0 3.5 -1.6M515.9 700.5a1.4 0.9 78 1 0 0.6 2.8a1.4 0.9 78 1 0 -0.6 -2.8M427.4 668.3a2.0 1.3 75 1 0 1.0 3.9a2.0 1.3 75 1 0 -1.0 -3.9M429.6 699.4a1.8 1.1 132 1 0 -2.3 2.6a1.8 1.1 132 1 0 2.3 -2.6M475.5 622.8a1.6 1.0 26 1 0 2.9 1.4a1.6 1.0 26 1 0 -2.9 -1.4M476.8 730.8a1.3 0.8 141 1 0 -2.1 1.7a1.3 0.8 141 1 0 2.1 -1.7M420.4 709.4a2.0 1.2 2 1 0 4.0 0.1a2.0 1.2 2 1 0 -4.0 -0.1M416.2 688.4a1.2 0.8 152 1 0 -2.1 1.1a1.2 0.8 152 1 0 2.1 -1.1M417.7 691.9a1.1 0.7 130 1 0 -1.4 1.7a1.1 0.7 130 1 0 1.4 -1.7M461.1 710.8a1.5 0.9 140 1 0 -2.3 1.9a1.5 0.9 140 1 0 2.3 -1.9M406.1 689.6a1.5 1.0 97 1 0 -0.3 3.0a1.5 1.0 97 1 0 0.3 -3.0M474.8 685.5a1.6 1.0 87 1 0 0.2 3.3a1.6 1.0 87 1 0 -0.2 -3.3M471.8 708.5a1.1 0.7 142 1 0 -1.8 1.4a1.1 0.7 142 1 0 1.8 -1.4M496.7 645.8a1.3 0.8 76 1 0 0.6 2.6a1.3 0.8 76 1 0 -0.6 -2.6M441.0 664.1a1.2 0.8 82 1 0 0.4 2.4a1.2 0.8 82 1 0 -0.4 -2.4M438.9 670.7a1.6 1.0 69 1 0 1.1 3.1a1.6 1.0 69 1 0 -1.1 -3.1M414.8 683.6a1.8 1.1 163 1 0 -3.5 1.1a1.8 1.1 163 1 0 3.5 -1.1M469.9 712.0a1.3 0.8 68 1 0 1.0 2.4a1.3 0.8 68 1 0 -1.0 -2.4M475.6 645.9a1.9 1.2 49 1 0 2.4 2.8a1.9 1.2 49 1 0 -2.4 -2.8M463.3 638.0a1.8 1.1 39 1 0 2.8 2.3a1.8 1.1 39 1 0 -2.8 -2.3M482.2 723.1a1.4 0.9 133 1 0 -1.9 2.0a1.4 0.9 133 1 0 1.9 -2.0M489.3 721.4a2.0 1.2 159 1 0 -3.7 1.4a2.0 1.2 159 1 0 3.7 -1.4M420.4 646.9a1.9 1.2 31 1 0 3.3 2.0a1.9 1.2 31 1 0 -3.3 -2.0M485.1 683.2a1.5 0.9 35 1 0 2.5 1.8a1.5 0.9 35 1 0 -2.5 -1.8M487.7 621.8a1.8 1.1 160 1 0 -3.4 1.2a1.8 1.1 160 1 0 3.4 -1.2M510.0 728.6a1.4 0.9 93 1 0 -0.1 2.8a1.4 0.9 93 1 0 0.1 -2.8M450.0 674.6a1.4 0.9 109 1 0 -0.9 2.6a1.4 0.9 109 1 0 0.9 -2.6M439.6 677.9a1.1 0.7 133 1 0 -1.5 1.7a1.1 0.7 133 1 0 1.5 -1.7M510.8 693.2a1.7 1.0 90 1 0 -0.0 3.3a1.7 1.0 90 1 0 0.0 -3.3M500.8 667.9a1.2 0.8 59 1 0 1.3 2.1a1.2 0.8 59 1 0 -1.3 -2.1M443.0 624.5a1.7 1.1 46 1 0 2.4 2.5a1.7 1.1 46 1 0 -2.4 -2.5M446.8 723.6a1.9 1.2 84 1 0 0.4 3.8a1.9 1.2 84 1 0 -0.4 -3.8M431.1 732.5a2.0 1.2 153 1 0 -3.6 1.8a2.0 1.2 153 1 0 3.6 -1.8M497.8 678.6a1.9 1.2 28 1 0 3.4 1.8a1.9 1.2 28 1 0 -3.4 -1.8M518.5 671.1a1.7 1.1 138 1 0 -2.5 2.3a1.7 1.1 138 1 0 2.5 -2.3M495.9 724.1a1.3 0.8 117 1 0 -1.1 2.2a1.3 0.8 117 1 0 1.1 -2.2M455.0 681.1a1.8 1.1 41 1 0 2.7 2.3a1.8 1.1 41 1 0 -2.7 -2.3M442.6 627.2a1.8 1.1 65 1 0 1.6 3.3a1.8 1.1 65 1 0 -1.6 -3.3M479.1 654.9a1.8 1.1 75 1 0 0.9 3.4a1.8 1.1 75 1 0 -0.9 -3.4M503.5 630.4a1.5 0.9 35 1 0 2.5 1.8a1.5 0.9 35 1 0 -2.5 -1.8M429.9 638.8a1.3 0.8 54 1 0 1.5 2.0a1.3 0.8 54 1 0 -1.5 -2.0M409.0 667.0a1.7 1.1 79 1 0 0.7 3.4a1.7 1.1 79 1 0 -0.7 -3.4M514.1 727.6a1.4 0.9 86 1 0 0.2 2.8a1.4 0.9 86 1 0 -0.2 -2.8M478.1 668.8a2.0 1.3 106 1 0 -1.1 3.9a2.0 1.3 106 1 0 1.1 -3.9M495.6 733.4a1.9 1.2 146 1 0 -3.1 2.1a1.9 1.2 146 1 0 3.1 -2.1M523.0 703.8a1.8 1.1 135 1 0 -2.5 2.5a1.8 1.1 135 1 0 2.5 -2.5M518.1 679.4a1.7 1.1 70 1 0 1.1 3.2a1.7 1.1 70 1 0 -1.1 -3.2M427.5 709.6a1.5 0.9 94 1 0 -0.2 2.9a1.5 0.9 94 1 0 0.2 -2.9M484.9 700.6a1.4 0.9 110 1 0 -1.0 2.7a1.4 0.9 110 1 0 1.0 -2.7M465.6 618.9a1.1 0.7 74 1 0 0.6 2.2a1.1 0.7 74 1 0 -0.6 -2.2M473.4 626.5a1.9 1.2 42 1 0 2.8 2.5a1.9 1.2 42 1 0 -2.8 -2.5M485.9 644.5a2.0 1.3 5 1 0 4.1 0.4a2.0 1.3 5 1 0 -4.1 -0.4M455.7 623.5a1.9 1.2 94 1 0 -0.3 3.8a1.9 1.2 94 1 0 0.3 -3.8M474.7 651.1a1.5 0.9 93 1 0 -0.1 2.9a1.5 0.9 93 1 0 0.1 -2.9M514.5 711.0a1.7 1.1 37 1 0 2.7 2.1a1.7 1.1 37 1 0 -2.7 -2.1M498.1 641.8a1.7 1.0 26 1 0 3.0 1.4a1.7 1.0 26 1 0 -3.0 -1.4M480.1 666.6a1.7 1.1 97 1 0 -0.4 3.4a1.7 1.1 97 1 0 0.4 -3.4M486.2 629.1a1.3 0.8 61 1 0 1.2 2.2a1.3 0.8 61 1 0 -1.2 -2.2M431.8 724.1a1.9 1.2 112 1 0 -1.4 3.6a1.9 1.2 112 1 0 1.4 -3.6M450.6 643.4a1.9 1.2 15 1 0 3.6 1.0a1.9 1.2 15 1 0 -3.6 -1.0M504.6 703.3a1.9 1.2 40 1 0 2.8 2.4a1.9 1.2 40 1 0 -2.8 -2.4M509.5 652.6a2.1 1.3 89 1 0 0.1 4.1a2.1 1.3 89 1 0 -0.1 -4.1M429.8 694.1a1.7 1.0 140 1 0 -2.5 2.1a1.7 1.0 140 1 0 2.5 -2.1M511.1 676.6a1.5 0.9 29 1 0 2.6 1.4a1.5 0.9 29 1 0 -2.6 -1.4M441.2 676.4a1.9 1.2 68 1 0 1.5 3.5a1.9 1.2 68 1 0 -1.5 -3.5M478.8 711.3a1.2 0.7 108 1 0 -0.7 2.3a1.2 0.7 108 1 0 0.7 -2.3M426.9 632.1a1.5 0.9 129 1 0 -1.8 2.3a1.5 0.9 129 1 0 1.8 -2.3M503.2 722.5a1.8 1.1 153 1 0 -3.1 1.6a1.8 1.1 153 1 0 3.1 -1.6M432.8 626.3a1.9 1.2 89 1 0 0.1 3.8a1.9 1.2 89 1 0 -0.1 -3.8M506.9 627.4a1.5 0.9 9 1 0 3.0 0.5a1.5 0.9 9 1 0 -3.0 -0.5M477.1 655.0a1.8 1.2 124 1 0 -2.1 3.1a1.8 1.2 124 1 0 2.1 -3.1M500.7 726.5a2.0 1.3 31 1 0 3.5 2.1a2.0 1.3 31 1 0 -3.5 -2.1M414.0 689.3a1.2 0.8 140 1 0 -1.9 1.6a1.2 0.8 140 1 0 1.9 -1.6M435.9 697.8a1.2 0.8 77 1 0 0.6 2.4a1.2 0.8 77 1 0 -0.6 -2.4M409.8 689.4a1.3 0.8 25 1 0 2.3 1.1a1.3 0.8 25 1 0 -2.3 -1.1M434.5 681.1a1.4 0.9 15 1 0 2.8 0.7a1.4 0.9 15 1 0 -2.8 -0.7M439.4 647.1a1.6 1.0 135 1 0 -2.2 2.2a1.6 1.0 135 1 0 2.2 -2.2M498.5 727.7a1.3 0.8 170 1 0 -2.7 0.5a1.3 0.8 170 1 0 2.7 -0.5M483.0 634.6a1.7 1.1 6 1 0 3.4 0.4a1.7 1.1 6 1 0 -3.4 -0.4M466.0 636.3a1.8 1.1 53 1 0 2.2 2.9a1.8 1.1 53 1 0 -2.2 -2.9M477.6 631.0a1.1 0.7 154 1 0 -2.1 1.0a1.1 0.7 154 1 0 2.1 -1.0M451.6 689.4a1.3 0.8 43 1 0 1.9 1.7a1.3 0.8 43 1 0 -1.9 -1.7M465.2 724.4a1.2 0.8 29 1 0 2.1 1.2a1.2 0.8 29 1 0 -2.1 -1.2M439.4 731.6a1.7 1.1 8 1 0 3.3 0.5a1.7 1.1 8 1 0 -3.3 -0.5M479.3 729.1a1.8 1.2 24 1 0 3.4 1.5a1.8 1.2 24 1 0 -3.4 -1.5M456.9 723.3a1.7 1.1 168 1 0 -3.3 0.7a1.7 1.1 168 1 0 3.3 -0.7"/>
<polygon points="424.0,635.9 423.1,632.8 425.1,632.9 424.7,630.1 426.2,630.6 428.3,630.5 429.7,629.9 431.5,630.1 431.4,628.8 434.4,629.7 434.8,627.8 437.8,627.2 439.4,627.3 439.2,626.8 441.1,626.7 443.4,625.5 445.2,625.1 444.7,622.7 445.9,621.0 446.7,622.0 446.0,618.0 448.4,616.9 448.2,615.8 449.4,616.1 450.7,615.6 451.0,615.0 453.0,615.0 456.2,616.4 457.1,615.5 458.5,615.1 459.2,617.2 462.3,616.3 462.8,615.2 464.6,616.5 464.5,617.4 467.4,617.4 469.9,615.9 468.9,615.2 472.5,615.2 472.5,615.4 474.3,614.9 476.6,616.7 477.5,614.9 478.0,616.1 479.6,617.3 479.2,616.9 481.2,619.3 479.3,620.4 479.8,623.4 481.4,623.6 482.9,626.3 483.4,626.8 482.7,629.4 485.7,630.7 487.3,631.0 487.6,632.0 489.7,633.0 487.2,632.6 485.0,632.1 484.2,633.8 483.6,633.3 481.3,633.9 480.5,634.2 477.4,635.8 474.9,636.8 473.3,635.2 474.6,637.6 474.6,638.5 474.7,640.1 474.6,641.3 473.9,644.7 473.4,644.7 475.2,645.8 475.5,649.7 476.1,649.6 476.6,652.4 477.3,651.7 478.2,653.7 480.8,653.9 483.3,655.1 484.5,655.7 484.3,657.1 487.7,656.8 487.4,658.8 489.1,657.2 490.9,656.6 494.0,656.5 495.8,656.3 495.9,658.4 497.3,655.7 499.4,654.9 500.5,653.4 503.1,651.7 504.6,652.5 504.4,653.8 503.6,655.1 503.6,657.4 505.0,657.8 505.8,659.3 506.9,661.2 505.7,663.9 506.7,664.6 510.0,664.5 510.3,666.9 512.2,667.6 513.3,668.6 512.0,669.5 509.3,668.6 508.0,668.5 506.6,668.7 504.3,669.3 502.6,667.9 502.6,667.0 500.9,668.1 498.9,667.9 496.4,668.6 497.5,669.8 495.4,671.9 496.3,675.4 495.1,676.5 495.3,678.2 497.1,677.7 497.9,679.5 498.2,681.5 498.2,684.1 497.2,685.4 498.8,687.9 499.6,689.4 498.7,691.2 499.3,692.8 500.2,691.9 501.0,695.0 501.1,695.6 500.7,698.8 502.0,699.9 503.1,701.4 502.1,702.3 503.4,704.5 501.9,705.0 502.2,708.3 501.7,709.3 501.0,709.4 498.5,710.5 498.2,708.1 496.9,706.2 496.8,706.1 494.8,703.4 494.2,702.1 492.5,702.4 493.9,700.4 493.4,699.7 490.6,698.2 491.6,697.0 489.2,694.7 489.9,692.5 489.8,691.9 489.4,690.4 488.5,689.3 488.7,685.5 486.7,686.3 487.5,682.5 485.8,680.7 486.3,679.5 486.2,679.6 483.8,677.5 484.8,674.2 483.8,674.5 483.5,671.9 483.6,671.8 481.8,669.2 481.6,667.3 481.9,666.6 480.8,665.9 480.2,664.5 477.7,662.3 476.7,660.4 477.1,661.6 473.7,662.0 472.9,662.9 470.4,663.3 470.6,664.2 471.7,667.5 470.2,669.3 469.8,670.2 471.7,670.5 470.5,673.1 471.7,675.3 471.8,677.2 472.4,678.2 471.1,678.6 472.8,682.2 472.1,683.6 470.9,684.2 471.6,686.0 471.4,688.1 473.9,688.8 472.3,690.1 473.6,691.4 473.5,692.8 474.6,694.1 475.1,696.1 474.3,697.9 476.6,700.3 475.9,702.2 476.2,703.2 477.1,705.5 475.6,705.0 477.6,707.0 477.6,709.2 476.5,710.1 476.5,713.6 477.4,713.0 478.0,715.6 478.7,716.8 477.3,719.3 476.9,719.4 477.8,723.0 478.3,724.1 478.3,725.0 479.3,727.1 478.1,728.3 478.2,730.0 479.5,730.2 478.5,732.8 478.2,735.3 478.0,736.1 477.5,737.7 478.0,739.2 475.6,740.5 474.8,738.6 472.0,738.6 471.1,740.4 470.3,736.9 471.7,736.2 470.2,735.6 469.3,733.1 469.9,732.5 470.2,729.8 470.9,727.6 470.8,727.6 470.1,726.3 470.8,723.4 469.6,722.9 469.0,720.2 468.8,720.6 470.1,717.8 468.3,716.1 469.3,714.6 466.9,711.8 466.9,711.9 468.1,710.0 467.6,708.9 465.4,707.8 463.5,704.9 461.1,704.4 460.4,706.9 462.0,708.1 460.6,708.4 459.4,708.8 459.9,712.0 458.0,712.2 455.8,714.1 456.0,716.4 454.5,713.7 453.7,713.5 455.1,710.0 454.0,708.5 453.8,708.4 453.0,705.7 452.8,703.5 450.4,704.7 450.4,702.4 447.6,700.8 445.8,700.6 445.8,700.6 443.8,703.9 442.8,702.5 441.9,703.7 440.3,706.3 439.1,707.7 439.1,709.7 438.8,711.5 438.6,712.6 436.9,710.1 434.4,708.8 434.0,709.2 433.8,706.9 432.6,705.8 432.6,704.4 431.5,700.7 430.3,701.1 431.2,700.0 428.1,697.6 427.2,697.2 426.1,695.4 424.7,692.9 425.9,691.7 428.3,692.1 429.4,689.2 431.6,687.9 432.5,688.2 431.9,685.5 431.5,684.6 431.9,682.7 431.1,682.0 427.9,680.4 428.4,681.6 426.1,680.3 425.6,681.1 422.8,680.2 421.5,677.5 421.0,677.6 421.4,675.7 419.5,675.7 419.5,674.4 418.4,671.1 417.0,671.1 416.5,669.7 415.5,666.8 414.2,666.8 415.9,663.4 414.5,663.5 413.7,662.0 415.6,659.1 415.5,658.2 415.1,655.9 415.0,654.8 414.6,653.1 416.1,651.3 417.5,650.7 419.8,649.6 419.3,650.5 420.9,649.0 422.8,649.4 425.6,648.5 426.8,647.1 428.7,647.6 428.1,646.9 432.1,645.2 431.0,644.7 430.5,642.9 429.5,640.3 427.2,639.7 425.1,639.7 423.8,637.2 424.2,636.0" fill="#fcfbf9" stroke="none" stroke-width="0" stroke-linejoin="round" />
<polygon points="502.8,616.5 504.8,615.5 506.2,616.0 507.6,615.7 509.5,616.9 511.3,615.3 513.6,615.8 515.7,615.3 517.0,615.3 518.5,616.1 519.7,616.9 521.5,616.7 523.5,617.1 523.9,615.6 525.9,616.7 526.5,617.2 525.1,620.1 525.5,620.3 525.4,622.6 525.6,623.5 526.4,624.4 523.6,626.5 521.6,626.0 520.2,626.4 519.9,627.3 517.8,627.1 516.5,627.4 514.5,627.1 513.5,626.8 512.7,626.6 511.2,625.7 508.8,624.7 508.3,624.1 505.7,621.4 504.9,620.1 505.7,618.7 503.7,617.6" fill="#fcfbf9" stroke="none" stroke-width="0" stroke-linejoin="round" />
<polygon points="402.5,711.8 411.7,710.9 412.6,719.2 404.4,721.0" fill="#f4eee6" stroke="none" stroke-width="0" stroke-linejoin="round" />
<polygon points="420.9,726.5 428.3,725.6 427.3,731.1 420.9,731.1" fill="#f4eee6" stroke="none" stroke-width="0" stroke-linejoin="round" />
</g>
</g>
<g filter="url(#fSoft)">
<clipPath id="c2p40"><rect x="531.4" y="618.6" width="121.89999999999998" height="117.39999999999998"/></clipPath>
<rect x="531.40" y="618.60" width="121.90" height="117.40" fill="#ddd3c1" />
<g clip-path="url(#c2p40)">
<g fill="#c5822e" opacity="0.9" filter="url(#fBlur1)"><polygon points="563.3,650.0 563.9,655.6 560.7,660.0 555.9,661.6 552.0,664.3 547.7,661.7 543.3,661.8 537.3,661.1 535.4,655.6 535.8,650.0 538.4,645.7 540.2,641.6 543.5,638.7 547.4,636.3 552.2,634.5 556.8,636.9 558.6,642.0 560.3,645.9"/><polygon points="602.9,649.2 601.0,652.5 597.3,654.4 595.6,657.8 591.7,661.1 586.5,658.8 581.9,658.0 578.5,655.6 578.4,652.0 576.1,649.2 575.0,645.5 577.0,641.9 581.9,640.4 587.0,641.6 591.0,640.2 594.8,641.6 598.3,643.4 602.0,645.7"/><polygon points="642.9,632.2 645.7,636.3 644.1,640.7 637.5,641.5 631.9,640.4 627.3,642.3 622.2,641.6 616.6,640.0 614.7,636.1 613.5,632.2 615.9,628.7 619.5,626.2 622.0,622.7 627.0,621.0 632.5,621.8 637.8,622.6 641.3,625.5 642.7,629.0"/><polygon points="641.1,656.3 640.8,660.1 640.3,664.7 635.7,665.2 632.3,664.9 629.1,666.9 624.7,667.8 622.3,664.0 621.1,660.1 619.5,656.3 621.5,652.7 622.8,649.1 626.0,647.2 628.5,641.7 632.6,645.9 636.5,646.1 638.6,649.4 641.0,652.4"/><polygon points="560.4,688.4 561.5,693.1 560.6,698.4 557.0,701.4 552.6,700.6 548.8,702.4 545.6,699.5 543.5,695.9 539.7,693.3 539.3,688.4 540.2,683.6 543.4,680.6 545.4,676.6 549.0,675.8 552.4,677.3 557.6,674.0 559.6,679.3 559.3,684.6"/><polygon points="586.4,696.4 583.9,699.2 583.7,702.7 582.7,707.5 578.4,706.9 574.8,707.1 572.4,704.2 568.0,704.0 567.5,699.9 565.2,696.4 565.5,692.1 569.0,689.6 571.6,687.1 575.1,687.2 578.3,686.1 582.6,685.2 584.2,689.5 587.4,692.2"/><polygon points="615.4,698.2 618.6,703.4 614.4,706.2 611.0,707.8 608.0,709.7 604.5,709.5 601.4,707.8 598.2,706.0 595.9,702.5 594.0,698.2 597.6,694.5 598.5,690.7 600.6,686.9 604.1,684.5 608.3,684.2 612.0,686.4 613.9,690.6 613.9,694.9"/><polygon points="617.9,676.8 617.9,679.1 616.9,681.4 614.7,683.0 612.2,684.4 609.3,683.4 607.0,682.3 605.5,680.6 603.0,679.2 602.4,676.8 602.0,674.0 604.3,672.0 607.4,671.8 609.3,670.1 612.0,669.8 615.0,670.0 617.5,671.7 616.9,674.7"/><polygon points="650.3,710.7 652.3,715.8 650.4,720.3 647.7,724.4 643.9,726.9 639.6,727.6 636.4,723.2 635.7,717.5 631.7,715.6 630.8,710.7 629.9,704.9 634.4,702.4 636.8,699.2 640.1,697.5 643.3,699.2 647.2,698.1 652.2,699.0 651.6,705.9"/><polygon points="549.3,717.8 549.5,723.2 546.1,725.9 544.2,729.2 541.7,732.8 538.5,730.8 535.1,731.2 532.1,728.2 531.6,722.6 530.9,717.8 532.9,713.7 532.5,707.8 535.4,705.2 538.5,704.0 541.8,701.7 543.8,707.2 545.4,710.6 550.1,711.9"/><polygon points="579.0,725.1 577.3,728.1 576.8,731.4 575.6,735.8 572.2,736.1 569.2,734.6 566.6,733.5 563.7,732.2 564.1,728.0 560.2,725.1 561.8,721.2 564.0,718.3 566.1,715.6 569.1,714.7 572.3,713.0 575.1,715.6 577.5,718.0 579.4,721.2"/><polygon points="574.8,625.7 574.9,628.0 573.0,629.8 570.8,631.0 568.8,633.8 565.1,633.8 561.9,632.7 561.0,629.7 558.2,628.2 558.3,625.7 559.5,623.5 558.9,620.3 562.3,619.4 565.7,620.0 568.2,619.9 571.0,620.2 575.2,620.2 575.0,623.4"/><polygon points="606.0,627.5 605.2,630.4 604.0,633.1 601.4,634.0 599.6,637.5 596.3,638.1 593.9,635.4 592.7,632.5 590.6,630.5 589.7,627.5 590.2,624.3 591.3,621.3 593.5,618.8 596.9,620.3 599.0,621.3 602.2,619.4 604.6,621.3 605.6,624.4"/></g>
<rect x="531.4" y="618.6" width="121.89999999999998" height="117.39999999999998" fill="#000" filter="url(#fOrange)" clip-path="url(#c2p40)"/>
<rect x="531.4" y="618.6" width="121.89999999999998" height="117.39999999999998" fill="#000" filter="url(#fGrain)" clip-path="url(#c2p40)"/>
<rect x="531.4" y="618.6" width="121.89999999999998" height="117.39999999999998" fill="#000" filter="url(#fCream)" clip-path="url(#c2p40)"/>
<path fill="#8088b8" opacity="0.85" d="M576.1 644.7a2.0 1.7 30 1 0 3.5 2.0a2.0 1.7 30 1 0 -3.5 -2.0M602.1 698.2a1.5 1.3 100 1 0 -0.5 2.9a1.5 1.3 100 1 0 0.5 -2.9M621.9 685.2a1.8 1.5 141 1 0 -2.7 2.2a1.8 1.5 141 1 0 2.7 -2.2M632.6 669.6a1.3 1.1 28 1 0 2.2 1.2a1.3 1.1 28 1 0 -2.2 -1.2M620.4 636.7a1.7 1.5 118 1 0 -1.6 3.0a1.7 1.5 118 1 0 1.6 -3.0M536.7 710.5a2.0 1.7 6 1 0 3.9 0.4a2.0 1.7 6 1 0 -3.9 -0.4M635.1 642.6a1.8 1.6 131 1 0 -2.4 2.8a1.8 1.6 131 1 0 2.4 -2.8M544.8 696.5a2.0 1.7 22 1 0 3.7 1.5a2.0 1.7 22 1 0 -3.7 -1.5M614.0 733.4a1.4 1.2 10 1 0 2.8 0.5a1.4 1.2 10 1 0 -2.8 -0.5M605.3 688.9a2.0 1.7 33 1 0 3.3 2.1a2.0 1.7 33 1 0 -3.3 -2.1M633.0 653.2a1.8 1.5 26 1 0 3.2 1.6a1.8 1.5 26 1 0 -3.2 -1.6M581.0 695.0a1.5 1.3 89 1 0 0.1 3.0a1.5 1.3 89 1 0 -0.1 -3.0M533.8 632.6a1.8 1.6 83 1 0 0.5 3.6a1.8 1.6 83 1 0 -0.5 -3.6M583.5 704.0a2.0 1.7 97 1 0 -0.5 3.9a2.0 1.7 97 1 0 0.5 -3.9M610.2 655.9a1.2 1.0 25 1 0 2.1 1.0a1.2 1.0 25 1 0 -2.1 -1.0M537.9 719.1a1.8 1.6 157 1 0 -3.4 1.4a1.8 1.6 157 1 0 3.4 -1.4M542.9 695.4a2.0 1.7 23 1 0 3.6 1.5a2.0 1.7 23 1 0 -3.6 -1.5M611.8 705.2a1.5 1.3 110 1 0 -1.0 2.9a1.5 1.3 110 1 0 1.0 -2.9M633.7 730.4a1.5 1.3 44 1 0 2.2 2.1a1.5 1.3 44 1 0 -2.2 -2.1M620.4 696.9a1.6 1.4 74 1 0 0.9 3.0a1.6 1.4 74 1 0 -0.9 -3.0M648.0 649.9a1.8 1.6 38 1 0 2.8 2.2a1.8 1.6 38 1 0 -2.8 -2.2M564.1 722.2a2.0 1.8 59 1 0 2.1 3.4a2.0 1.8 59 1 0 -2.1 -3.4M579.0 721.2a1.8 1.6 135 1 0 -2.6 2.6a1.8 1.6 135 1 0 2.6 -2.6M556.2 637.8a1.3 1.1 6 1 0 2.6 0.3a1.3 1.1 6 1 0 -2.6 -0.3M611.4 625.0a1.7 1.5 43 1 0 2.4 2.3a1.7 1.5 43 1 0 -2.4 -2.3M549.0 656.1a1.8 1.5 41 1 0 2.7 2.3a1.8 1.5 41 1 0 -2.7 -2.3M546.4 734.0a1.8 1.6 108 1 0 -1.1 3.4a1.8 1.6 108 1 0 1.1 -3.4M600.7 676.9a2.0 1.7 175 1 0 -3.9 0.4a2.0 1.7 175 1 0 3.9 -0.4M632.2 620.2a2.0 1.8 106 1 0 -1.1 3.9a2.0 1.8 106 1 0 1.1 -3.9M609.8 677.7a1.3 1.1 117 1 0 -1.2 2.3a1.3 1.1 117 1 0 1.2 -2.3M618.5 710.2a1.6 1.4 13 1 0 3.1 0.7a1.6 1.4 13 1 0 -3.1 -0.7M605.0 658.2a2.0 1.8 123 1 0 -2.2 3.4a2.0 1.8 123 1 0 2.2 -3.4M640.1 653.8a1.9 1.7 27 1 0 3.4 1.8a1.9 1.7 27 1 0 -3.4 -1.8M607.3 715.4a1.4 1.2 156 1 0 -2.5 1.1a1.4 1.2 156 1 0 2.5 -1.1M604.4 653.1a1.8 1.6 144 1 0 -2.9 2.1a1.8 1.6 144 1 0 2.9 -2.1M560.9 676.0a1.3 1.2 107 1 0 -0.8 2.6a1.3 1.2 107 1 0 0.8 -2.6M552.1 673.9a1.6 1.4 13 1 0 3.1 0.7a1.6 1.4 13 1 0 -3.1 -0.7M644.1 715.2a1.9 1.7 10 1 0 3.8 0.6a1.9 1.7 10 1 0 -3.8 -0.6M616.9 701.6a1.8 1.6 5 1 0 3.7 0.3a1.8 1.6 5 1 0 -3.7 -0.3M554.4 711.6a1.5 1.3 58 1 0 1.6 2.5a1.5 1.3 58 1 0 -1.6 -2.5M550.9 719.2a2.0 1.7 40 1 0 3.0 2.5a2.0 1.7 40 1 0 -3.0 -2.5M594.8 634.6a1.6 1.4 118 1 0 -1.5 2.9a1.6 1.4 118 1 0 1.5 -2.9M533.9 714.4a1.1 1.0 49 1 0 1.5 1.7a1.1 1.0 49 1 0 -1.5 -1.7M624.4 702.7a1.3 1.1 69 1 0 0.9 2.4a1.3 1.1 69 1 0 -0.9 -2.4M596.5 686.1a1.6 1.4 124 1 0 -1.8 2.6a1.6 1.4 124 1 0 1.8 -2.6M599.5 702.5a1.3 1.1 34 1 0 2.1 1.5a1.3 1.1 34 1 0 -2.1 -1.5M592.0 706.0a1.9 1.7 145 1 0 -3.2 2.3a1.9 1.7 145 1 0 3.2 -2.3M583.5 701.9a1.5 1.3 19 1 0 2.8 1.0a1.5 1.3 19 1 0 -2.8 -1.0M541.3 716.7a1.8 1.5 180 1 0 -3.5 0.0a1.8 1.5 180 1 0 3.5 -0.0M624.1 661.6a1.2 1.1 143 1 0 -1.9 1.4a1.2 1.1 143 1 0 1.9 -1.4M577.7 659.3a1.3 1.1 156 1 0 -2.3 1.1a1.3 1.1 156 1 0 2.3 -1.1M552.1 628.4a1.4 1.2 152 1 0 -2.5 1.3a1.4 1.2 152 1 0 2.5 -1.3M642.6 654.7a1.3 1.1 151 1 0 -2.3 1.3a1.3 1.1 151 1 0 2.3 -1.3M643.1 732.2a1.8 1.6 158 1 0 -3.3 1.3a1.8 1.6 158 1 0 3.3 -1.3M642.0 725.8a1.4 1.2 173 1 0 -2.8 0.3a1.4 1.2 173 1 0 2.8 -0.3M634.4 709.0a1.3 1.1 62 1 0 1.2 2.3a1.3 1.1 62 1 0 -1.2 -2.3M641.3 672.1a2.0 1.7 95 1 0 -0.4 3.9a2.0 1.7 95 1 0 0.4 -3.9M591.3 646.9a1.6 1.4 123 1 0 -1.8 2.7a1.6 1.4 123 1 0 1.8 -2.7M565.9 699.4a1.4 1.2 163 1 0 -2.6 0.8a1.4 1.2 163 1 0 2.6 -0.8M630.6 705.8a1.3 1.1 94 1 0 -0.2 2.6a1.3 1.1 94 1 0 0.2 -2.6M611.1 650.3a1.9 1.7 45 1 0 2.7 2.7a1.9 1.7 45 1 0 -2.7 -2.7M566.2 628.5a2.1 1.8 152 1 0 -3.7 1.9a2.1 1.8 152 1 0 3.7 -1.9M568.9 664.3a1.8 1.6 98 1 0 -0.5 3.6a1.8 1.6 98 1 0 0.5 -3.6M531.4 693.3a2.0 1.8 42 1 0 3.0 2.7a2.0 1.8 42 1 0 -3.0 -2.7M581.7 727.7a1.7 1.5 81 1 0 0.5 3.5a1.7 1.5 81 1 0 -0.5 -3.5M535.1 641.2a1.5 1.3 53 1 0 1.8 2.4a1.5 1.3 53 1 0 -1.8 -2.4M550.9 667.6a1.7 1.5 16 1 0 3.2 0.9a1.7 1.5 16 1 0 -3.2 -0.9M649.6 717.3a2.1 1.8 112 1 0 -1.5 3.8a2.1 1.8 112 1 0 1.5 -3.8M620.0 691.9a1.2 1.0 82 1 0 0.3 2.4a1.2 1.0 82 1 0 -0.3 -2.4M641.7 722.8a1.8 1.6 145 1 0 -2.9 2.1a1.8 1.6 145 1 0 2.9 -2.1M632.3 731.0a1.9 1.6 175 1 0 -3.7 0.3a1.9 1.6 175 1 0 3.7 -0.3M533.7 728.3a1.6 1.4 102 1 0 -0.7 3.0a1.6 1.4 102 1 0 0.7 -3.0M582.2 650.2a1.7 1.5 6 1 0 3.4 0.4a1.7 1.5 6 1 0 -3.4 -0.4M608.6 628.3a2.0 1.7 166 1 0 -3.9 1.0a2.0 1.7 166 1 0 3.9 -1.0M636.3 680.2a1.6 1.4 69 1 0 1.1 2.9a1.6 1.4 69 1 0 -1.1 -2.9M578.5 730.3a2.0 1.7 165 1 0 -3.8 1.0a2.0 1.7 165 1 0 3.8 -1.0M595.5 677.4a1.4 1.2 124 1 0 -1.6 2.3a1.4 1.2 124 1 0 1.6 -2.3M552.9 733.2a1.4 1.2 49 1 0 1.8 2.1a1.4 1.2 49 1 0 -1.8 -2.1M591.5 627.7a1.3 1.1 94 1 0 -0.2 2.5a1.3 1.1 94 1 0 0.2 -2.5M633.6 627.4a1.4 1.2 144 1 0 -2.2 1.6a1.4 1.2 144 1 0 2.2 -1.6M628.7 712.4a1.3 1.1 172 1 0 -2.5 0.4a1.3 1.1 172 1 0 2.5 -0.4M650.9 635.0a1.1 1.0 63 1 0 1.0 2.0a1.1 1.0 63 1 0 -1.0 -2.0M592.0 626.2a2.0 1.8 100 1 0 -0.7 4.0a2.0 1.8 100 1 0 0.7 -4.0M624.7 694.1a2.1 1.8 16 1 0 4.0 1.2a2.1 1.8 16 1 0 -4.0 -1.2M574.6 729.4a1.4 1.2 26 1 0 2.5 1.2a1.4 1.2 26 1 0 -2.5 -1.2M645.6 705.4a1.6 1.4 34 1 0 2.6 1.7a1.6 1.4 34 1 0 -2.6 -1.7M596.6 647.4a1.2 1.1 39 1 0 1.9 1.5a1.2 1.1 39 1 0 -1.9 -1.5M592.8 666.0a1.6 1.4 63 1 0 1.4 2.8a1.6 1.4 63 1 0 -1.4 -2.8M574.6 663.1a1.3 1.1 137 1 0 -1.9 1.7a1.3 1.1 137 1 0 1.9 -1.7M542.1 669.8a1.6 1.4 52 1 0 1.9 2.5a1.6 1.4 52 1 0 -1.9 -2.5M637.9 728.6a2.0 1.8 147 1 0 -3.4 2.2a2.0 1.8 147 1 0 3.4 -2.2M558.2 658.8a1.4 1.2 20 1 0 2.6 1.0a1.4 1.2 20 1 0 -2.6 -1.0M562.2 645.0a2.0 1.8 60 1 0 2.0 3.5a2.0 1.8 60 1 0 -2.0 -3.5M594.4 722.4a1.8 1.6 95 1 0 -0.3 3.7a1.8 1.6 95 1 0 0.3 -3.7M614.7 687.8a1.7 1.5 166 1 0 -3.3 0.8a1.7 1.5 166 1 0 3.3 -0.8M591.3 645.1a1.5 1.3 18 1 0 2.9 0.9a1.5 1.3 18 1 0 -2.9 -0.9M582.0 633.8a1.1 1.0 171 1 0 -2.2 0.3a1.1 1.0 171 1 0 2.2 -0.3M584.7 645.7a1.9 1.7 73 1 0 1.1 3.7a1.9 1.7 73 1 0 -1.1 -3.7M650.1 663.8a2.0 1.7 128 1 0 -2.4 3.1a2.0 1.7 128 1 0 2.4 -3.1M566.4 663.3a1.9 1.7 78 1 0 0.8 3.8a1.9 1.7 78 1 0 -0.8 -3.8M566.9 722.9a1.8 1.6 33 1 0 3.0 2.0a1.8 1.6 33 1 0 -3.0 -2.0M607.3 620.9a1.9 1.7 59 1 0 2.0 3.3a1.9 1.7 59 1 0 -2.0 -3.3M580.2 623.7a1.6 1.4 85 1 0 0.3 3.3a1.6 1.4 85 1 0 -0.3 -3.3M590.4 667.7a1.8 1.5 169 1 0 -3.5 0.7a1.8 1.5 169 1 0 3.5 -0.7M586.6 670.2a1.3 1.2 139 1 0 -2.0 1.8a1.3 1.2 139 1 0 2.0 -1.8M588.9 707.5a1.3 1.1 16 1 0 2.4 0.7a1.3 1.1 16 1 0 -2.4 -0.7M539.0 696.2a1.8 1.5 144 1 0 -2.8 2.1a1.8 1.5 144 1 0 2.8 -2.1M606.3 620.9a1.6 1.4 65 1 0 1.3 2.8a1.6 1.4 65 1 0 -1.3 -2.8M571.9 646.8a1.3 1.2 67 1 0 1.1 2.5a1.3 1.2 67 1 0 -1.1 -2.5M538.4 685.5a1.5 1.3 4 1 0 3.1 0.2a1.5 1.3 4 1 0 -3.1 -0.2M581.3 712.5a1.6 1.4 127 1 0 -1.9 2.5a1.6 1.4 127 1 0 1.9 -2.5M533.3 700.8a1.7 1.5 130 1 0 -2.2 2.6a1.7 1.5 130 1 0 2.2 -2.6M651.6 674.8a1.6 1.4 71 1 0 1.0 3.1a1.6 1.4 71 1 0 -1.0 -3.1M542.6 691.4a1.8 1.5 24 1 0 3.2 1.4a1.8 1.5 24 1 0 -3.2 -1.4M604.5 698.0a1.8 1.6 33 1 0 3.0 2.0a1.8 1.6 33 1 0 -3.0 -2.0M647.3 733.5a1.3 1.1 138 1 0 -1.9 1.7a1.3 1.1 138 1 0 1.9 -1.7M626.9 639.3a1.2 1.0 176 1 0 -2.3 0.1a1.2 1.0 176 1 0 2.3 -0.1M531.5 665.3a2.0 1.8 14 1 0 3.9 1.0a2.0 1.8 14 1 0 -3.9 -1.0M646.1 648.5a1.5 1.3 157 1 0 -2.7 1.2a1.5 1.3 157 1 0 2.7 -1.2M632.7 632.9a1.5 1.4 169 1 0 -3.0 0.6a1.5 1.4 169 1 0 3.0 -0.6M559.0 670.8a1.2 1.0 0 1 0 2.3 0.0a1.2 1.0 0 1 0 -2.3 -0.0M590.9 688.6a1.6 1.4 179 1 0 -3.2 0.0a1.6 1.4 179 1 0 3.2 -0.0M570.4 649.2a2.0 1.7 4 1 0 4.0 0.3a2.0 1.7 4 1 0 -4.0 -0.3M618.0 648.4a1.8 1.6 136 1 0 -2.6 2.5a1.8 1.6 136 1 0 2.6 -2.5M611.2 670.9a2.0 1.8 157 1 0 -3.7 1.6a2.0 1.8 157 1 0 3.7 -1.6M623.5 638.7a1.7 1.5 81 1 0 0.6 3.4a1.7 1.5 81 1 0 -0.6 -3.4M647.4 676.7a1.2 1.0 87 1 0 0.1 2.4a1.2 1.0 87 1 0 -0.1 -2.4M539.9 649.0a1.3 1.2 122 1 0 -1.4 2.3a1.3 1.2 122 1 0 1.4 -2.3M622.4 692.8a1.6 1.4 52 1 0 2.0 2.5a1.6 1.4 52 1 0 -2.0 -2.5M633.8 620.6a1.8 1.6 113 1 0 -1.4 3.4a1.8 1.6 113 1 0 1.4 -3.4M650.0 655.9a1.9 1.7 115 1 0 -1.6 3.4a1.9 1.7 115 1 0 1.6 -3.4M569.8 708.2a2.0 1.8 135 1 0 -2.9 2.9a2.0 1.8 135 1 0 2.9 -2.9M582.0 629.6a1.8 1.5 93 1 0 -0.2 3.5a1.8 1.5 93 1 0 0.2 -3.5M643.1 705.5a1.9 1.7 98 1 0 -0.6 3.8a1.9 1.7 98 1 0 0.6 -3.8M634.3 689.6a1.1 1.0 49 1 0 1.5 1.7a1.1 1.0 49 1 0 -1.5 -1.7M601.9 618.3a2.1 1.8 63 1 0 1.9 3.7a2.1 1.8 63 1 0 -1.9 -3.7M563.9 698.4a1.4 1.3 132 1 0 -1.9 2.1a1.4 1.3 132 1 0 1.9 -2.1M605.7 721.5a1.4 1.3 130 1 0 -1.9 2.2a1.4 1.3 130 1 0 1.9 -2.2M651.3 696.1a1.9 1.7 43 1 0 2.8 2.6a1.9 1.7 43 1 0 -2.8 -2.6M628.6 720.7a1.9 1.6 151 1 0 -3.3 1.9a1.9 1.6 151 1 0 3.3 -1.9M580.5 706.1a1.9 1.7 138 1 0 -2.8 2.6a1.9 1.7 138 1 0 2.8 -2.6M558.1 732.5a2.0 1.7 104 1 0 -0.9 3.9a2.0 1.7 104 1 0 0.9 -3.9M594.9 708.9a1.4 1.2 109 1 0 -0.9 2.7a1.4 1.2 109 1 0 0.9 -2.7M589.9 713.5a2.0 1.8 50 1 0 2.6 3.1a2.0 1.8 50 1 0 -2.6 -3.1M620.8 709.3a1.8 1.6 95 1 0 -0.3 3.6a1.8 1.6 95 1 0 0.3 -3.6M607.2 667.3a1.7 1.5 0 1 0 3.3 0.0a1.7 1.5 0 1 0 -3.3 -0.0M615.0 682.2a1.6 1.4 72 1 0 1.0 3.1a1.6 1.4 72 1 0 -1.0 -3.1M542.9 694.0a1.2 1.1 12 1 0 2.4 0.5a1.2 1.1 12 1 0 -2.4 -0.5M542.7 729.9a1.7 1.5 164 1 0 -3.3 1.0a1.7 1.5 164 1 0 3.3 -1.0M646.5 641.8a1.6 1.4 119 1 0 -1.5 2.8a1.6 1.4 119 1 0 1.5 -2.8M543.2 685.9a1.4 1.2 20 1 0 2.6 0.9a1.4 1.2 20 1 0 -2.6 -0.9M550.3 646.9a1.6 1.4 161 1 0 -3.0 1.0a1.6 1.4 161 1 0 3.0 -1.0M597.3 635.0a1.2 1.1 27 1 0 2.2 1.1a1.2 1.1 27 1 0 -2.2 -1.1M618.1 685.3a1.7 1.5 134 1 0 -2.3 2.4a1.7 1.5 134 1 0 2.3 -2.4M561.2 663.6a2.0 1.8 66 1 0 1.6 3.7a2.0 1.8 66 1 0 -1.6 -3.7M618.1 714.5a2.0 1.8 118 1 0 -1.9 3.6a2.0 1.8 118 1 0 1.9 -3.6M623.5 618.4a1.2 1.0 14 1 0 2.2 0.6a1.2 1.0 14 1 0 -2.2 -0.6M640.1 641.6a1.7 1.5 83 1 0 0.4 3.3a1.7 1.5 83 1 0 -0.4 -3.3M559.9 650.5a1.3 1.1 159 1 0 -2.4 0.9a1.3 1.1 159 1 0 2.4 -0.9M633.6 672.4a1.5 1.3 124 1 0 -1.7 2.5a1.5 1.3 124 1 0 1.7 -2.5M613.8 699.9a1.4 1.2 76 1 0 0.7 2.7a1.4 1.2 76 1 0 -0.7 -2.7M582.4 706.1a1.3 1.2 2 1 0 2.6 0.1a1.3 1.2 2 1 0 -2.6 -0.1M574.2 699.1a1.3 1.2 92 1 0 -0.1 2.7a1.3 1.2 92 1 0 0.1 -2.7M639.9 685.6a1.5 1.3 160 1 0 -2.8 1.0a1.5 1.3 160 1 0 2.8 -1.0M646.7 685.7a1.3 1.1 62 1 0 1.2 2.2a1.3 1.1 62 1 0 -1.2 -2.2M630.6 638.1a1.9 1.7 148 1 0 -3.2 2.0a1.9 1.7 148 1 0 3.2 -2.0M548.2 703.1a1.2 1.1 126 1 0 -1.4 2.0a1.2 1.1 126 1 0 1.4 -2.0M623.1 728.7a1.6 1.4 60 1 0 1.6 2.8a1.6 1.4 60 1 0 -1.6 -2.8M579.9 645.8a1.8 1.5 29 1 0 3.1 1.7a1.8 1.5 29 1 0 -3.1 -1.7M647.7 633.4a1.6 1.4 4 1 0 3.3 0.2a1.6 1.4 4 1 0 -3.3 -0.2M563.1 719.6a1.1 1.0 53 1 0 1.4 1.8a1.1 1.0 53 1 0 -1.4 -1.8M568.9 665.3a1.5 1.3 78 1 0 0.6 3.0a1.5 1.3 78 1 0 -0.6 -3.0M564.8 731.6a1.3 1.2 2 1 0 2.7 0.1a1.3 1.2 2 1 0 -2.7 -0.1M630.2 641.3a1.5 1.3 38 1 0 2.4 1.8a1.5 1.3 38 1 0 -2.4 -1.8M609.5 714.6a1.3 1.1 142 1 0 -2.0 1.6a1.3 1.1 142 1 0 2.0 -1.6M646.6 638.0a1.9 1.7 145 1 0 -3.2 2.2a1.9 1.7 145 1 0 3.2 -2.2M544.2 662.1a1.6 1.4 38 1 0 2.5 1.9a1.6 1.4 38 1 0 -2.5 -1.9M627.6 712.1a1.1 1.0 136 1 0 -1.7 1.6a1.1 1.0 136 1 0 1.7 -1.6M568.0 725.6a1.9 1.6 133 1 0 -2.5 2.7a1.9 1.6 133 1 0 2.5 -2.7M552.6 635.2a1.7 1.5 88 1 0 0.1 3.4a1.7 1.5 88 1 0 -0.1 -3.4M547.0 719.3a2.0 1.8 103 1 0 -0.9 3.9a2.0 1.8 103 1 0 0.9 -3.9M640.6 664.1a1.9 1.7 50 1 0 2.5 2.9a1.9 1.7 50 1 0 -2.5 -2.9M593.4 687.5a2.1 1.8 130 1 0 -2.6 3.2a2.1 1.8 130 1 0 2.6 -3.2M595.2 671.9a1.2 1.0 154 1 0 -2.2 1.0a1.2 1.0 154 1 0 2.2 -1.0M585.5 642.6a1.9 1.7 110 1 0 -1.3 3.6a1.9 1.7 110 1 0 1.3 -3.6M581.5 642.2a2.0 1.7 22 1 0 3.7 1.5a2.0 1.7 22 1 0 -3.7 -1.5M601.8 727.4a1.4 1.2 48 1 0 1.9 2.1a1.4 1.2 48 1 0 -1.9 -2.1M553.7 691.6a1.9 1.7 101 1 0 -0.7 3.8a1.9 1.7 101 1 0 0.7 -3.8M601.4 657.3a1.9 1.6 18 1 0 3.6 1.2a1.9 1.6 18 1 0 -3.6 -1.2M646.1 655.8a1.6 1.4 56 1 0 1.8 2.7a1.6 1.4 56 1 0 -1.8 -2.7M577.1 704.4a1.6 1.4 86 1 0 0.2 3.2a1.6 1.4 86 1 0 -0.2 -3.2M579.4 647.6a2.0 1.8 166 1 0 -3.9 1.0a2.0 1.8 166 1 0 3.9 -1.0M557.9 661.6a1.5 1.3 129 1 0 -1.9 2.3a1.5 1.3 129 1 0 1.9 -2.3M584.2 683.7a1.5 1.3 49 1 0 2.0 2.2a1.5 1.3 49 1 0 -2.0 -2.2M617.0 728.5a2.0 1.7 12 1 0 3.8 0.8a2.0 1.7 12 1 0 -3.8 -0.8M540.4 695.6a1.6 1.4 9 1 0 3.2 0.5a1.6 1.4 9 1 0 -3.2 -0.5M557.7 713.4a1.6 1.4 4 1 0 3.2 0.2a1.6 1.4 4 1 0 -3.2 -0.2M648.2 679.3a1.7 1.5 80 1 0 0.6 3.4a1.7 1.5 80 1 0 -0.6 -3.4M627.9 697.8a1.3 1.2 75 1 0 0.7 2.5a1.3 1.2 75 1 0 -0.7 -2.5M628.2 677.5a1.4 1.3 172 1 0 -2.9 0.4a1.4 1.3 172 1 0 2.9 -0.4M570.7 673.2a1.9 1.6 178 1 0 -3.7 0.1a1.9 1.6 178 1 0 3.7 -0.1M568.3 699.3a1.2 1.0 148 1 0 -2.0 1.2a1.2 1.0 148 1 0 2.0 -1.2M624.1 673.7a1.8 1.6 159 1 0 -3.4 1.3a1.8 1.6 159 1 0 3.4 -1.3M575.6 626.7a1.5 1.3 73 1 0 0.9 2.8a1.5 1.3 73 1 0 -0.9 -2.8M557.6 698.7a1.5 1.4 155 1 0 -2.8 1.3a1.5 1.4 155 1 0 2.8 -1.3M545.0 683.3a1.2 1.0 61 1 0 1.1 2.0a1.2 1.0 61 1 0 -1.1 -2.0M542.0 664.1a1.2 1.1 6 1 0 2.5 0.3a1.2 1.1 6 1 0 -2.5 -0.3M645.7 680.6a1.2 1.0 33 1 0 1.9 1.3a1.2 1.0 33 1 0 -1.9 -1.3M567.6 656.3a1.3 1.1 170 1 0 -2.6 0.5a1.3 1.1 170 1 0 2.6 -0.5M644.9 676.7a1.7 1.4 145 1 0 -2.7 1.9a1.7 1.4 145 1 0 2.7 -1.9M648.9 730.0a1.4 1.3 112 1 0 -1.1 2.7a1.4 1.3 112 1 0 1.1 -2.7M566.4 636.7a1.7 1.5 41 1 0 2.6 2.3a1.7 1.5 41 1 0 -2.6 -2.3M584.0 681.7a1.8 1.6 171 1 0 -3.6 0.5a1.8 1.6 171 1 0 3.6 -0.5M644.4 707.6a1.2 1.0 44 1 0 1.7 1.6a1.2 1.0 44 1 0 -1.7 -1.6M617.3 634.8a1.2 1.1 118 1 0 -1.1 2.1a1.2 1.1 118 1 0 1.1 -2.1M601.8 678.7a1.9 1.7 83 1 0 0.5 3.8a1.9 1.7 83 1 0 -0.5 -3.8M616.6 643.0a1.5 1.3 89 1 0 0.1 3.0a1.5 1.3 89 1 0 -0.1 -3.0M577.3 644.2a1.7 1.5 40 1 0 2.6 2.2a1.7 1.5 40 1 0 -2.6 -2.2M539.0 667.4a1.6 1.4 89 1 0 0.0 3.1a1.6 1.4 89 1 0 -0.0 -3.1M615.8 711.8a1.3 1.1 97 1 0 -0.3 2.5a1.3 1.1 97 1 0 0.3 -2.5M552.8 726.6a1.6 1.4 84 1 0 0.3 3.2a1.6 1.4 84 1 0 -0.3 -3.2M557.5 691.0a1.7 1.5 68 1 0 1.2 3.1a1.7 1.5 68 1 0 -1.2 -3.1M600.4 724.3a2.0 1.7 140 1 0 -3.0 2.6a2.0 1.7 140 1 0 3.0 -2.6M638.3 628.1a1.4 1.2 111 1 0 -1.0 2.6a1.4 1.2 111 1 0 1.0 -2.6M573.1 677.3a1.7 1.5 94 1 0 -0.2 3.3a1.7 1.5 94 1 0 0.2 -3.3M586.0 631.2a1.2 1.0 177 1 0 -2.3 0.1a1.2 1.0 177 1 0 2.3 -0.1M647.4 733.4a1.3 1.2 120 1 0 -1.3 2.3a1.3 1.2 120 1 0 1.3 -2.3M616.1 656.0a1.9 1.7 65 1 0 1.7 3.5a1.9 1.7 65 1 0 -1.7 -3.5M621.3 621.2a1.5 1.3 170 1 0 -2.9 0.5a1.5 1.3 170 1 0 2.9 -0.5M566.6 663.2a1.5 1.3 37 1 0 2.4 1.8a1.5 1.3 37 1 0 -2.4 -1.8M635.3 732.7a1.7 1.5 152 1 0 -3.1 1.6a1.7 1.5 152 1 0 3.1 -1.6M582.0 674.1a1.4 1.2 27 1 0 2.4 1.2a1.4 1.2 27 1 0 -2.4 -1.2M535.9 709.2a1.3 1.1 19 1 0 2.4 0.8a1.3 1.1 19 1 0 -2.4 -0.8M581.6 713.5a1.8 1.6 13 1 0 3.6 0.9a1.8 1.6 13 1 0 -3.6 -0.9M567.5 663.9a2.1 1.8 81 1 0 0.6 4.1a2.1 1.8 81 1 0 -0.6 -4.1M653.1 648.3a1.4 1.3 108 1 0 -0.9 2.7a1.4 1.3 108 1 0 0.9 -2.7M572.1 713.8a1.6 1.4 116 1 0 -1.4 2.9a1.6 1.4 116 1 0 1.4 -2.9M568.3 660.9a1.9 1.7 85 1 0 0.4 3.8a1.9 1.7 85 1 0 -0.4 -3.8M564.8 684.6a1.2 1.0 143 1 0 -1.9 1.4a1.2 1.0 143 1 0 1.9 -1.4M557.2 707.8a2.0 1.8 13 1 0 4.0 0.9a2.0 1.8 13 1 0 -4.0 -0.9M582.8 692.3a1.5 1.4 20 1 0 2.9 1.0a1.5 1.4 20 1 0 -2.9 -1.0M588.7 708.8a1.3 1.1 107 1 0 -0.7 2.4a1.3 1.1 107 1 0 0.7 -2.4M541.4 648.0a1.2 1.1 105 1 0 -0.6 2.4a1.2 1.1 105 1 0 0.6 -2.4M549.1 658.6a1.7 1.5 43 1 0 2.5 2.3a1.7 1.5 43 1 0 -2.5 -2.3M559.6 641.5a1.7 1.5 135 1 0 -2.4 2.4a1.7 1.5 135 1 0 2.4 -2.4M622.1 634.3a1.5 1.3 113 1 0 -1.2 2.7a1.5 1.3 113 1 0 1.2 -2.7M590.6 642.7a1.9 1.7 147 1 0 -3.2 2.1a1.9 1.7 147 1 0 3.2 -2.1M586.5 659.9a1.6 1.4 45 1 0 2.3 2.3a1.6 1.4 45 1 0 -2.3 -2.3M568.9 668.3a1.9 1.7 109 1 0 -1.3 3.7a1.9 1.7 109 1 0 1.3 -3.7M636.6 625.3a1.5 1.3 140 1 0 -2.3 1.9a1.5 1.3 140 1 0 2.3 -1.9M547.0 671.5a1.5 1.3 157 1 0 -2.8 1.2a1.5 1.3 157 1 0 2.8 -1.2M568.8 679.4a2.0 1.8 102 1 0 -0.8 3.9a2.0 1.8 102 1 0 0.8 -3.9M640.2 733.4a1.8 1.6 12 1 0 3.5 0.8a1.8 1.6 12 1 0 -3.5 -0.8M592.0 686.8a1.4 1.2 151 1 0 -2.5 1.3a1.4 1.2 151 1 0 2.5 -1.3M534.0 648.1a2.0 1.8 174 1 0 -4.0 0.4a2.0 1.8 174 1 0 4.0 -0.4M588.9 633.4a1.4 1.2 133 1 0 -2.0 2.1a1.4 1.2 133 1 0 2.0 -2.1M637.8 677.1a1.2 1.0 53 1 0 1.4 1.9a1.2 1.0 53 1 0 -1.4 -1.9M562.9 656.8a1.8 1.6 53 1 0 2.2 2.9a1.8 1.6 53 1 0 -2.2 -2.9M634.4 693.5a1.8 1.5 81 1 0 0.6 3.5a1.8 1.5 81 1 0 -0.6 -3.5M537.0 676.7a1.7 1.5 96 1 0 -0.4 3.4a1.7 1.5 96 1 0 0.4 -3.4"/>
<path fill="#303f96" opacity="0.9" d="M608.4 620.5a1.4 0.7 50 1 0 1.8 2.2a1.4 0.7 50 1 0 -1.8 -2.2M622.4 697.6a1.3 0.6 161 1 0 -2.4 0.8a1.3 0.6 161 1 0 2.4 -0.8M581.5 621.0a1.7 0.8 39 1 0 2.6 2.2a1.7 0.8 39 1 0 -2.6 -2.2M535.4 640.4a1.7 0.8 117 1 0 -1.6 3.1a1.7 0.8 117 1 0 1.6 -3.1M559.3 687.1a1.2 0.6 146 1 0 -2.0 1.3a1.2 0.6 146 1 0 2.0 -1.3M629.0 699.4a1.3 0.6 61 1 0 1.3 2.4a1.3 0.6 61 1 0 -1.3 -2.4M646.8 657.7a1.3 0.6 17 1 0 2.5 0.7a1.3 0.6 17 1 0 -2.5 -0.7M636.3 688.4a1.9 0.9 145 1 0 -3.2 2.2a1.9 0.9 145 1 0 3.2 -2.2M596.1 731.2a1.8 0.8 68 1 0 1.3 3.3a1.8 0.8 68 1 0 -1.3 -3.3M634.1 690.5a1.8 0.8 155 1 0 -3.2 1.5a1.8 0.8 155 1 0 3.2 -1.5M616.2 623.0a1.5 0.7 41 1 0 2.2 1.9a1.5 0.7 41 1 0 -2.2 -1.9M539.7 645.5a1.5 0.7 18 1 0 2.8 0.9a1.5 0.7 18 1 0 -2.8 -0.9M608.3 660.1a1.4 0.7 67 1 0 1.1 2.6a1.4 0.7 67 1 0 -1.1 -2.6M564.8 726.9a1.8 0.9 117 1 0 -1.6 3.2a1.8 0.9 117 1 0 1.6 -3.2M550.9 703.4a1.6 0.7 29 1 0 2.7 1.5a1.6 0.7 29 1 0 -2.7 -1.5M652.4 691.9a1.9 0.9 100 1 0 -0.7 3.7a1.9 0.9 100 1 0 0.7 -3.7M633.2 708.9a1.2 0.6 41 1 0 1.8 1.6a1.2 0.6 41 1 0 -1.8 -1.6M568.2 648.7a2.2 1.0 38 1 0 3.4 2.6a2.2 1.0 38 1 0 -3.4 -2.6M639.0 654.1a1.6 0.7 118 1 0 -1.5 2.8a1.6 0.7 118 1 0 1.5 -2.8M641.9 671.4a1.4 0.7 48 1 0 1.9 2.1a1.4 0.7 48 1 0 -1.9 -2.1M600.4 647.4a2.1 1.0 105 1 0 -1.1 4.1a2.1 1.0 105 1 0 1.1 -4.1M581.8 644.3a1.7 0.8 180 1 0 -3.4 0.0a1.7 0.8 180 1 0 3.4 -0.0M540.8 623.5a1.8 0.9 20 1 0 3.4 1.2a1.8 0.9 20 1 0 -3.4 -1.2M626.4 667.8a1.6 0.7 11 1 0 3.1 0.6a1.6 0.7 11 1 0 -3.1 -0.6M654.9 680.5a2.1 1.0 175 1 0 -4.1 0.4a2.1 1.0 175 1 0 4.1 -0.4M533.7 701.8a1.7 0.8 123 1 0 -1.9 2.9a1.7 0.8 123 1 0 1.9 -2.9M562.4 693.3a1.6 0.8 20 1 0 3.1 1.1a1.6 0.8 20 1 0 -3.1 -1.1M588.1 730.0a1.5 0.7 158 1 0 -2.7 1.1a1.5 0.7 158 1 0 2.7 -1.1M594.4 639.0a2.1 1.0 164 1 0 -4.0 1.1a2.1 1.0 164 1 0 4.0 -1.1M568.2 692.3a1.3 0.6 110 1 0 -0.9 2.5a1.3 0.6 110 1 0 0.9 -2.5M625.7 680.8a1.7 0.8 140 1 0 -2.7 2.2a1.7 0.8 140 1 0 2.7 -2.2M529.3 656.5a2.1 1.0 4 1 0 4.3 0.3a2.1 1.0 4 1 0 -4.3 -0.3M637.8 715.2a1.2 0.6 55 1 0 1.4 2.1a1.2 0.6 55 1 0 -1.4 -2.1M636.8 729.3a1.7 0.8 15 1 0 3.3 0.9a1.7 0.8 15 1 0 -3.3 -0.9M540.8 707.0a1.3 0.6 138 1 0 -2.0 1.8a1.3 0.6 138 1 0 2.0 -1.8M587.9 681.6a2.1 1.0 48 1 0 2.8 3.1a2.1 1.0 48 1 0 -2.8 -3.1M583.2 641.5a1.9 0.9 97 1 0 -0.5 3.8a1.9 0.9 97 1 0 0.5 -3.8M557.8 655.2a1.9 0.9 179 1 0 -3.7 0.1a1.9 0.9 179 1 0 3.7 -0.1M583.5 678.8a1.4 0.7 22 1 0 2.6 1.1a1.4 0.7 22 1 0 -2.6 -1.1M571.6 686.7a1.4 0.7 41 1 0 2.1 1.9a1.4 0.7 41 1 0 -2.1 -1.9M538.5 691.3a2.1 1.0 41 1 0 3.2 2.8a2.1 1.0 41 1 0 -3.2 -2.8M634.8 625.6a1.9 0.9 43 1 0 2.7 2.5a1.9 0.9 43 1 0 -2.7 -2.5M559.3 633.8a1.8 0.8 168 1 0 -3.5 0.7a1.8 0.8 168 1 0 3.5 -0.7M590.2 709.9a1.4 0.7 145 1 0 -2.3 1.6a1.4 0.7 145 1 0 2.3 -1.6M542.8 667.6a1.7 0.8 76 1 0 0.8 3.2a1.7 0.8 76 1 0 -0.8 -3.2M621.6 697.6a1.3 0.6 177 1 0 -2.6 0.1a1.3 0.6 177 1 0 2.6 -0.1M581.8 657.8a1.4 0.7 155 1 0 -2.6 1.2a1.4 0.7 155 1 0 2.6 -1.2M554.2 669.8a1.5 0.7 76 1 0 0.7 2.9a1.5 0.7 76 1 0 -0.7 -2.9M561.5 725.0a2.1 1.0 80 1 0 0.7 4.1a2.1 1.0 80 1 0 -0.7 -4.1M600.5 624.5a2.0 1.0 180 1 0 -4.1 0.0a2.0 1.0 180 1 0 4.1 -0.0M650.7 726.7a1.4 0.6 153 1 0 -2.4 1.2a1.4 0.6 153 1 0 2.4 -1.2M590.2 642.5a1.2 0.6 72 1 0 0.8 2.4a1.2 0.6 72 1 0 -0.8 -2.4M576.3 732.8a2.0 0.9 48 1 0 2.7 2.9a2.0 0.9 48 1 0 -2.7 -2.9M589.1 668.0a2.2 1.0 172 1 0 -4.4 0.6a2.2 1.0 172 1 0 4.4 -0.6M597.8 702.2a1.5 0.7 28 1 0 2.6 1.4a1.5 0.7 28 1 0 -2.6 -1.4M649.7 684.7a2.0 0.9 98 1 0 -0.5 3.9a2.0 0.9 98 1 0 0.5 -3.9M538.4 685.1a2.1 1.0 91 1 0 -0.0 4.1a2.1 1.0 91 1 0 0.0 -4.1M549.3 731.1a1.4 0.6 14 1 0 2.7 0.7a1.4 0.6 14 1 0 -2.7 -0.7M603.0 697.0a1.3 0.6 42 1 0 1.9 1.8a1.3 0.6 42 1 0 -1.9 -1.8M640.5 645.8a1.8 0.9 107 1 0 -1.1 3.5a1.8 0.9 107 1 0 1.1 -3.5M582.7 685.0a2.1 1.0 94 1 0 -0.3 4.3a2.1 1.0 94 1 0 0.3 -4.3M555.1 701.6a1.6 0.7 43 1 0 2.3 2.2a1.6 0.7 43 1 0 -2.3 -2.2M612.2 652.2a2.0 0.9 57 1 0 2.1 3.3a2.0 0.9 57 1 0 -2.1 -3.3M542.4 672.4a2.2 1.0 180 1 0 -4.4 0.0a2.2 1.0 180 1 0 4.4 -0.0M538.9 642.0a2.1 1.0 48 1 0 2.9 3.2a2.1 1.0 48 1 0 -2.9 -3.2M638.2 720.6a1.4 0.6 67 1 0 1.1 2.5a1.4 0.6 67 1 0 -1.1 -2.5M633.8 699.1a2.2 1.0 110 1 0 -1.5 4.1a2.2 1.0 110 1 0 1.5 -4.1M612.4 618.7a1.5 0.7 147 1 0 -2.5 1.6a1.5 0.7 147 1 0 2.5 -1.6M611.1 728.3a1.3 0.6 24 1 0 2.4 1.1a1.3 0.6 24 1 0 -2.4 -1.1M543.3 682.2a1.8 0.9 49 1 0 2.4 2.7a1.8 0.9 49 1 0 -2.4 -2.7M619.5 641.2a1.5 0.7 114 1 0 -1.2 2.7a1.5 0.7 114 1 0 1.2 -2.7M592.1 724.3a1.3 0.6 152 1 0 -2.3 1.2a1.3 0.6 152 1 0 2.3 -1.2M581.1 651.1a2.0 0.9 1 1 0 4.0 0.0a2.0 0.9 1 1 0 -4.0 -0.0M610.3 648.1a1.8 0.8 133 1 0 -2.4 2.5a1.8 0.8 133 1 0 2.4 -2.5M581.5 619.2a2.1 1.0 14 1 0 4.1 1.0a2.1 1.0 14 1 0 -4.1 -1.0M643.1 681.8a1.8 0.8 150 1 0 -3.1 1.8a1.8 0.8 150 1 0 3.1 -1.8M548.3 631.8a2.1 1.0 55 1 0 2.4 3.5a2.1 1.0 55 1 0 -2.4 -3.5M629.8 719.2a1.4 0.7 162 1 0 -2.7 0.9a1.4 0.7 162 1 0 2.7 -0.9M563.4 629.3a2.1 1.0 140 1 0 -3.2 2.7a2.1 1.0 140 1 0 3.2 -2.7M579.0 690.5a2.1 1.0 28 1 0 3.8 2.0a2.1 1.0 28 1 0 -3.8 -2.0M638.5 732.0a2.1 1.0 146 1 0 -3.5 2.3a2.1 1.0 146 1 0 3.5 -2.3M533.3 703.2a2.1 1.0 60 1 0 2.2 3.7a2.1 1.0 60 1 0 -2.2 -3.7M630.4 719.2a1.5 0.7 146 1 0 -2.4 1.6a1.5 0.7 146 1 0 2.4 -1.6M629.3 630.5a2.1 1.0 157 1 0 -3.8 1.6a2.1 1.0 157 1 0 3.8 -1.6M558.3 713.0a1.5 0.7 83 1 0 0.4 3.0a1.5 0.7 83 1 0 -0.4 -3.0M627.0 645.2a1.4 0.7 4 1 0 2.8 0.2a1.4 0.7 4 1 0 -2.8 -0.2M572.9 719.9a1.5 0.7 174 1 0 -2.9 0.3a1.5 0.7 174 1 0 2.9 -0.3M611.3 665.4a1.7 0.8 177 1 0 -3.5 0.2a1.7 0.8 177 1 0 3.5 -0.2M647.3 632.0a1.4 0.6 175 1 0 -2.7 0.3a1.4 0.6 175 1 0 2.7 -0.3M647.2 649.2a1.6 0.8 20 1 0 3.1 1.1a1.6 0.8 20 1 0 -3.1 -1.1"/>
<polygon points="554.0,626.0 553.1,627.4 552.3,628.7 551.0,628.9 549.4,629.3 549.4,627.1 549.0,626.0 548.3,624.1 549.9,623.6 551.0,623.1 552.0,623.9 553.7,624.1" fill="#f6efe2" stroke="none" stroke-width="0" stroke-linejoin="round" />
<polygon points="616.9,662.0 616.8,663.4 615.1,663.5 614.0,664.6 612.5,664.1 611.6,663.2 610.9,662.0 612.0,661.0 612.0,659.1 614.0,659.8 615.1,660.4 616.7,660.7" fill="#f6efe2" stroke="none" stroke-width="0" stroke-linejoin="round" />
<polygon points="546.8,690.0 546.6,691.4 546.2,693.2 545.0,692.5 543.9,692.9 543.3,691.4 543.1,690.0 543.2,688.4 544.2,687.9 545.0,686.2 546.0,687.3 546.8,688.5" fill="#f6efe2" stroke="none" stroke-width="0" stroke-linejoin="round" />
<polygon points="581.7,700.0 581.6,700.9 581.3,702.3 580.0,701.7 579.2,701.4 578.1,701.1 578.1,700.0 578.3,699.0 579.3,698.8 580.0,697.4 581.2,697.9 581.2,699.3" fill="#f6efe2" stroke="none" stroke-width="0" stroke-linejoin="round" />
<polygon points="604.1,676.0 604.0,676.9 602.8,677.0 602.0,677.1 601.0,677.3 599.8,676.9 600.1,676.0 600.4,675.3 600.9,674.6 602.0,674.3 603.0,674.7 603.3,675.4" fill="#f6efe2" stroke="none" stroke-width="0" stroke-linejoin="round" />
<polygon points="550.3,715.0 549.8,716.6 548.9,717.2 548.0,717.7 547.0,717.6 545.9,716.8 546.3,715.0 546.3,713.5 547.0,712.3 548.0,711.5 549.1,712.3 549.3,713.9" fill="#f6efe2" stroke="none" stroke-width="0" stroke-linejoin="round" />
<polygon points="642.3,628.0 642.1,629.2 640.9,629.6 640.0,630.1 638.9,630.0 637.9,629.2 638.3,628.0 638.7,627.2 638.9,626.1 640.0,626.1 641.1,626.1 641.4,627.2" fill="#f6efe2" stroke="none" stroke-width="0" stroke-linejoin="round" />
<polygon points="576.4,640.0 576.3,640.8 575.7,641.3 575.0,641.9 574.3,641.3 573.8,640.7 573.6,640.0 573.6,639.2 574.2,638.7 575.0,638.7 575.8,638.6 576.4,639.2" fill="#f6efe2" stroke="none" stroke-width="0" stroke-linejoin="round" />
</g>
</g>
<rect x="130.8" y="530.7" width="20.2" height="19.0" fill="none" stroke="#111" stroke-width="1.3"/>
<line x1="130.80" y1="549.70" x2="72.00" y2="617.80" stroke="#111" stroke-width="1.3" />
<line x1="151.00" y1="549.70" x2="198.00" y2="617.80" stroke="#111" stroke-width="1.3" />
<rect x="273.7" y="512.5" width="19.3" height="17.0" fill="none" stroke="#111" stroke-width="1.3"/>
<line x1="273.70" y1="529.50" x2="207.00" y2="617.80" stroke="#111" stroke-width="1.3" />
<line x1="293.00" y1="529.50" x2="336.00" y2="617.80" stroke="#111" stroke-width="1.3" />
<rect x="476.4" y="513.8" width="17.8" height="16.0" fill="none" stroke="#111" stroke-width="1.3"/>
<line x1="476.40" y1="529.80" x2="397.00" y2="617.80" stroke="#111" stroke-width="1.3" />
<line x1="494.20" y1="529.80" x2="522.30" y2="617.80" stroke="#111" stroke-width="1.3" />
<rect x="591.9" y="513.6" width="17.0" height="16.2" fill="none" stroke="#111" stroke-width="1.3"/>
<line x1="591.90" y1="529.80" x2="531.40" y2="617.80" stroke="#111" stroke-width="1.3" />
<line x1="608.90" y1="529.80" x2="653.30" y2="617.80" stroke="#111" stroke-width="1.3" />
<text x="5.90" y="757.00" font-size="12.8" font-weight="normal" font-style="normal" text-anchor="start" fill="#231f20" >G</text>
<text x="79.20" y="762.50" font-size="14.45" font-weight="bold" font-style="normal" text-anchor="start" fill="#231f20" >FDUSCC Cohort</text>
<line x1="50.00" y1="773.60" x2="50.00" y2="916.40" stroke="#2b2b2b" stroke-width="1.3" />
<line x1="49.40" y1="915.80" x2="218.70" y2="915.80" stroke="#2b2b2b" stroke-width="1.3" />
<line x1="38.50" y1="915.80" x2="50.00" y2="915.80" stroke="#2b2b2b" stroke-width="1.3" />
<text x="36.20" y="919.80" font-size="11.3" font-weight="bold" font-style="normal" text-anchor="end" fill="#231f20" >0</text>
<line x1="38.50" y1="887.48" x2="50.00" y2="887.48" stroke="#2b2b2b" stroke-width="1.3" />
<text x="36.20" y="891.48" font-size="11.3" font-weight="bold" font-style="normal" text-anchor="end" fill="#231f20" >1</text>
<line x1="38.50" y1="859.16" x2="50.00" y2="859.16" stroke="#2b2b2b" stroke-width="1.3" />
<text x="36.20" y="863.16" font-size="11.3" font-weight="bold" font-style="normal" text-anchor="end" fill="#231f20" >2</text>
<line x1="38.50" y1="830.84" x2="50.00" y2="830.84" stroke="#2b2b2b" stroke-width="1.3" />
<text x="36.20" y="834.84" font-size="11.3" font-weight="bold" font-style="normal" text-anchor="end" fill="#231f20" >3</text>
<line x1="38.50" y1="802.52" x2="50.00" y2="802.52" stroke="#2b2b2b" stroke-width="1.3" />
<text x="36.20" y="806.52" font-size="11.3" font-weight="bold" font-style="normal" text-anchor="end" fill="#231f20" >4</text>
<line x1="38.50" y1="774.20" x2="50.00" y2="774.20" stroke="#2b2b2b" stroke-width="1.3" />
<text x="36.20" y="778.20" font-size="11.3" font-weight="bold" font-style="normal" text-anchor="end" fill="#231f20" >5</text>
<line x1="97.00" y1="915.80" x2="97.00" y2="921.50" stroke="#2b2b2b" stroke-width="1.3" />
<line x1="169.30" y1="915.80" x2="169.30" y2="921.50" stroke="#2b2b2b" stroke-width="1.3" />
<text transform="translate(21.90,842.80) rotate(-90)" font-size="11.66" font-weight="bold" text-anchor="middle" fill="#231f20" >KBTBD11 IHC score</text>
<text transform="translate(100.0,926.5) rotate(-45)" font-size="11.3" font-weight="bold" text-anchor="end" fill="#231f20"><tspan x="0" y="0">Benign</tspan><tspan x="4.2" y="11.9">(n=82)</tspan></text>
<text transform="translate(174.3,926.0) rotate(-45)" font-size="11.3" font-weight="bold" text-anchor="end" fill="#231f20"><tspan x="0" y="0">PCa</tspan><tspan x="7.1" y="14.0">(n=82)</tspan></text>
<polyline points="96.00,794.20 96.00,785.50 169.30,785.50 169.30,816.50" fill="none" stroke="#2b2b2b" stroke-width="1.2" stroke-linejoin="round" />
<text x="133.80" y="784.60" font-size="8.4" font-weight="normal" font-style="normal" text-anchor="middle" fill="#111" >****</text>
<polygon points="91.56,807.53 96.36,807.53 93.96,803.77" fill="#3a56b0"/><polygon points="94.56,807.53 99.36,807.53 96.96,803.77" fill="#3a56b0"/><polygon points="97.68,807.53 102.48,807.53 100.08,803.77" fill="#3a56b0"/><polygon points="100.67,807.53 105.47,807.53 103.07,803.77" fill="#3a56b0"/><polygon points="93.60,818.00 98.40,818.00 96.00,814.24" fill="#3a56b0"/><polygon points="90.48,820.72 95.28,820.72 92.88,816.96" fill="#3a56b0"/><polygon points="98.63,820.72 103.43,820.72 101.03,816.96" fill="#3a56b0"/><polygon points="93.20,823.44 98.00,823.44 95.60,819.68" fill="#3a56b0"/><polygon points="96.60,823.44 101.40,823.44 99.00,819.68" fill="#3a56b0"/><polygon points="87.08,830.24 91.88,830.24 89.48,826.47" fill="#3a56b0"/><polygon points="90.48,830.24 95.28,830.24 92.88,826.47" fill="#3a56b0"/><polygon points="93.88,830.24 98.68,830.24 96.28,826.47" fill="#3a56b0"/><polygon points="97.28,830.24 102.08,830.24 99.68,826.47" fill="#3a56b0"/><polygon points="100.67,830.24 105.47,830.24 103.07,826.47" fill="#3a56b0"/><polygon points="102.71,830.24 107.51,830.24 105.11,826.47" fill="#3a56b0"/><polygon points="80.28,841.12 85.08,841.12 82.68,837.35" fill="#3a56b0"/><polygon points="109.51,841.12 114.31,841.12 111.91,837.35" fill="#3a56b0"/><polygon points="82.32,843.84 87.12,843.84 84.72,840.07" fill="#3a56b0"/><polygon points="85.72,843.84 90.52,843.84 88.12,840.07" fill="#3a56b0"/><polygon points="89.12,843.84 93.92,843.84 91.52,840.07" fill="#3a56b0"/><polygon points="92.52,843.84 97.32,843.84 94.92,840.07" fill="#3a56b0"/><polygon points="95.92,843.84 100.72,843.84 98.32,840.07" fill="#3a56b0"/><polygon points="99.31,843.84 104.11,843.84 101.71,840.07" fill="#3a56b0"/><polygon points="102.71,843.84 107.51,843.84 105.11,840.07" fill="#3a56b0"/><polygon points="106.11,843.84 110.91,843.84 108.51,840.07" fill="#3a56b0"/><polygon points="108.15,843.84 112.95,843.84 110.55,840.07" fill="#3a56b0"/><polygon points="93.60,855.40 98.40,855.40 96.00,851.63" fill="#3a56b0"/><polygon points="92.52,861.11 97.32,861.11 94.92,857.34" fill="#3a56b0"/><polygon points="96.60,861.11 101.40,861.11 99.00,857.34" fill="#3a56b0"/><polygon points="87.76,866.28 92.56,866.28 90.16,862.51" fill="#3a56b0"/><polygon points="91.16,866.28 95.96,866.28 93.56,862.51" fill="#3a56b0"/><polygon points="98.63,866.28 103.43,866.28 101.03,862.51" fill="#3a56b0"/><polygon points="101.35,866.28 106.15,866.28 103.75,862.51" fill="#3a56b0"/><polygon points="93.20,869.27 98.00,869.27 95.60,865.50" fill="#3a56b0"/><polygon points="96.60,869.27 101.40,869.27 99.00,865.50" fill="#3a56b0"/><polygon points="74.16,880.56 78.96,880.56 76.56,876.79" fill="#3a56b0"/><polygon points="87.76,880.56 92.56,880.56 90.16,876.79" fill="#3a56b0"/><polygon points="95.92,880.56 100.72,880.56 98.32,876.79" fill="#3a56b0"/><polygon points="115.63,880.56 120.43,880.56 118.03,876.79" fill="#3a56b0"/><polygon points="76.20,883.27 81.00,883.27 78.60,879.51" fill="#3a56b0"/><polygon points="79.60,883.27 84.40,883.27 82.00,879.51" fill="#3a56b0"/><polygon points="83.00,883.27 87.80,883.27 85.40,879.51" fill="#3a56b0"/><polygon points="86.40,883.27 91.20,883.27 88.80,879.51" fill="#3a56b0"/><polygon points="89.80,883.27 94.60,883.27 92.20,879.51" fill="#3a56b0"/><polygon points="93.20,883.27 98.00,883.27 95.60,879.51" fill="#3a56b0"/><polygon points="96.60,883.27 101.40,883.27 99.00,879.51" fill="#3a56b0"/><polygon points="99.99,883.27 104.79,883.27 102.39,879.51" fill="#3a56b0"/><polygon points="103.39,883.27 108.19,883.27 105.79,879.51" fill="#3a56b0"/><polygon points="106.79,883.27 111.59,883.27 109.19,879.51" fill="#3a56b0"/><polygon points="110.19,883.27 114.99,883.27 112.59,879.51" fill="#3a56b0"/><polygon points="112.91,883.27 117.71,883.27 115.31,879.51" fill="#3a56b0"/><polygon points="88.44,886.67 93.24,886.67 90.84,882.91" fill="#3a56b0"/><polygon points="95.92,886.67 100.72,886.67 98.32,882.91" fill="#3a56b0"/><polygon points="91.84,888.71 96.64,888.71 94.24,884.95" fill="#3a56b0"/><polygon points="95.24,888.71 100.04,888.71 97.64,884.95" fill="#3a56b0"/><polygon points="101.35,888.71 106.15,888.71 103.75,884.95" fill="#3a56b0"/><polygon points="94.56,892.11 99.36,892.11 96.96,888.35" fill="#3a56b0"/><polygon points="98.63,892.11 103.43,892.11 101.03,888.35" fill="#3a56b0"/><polygon points="90.48,894.83 95.28,894.83 92.88,891.07" fill="#3a56b0"/><polygon points="94.56,894.83 99.36,894.83 96.96,891.07" fill="#3a56b0"/><polygon points="90.48,900.27 95.28,900.27 92.88,896.50" fill="#3a56b0"/><polygon points="97.95,900.27 102.75,900.27 100.35,896.50" fill="#3a56b0"/><polygon points="95.24,902.99 100.04,902.99 97.64,899.22" fill="#3a56b0"/><polygon points="93.60,908.70 98.40,908.70 96.00,904.94" fill="#3a56b0"/><polygon points="74.84,917.27 79.64,917.27 77.24,913.50" fill="#3a56b0"/><polygon points="77.56,917.27 82.36,917.27 79.96,913.50" fill="#3a56b0"/><polygon points="80.28,917.27 85.08,917.27 82.68,913.50" fill="#3a56b0"/><polygon points="83.00,917.27 87.80,917.27 85.40,913.50" fill="#3a56b0"/><polygon points="85.72,917.27 90.52,917.27 88.12,913.50" fill="#3a56b0"/><polygon points="88.44,917.27 93.24,917.27 90.84,913.50" fill="#3a56b0"/><polygon points="91.16,917.27 95.96,917.27 93.56,913.50" fill="#3a56b0"/><polygon points="93.88,917.27 98.68,917.27 96.28,913.50" fill="#3a56b0"/><polygon points="96.60,917.27 101.40,917.27 99.00,913.50" fill="#3a56b0"/><polygon points="99.31,917.27 104.11,917.27 101.71,913.50" fill="#3a56b0"/><polygon points="102.03,917.27 106.83,917.27 104.43,913.50" fill="#3a56b0"/><polygon points="104.75,917.27 109.55,917.27 107.15,913.50" fill="#3a56b0"/><polygon points="107.47,917.27 112.27,917.27 109.87,913.50" fill="#3a56b0"/><polygon points="110.19,917.27 114.99,917.27 112.59,913.50" fill="#3a56b0"/><polygon points="112.91,917.27 117.71,917.27 115.31,913.50" fill="#3a56b0"/><polygon points="115.63,917.27 120.43,917.27 118.03,913.50" fill="#3a56b0"/>
<line x1="97.00" y1="839.60" x2="97.00" y2="904.50" stroke="#333" stroke-width="1.3" />
<line x1="82.00" y1="839.60" x2="111.00" y2="839.60" stroke="#333" stroke-width="1.3" />
<line x1="82.00" y1="904.50" x2="109.00" y2="904.50" stroke="#333" stroke-width="1.3" />
<line x1="73.60" y1="872.50" x2="120.20" y2="872.50" stroke="#111" stroke-width="2.6" />
<ellipse cx="165.09" cy="830.98" rx="1.9" ry="1.35" fill="#e8202a"/><ellipse cx="168.74" cy="830.98" rx="1.9" ry="1.35" fill="#e8202a"/><ellipse cx="172.40" cy="830.98" rx="1.9" ry="1.35" fill="#e8202a"/><ellipse cx="171.88" cy="839.34" rx="1.9" ry="1.35" fill="#e8202a"/><ellipse cx="162.47" cy="842.16" rx="1.9" ry="1.35" fill="#e8202a"/><ellipse cx="166.13" cy="842.16" rx="1.9" ry="1.35" fill="#e8202a"/><ellipse cx="159.34" cy="845.09" rx="1.9" ry="1.35" fill="#e8202a"/><ellipse cx="178.15" cy="845.09" rx="1.9" ry="1.35" fill="#e8202a"/><ellipse cx="161.43" cy="848.01" rx="1.9" ry="1.35" fill="#e8202a"/><ellipse cx="165.09" cy="848.01" rx="1.9" ry="1.35" fill="#e8202a"/><ellipse cx="168.74" cy="848.01" rx="1.9" ry="1.35" fill="#e8202a"/><ellipse cx="172.40" cy="848.01" rx="1.9" ry="1.35" fill="#e8202a"/><ellipse cx="176.06" cy="848.01" rx="1.9" ry="1.35" fill="#e8202a"/><ellipse cx="150.45" cy="856.38" rx="1.9" ry="1.35" fill="#e8202a"/><ellipse cx="187.04" cy="856.38" rx="1.9" ry="1.35" fill="#e8202a"/><ellipse cx="152.54" cy="859.51" rx="1.9" ry="1.35" fill="#e8202a"/><ellipse cx="156.20" cy="859.51" rx="1.9" ry="1.35" fill="#e8202a"/><ellipse cx="159.86" cy="859.51" rx="1.9" ry="1.35" fill="#e8202a"/><ellipse cx="163.52" cy="859.51" rx="1.9" ry="1.35" fill="#e8202a"/><ellipse cx="167.18" cy="859.51" rx="1.9" ry="1.35" fill="#e8202a"/><ellipse cx="170.84" cy="859.51" rx="1.9" ry="1.35" fill="#e8202a"/><ellipse cx="174.49" cy="859.51" rx="1.9" ry="1.35" fill="#e8202a"/><ellipse cx="178.15" cy="859.51" rx="1.9" ry="1.35" fill="#e8202a"/><ellipse cx="181.81" cy="859.51" rx="1.9" ry="1.35" fill="#e8202a"/><ellipse cx="184.95" cy="859.51" rx="1.9" ry="1.35" fill="#e8202a"/><ellipse cx="167.70" cy="864.95" rx="1.9" ry="1.35" fill="#e8202a"/><ellipse cx="171.88" cy="864.95" rx="1.9" ry="1.35" fill="#e8202a"/><ellipse cx="162.47" cy="870.49" rx="1.9" ry="1.35" fill="#e8202a"/><ellipse cx="169.27" cy="870.49" rx="1.9" ry="1.35" fill="#e8202a"/><ellipse cx="175.02" cy="870.49" rx="1.9" ry="1.35" fill="#e8202a"/><ellipse cx="178.67" cy="870.49" rx="1.9" ry="1.35" fill="#e8202a"/><ellipse cx="165.61" cy="873.52" rx="1.9" ry="1.35" fill="#e8202a"/><ellipse cx="171.88" cy="873.52" rx="1.9" ry="1.35" fill="#e8202a"/><ellipse cx="162.47" cy="881.67" rx="1.9" ry="1.35" fill="#e8202a"/><ellipse cx="175.54" cy="881.67" rx="1.9" ry="1.35" fill="#e8202a"/><ellipse cx="178.67" cy="881.67" rx="1.9" ry="1.35" fill="#e8202a"/><ellipse cx="147.32" cy="884.60" rx="1.9" ry="1.35" fill="#e8202a"/><ellipse cx="165.61" cy="884.60" rx="1.9" ry="1.35" fill="#e8202a"/><ellipse cx="171.36" cy="884.60" rx="1.9" ry="1.35" fill="#e8202a"/><ellipse cx="190.70" cy="884.60" rx="1.9" ry="1.35" fill="#e8202a"/><ellipse cx="149.41" cy="887.42" rx="1.9" ry="1.35" fill="#e8202a"/><ellipse cx="153.07" cy="887.42" rx="1.9" ry="1.35" fill="#e8202a"/><ellipse cx="156.72" cy="887.42" rx="1.9" ry="1.35" fill="#e8202a"/><ellipse cx="160.38" cy="887.42" rx="1.9" ry="1.35" fill="#e8202a"/><ellipse cx="164.04" cy="887.42" rx="1.9" ry="1.35" fill="#e8202a"/><ellipse cx="167.70" cy="887.42" rx="1.9" ry="1.35" fill="#e8202a"/><ellipse cx="171.36" cy="887.42" rx="1.9" ry="1.35" fill="#e8202a"/><ellipse cx="175.02" cy="887.42" rx="1.9" ry="1.35" fill="#e8202a"/><ellipse cx="178.67" cy="887.42" rx="1.9" ry="1.35" fill="#e8202a"/><ellipse cx="182.33" cy="887.42" rx="1.9" ry="1.35" fill="#e8202a"/><ellipse cx="185.99" cy="887.42" rx="1.9" ry="1.35" fill="#e8202a"/><ellipse cx="188.08" cy="887.42" rx="1.9" ry="1.35" fill="#e8202a"/><ellipse cx="165.61" cy="890.24" rx="1.9" ry="1.35" fill="#e8202a"/><ellipse cx="171.88" cy="890.24" rx="1.9" ry="1.35" fill="#e8202a"/><ellipse cx="162.47" cy="893.17" rx="1.9" ry="1.35" fill="#e8202a"/><ellipse cx="166.13" cy="893.17" rx="1.9" ry="1.35" fill="#e8202a"/><ellipse cx="169.27" cy="893.17" rx="1.9" ry="1.35" fill="#e8202a"/><ellipse cx="175.54" cy="893.17" rx="1.9" ry="1.35" fill="#e8202a"/><ellipse cx="166.13" cy="894.42" rx="1.9" ry="1.35" fill="#e8202a"/><ellipse cx="172.40" cy="894.42" rx="1.9" ry="1.35" fill="#e8202a"/><ellipse cx="162.47" cy="898.60" rx="1.9" ry="1.35" fill="#e8202a"/><ellipse cx="167.18" cy="898.60" rx="1.9" ry="1.35" fill="#e8202a"/><ellipse cx="171.36" cy="901.53" rx="1.9" ry="1.35" fill="#e8202a"/><ellipse cx="175.02" cy="901.53" rx="1.9" ry="1.35" fill="#e8202a"/><ellipse cx="165.61" cy="904.14" rx="1.9" ry="1.35" fill="#e8202a"/><ellipse cx="168.74" cy="910.10" rx="1.9" ry="1.35" fill="#e8202a"/><ellipse cx="146.27" cy="915.64" rx="1.9" ry="1.35" fill="#e8202a"/><ellipse cx="149.41" cy="915.64" rx="1.9" ry="1.35" fill="#e8202a"/><ellipse cx="152.54" cy="915.64" rx="1.9" ry="1.35" fill="#e8202a"/><ellipse cx="155.68" cy="915.64" rx="1.9" ry="1.35" fill="#e8202a"/><ellipse cx="158.81" cy="915.64" rx="1.9" ry="1.35" fill="#e8202a"/><ellipse cx="161.95" cy="915.64" rx="1.9" ry="1.35" fill="#e8202a"/><ellipse cx="165.09" cy="915.64" rx="1.9" ry="1.35" fill="#e8202a"/><ellipse cx="168.22" cy="915.64" rx="1.9" ry="1.35" fill="#e8202a"/><ellipse cx="171.36" cy="915.64" rx="1.9" ry="1.35" fill="#e8202a"/><ellipse cx="174.49" cy="915.64" rx="1.9" ry="1.35" fill="#e8202a"/><ellipse cx="177.63" cy="915.64" rx="1.9" ry="1.35" fill="#e8202a"/><ellipse cx="180.77" cy="915.64" rx="1.9" ry="1.35" fill="#e8202a"/><ellipse cx="183.90" cy="915.64" rx="1.9" ry="1.35" fill="#e8202a"/><ellipse cx="187.04" cy="915.64" rx="1.9" ry="1.35" fill="#e8202a"/><ellipse cx="189.65" cy="915.64" rx="1.9" ry="1.35" fill="#e8202a"/><ellipse cx="191.22" cy="915.64" rx="1.9" ry="1.35" fill="#e8202a"/>
<line x1="169.30" y1="855.50" x2="169.30" y2="905.90" stroke="#333" stroke-width="1.3" />
<line x1="157.20" y1="855.50" x2="180.80" y2="855.50" stroke="#444" stroke-width="1.3" />
<line x1="157.20" y1="905.90" x2="180.80" y2="905.90" stroke="#444" stroke-width="1.3" />
<line x1="145.20" y1="880.60" x2="192.80" y2="880.60" stroke="#111" stroke-width="2.6" />
<text x="237.80" y="757.10" font-size="12.5" font-weight="normal" font-style="normal" text-anchor="start" fill="#231f20" >H</text>
<text x="316.00" y="759.10" font-size="14.1" font-weight="bold" font-style="normal" text-anchor="start" fill="#231f20" >FDUSCC Cohort</text>
<line x1="249.00" y1="762.40" x2="249.00" y2="915.90" stroke="#111" stroke-width="1.8" />
<line x1="248.10" y1="915.00" x2="476.50" y2="915.00" stroke="#111" stroke-width="1.8" />
<line x1="244.00" y1="777.00" x2="249.00" y2="777.00" stroke="#111" stroke-width="1.6" />
<text x="244.00" y="781.10" font-size="11.6" font-weight="bold" font-style="normal" text-anchor="end" fill="#231f20" >100</text>
<line x1="244.00" y1="845.90" x2="249.00" y2="845.90" stroke="#111" stroke-width="1.6" />
<text x="244.00" y="850.00" font-size="11.6" font-weight="bold" font-style="normal" text-anchor="end" fill="#231f20" >50</text>
<line x1="244.00" y1="914.80" x2="249.00" y2="914.80" stroke="#111" stroke-width="1.6" />
<text x="244.00" y="918.90" font-size="11.6" font-weight="bold" font-style="normal" text-anchor="end" fill="#231f20" >0</text>
<line x1="248.20" y1="915.00" x2="248.20" y2="920.50" stroke="#111" stroke-width="1.6" />
<text x="248.20" y="932.10" font-size="11.4" font-weight="bold" font-style="normal" text-anchor="middle" fill="#231f20" >0</text>
<line x1="305.40" y1="915.00" x2="305.40" y2="920.50" stroke="#111" stroke-width="1.6" />
<text x="305.40" y="932.10" font-size="11.4" font-weight="bold" font-style="normal" text-anchor="middle" fill="#231f20" >50</text>
<line x1="362.40" y1="915.00" x2="362.40" y2="920.50" stroke="#111" stroke-width="1.6" />
<text x="362.40" y="932.10" font-size="11.4" font-weight="bold" font-style="normal" text-anchor="middle" fill="#231f20" >100</text>
<line x1="419.60" y1="915.00" x2="419.60" y2="920.50" stroke="#111" stroke-width="1.6" />
<text x="419.60" y="932.10" font-size="11.4" font-weight="bold" font-style="normal" text-anchor="middle" fill="#231f20" >150</text>
<line x1="476.70" y1="915.00" x2="476.70" y2="920.50" stroke="#111" stroke-width="1.6" />
<text x="476.70" y="932.10" font-size="11.4" font-weight="bold" font-style="normal" text-anchor="middle" fill="#231f20" >200</text>
<text x="364.70" y="951.90" font-size="12.45" font-weight="bold" font-style="normal" text-anchor="middle" fill="#231f20" >PFI (Months)</text>
<text transform="translate(223.60,843.60) rotate(-90)" font-size="12.85" font-weight="bold" text-anchor="middle" fill="#231f20" >Probability of Survival</text>
<text x="261.20" y="904.20" font-size="12.6" font-weight="normal" font-style="normal" text-anchor="start" fill="#231f20" >Log rank p=0.003</text>
<line x1="331.20" y1="773.90" x2="348.80" y2="773.90" stroke="#2150a8" stroke-width="2" />
<line x1="340.00" y1="771.60" x2="340.00" y2="774.50" stroke="#2150a8" stroke-width="1.6" />
<line x1="331.20" y1="789.20" x2="348.80" y2="789.20" stroke="#e83a3a" stroke-width="2" />
<line x1="340.00" y1="786.90" x2="340.00" y2="789.80" stroke="#e83a3a" stroke-width="1.6" />
<text x="351.3" y="777.5" font-size="10.2" fill="#231f20" textLength="148" lengthAdjust="spacingAndGlyphs">Low KBTBD11 IHC Score (n=41)</text>
<text x="351.3" y="792.8" font-size="10.2" fill="#231f20" textLength="148.5" lengthAdjust="spacingAndGlyphs">High KBTBD11 IHC Score (n=41)</text>
<polyline points="248.03,776.42 256.42,776.42 256.42,778.25 285.62,778.25 285.62,782.63 288.18,782.63 288.18,787.37 312.99,787.37 312.99,792.12 314.82,792.12 314.82,796.50 338.54,796.50 338.54,801.97 345.84,801.97 345.84,808.18 411.53,808.18" fill="none" stroke="#e83a3a" stroke-width="2.0" stroke-linejoin="round" stroke-linejoin="miter"/>
<polyline points="248.03,776.42 260.07,776.42 260.07,780.80 261.90,780.80 261.90,789.20 263.72,789.20 263.72,797.23 274.67,797.23 274.67,801.97 276.50,801.97 276.50,805.62 280.15,805.62 280.15,808.18 283.07,808.18 283.07,811.09 285.62,811.09 285.62,814.74 291.09,814.74 291.09,819.12 293.28,819.12 293.28,822.04 300.22,822.04 300.22,826.42 309.34,826.42 309.34,829.34 316.64,829.34 316.64,835.55 345.84,835.55 345.84,840.29 348.76,840.29 348.76,843.94 356.79,843.94 356.79,849.42 379.78,849.42 379.78,860.36 402.41,860.36 402.41,887.74 413.36,887.74" fill="none" stroke="#2150a8" stroke-width="2.0" stroke-linejoin="round" stroke-linejoin="miter"/>
<line x1="265.55" y1="774.12" x2="265.55" y2="776.42" stroke="#e83a3a" stroke-width="1.3" />
<line x1="269.20" y1="774.12" x2="269.20" y2="776.42" stroke="#e83a3a" stroke-width="1.3" />
<line x1="274.67" y1="774.12" x2="274.67" y2="776.42" stroke="#e83a3a" stroke-width="1.3" />
<line x1="279.42" y1="774.12" x2="279.42" y2="776.42" stroke="#e83a3a" stroke-width="1.3" />
<line x1="291.09" y1="785.07" x2="291.09" y2="787.37" stroke="#e83a3a" stroke-width="1.3" />
<line x1="294.74" y1="785.07" x2="294.74" y2="787.37" stroke="#e83a3a" stroke-width="1.3" />
<line x1="322.12" y1="794.20" x2="322.12" y2="796.50" stroke="#e83a3a" stroke-width="1.3" />
<line x1="329.42" y1="794.20" x2="329.42" y2="796.50" stroke="#e83a3a" stroke-width="1.3" />
<line x1="351.31" y1="805.88" x2="351.31" y2="808.18" stroke="#e83a3a" stroke-width="1.3" />
<line x1="360.44" y1="805.88" x2="360.44" y2="808.18" stroke="#e83a3a" stroke-width="1.3" />
<line x1="365.91" y1="805.88" x2="365.91" y2="808.18" stroke="#e83a3a" stroke-width="1.3" />
<line x1="375.04" y1="805.88" x2="375.04" y2="808.18" stroke="#e83a3a" stroke-width="1.3" />
<line x1="378.69" y1="805.88" x2="378.69" y2="808.18" stroke="#e83a3a" stroke-width="1.3" />
<line x1="382.34" y1="805.88" x2="382.34" y2="808.18" stroke="#e83a3a" stroke-width="1.3" />
<line x1="393.28" y1="805.88" x2="393.28" y2="808.18" stroke="#e83a3a" stroke-width="1.3" />
<line x1="402.41" y1="805.88" x2="402.41" y2="808.18" stroke="#e83a3a" stroke-width="1.3" />
<line x1="411.53" y1="805.88" x2="411.53" y2="808.18" stroke="#e83a3a" stroke-width="1.3" />
<line x1="276.50" y1="803.32" x2="276.50" y2="805.62" stroke="#2150a8" stroke-width="1.3" />
<line x1="283.07" y1="808.79" x2="283.07" y2="811.09" stroke="#2150a8" stroke-width="1.3" />
<line x1="296.57" y1="819.74" x2="296.57" y2="822.04" stroke="#2150a8" stroke-width="1.3" />
<line x1="314.82" y1="827.04" x2="314.82" y2="829.34" stroke="#2150a8" stroke-width="1.3" />
<line x1="335.62" y1="833.25" x2="335.62" y2="835.55" stroke="#2150a8" stroke-width="1.3" />
<line x1="353.14" y1="841.64" x2="353.14" y2="843.94" stroke="#2150a8" stroke-width="1.3" />
<line x1="364.09" y1="847.12" x2="364.09" y2="849.42" stroke="#2150a8" stroke-width="1.3" />
<line x1="369.56" y1="847.12" x2="369.56" y2="849.42" stroke="#2150a8" stroke-width="1.3" />
<line x1="375.04" y1="847.12" x2="375.04" y2="849.42" stroke="#2150a8" stroke-width="1.3" />
<line x1="387.81" y1="858.06" x2="387.81" y2="860.36" stroke="#2150a8" stroke-width="1.3" />
<line x1="395.11" y1="858.06" x2="395.11" y2="860.36" stroke="#2150a8" stroke-width="1.3" />
<line x1="413.36" y1="885.44" x2="413.36" y2="887.74" stroke="#2150a8" stroke-width="1.3" />
<text x="486.80" y="756.50" font-size="12.5" font-weight="normal" font-style="normal" text-anchor="start" fill="#231f20" >I</text>
<text x="554.80" y="762.80" font-size="14.2" font-weight="bold" font-style="normal" text-anchor="start" fill="#231f20" >FDUSCC Cohort</text>
<line x1="541.30" y1="774.70" x2="541.30" y2="921.00" stroke="#2b2b2b" stroke-width="1.3" />
<line x1="534.80" y1="920.40" x2="655.80" y2="920.40" stroke="#2b2b2b" stroke-width="1.3" />
<line x1="545" y1="920.4" x2="655.8" y2="920.4" stroke="#222" stroke-width="2.2" stroke-dasharray="0.8,3"/>
<text x="531.00" y="924.40" font-size="11.3" font-weight="bold" font-style="normal" text-anchor="end" fill="#231f20" >0</text>
<line x1="535.40" y1="884.12" x2="541.30" y2="884.12" stroke="#2b2b2b" stroke-width="1.3" />
<text x="531.00" y="888.12" font-size="11.3" font-weight="bold" font-style="normal" text-anchor="end" fill="#231f20" >1</text>
<line x1="535.40" y1="847.84" x2="541.30" y2="847.84" stroke="#2b2b2b" stroke-width="1.3" />
<text x="531.00" y="851.84" font-size="11.3" font-weight="bold" font-style="normal" text-anchor="end" fill="#231f20" >2</text>
<line x1="535.40" y1="811.56" x2="541.30" y2="811.56" stroke="#2b2b2b" stroke-width="1.3" />
<text x="531.00" y="815.56" font-size="11.3" font-weight="bold" font-style="normal" text-anchor="end" fill="#231f20" >3</text>
<line x1="535.40" y1="775.28" x2="541.30" y2="775.28" stroke="#2b2b2b" stroke-width="1.3" />
<text x="531.00" y="779.28" font-size="11.3" font-weight="bold" font-style="normal" text-anchor="end" fill="#231f20" >4</text>
<line x1="573.60" y1="920.40" x2="573.60" y2="925.40" stroke="#2b2b2b" stroke-width="1.3" />
<text x="573.60" y="937.30" font-size="11.5" font-weight="bold" font-style="normal" text-anchor="middle" fill="#231f20" >T1+2</text>
<line x1="622.70" y1="920.40" x2="622.70" y2="925.40" stroke="#2b2b2b" stroke-width="1.3" />
<text x="622.70" y="937.30" font-size="11.5" font-weight="bold" font-style="normal" text-anchor="middle" fill="#231f20" >T3+4</text>
<text transform="translate(520.40,851.50) rotate(-90)" font-size="11.67" font-weight="bold" text-anchor="middle" fill="#231f20" >KBTBD11 IHC Score</text>
<polyline points="573.60,802.30 573.60,793.30 622.70,793.30 622.70,825.30" fill="none" stroke="#333" stroke-width="1.2" stroke-linejoin="round" />
<text x="596.10" y="790.50" font-size="7.5" font-weight="normal" font-style="normal" text-anchor="middle" fill="#231f20" >*</text>
<circle cx="570.44" cy="811.97" r="1.6" fill="#3a56b0"/><circle cx="574.09" cy="811.97" r="1.6" fill="#3a56b0"/><circle cx="577.74" cy="811.97" r="1.6" fill="#3a56b0"/><circle cx="574.09" cy="822.63" r="1.6" fill="#3a56b0"/><circle cx="570.44" cy="826.57" r="1.6" fill="#3a56b0"/><circle cx="577.74" cy="826.57" r="1.6" fill="#3a56b0"/><circle cx="570.44" cy="830.22" r="1.6" fill="#3a56b0"/><circle cx="577.74" cy="830.22" r="1.6" fill="#3a56b0"/><circle cx="566.79" cy="833.87" r="1.6" fill="#3a56b0"/><circle cx="570.44" cy="833.87" r="1.6" fill="#3a56b0"/><circle cx="574.09" cy="833.87" r="1.6" fill="#3a56b0"/><circle cx="577.74" cy="833.87" r="1.6" fill="#3a56b0"/><circle cx="581.39" cy="833.87" r="1.6" fill="#3a56b0"/><circle cx="570.44" cy="844.09" r="1.6" fill="#3a56b0"/><circle cx="574.09" cy="844.09" r="1.6" fill="#3a56b0"/><circle cx="559.49" cy="847.88" r="1.6" fill="#3a56b0"/><circle cx="563.14" cy="847.88" r="1.6" fill="#3a56b0"/><circle cx="566.79" cy="847.88" r="1.6" fill="#3a56b0"/><circle cx="570.44" cy="847.88" r="1.6" fill="#3a56b0"/><circle cx="574.09" cy="847.88" r="1.6" fill="#3a56b0"/><circle cx="577.74" cy="847.88" r="1.6" fill="#3a56b0"/><circle cx="581.39" cy="847.88" r="1.6" fill="#3a56b0"/><circle cx="588.69" cy="847.88" r="1.6" fill="#3a56b0"/><circle cx="570.44" cy="855.18" r="1.6" fill="#3a56b0"/><circle cx="577.74" cy="855.18" r="1.6" fill="#3a56b0"/><circle cx="574.09" cy="862.48" r="1.6" fill="#3a56b0"/><circle cx="577.74" cy="862.48" r="1.6" fill="#3a56b0"/><circle cx="574.09" cy="866.42" r="1.6" fill="#3a56b0"/><circle cx="566.79" cy="876.93" r="1.6" fill="#3a56b0"/><circle cx="574.09" cy="876.93" r="1.6" fill="#3a56b0"/><circle cx="577.74" cy="876.93" r="1.6" fill="#3a56b0"/><circle cx="563.14" cy="880.58" r="1.6" fill="#3a56b0"/><circle cx="570.44" cy="880.58" r="1.6" fill="#3a56b0"/><circle cx="577.74" cy="880.58" r="1.6" fill="#3a56b0"/><circle cx="581.39" cy="880.58" r="1.6" fill="#3a56b0"/><circle cx="563.14" cy="884.23" r="1.6" fill="#3a56b0"/><circle cx="566.79" cy="884.23" r="1.6" fill="#3a56b0"/><circle cx="570.44" cy="884.23" r="1.6" fill="#3a56b0"/><circle cx="574.09" cy="884.23" r="1.6" fill="#3a56b0"/><circle cx="577.74" cy="884.23" r="1.6" fill="#3a56b0"/><circle cx="581.39" cy="884.23" r="1.6" fill="#3a56b0"/><circle cx="585.04" cy="884.23" r="1.6" fill="#3a56b0"/><circle cx="574.09" cy="887.88" r="1.6" fill="#3a56b0"/><circle cx="570.44" cy="891.53" r="1.6" fill="#3a56b0"/><circle cx="574.09" cy="893.43" r="1.6" fill="#3a56b0"/><circle cx="570.44" cy="898.83" r="1.6" fill="#3a56b0"/><circle cx="577.74" cy="898.83" r="1.6" fill="#3a56b0"/><circle cx="570.44" cy="902.19" r="1.6" fill="#3a56b0"/><circle cx="574.09" cy="905.84" r="1.6" fill="#3a56b0"/><circle cx="574.09" cy="913.14" r="1.6" fill="#3a56b0"/><circle cx="559.49" cy="920.44" r="1.6" fill="#3a56b0"/><circle cx="563.14" cy="920.44" r="1.6" fill="#3a56b0"/><circle cx="566.79" cy="920.44" r="1.6" fill="#3a56b0"/><circle cx="570.44" cy="920.44" r="1.6" fill="#3a56b0"/><circle cx="574.09" cy="920.44" r="1.6" fill="#3a56b0"/><circle cx="577.74" cy="920.44" r="1.6" fill="#3a56b0"/><circle cx="581.39" cy="920.44" r="1.6" fill="#3a56b0"/><circle cx="585.04" cy="920.44" r="1.6" fill="#3a56b0"/><circle cx="588.69" cy="920.44" r="1.6" fill="#3a56b0"/><circle cx="613.94" cy="847.88" r="1.6" fill="#e8202a"/><circle cx="619.78" cy="847.88" r="1.6" fill="#e8202a"/><circle cx="631.46" cy="847.88" r="1.6" fill="#e8202a"/><circle cx="619.78" cy="862.48" r="1.6" fill="#e8202a"/><circle cx="625.62" cy="862.48" r="1.6" fill="#e8202a"/><circle cx="619.78" cy="866.42" r="1.6" fill="#e8202a"/><circle cx="613.94" cy="884.23" r="1.6" fill="#e8202a"/><circle cx="619.78" cy="884.23" r="1.6" fill="#e8202a"/><circle cx="625.62" cy="884.23" r="1.6" fill="#e8202a"/><circle cx="631.46" cy="884.23" r="1.6" fill="#e8202a"/><circle cx="625.62" cy="887.88" r="1.6" fill="#e8202a"/><circle cx="625.62" cy="891.53" r="1.6" fill="#e8202a"/><circle cx="631.46" cy="891.53" r="1.6" fill="#e8202a"/><circle cx="619.78" cy="893.43" r="1.6" fill="#e8202a"/><circle cx="619.78" cy="904.09" r="1.6" fill="#e8202a"/><circle cx="608.39" cy="920.44" r="1.6" fill="#e8202a"/><circle cx="613.94" cy="920.44" r="1.6" fill="#e8202a"/><circle cx="619.78" cy="920.44" r="1.6" fill="#e8202a"/><circle cx="625.62" cy="920.44" r="1.6" fill="#e8202a"/><circle cx="631.46" cy="920.44" r="1.6" fill="#e8202a"/><circle cx="637.30" cy="920.44" r="1.6" fill="#e8202a"/>
<line x1="574.10" y1="838.20" x2="574.10" y2="904.10" stroke="#444" stroke-width="1.3" />
<line x1="566.00" y1="838.20" x2="581.80" y2="838.20" stroke="#333" stroke-width="1.3" />
<line x1="566.00" y1="904.10" x2="581.80" y2="904.10" stroke="#333" stroke-width="1.3" />
<line x1="558.00" y1="871.10" x2="590.10" y2="871.10" stroke="#111" stroke-width="2.6" />
<line x1="622.70" y1="863.10" x2="622.70" y2="914.20" stroke="#444" stroke-width="1.3" />
<line x1="615.00" y1="863.10" x2="630.70" y2="863.10" stroke="#333" stroke-width="1.3" />
<line x1="615.00" y1="914.20" x2="630.70" y2="914.20" stroke="#333" stroke-width="1.3" />
<line x1="607.00" y1="888.60" x2="638.80" y2="888.60" stroke="#111" stroke-width="2.6" />
</svg>
</body></html>
